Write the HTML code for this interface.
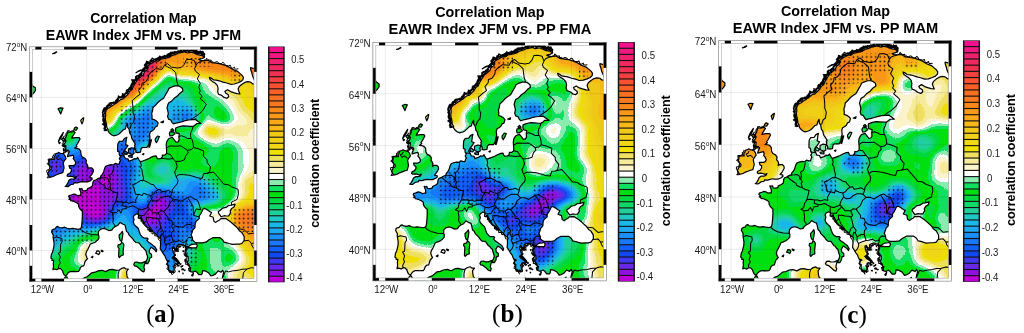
<!DOCTYPE html>
<html><head><meta charset="utf-8"><title>Correlation Maps</title><style>
    html,body{margin:0;padding:0;background:#fff;}
    svg{display:block}
    .t1{font-family:"Liberation Sans",Arial,sans-serif;font-weight:bold;font-size:14px;fill:#000}
    .t2{font-size:14.25px}
    .ax{font-family:"Liberation Sans",Arial,sans-serif;font-size:9.6px;fill:#1a1a1a}
    .deg{font-size:6.5px}
    .cb{font-family:"Liberation Sans",Arial,sans-serif;font-size:9.4px;fill:#1a1a1a}
    .cbl{font-family:"Liberation Sans",Arial,sans-serif;font-weight:bold;font-size:12.35px;fill:#000}
    .pl{font-family:"Liberation Serif","Times New Roman",serif;font-size:24.5px;fill:#000}
    </style></head>
<body><svg width="1024" height="333" viewBox="0 0 1024 333">
<defs><clipPath id="mapclip"><rect x="29.6" y="47" width="227" height="234.4"/></clipPath><clipPath id="landclip"><path d="M66.6,275.1 L65.6,275.9 L64.1,274.7 L63.0,272.5 L62.6,270.9 L60.7,268.7 L58.8,268.6 L56.9,269.8 L54.3,269.0 L52.9,269.6 L53.5,266.4 L53.3,263.3 L53.7,260.4 L52.0,260.4 L52.0,258.8 L50.9,258.3 L51.2,256.2 L51.4,254.5 L52.6,252.1 L53.2,249.5 L53.9,246.7 L54.1,243.2 L53.5,239.7 L53.1,237.1 L53.3,235.2 L52.6,233.9 L51.6,232.0 L52.0,230.1 L53.1,229.4 L55.0,228.9 L56.5,226.9 L57.7,226.4 L59.2,227.5 L62.2,227.9 L64.7,227.2 L67.1,228.3 L69.8,228.8 L72.4,228.4 L74.3,228.7 L75.8,228.8 L78.1,229.3 L80.0,228.9 L81.1,228.0 L81.7,225.0 L82.1,220.8 L82.4,215.4 L82.3,212.9 L82.4,211.3 L80.0,209.0 L78.7,206.8 L78.5,204.2 L76.6,202.7 L73.9,201.4 L70.9,200.7 L70.2,199.8 L68.9,199.2 L70.5,198.8 L69.4,197.5 L68.7,196.9 L69.0,195.6 L71.3,195.0 L73.6,194.0 L75.5,194.4 L77.3,195.6 L79.2,195.3 L80.9,195.3 L80.7,191.8 L79.8,189.9 L79.4,188.5 L80.7,188.9 L82.0,188.6 L82.6,190.5 L84.9,190.8 L87.2,190.2 L87.6,188.6 L90.6,187.2 L92.5,185.7 L92.9,182.2 L93.8,180.6 L95.7,180.0 L98.5,178.3 L100.4,177.8 L100.8,175.9 L102.3,174.3 L103.6,172.0 L104.4,169.2 L104.8,167.9 L105.7,166.3 L108.0,165.3 L111.0,164.7 L113.3,165.0 L115.2,163.4 L117.4,164.1 L119.1,164.1 L119.7,161.9 L120.5,160.5 L119.3,158.6 L120.5,156.7 L119.3,154.8 L119.1,151.9 L117.6,151.3 L117.6,147.8 L117.8,144.0 L119.3,141.4 L122.7,141.1 L124.4,138.5 L126.9,137.3 L126.3,139.2 L126.0,142.4 L125.6,144.6 L128.0,145.5 L126.7,147.5 L125.4,149.4 L124.1,150.7 L123.5,151.9 L122.7,153.8 L123.9,155.4 L124.6,157.0 L125.4,158.6 L128.0,158.9 L128.8,161.2 L130.7,160.5 L132.6,159.9 L134.1,158.6 L136.4,158.9 L137.7,157.4 L138.6,159.3 L139.8,161.2 L141.3,161.5 L144.7,160.2 L148.1,158.9 L150.7,157.4 L154.1,156.1 L156.2,155.9 L157.0,158.0 L157.9,158.9 L160.6,158.6 L162.3,157.0 L162.3,155.1 L164.7,155.1 L166.6,153.5 L166.6,150.0 L166.4,147.8 L166.2,145.2 L166.6,142.0 L167.9,139.8 L168.9,138.5 L172.3,137.3 L174.2,139.8 L176.1,142.2 L178.0,141.8 L179.1,140.1 L178.9,136.6 L179.3,133.7 L176.1,132.8 L175.5,130.6 L175.7,128.0 L178.3,127.0 L180.4,126.4 L183.3,125.8 L187.0,126.1 L190.8,126.4 L193.1,126.4 L195.4,124.8 L196.9,123.5 L201.0,123.5 L198.8,121.9 L195.4,119.4 L192.0,119.7 L188.6,120.0 L185.2,120.7 L181.4,121.8 L178.3,122.6 L175.7,123.2 L173.4,123.9 L171.9,122.3 L170.8,120.0 L168.5,119.1 L167.6,116.5 L168.3,113.3 L167.6,110.1 L167.0,107.9 L167.8,105.0 L168.5,103.1 L171.5,101.2 L174.2,98.3 L177.6,95.8 L179.9,93.2 L182.9,91.0 L182.5,88.4 L179.9,86.5 L178.2,85.9 L174.9,85.9 L171.2,87.2 L168.9,88.4 L167.8,91.0 L166.6,92.9 L165.5,94.8 L163.6,98.3 L160.6,100.3 L157.9,102.5 L156.0,104.7 L153.0,107.6 L152.6,110.8 L151.7,113.3 L152.1,116.5 L151.9,118.8 L154.5,119.7 L156.8,121.3 L158.1,122.9 L157.2,126.1 L155.3,127.0 L154.1,129.3 L152.2,130.9 L150.4,131.8 L149.6,134.4 L150.0,138.2 L149.2,140.8 L148.8,144.3 L146.9,147.5 L144.7,147.5 L142.4,147.5 L141.1,148.7 L140.5,152.2 L137.5,152.6 L135.6,152.2 L136.0,151.0 L135.6,149.4 L134.5,147.8 L135.0,146.8 L134.5,145.2 L135.4,144.3 L133.7,141.4 L132.2,139.2 L131.6,137.6 L131.1,135.0 L129.7,133.1 L129.2,129.9 L128.8,128.6 L127.7,127.4 L127.5,123.5 L126.1,126.1 L125.4,129.0 L123.5,129.6 L121.6,131.5 L119.3,133.7 L117.1,135.0 L113.7,135.8 L111.8,135.0 L109.5,133.1 L108.0,130.9 L108.0,129.3 L106.8,127.4 L106.5,124.8 L106.1,122.3 L105.5,120.3 L105.3,117.8 L105.7,115.2 L105.5,112.7 L106.1,110.5 L107.2,108.9 L109.9,107.3 L112.5,105.4 L114.8,104.1 L116.1,103.1 L118.6,101.2 L120.5,99.6 L123.5,98.7 L125.4,96.7 L128.0,94.2 L129.5,91.6 L132.2,89.1 L133.3,86.5 L134.8,84.0 L136.4,81.4 L137.9,78.9 L140.5,77.0 L141.3,76.3 L143.5,74.4 L144.3,71.9 L146.9,69.9 L148.1,68.0 L147.3,66.1 L150.0,64.2 L153.0,62.3 L156.0,60.7 L158.3,61.0 L160.9,59.1 L164.0,58.5 L167.0,57.8 L170.0,56.9 L172.3,55.3 L176.1,54.3 L178.7,53.0 L182.1,52.4 L184.4,51.8 L187.8,53.0 L191.2,52.1 L193.9,53.0 L197.6,54.6 L201.4,55.3 L204.5,56.9 L202.2,58.5 L198.8,59.4 L200.7,60.4 L204.1,60.7 L207.9,60.1 L211.6,62.6 L216.2,63.2 L220.3,63.9 L224.9,65.2 L229.0,67.1 L232.4,69.3 L235.9,70.6 L237.4,71.2 L239.6,73.1 L241.9,75.1 L243.4,77.3 L243.0,79.5 L241.1,81.4 L238.1,82.7 L234.3,84.0 L230.6,84.3 L226.8,83.0 L223.0,82.1 L219.2,80.8 L216.2,80.2 L213.5,79.8 L211.3,78.2 L209.4,77.3 L210.1,79.5 L212.4,81.4 L214.7,82.7 L217.3,85.3 L218.1,88.4 L217.7,91.6 L218.4,94.2 L221.1,95.1 L224.1,97.4 L226.8,98.3 L228.7,96.7 L228.3,94.8 L225.6,92.9 L224.9,91.3 L227.5,89.7 L230.6,91.6 L233.6,92.6 L237.0,93.6 L240.0,93.9 L238.9,91.6 L238.1,89.1 L239.3,86.5 L241.9,84.3 L244.9,82.4 L247.6,81.7 L250.6,82.1 L252.9,84.0 L254.4,84.0 L255.1,81.4 L253.6,78.2 L252.5,75.7 L251.7,72.5 L250.6,69.3 L250.6,67.7 L253.3,68.4 L259.3,69.0 L259.3,288.8 L222.6,288.8 L222.6,282.4 L222.1,279.1 L222.6,276.7 L223.7,272.2 L222.6,270.3 L221.1,272.2 L218.1,270.9 L215.4,274.1 L212.8,275.4 L210.9,276.0 L208.6,272.8 L205.2,270.9 L202.6,270.6 L202.2,273.5 L201.4,274.7 L198.8,274.7 L196.9,272.2 L195.0,270.9 L192.7,272.2 L190.5,271.6 L190.1,269.6 L190.8,267.7 L189.7,267.1 L188.9,264.5 L186.7,262.0 L188.2,260.7 L188.2,258.8 L188.2,256.9 L186.7,255.0 L185.5,253.7 L185.9,251.1 L186.7,249.5 L185.9,250.2 L187.0,247.6 L188.2,246.7 L185.9,246.4 L185.2,245.7 L183.3,245.1 L181.4,244.4 L179.1,244.8 L176.8,246.0 L176.8,248.6 L178.7,249.2 L176.5,249.5 L177.2,250.8 L175.1,250.8 L174.9,248.9 L173.4,246.7 L172.3,247.6 L172.7,250.5 L173.6,253.1 L174.8,255.0 L173.4,256.6 L172.1,257.5 L173.8,259.4 L176.1,261.0 L177.8,262.3 L177.8,265.2 L175.9,263.6 L174.4,264.2 L174.6,265.8 L173.2,266.1 L174.2,268.7 L173.6,273.1 L172.1,270.9 L171.5,273.1 L170.4,270.6 L168.9,270.9 L168.5,267.7 L168.7,265.5 L166.8,264.2 L167.8,262.0 L169.3,261.0 L166.6,260.1 L165.5,257.5 L165.1,256.2 L163.2,253.7 L162.5,252.4 L160.2,248.6 L160.4,246.7 L160.6,244.1 L160.4,242.2 L160.9,239.0 L159.1,237.7 L156.8,235.2 L155.3,233.6 L152.6,231.4 L149.2,228.2 L146.9,226.9 L144.7,224.3 L143.2,221.2 L141.7,218.6 L141.3,216.7 L139.8,218.6 L138.2,218.0 L138.6,214.8 L136.7,213.8 L134.1,215.4 L133.3,217.3 L134.1,219.2 L133.3,221.8 L134.1,224.3 L136.0,226.3 L138.2,228.2 L139.4,232.0 L140.5,234.9 L142.4,237.1 L144.1,238.1 L147.3,238.1 L148.1,239.0 L146.9,240.3 L148.5,242.2 L150.7,243.5 L153.0,245.4 L154.9,246.7 L156.8,249.9 L156.2,251.8 L154.9,249.9 L153.0,248.6 L151.1,247.3 L149.2,250.5 L149.6,253.1 L151.5,254.3 L151.7,257.2 L149.6,258.2 L149.4,260.7 L147.7,263.6 L146.0,263.6 L146.0,261.7 L146.9,259.8 L147.7,257.2 L146.6,253.7 L145.8,250.5 L144.3,249.2 L143.2,247.6 L141.7,246.7 L140.9,245.4 L139.0,242.8 L136.0,242.5 L134.1,240.9 L133.0,239.0 L131.1,237.1 L129.2,235.2 L128.0,232.6 L126.5,231.4 L125.8,228.2 L125.0,225.0 L123.1,224.3 L120.1,222.4 L117.8,225.3 L115.2,226.6 L113.3,227.9 L111.8,230.1 L109.1,230.7 L106.8,229.4 L105.0,228.8 L103.1,228.5 L100.4,229.4 L98.5,231.4 L98.3,234.6 L98.9,235.8 L98.9,238.4 L97.4,240.3 L95.1,242.2 L92.5,243.2 L90.2,244.1 L89.4,246.0 L87.9,249.2 L86.4,251.8 L85.7,254.3 L86.8,257.5 L87.6,258.5 L85.3,261.0 L84.5,263.3 L83.8,265.8 L81.9,266.1 L80.4,267.7 L79.4,270.3 L78.5,271.4 L75.8,271.6 L73.6,271.4 L70.2,271.6 L67.9,273.1Z M62.2,288.8 L63.0,282.4 L64.1,279.2 L64.9,277.3 L66.8,276.7 L68.6,280.5 L71.7,281.1 L75.5,280.8 L78.5,281.8 L81.1,280.5 L84.5,277.6 L87.2,276.7 L91.7,272.8 L95.1,272.2 L98.1,270.9 L101.9,270.3 L105.7,271.6 L109.5,269.6 L112.5,269.3 L116.3,270.3 L119.3,270.0 L121.6,268.4 L124.3,267.7 L125.8,269.0 L128.4,269.0 L126.5,271.6 L126.9,275.4 L127.3,277.3 L128.4,278.6 L128.8,281.1 L128.0,283.0 L127.7,288.8Z M65.2,186.4 L67.9,186.7 L70.9,184.5 L73.6,184.1 L74.3,182.6 L77.3,182.9 L79.6,182.2 L81.9,181.6 L83.8,181.9 L87.6,181.9 L90.6,180.6 L92.1,179.4 L92.1,178.1 L89.4,177.4 L90.2,176.5 L91.7,174.6 L93.4,171.4 L93.2,169.5 L91.7,167.9 L88.7,167.9 L87.6,168.8 L87.9,166.3 L87.2,164.4 L86.0,163.1 L86.4,160.5 L84.9,158.3 L82.3,157.0 L81.1,154.8 L80.7,151.0 L79.2,149.1 L77.0,148.4 L74.7,148.1 L77.0,146.5 L76.2,145.5 L77.7,143.3 L78.9,141.1 L80.0,138.9 L79.2,137.6 L75.5,137.6 L71.7,138.2 L72.4,136.6 L75.1,132.5 L73.9,131.5 L70.2,132.2 L67.9,131.8 L66.8,134.4 L66.4,136.3 L64.9,138.5 L66.0,140.8 L64.9,143.3 L63.3,144.0 L66.0,145.9 L65.6,149.1 L65.0,152.6 L66.2,150.0 L68.3,150.3 L69.4,151.6 L67.9,154.8 L67.5,156.7 L70.2,155.8 L73.2,155.1 L73.9,157.4 L73.2,158.6 L74.7,160.5 L75.8,162.8 L75.1,164.7 L73.2,165.6 L70.9,165.6 L69.0,165.6 L69.8,168.2 L71.3,168.8 L71.3,171.1 L69.8,173.3 L67.5,174.3 L67.1,175.9 L68.3,176.5 L70.5,176.2 L72.4,176.5 L74.7,177.4 L76.6,176.5 L75.5,178.4 L73.6,179.0 L70.9,179.0 L69.0,180.3 L67.9,182.9 L66.4,185.4Z M62.8,172.7 L60.3,173.3 L58.0,174.3 L55.4,175.2 L53.1,176.5 L49.7,177.4 L48.2,174.9 L47.8,173.3 L49.3,170.1 L50.9,169.5 L51.2,167.6 L49.3,165.6 L48.6,163.7 L49.3,161.2 L49.0,159.6 L52.0,159.3 L54.3,159.3 L53.9,157.0 L55.0,155.8 L55.4,153.8 L57.7,153.2 L58.8,152.4 L60.7,153.5 L63.3,153.5 L65.2,156.1 L66.0,158.6 L64.1,161.2 L63.2,163.1 L63.7,165.6 L64.1,167.9 L63.3,170.8Z M26.3,97.4 L30.1,96.1 L31.9,94.8 L33.8,92.9 L35.5,90.4 L35.4,87.8 L32.7,85.9 L31.6,83.7 L30.1,82.1 L26.3,81.4Z M52.6,53.7 L54.3,53.0 L56.5,51.8 L56.7,52.1 L54.6,53.4Z M58.0,108.9 L60.3,107.9 L63.0,108.2 L61.8,110.8 L60.7,114.0 L59.2,110.8Z M81.9,123.9 L83.0,121.6 L83.8,117.8 L82.6,118.4 L80.7,120.3 L81.5,122.9Z M73.9,129.9 L76.2,130.2 L77.7,128.0 L75.8,127.0 L74.3,128.3Z M58.4,141.4 L59.6,138.2 L60.7,136.3 L63.3,132.5 L62.2,135.7 L59.9,139.5Z M61.5,139.2 L63.3,137.6 L65.2,140.4 L63.3,141.1Z M95.7,253.4 L97.0,250.8 L98.9,251.1 L99.9,252.4 L98.9,254.6 L97.2,253.7Z M101.2,250.2 L103.1,251.1 L102.7,251.8 L101.4,251.1Z M91.3,257.2 L92.9,256.2 L92.5,257.8Z M122.4,231.4 L122.9,233.9 L122.4,237.7 L121.6,241.6 L120.1,240.3 L119.3,237.7 L119.1,235.2 L120.8,233.3Z M122.7,242.8 L123.9,244.8 L123.5,247.9 L123.1,251.1 L123.3,255.0 L121.2,255.6 L119.3,257.5 L118.6,256.2 L118.8,252.4 L119.0,248.6 L117.8,246.7 L118.2,244.8 L120.5,244.4 L121.6,242.5Z M133.7,264.5 L134.8,262.3 L137.1,262.0 L139.0,262.9 L142.0,262.9 L145.6,261.3 L144.3,265.2 L143.9,267.7 L144.7,269.6 L143.9,271.9 L141.7,270.9 L139.8,269.0 L136.7,266.4 L134.5,265.8Z M175.7,280.5 L177.6,278.9 L179.5,279.8 L183.3,280.2 L186.3,280.8 L185.9,282.4 L183.3,282.7 L180.6,282.7 L177.6,281.1 L175.7,281.1Z M209.0,282.4 L211.3,281.4 L213.5,280.2 L215.8,279.5 L217.7,277.9 L215.4,282.4 L213.9,282.7 L211.6,285.0 L209.4,284.0Z M191.6,275.4 L193.5,273.1 L192.7,276.0Z M173.8,257.2 L174.9,258.8 L177.6,261.0 L179.7,263.3 L178.3,261.0 L176.1,258.5 L174.2,256.9Z M184.6,255.0 L186.3,254.3 L187.4,256.6 L185.5,256.2Z M184.8,259.8 L185.7,259.4 L185.2,262.0Z M187.4,264.5 L188.9,264.9 L188.2,265.5Z M155.3,138.9 L157.5,136.0 L159.4,136.6 L157.9,140.1 L156.4,142.7 L155.3,140.8Z M148.8,147.1 L149.6,147.1 L151.5,139.8 L150.4,140.1Z M169.3,133.7 L170.0,131.8 L173.8,131.8 L174.9,133.7 L172.3,135.7 L170.0,136.0Z M170.8,129.9 L172.3,128.6 L173.8,130.2 L171.5,131.2Z M128.4,152.2 L129.2,153.5 L132.2,154.8 L134.1,153.5 L133.7,151.0 L134.5,148.4 L131.4,147.8 L128.4,149.1Z M123.7,151.6 L125.4,151.0 L127.7,152.9 L126.9,154.5 L124.6,154.2Z M128.4,155.8 L132.2,155.1 L132.2,157.4 L129.2,157.0Z M142.4,154.2 L143.9,153.5 L143.5,154.8Z M136.0,72.8 L139.8,70.3 L145.4,69.0 L146.6,67.4 L142.0,69.9 L138.2,71.5Z M160.9,122.3 L163.6,121.0 L163.2,122.6Z M182.7,268.7 L183.5,269.0 L183.3,270.0 L182.7,269.6Z M181.8,269.0 L182.3,269.0 L182.1,269.8Z M180.8,266.8 L181.2,266.4 L181.2,267.2Z M182.7,273.1 L183.1,273.1 L183.0,273.8Z M178.7,265.5 L179.1,265.2 L179.0,265.9Z M188.6,268.4 L189.1,268.7 L188.8,269.3Z M188.9,270.6 L190.3,270.3 L189.7,271.2Z M178.7,271.2 L179.5,271.0 L179.3,271.9Z M184.4,270.0 L185.2,270.2 L184.8,270.6Z M182.1,265.8 L182.9,265.5 L182.5,266.4Z M179.9,263.6 L181.0,263.9 L180.4,264.5Z M185.2,260.7 L185.5,261.0 L185.3,261.7Z M182.9,251.1 L183.6,250.8 L183.3,251.8Z M179.9,246.0 L180.4,246.4 L180.1,247.0Z M148.8,229.4 L150.7,229.8 L149.6,230.4Z M149.2,230.7 L151.9,231.0 L150.4,231.7Z M142.8,221.2 L144.3,223.1 L143.5,223.7Z M141.3,218.6 L142.0,219.9 L141.1,221.2Z M62.2,145.2 L64.1,144.6 L64.9,146.2 L63.0,146.5Z M63.3,149.1 L64.1,148.7 L63.7,151.0Z M60.3,142.7 L58.8,142.0 L59.2,143.6Z"/></clipPath><filter id="cm" x="-5%" y="-5%" width="110%" height="110%" color-interpolation-filters="sRGB"><feGaussianBlur stdDeviation="3.60"/><feComponentTransfer><feFuncR type="discrete" tableValues="0.753 0.565 0.408 0.251 0.063 0.063 0.094 0.094 0.125 0.094 0.125 0.125 0.063 0 0 0.063 0.549 1 0.984 0.961 0.941 0.941 0.941 0.941 0.941 0.973 0.973 0.973 0.973 0.973 0.973 0.973 0.973 0.941 0.941 0.941 0.941 0.941 0.941"/><feFuncG type="discrete" tableValues="0 0.063 0.157 0.22 0.282 0.376 0.471 0.565 0.659 0.722 0.784 0.816 0.847 0.847 0.878 0.878 0.925 1 0.953 0.922 0.878 0.878 0.847 0.816 0.784 0.722 0.659 0.596 0.533 0.471 0.439 0.376 0.314 0.251 0.188 0.157 0.125 0.094 0.063"/><feFuncB type="discrete" tableValues="0.847 0.878 0.91 0.941 0.941 0.973 0.973 0.973 0.941 0.91 0.769 0.596 0.408 0.251 0.063 0.376 0.69 1 0.8 0.604 0.376 0 0.094 0.094 0.094 0.094 0.094 0.094 0.094 0.125 0.125 0.157 0.188 0.251 0.314 0.376 0.439 0.502 0.549"/><feFuncA type="linear" slope="0" intercept="1"/></feComponentTransfer><feGaussianBlur stdDeviation="0.45"/></filter><pattern id="dotpat" patternUnits="userSpaceOnUse" x="80.422" y="190.435" width="4.355" height="4.33"><circle cx="2.1775" cy="2.165" r="0.78" fill="#000"/></pattern></defs>
<g transform="matrix(1.0 0 0 1.0 0.000 0.000)">
<text transform="translate(143.4,23.4) scale(1,1.04)" text-anchor="middle" class="t1">Correlation Map</text>
<text transform="translate(143.4,40.2) scale(1,1.06)" text-anchor="middle" class="t1 t2">EAWR Index JFM vs. PP JFM</text>
<g clip-path="url(#mapclip)">
<g clip-path="url(#landclip)">
<g filter="url(#cm)"><path fill="#000000" d="M88 206h5v5h-5zM88 211h10v5h-10zM148 211h5v5h-5z"/><path fill="#010101" d="M88 191h5v5h-5zM78 201h5v5h-5zM88 201h5v5h-5zM158 201h5v5h-5zM83 206h5v5h-5zM93 216h5v5h-5z"/><path fill="#020202" d="M103 176h5v5h-5zM83 191h5v5h-5zM93 191h5v5h-5zM78 196h5v5h-5zM88 196h5v5h-5zM83 201h5v5h-5zM153 206h5v5h-5zM143 211h5v5h-5zM148 216h5v5h-5z"/><path fill="#030303" d="M88 186h5v5h-5zM78 191h5v5h-5zM73 196h5v5h-5zM83 196h5v5h-5zM93 196h5v5h-5zM73 201h5v5h-5zM93 201h5v5h-5zM98 211h5v5h-5zM153 211h5v5h-5z"/><path fill="#040404" d="M108 176h5v5h-5zM103 181h5v5h-5zM83 186h5v5h-5zM93 186h5v5h-5zM153 201h5v5h-5zM93 206h5v5h-5zM148 206h5v5h-5zM143 216h5v5h-5z"/><path fill="#050505" d="M158 196h5v5h-5zM98 206h5v5h-5zM98 216h5v5h-5z"/><path fill="#060606" d="M103 171h5v5h-5zM108 181h5v5h-5zM73 191h5v5h-5zM98 191h5v5h-5zM78 206h5v5h-5zM158 206h5v5h-5zM83 211h5v5h-5z"/><path fill="#070707" d="M108 171h5v5h-5zM98 176h5v5h-5zM98 181h5v5h-5zM98 186h5v5h-5zM98 196h5v5h-5zM68 201h5v5h-5zM98 201h5v5h-5zM163 201h5v5h-5zM88 216h5v5h-5zM153 216h5v5h-5z"/><path fill="#080808" d="M78 171h10v5h-10zM83 181h15v5h-15zM78 186h5v5h-5zM103 206h5v5h-5z"/><path fill="#090909" d="M113 176h5v5h-5zM103 186h5v5h-5zM68 196h5v5h-5zM103 201h5v5h-5zM103 211h5v5h-5z"/><path fill="#0a0a0a" d="M53 161h5v5h-5zM78 166h10v5h-10zM98 171h5v5h-5zM83 176h10v5h-10zM103 191h5v5h-5zM103 196h5v5h-5zM153 196h5v5h-5zM68 206h5v5h-5zM158 211h5v5h-5z"/><path fill="#0b0b0b" d="M53 166h5v5h-5zM93 176h5v5h-5zM113 181h5v5h-5zM68 191h5v5h-5zM108 196h5v5h-5zM163 196h5v5h-5zM73 206h5v5h-5z"/><path fill="#0c0c0c" d="M103 166h10v5h-10zM88 171h5v5h-5zM108 186h5v5h-5zM108 191h5v5h-5zM148 221h5v5h-5z"/><path fill="#0d0d0d" d="M103 151h5v5h-5zM113 171h5v5h-5zM78 176h5v5h-5zM73 186h5v5h-5zM113 196h5v5h-5zM63 206h5v5h-5zM158 216h5v5h-5zM153 221h5v5h-5z"/><path fill="#0e0e0e" d="M78 181h5v5h-5zM118 191h5v5h-5zM108 201h5v5h-5zM163 206h5v5h-5zM103 216h5v5h-5z"/><path fill="#0f0f0f" d="M88 166h5v5h-5zM98 166h5v5h-5zM93 171h5v5h-5zM113 191h5v5h-5zM53 196h5v5h-5zM63 201h5v5h-5zM143 221h5v5h-5z"/><path fill="#101010" d="M83 161h5v5h-5zM73 171h5v5h-5zM113 186h5v5h-5zM143 206h5v5h-5zM138 211h5v5h-5z"/><path fill="#111111" d="M73 166h5v5h-5zM113 166h5v5h-5zM58 196h10v5h-10zM78 211h5v5h-5zM83 216h5v5h-5zM138 216h5v5h-5zM158 221h5v5h-5z"/><path fill="#121212" d="M53 156h5v5h-5zM88 161h5v5h-5zM108 161h5v5h-5zM93 166h5v5h-5zM118 186h5v5h-5zM118 196h5v5h-5zM168 201h5v5h-5z"/><path fill="#131313" d="M108 156h5v5h-5zM118 176h5v5h-5zM118 181h5v5h-5zM68 186h5v5h-5zM63 191h5v5h-5zM163 211h5v5h-5zM153 226h5v5h-5z"/><path fill="#141414" d="M78 161h5v5h-5zM93 161h10v5h-10zM113 161h5v5h-5zM153 191h5v5h-5zM53 201h10v5h-10z"/><path fill="#151515" d="M98 151h5v5h-5zM108 151h5v5h-5zM98 156h10v5h-10zM58 161h5v5h-5zM48 166h5v5h-5zM53 171h5v5h-5zM73 181h5v5h-5zM123 191h5v5h-5zM158 191h5v5h-5z"/><path fill="#161616" d="M48 161h5v5h-5zM103 161h5v5h-5zM118 171h5v5h-5zM108 206h5v5h-5zM63 211h5v5h-5zM163 216h5v5h-5zM148 226h5v5h-5zM158 226h5v5h-5z"/><path fill="#171717" d="M58 166h5v5h-5zM73 176h5v5h-5zM123 186h5v5h-5zM168 196h5v5h-5zM113 201h5v5h-5zM148 201h5v5h-5zM168 206h5v5h-5zM88 221h5v5h-5z"/><path fill="#181818" d="M58 156h5v5h-5zM118 166h5v5h-5zM138 206h5v5h-5zM68 211h5v5h-5zM93 221h5v5h-5z"/><path fill="#191919" d="M113 156h5v5h-5zM73 211h5v5h-5zM163 221h5v5h-5z"/><path fill="#1a1a1a" d="M88 156h10v5h-10zM63 186h5v5h-5zM123 196h5v5h-5zM173 201h5v5h-5zM188 221h10v5h-10z"/><path fill="#1b1b1b" d="M83 156h5v5h-5zM118 161h5v5h-5zM58 171h5v5h-5zM123 181h5v5h-5zM58 191h5v5h-5zM58 206h5v5h-5zM178 206h5v5h-5zM108 211h5v5h-5zM188 216h5v5h-5z"/><path fill="#1c1c1c" d="M48 171h5v5h-5zM163 191h5v5h-5zM173 206h5v5h-5zM168 211h5v5h-5zM183 211h5v5h-5zM98 221h5v5h-5zM138 221h5v5h-5zM153 231h10v5h-10z"/><path fill="#1d1d1d" d="M48 156h5v5h-5zM68 166h5v5h-5zM68 171h5v5h-5zM68 181h5v5h-5zM118 201h5v5h-5zM183 206h5v5h-5zM163 226h5v5h-5zM158 236h10v5h-10zM163 241h5v5h-5z"/><path fill="#1e1e1e" d="M118 156h5v5h-5zM73 161h5v5h-5zM123 166h5v5h-5zM123 171h5v5h-5zM123 176h5v5h-5zM53 191h5v5h-5zM178 201h5v5h-5zM178 211h5v5h-5zM78 216h5v5h-5zM108 216h5v5h-5zM168 216h5v5h-5zM83 221h5v5h-5zM143 226h5v5h-5zM163 231h5v5h-5zM158 241h5v5h-5z"/><path fill="#1f1f1f" d="M68 176h5v5h-5zM168 221h5v5h-5zM168 236h5v5h-5zM158 246h5v5h-5z"/><path fill="#202020" d="M103 146h5v5h-5zM78 156h5v5h-5zM128 166h5v5h-5zM173 211h5v5h-5zM168 226h5v5h-5zM188 226h5v5h-5zM168 231h5v5h-5zM168 241h5v5h-5zM163 246h5v5h-5z"/><path fill="#212121" d="M53 176h5v5h-5zM48 196h5v5h-5zM183 201h5v5h-5zM133 216h5v5h-5zM183 216h5v5h-5z"/><path fill="#222222" d="M108 146h5v5h-5zM68 161h5v5h-5zM123 161h5v5h-5zM18 186h30v5h-30zM58 186h5v5h-5zM128 196h5v5h-5zM173 196h5v5h-5zM133 211h5v5h-5zM193 226h5v5h-5zM148 231h5v5h-5zM153 236h5v5h-5z"/><path fill="#232323" d="M183 116h5v5h-5zM123 146h5v5h-5zM53 151h10v5h-10zM123 151h5v5h-5zM63 161h5v5h-5zM28 166h5v5h-5zM28 171h5v5h-5zM128 171h5v5h-5zM48 176h5v5h-5zM58 176h5v5h-5zM18 181h30v5h-30zM63 181h5v5h-5zM123 201h5v5h-5zM58 211h5v5h-5zM173 231h5v5h-5zM173 236h5v5h-5zM153 241h5v5h-5zM153 246h5v5h-5z"/><path fill="#242424" d="M118 151h5v5h-5zM128 161h5v5h-5zM18 166h10v5h-10zM33 166h5v5h-5zM43 166h5v5h-5zM63 166h5v5h-5zM18 171h10v5h-10zM33 171h5v5h-5zM18 176h30v5h-30zM193 196h5v5h-5zM173 216h5v5h-5zM103 221h5v5h-5zM173 226h5v5h-5z"/><path fill="#252525" d="M53 141h5v5h-5zM123 141h5v5h-5zM128 146h5v5h-5zM83 151h5v5h-5zM93 151h5v5h-5zM113 151h5v5h-5zM63 156h5v5h-5zM123 156h5v5h-5zM43 171h5v5h-5zM63 176h5v5h-5zM178 196h5v5h-5zM188 196h5v5h-5zM128 201h5v5h-5zM133 206h5v5h-5zM173 221h5v5h-5zM168 246h5v5h-5z"/><path fill="#262626" d="M128 141h5v5h-5zM88 151h5v5h-5zM128 151h5v5h-5zM28 161h5v5h-5zM38 171h5v5h-5zM63 171h5v5h-5zM48 181h5v5h-5zM48 186h5v5h-5zM48 191h5v5h-5zM128 191h5v5h-5zM193 191h5v5h-5zM183 196h5v5h-5zM178 216h5v5h-5zM183 221h5v5h-5zM173 241h5v5h-5z"/><path fill="#272727" d="M73 156h5v5h-5zM128 156h5v5h-5zM18 161h10v5h-10zM33 161h5v5h-5zM43 161h5v5h-5zM38 166h5v5h-5zM58 181h5v5h-5zM53 186h5v5h-5zM18 191h20v5h-20zM198 191h5v5h-5zM148 196h5v5h-5zM198 196h5v5h-5zM48 201h5v5h-5zM133 201h5v5h-5zM53 206h5v5h-5zM63 216h5v5h-5zM163 251h5v5h-5z"/><path fill="#282828" d="M183 111h5v5h-5zM188 116h5v5h-5zM48 141h5v5h-5zM93 141h5v5h-5zM78 151h5v5h-5zM53 181h5v5h-5zM38 191h10v5h-10zM148 191h5v5h-5zM168 191h5v5h-5zM113 206h5v5h-5zM68 216h10v5h-10zM78 221h5v5h-5zM188 231h5v5h-5zM178 236h5v5h-5z"/><path fill="#292929" d="M128 116h5v5h-5zM178 116h5v5h-5zM138 121h5v5h-5zM143 131h5v5h-5zM138 136h5v5h-5zM118 141h5v5h-5zM118 146h5v5h-5zM48 151h5v5h-5zM63 151h5v5h-5zM68 156h5v5h-5zM133 166h5v5h-5zM128 176h5v5h-5zM128 181h5v5h-5zM188 211h5v5h-5zM53 221h5v5h-5zM178 221h5v5h-5zM53 226h5v5h-5zM178 231h5v5h-5zM163 256h5v5h-5zM163 261h5v5h-5z"/><path fill="#2a2a2a" d="M133 116h15v5h-15zM143 121h5v5h-5zM143 126h5v5h-5zM133 136h5v5h-5zM193 181h5v5h-5zM128 186h5v5h-5zM193 186h5v5h-5zM203 196h5v5h-5zM58 216h5v5h-5zM193 216h5v5h-5zM58 221h5v5h-5zM58 226h5v5h-5zM178 226h10v5h-10z"/><path fill="#2b2b2b" d="M143 111h5v5h-5zM133 121h5v5h-5zM138 126h5v5h-5zM138 131h5v5h-5zM48 136h5v5h-5zM143 136h5v5h-5zM88 141h5v5h-5zM133 141h5v5h-5zM53 146h5v5h-5zM38 161h5v5h-5zM198 186h5v5h-5zM133 221h5v5h-5zM183 231h5v5h-5z"/><path fill="#2c2c2c" d="M148 116h5v5h-5zM128 136h5v5h-5zM88 146h10v5h-10zM73 151h5v5h-5zM28 156h5v5h-5zM133 171h5v5h-5zM203 191h5v5h-5zM128 206h5v5h-5zM53 216h5v5h-5zM48 226h5v5h-5zM53 231h5v5h-5zM143 231h5v5h-5zM178 241h5v5h-5zM168 251h5v5h-5zM168 256h5v5h-5zM168 261h5v5h-5zM163 266h5v5h-5z"/><path fill="#2d2d2d" d="M148 111h5v5h-5zM173 116h5v5h-5zM28 121h5v5h-5zM128 121h5v5h-5zM148 121h5v5h-5zM48 146h5v5h-5zM83 146h5v5h-5zM98 146h5v5h-5zM68 151h5v5h-5zM18 156h10v5h-10zM33 156h5v5h-5zM188 191h5v5h-5zM138 201h5v5h-5zM118 206h5v5h-5zM113 211h5v5h-5zM113 216h5v5h-5zM48 221h5v5h-5zM138 226h5v5h-5zM183 236h5v5h-5z"/><path fill="#2e2e2e" d="M148 126h5v5h-5zM113 146h5v5h-5zM43 156h5v5h-5zM133 161h5v5h-5zM158 186h5v5h-5zM133 196h5v5h-5zM123 206h5v5h-5zM53 211h5v5h-5zM128 216h5v5h-5zM63 221h5v5h-5zM83 226h5v5h-5zM173 246h5v5h-5zM168 266h5v5h-5z"/><path fill="#2f2f2f" d="M188 111h5v5h-5zM148 131h5v5h-5zM53 136h5v5h-5zM123 136h5v5h-5zM133 146h5v5h-5zM188 181h5v5h-5zM198 181h5v5h-5zM153 186h5v5h-5zM18 196h20v5h-20zM188 201h5v5h-5zM128 211h5v5h-5zM63 226h5v5h-5zM48 231h5v5h-5zM58 231h5v5h-5zM148 236h5v5h-5z"/><path fill="#303030" d="M178 111h5v5h-5zM33 121h5v5h-5zM123 121h5v5h-5zM133 126h5v5h-5zM38 131h10v5h-10zM133 131h5v5h-5zM43 196h5v5h-5zM208 196h5v5h-5zM48 206h5v5h-5zM48 216h5v5h-5zM73 221h5v5h-5zM23 226h15v5h-15zM158 266h5v5h-5z"/><path fill="#313131" d="M153 116h5v5h-5zM168 116h5v5h-5zM23 121h5v5h-5zM113 141h5v5h-5zM78 146h5v5h-5zM38 156h5v5h-5zM133 156h5v5h-5zM188 186h5v5h-5zM28 206h10v5h-10zM18 211h30v5h-30zM18 216h20v5h-20zM18 221h30v5h-30zM68 221h5v5h-5zM18 226h5v5h-5zM38 226h10v5h-10zM78 226h5v5h-5zM158 251h5v5h-5z"/><path fill="#323232" d="M153 121h5v5h-5zM83 141h5v5h-5zM133 151h5v5h-5zM173 191h5v5h-5zM38 196h5v5h-5zM18 201h5v5h-5zM28 201h5v5h-5zM143 201h5v5h-5zM18 206h10v5h-10zM38 206h10v5h-10zM48 211h5v5h-5zM38 216h10v5h-10zM108 221h5v5h-5zM18 231h20v5h-20zM43 231h5v5h-5zM153 266h5v5h-5z"/><path fill="#333333" d="M158 116h5v5h-5zM18 121h5v5h-5zM38 126h5v5h-5zM118 136h5v5h-5zM203 186h5v5h-5zM178 191h5v5h-5zM208 191h5v5h-5zM23 201h5v5h-5zM33 201h5v5h-5zM68 226h5v5h-5zM38 231h5v5h-5zM193 231h5v5h-5zM173 266h5v5h-5z"/><path fill="#343434" d="M143 106h10v5h-10zM138 111h5v5h-5zM153 111h5v5h-5zM28 126h5v5h-5zM138 141h5v5h-5zM28 151h5v5h-5zM173 181h5v5h-5zM183 191h5v5h-5zM43 201h5v5h-5zM73 226h5v5h-5zM48 236h10v5h-10zM148 241h5v5h-5zM178 246h5v5h-5z"/><path fill="#353535" d="M183 106h5v5h-5zM158 111h15v5h-15zM163 116h5v5h-5zM18 126h10v5h-10zM33 126h5v5h-5zM153 126h5v5h-5zM43 136h5v5h-5zM148 136h5v5h-5zM58 146h5v5h-5zM73 146h5v5h-5zM18 151h10v5h-10zM33 151h5v5h-5zM178 181h10v5h-10zM163 186h5v5h-5zM38 201h5v5h-5zM88 226h5v5h-5zM63 231h5v5h-5zM28 236h5v5h-5zM183 241h5v5h-5zM173 251h5v5h-5z"/><path fill="#363636" d="M128 131h5v5h-5zM38 136h5v5h-5zM88 136h5v5h-5zM43 151h5v5h-5zM133 176h5v5h-5zM193 176h5v5h-5zM118 211h10v5h-10zM128 221h5v5h-5zM18 236h10v5h-10zM33 236h15v5h-15zM173 261h5v5h-5zM153 271h5v5h-5z"/><path fill="#373737" d="M123 116h5v5h-5zM183 121h5v5h-5zM128 126h5v5h-5zM33 136h5v5h-5zM213 196h5v5h-5zM188 206h5v5h-5zM118 216h10v5h-10zM148 246h5v5h-5zM158 271h5v5h-5z"/><path fill="#383838" d="M173 111h5v5h-5zM193 116h5v5h-5zM158 121h5v5h-5zM33 131h5v5h-5zM18 136h15v5h-15zM18 141h15v5h-15zM28 146h5v5h-5zM38 151h5v5h-5zM188 176h5v5h-5zM193 201h5v5h-5zM138 231h5v5h-5zM173 256h5v5h-5z"/><path fill="#393939" d="M163 106h5v5h-5zM133 111h5v5h-5zM28 116h5v5h-5zM18 131h10v5h-10zM83 136h5v5h-5zM33 141h5v5h-5zM18 146h10v5h-10zM33 146h5v5h-5zM63 146h10v5h-10zM148 186h5v5h-5zM183 186h5v5h-5zM58 236h5v5h-5zM188 236h5v5h-5zM48 241h5v5h-5z"/><path fill="#3a3a3a" d="M153 106h10v5h-10zM178 106h5v5h-5zM28 131h5v5h-5zM153 131h5v5h-5zM43 141h5v5h-5zM78 141h5v5h-5zM43 146h5v5h-5zM173 186h10v5h-10zM123 221h5v5h-5zM68 231h5v5h-5zM18 241h20v5h-20zM43 241h5v5h-5zM153 251h5v5h-5z"/><path fill="#3b3b3b" d="M173 121h10v5h-10zM113 136h5v5h-5zM178 176h5v5h-5zM133 181h5v5h-5zM133 191h5v5h-5zM123 226h5v5h-5zM133 226h5v5h-5zM143 236h5v5h-5zM38 241h5v5h-5zM53 241h5v5h-5zM178 251h5v5h-5zM163 271h5v5h-5z"/><path fill="#3c3c3c" d="M33 116h5v5h-5zM188 121h5v5h-5zM43 126h5v5h-5zM48 131h5v5h-5zM123 131h5v5h-5zM38 141h5v5h-5zM143 141h5v5h-5zM38 146h5v5h-5zM173 176h5v5h-5zM183 176h5v5h-5zM203 181h5v5h-5zM168 186h5v5h-5zM128 226h5v5h-5zM183 246h5v5h-5z"/><path fill="#3d3d3d" d="M163 101h5v5h-5zM173 101h5v5h-5zM163 121h5v5h-5zM123 126h5v5h-5zM108 141h5v5h-5zM158 166h10v5h-10zM208 186h5v5h-5zM213 191h5v5h-5zM138 196h5v5h-5zM198 201h5v5h-5zM113 221h5v5h-5z"/><path fill="#3e3e3e" d="M163 96h5v5h-5zM158 101h5v5h-5zM188 106h5v5h-5zM23 116h5v5h-5zM158 126h5v5h-5zM203 201h5v5h-5zM73 231h5v5h-5zM128 231h5v5h-5zM178 256h5v5h-5zM178 266h5v5h-5z"/><path fill="#3f3f3f" d="M148 101h5v5h-5zM168 101h5v5h-5zM178 101h5v5h-5zM198 176h5v5h-5zM138 191h10v5h-10zM48 246h5v5h-5zM168 271h5v5h-5z"/><path fill="#404040" d="M163 91h5v5h-5zM168 96h10v5h-10zM153 101h5v5h-5zM183 101h5v5h-5zM168 106h5v5h-5zM128 111h5v5h-5zM38 121h5v5h-5zM168 121h5v5h-5zM153 136h5v5h-5zM93 226h10v5h-10zM78 231h5v5h-5zM63 236h5v5h-5zM138 236h5v5h-5zM53 246h5v5h-5zM183 251h5v5h-5zM178 261h5v5h-5z"/><path fill="#414141" d="M158 96h5v5h-5zM173 106h5v5h-5zM18 116h5v5h-5zM118 131h5v5h-5zM163 171h5v5h-5zM133 186h5v5h-5zM143 186h5v5h-5zM198 221h5v5h-5zM123 231h5v5h-5zM18 246h30v5h-30zM158 256h5v5h-5zM158 261h5v5h-5zM173 271h10v5h-10z"/><path fill="#424242" d="M178 96h5v5h-5zM193 111h5v5h-5zM78 136h5v5h-5zM58 141h5v5h-5zM118 221h5v5h-5zM103 226h5v5h-5zM133 231h5v5h-5z"/><path fill="#434343" d="M138 106h5v5h-5zM73 141h5v5h-5zM153 166h5v5h-5zM158 171h5v5h-5zM138 181h5v5h-5zM133 236h5v5h-5zM143 241h5v5h-5zM183 256h5v5h-5z"/><path fill="#444444" d="M158 91h5v5h-5zM138 146h5v5h-5zM198 226h5v5h-5zM128 236h5v5h-5zM58 241h5v5h-5z"/><path fill="#454545" d="M143 101h5v5h-5zM158 131h5v5h-5zM58 136h5v5h-5zM138 161h5v5h-5zM138 166h5v5h-5zM168 181h5v5h-5zM208 201h5v5h-5zM68 236h5v5h-5z"/><path fill="#464646" d="M163 86h5v5h-5zM118 121h5v5h-5zM138 176h5v5h-5zM138 186h5v5h-5zM143 196h5v5h-5zM218 196h5v5h-5zM83 231h5v5h-5zM188 241h5v5h-5z"/><path fill="#474747" d="M153 96h5v5h-5zM183 96h5v5h-5zM118 126h5v5h-5zM93 136h5v5h-5zM148 141h5v5h-5zM138 156h5v5h-5zM138 171h5v5h-5zM143 181h5v5h-5zM138 241h5v5h-5zM183 261h5v5h-5zM148 266h5v5h-5z"/><path fill="#484848" d="M168 91h5v5h-5zM193 121h5v5h-5zM163 126h5v5h-5zM113 131h5v5h-5zM133 241h5v5h-5zM143 246h5v5h-5zM188 246h5v5h-5z"/><path fill="#494949" d="M188 101h5v5h-5zM98 141h5v5h-5zM163 161h5v5h-5zM208 181h5v5h-5zM213 186h5v5h-5zM123 236h5v5h-5zM128 241h5v5h-5zM123 246h5v5h-5zM48 251h5v5h-5zM188 251h5v5h-5z"/><path fill="#4a4a4a" d="M138 151h5v5h-5zM168 176h5v5h-5zM203 176h5v5h-5zM218 191h5v5h-5zM53 251h5v5h-5zM183 276h5v5h-5zM183 281h5v5h-5zM183 286h5v5h-5z"/><path fill="#4b4b4b" d="M148 96h5v5h-5zM153 141h5v5h-5zM168 166h5v5h-5zM153 171h5v5h-5zM213 201h5v5h-5zM198 231h5v5h-5zM123 241h5v5h-5zM18 251h20v5h-20zM43 251h5v5h-5zM183 266h5v5h-5zM183 271h5v5h-5z"/><path fill="#4c4c4c" d="M168 86h5v5h-5zM178 91h5v5h-5zM83 131h5v5h-5zM108 131h5v5h-5zM158 136h5v5h-5zM193 211h5v5h-5zM73 236h5v5h-5zM63 241h5v5h-5zM58 246h5v5h-5zM128 246h5v5h-5zM38 251h5v5h-5zM148 251h5v5h-5z"/><path fill="#4d4d4d" d="M173 91h5v5h-5zM88 231h5v5h-5zM193 236h5v5h-5zM123 251h5v5h-5zM188 256h5v5h-5zM178 276h5v5h-5z"/><path fill="#4e4e4e" d="M168 81h5v5h-5zM183 91h5v5h-5zM78 131h5v5h-5zM158 161h5v5h-5zM168 171h5v5h-5zM193 171h5v5h-5zM148 181h5v5h-5zM163 181h5v5h-5zM138 246h5v5h-5z"/><path fill="#4f4f4f" d="M153 91h5v5h-5zM158 181h5v5h-5z"/><path fill="#505050" d="M158 86h5v5h-5zM188 96h5v5h-5zM193 106h5v5h-5zM38 116h5v5h-5zM163 131h5v5h-5zM73 136h5v5h-5zM68 141h5v5h-5zM188 171h5v5h-5zM143 176h5v5h-5zM153 181h5v5h-5zM108 226h5v5h-5zM118 226h5v5h-5zM133 246h5v5h-5z"/><path fill="#515151" d="M163 81h5v5h-5zM173 171h5v5h-5zM68 241h5v5h-5zM128 251h5v5h-5z"/><path fill="#525252" d="M198 116h5v5h-5zM48 126h5v5h-5zM168 126h5v5h-5zM103 141h5v5h-5zM168 161h5v5h-5zM198 171h5v5h-5zM198 216h5v5h-5zM118 246h5v5h-5zM143 251h5v5h-5zM193 251h5v5h-5zM148 271h5v5h-5zM178 286h5v5h-5z"/><path fill="#535353" d="M183 86h5v5h-5zM108 136h5v5h-5zM158 141h5v5h-5zM163 176h5v5h-5zM218 186h5v5h-5zM193 206h5v5h-5zM118 231h5v5h-5zM193 246h5v5h-5zM138 261h5v5h-5zM153 261h5v5h-5zM188 261h5v5h-5zM188 276h5v5h-5zM188 286h5v5h-5z"/><path fill="#545454" d="M168 76h5v5h-5zM173 86h10v5h-10zM73 111h5v5h-5zM118 116h5v5h-5zM178 171h5v5h-5zM213 181h5v5h-5zM223 196h5v5h-5zM118 236h5v5h-5zM118 241h5v5h-5zM48 256h5v5h-5zM148 261h5v5h-5zM178 281h5v5h-5zM188 281h5v5h-5z"/><path fill="#555555" d="M188 91h5v5h-5zM143 146h5v5h-5zM153 146h5v5h-5zM183 171h5v5h-5zM208 176h5v5h-5zM223 191h5v5h-5zM58 251h5v5h-5zM118 251h5v5h-5zM138 251h5v5h-5zM18 256h5v5h-5zM53 256h5v5h-5zM133 261h5v5h-5z"/><path fill="#565656" d="M28 61h5v5h-5zM193 101h5v5h-5zM133 106h5v5h-5zM53 131h5v5h-5zM63 141h5v5h-5zM163 156h5v5h-5zM218 201h5v5h-5zM193 241h5v5h-5zM63 246h5v5h-5zM133 251h5v5h-5zM23 256h15v5h-15zM43 256h5v5h-5zM133 266h10v5h-10zM108 271h5v5h-5zM188 271h5v5h-5z"/><path fill="#575757" d="M173 81h5v5h-5zM188 86h5v5h-5zM123 111h5v5h-5zM163 136h5v5h-5zM153 161h5v5h-5zM148 166h5v5h-5zM103 231h5v5h-5zM68 246h5v5h-5zM38 256h5v5h-5zM138 256h5v5h-5zM193 256h5v5h-5zM188 266h5v5h-5zM28 276h5v5h-5zM28 286h5v5h-5z"/><path fill="#585858" d="M143 96h5v5h-5zM28 111h5v5h-5zM68 111h5v5h-5zM113 126h5v5h-5zM168 156h5v5h-5zM158 176h5v5h-5zM78 236h5v5h-5zM73 241h5v5h-5zM133 256h5v5h-5zM38 266h5v5h-5zM18 271h20v5h-20zM18 276h10v5h-10zM33 276h5v5h-5zM153 276h15v5h-15zM23 281h15v5h-15zM218 281h5v5h-5zM23 286h5v5h-5zM33 286h5v5h-5z"/><path fill="#595959" d="M183 81h5v5h-5zM148 91h5v5h-5zM58 101h5v5h-5zM68 116h5v5h-5zM223 116h5v5h-5zM173 126h5v5h-5zM148 146h5v5h-5zM158 146h5v5h-5zM143 161h5v5h-5zM143 171h5v5h-5zM203 171h5v5h-5zM148 176h5v5h-5zM93 231h10v5h-10zM123 256h10v5h-10zM143 256h5v5h-5zM153 256h5v5h-5zM198 256h5v5h-5zM143 261h5v5h-5zM18 266h20v5h-20zM43 266h5v5h-5zM108 266h5v5h-5zM38 271h10v5h-10zM108 276h5v5h-5zM18 281h5v5h-5zM18 286h5v5h-5zM218 286h5v5h-5z"/><path fill="#5a5a5a" d="M33 61h5v5h-5zM38 71h5v5h-5zM38 76h5v5h-5zM178 81h5v5h-5zM193 96h5v5h-5zM23 111h5v5h-5zM33 111h5v5h-5zM198 111h5v5h-5zM218 116h5v5h-5zM58 131h5v5h-5zM168 131h5v5h-5zM148 171h5v5h-5zM218 181h5v5h-5zM223 186h5v5h-5zM113 226h5v5h-5zM218 231h5v5h-5zM198 236h5v5h-5zM198 251h5v5h-5zM18 261h5v5h-5zM28 261h15v5h-15zM93 271h5v5h-5zM148 276h5v5h-5zM168 276h10v5h-10z"/><path fill="#5b5b5b" d="M138 101h5v5h-5zM18 111h5v5h-5zM38 111h5v5h-5zM218 111h5v5h-5zM43 121h5v5h-5zM78 126h5v5h-5zM73 131h5v5h-5zM193 141h5v5h-5zM143 156h5v5h-5zM143 166h5v5h-5zM213 176h5v5h-5zM213 231h5v5h-5zM58 256h5v5h-5zM118 256h5v5h-5zM228 256h5v5h-5zM23 261h5v5h-5zM43 261h10v5h-10zM193 261h5v5h-5zM83 271h10v5h-10zM38 276h5v5h-5zM218 276h5v5h-5zM223 281h5v5h-5zM148 286h5v5h-5z"/><path fill="#5c5c5c" d="M23 61h5v5h-5zM188 81h5v5h-5zM73 116h5v5h-5zM73 121h5v5h-5zM178 126h5v5h-5zM168 136h5v5h-5zM163 141h5v5h-5zM183 141h10v5h-10zM158 156h5v5h-5zM153 176h5v5h-5zM228 191h5v5h-5zM213 236h5v5h-5zM73 246h5v5h-5zM53 261h5v5h-5zM113 261h5v5h-5zM198 261h5v5h-5zM48 266h5v5h-5zM113 266h5v5h-5zM73 271h10v5h-10zM88 276h5v5h-5zM143 276h5v5h-5zM38 281h5v5h-5zM38 286h5v5h-5zM108 286h5v5h-5zM223 286h5v5h-5z"/><path fill="#5d5d5d" d="M38 66h5v5h-5zM43 71h5v5h-5zM53 91h5v5h-5zM213 111h5v5h-5zM48 121h5v5h-5zM198 146h5v5h-5zM223 151h5v5h-5zM173 166h5v5h-5zM193 166h5v5h-5zM63 251h5v5h-5zM223 256h5v5h-5zM48 271h5v5h-5zM68 271h5v5h-5zM98 271h10v5h-10zM93 276h5v5h-5zM113 276h5v5h-5zM113 281h5v5h-5zM148 281h5v5h-5zM213 281h5v5h-5zM113 286h5v5h-5zM143 286h5v5h-5z"/><path fill="#5e5e5e" d="M163 76h5v5h-5zM193 86h5v5h-5zM193 91h5v5h-5zM63 101h5v5h-5zM183 126h5v5h-5zM168 141h15v5h-15zM198 141h5v5h-5zM183 146h15v5h-15zM203 146h5v5h-5zM168 151h5v5h-5zM183 156h15v5h-15zM223 156h5v5h-5zM208 171h15v5h-15zM218 176h5v5h-5zM223 181h5v5h-5zM228 186h5v5h-5zM108 231h5v5h-5zM113 241h5v5h-5zM113 246h5v5h-5zM58 261h5v5h-5zM128 261h5v5h-5zM203 261h5v5h-5zM143 266h5v5h-5zM203 266h5v5h-5zM113 271h5v5h-5zM138 271h5v5h-5zM43 276h5v5h-5zM68 276h20v5h-20zM88 281h5v5h-5zM108 281h5v5h-5zM143 281h5v5h-5zM203 281h5v5h-5zM88 286h5v5h-5zM213 286h5v5h-5z"/><path fill="#5f5f5f" d="M153 86h5v5h-5zM48 91h5v5h-5zM203 96h5v5h-5zM213 106h5v5h-5zM223 111h5v5h-5zM213 116h5v5h-5zM73 126h5v5h-5zM188 126h5v5h-5zM163 146h5v5h-5zM173 146h10v5h-10zM223 146h5v5h-5zM143 151h5v5h-5zM153 151h15v5h-15zM173 151h5v5h-5zM183 151h15v5h-15zM228 151h5v5h-5zM173 161h5v5h-5zM223 161h5v5h-5zM198 166h5v5h-5zM218 166h10v5h-10zM223 171h5v5h-5zM228 181h5v5h-5zM228 196h5v5h-5zM218 226h5v5h-5zM218 236h5v5h-5zM198 246h5v5h-5zM68 251h5v5h-5zM63 256h5v5h-5zM113 256h5v5h-5zM203 256h5v5h-5zM63 261h5v5h-5zM53 266h20v5h-20zM193 266h10v5h-10zM53 271h5v5h-5zM63 271h5v5h-5zM193 271h5v5h-5zM203 271h5v5h-5zM53 276h15v5h-15zM193 276h5v5h-5zM203 276h5v5h-5zM53 281h25v5h-25zM208 281h5v5h-5zM43 286h5v5h-5zM53 286h35v5h-35zM93 286h5v5h-5zM203 286h10v5h-10z"/><path fill="#606060" d="M18 61h5v5h-5zM198 96h5v5h-5zM218 106h5v5h-5zM68 121h5v5h-5zM168 146h5v5h-5zM228 146h5v5h-5zM198 151h10v5h-10zM173 156h5v5h-5zM228 156h5v5h-5zM193 161h5v5h-5zM213 166h5v5h-5zM223 176h10v5h-10zM223 201h5v5h-5zM198 206h5v5h-5zM113 251h5v5h-5zM228 251h5v5h-5zM148 256h5v5h-5zM58 271h5v5h-5zM143 271h5v5h-5zM198 271h5v5h-5zM48 276h5v5h-5zM213 276h5v5h-5zM43 281h10v5h-10zM78 281h10v5h-10zM93 281h5v5h-5zM193 281h5v5h-5zM48 286h5v5h-5zM193 286h5v5h-5z"/><path fill="#616161" d="M28 66h5v5h-5zM43 76h5v5h-5zM38 81h5v5h-5zM193 81h5v5h-5zM198 101h5v5h-5zM58 106h5v5h-5zM68 136h5v5h-5zM173 136h5v5h-5zM178 151h5v5h-5zM218 151h5v5h-5zM178 156h5v5h-5zM218 156h5v5h-5zM148 161h5v5h-5zM188 161h5v5h-5zM218 161h5v5h-5zM228 161h5v5h-5zM188 166h5v5h-5zM228 166h5v5h-5zM228 171h5v5h-5zM213 226h5v5h-5zM113 236h5v5h-5zM223 261h10v5h-10zM73 266h5v5h-5zM198 276h5v5h-5zM208 276h5v5h-5zM223 276h5v5h-5zM198 281h5v5h-5zM153 286h15v5h-15zM173 286h5v5h-5zM198 286h5v5h-5z"/><path fill="#626262" d="M18 66h10v5h-10zM33 66h5v5h-5zM203 101h5v5h-5zM213 101h5v5h-5zM68 131h5v5h-5zM183 136h15v5h-15zM198 156h5v5h-5zM183 161h5v5h-5zM208 166h5v5h-5zM93 236h5v5h-5zM208 236h5v5h-5zM198 241h5v5h-5zM213 241h5v5h-5zM223 251h5v5h-5zM233 256h5v5h-5zM68 261h5v5h-5zM118 261h5v5h-5zM103 266h5v5h-5zM98 276h5v5h-5z"/><path fill="#636363" d="M208 96h5v5h-5zM198 106h5v5h-5zM198 121h5v5h-5zM108 126h5v5h-5zM178 136h5v5h-5zM203 141h5v5h-5zM208 146h5v5h-5zM218 146h5v5h-5zM153 156h5v5h-5zM198 161h5v5h-5zM203 166h5v5h-5zM88 236h5v5h-5zM98 236h15v5h-15zM218 241h5v5h-5zM73 251h5v5h-5zM203 251h5v5h-5zM83 266h5v5h-5zM93 266h5v5h-5z"/><path fill="#646464" d="M18 81h5v5h-5zM158 81h5v5h-5zM18 91h20v5h-20zM43 91h5v5h-5zM18 96h20v5h-20zM48 96h5v5h-5zM53 101h5v5h-5zM208 101h5v5h-5zM53 106h5v5h-5zM63 111h5v5h-5zM63 116h5v5h-5zM228 116h5v5h-5zM88 131h5v5h-5zM223 141h5v5h-5zM208 151h5v5h-5zM233 151h5v5h-5zM178 161h5v5h-5zM213 161h5v5h-5zM178 166h5v5h-5zM233 171h5v5h-5zM233 176h5v5h-5zM233 191h5v5h-5zM203 206h5v5h-5zM208 231h5v5h-5zM83 236h5v5h-5zM68 256h5v5h-5zM108 261h5v5h-5zM78 266h5v5h-5zM88 266h5v5h-5zM98 266h5v5h-5zM103 276h5v5h-5zM168 286h5v5h-5z"/><path fill="#656565" d="M33 76h5v5h-5zM173 76h5v5h-5zM23 81h5v5h-5zM43 81h5v5h-5zM18 86h5v5h-5zM38 86h5v5h-5zM38 91h5v5h-5zM198 91h5v5h-5zM38 96h10v5h-10zM53 96h5v5h-5zM48 101h5v5h-5zM63 106h5v5h-5zM128 106h5v5h-5zM68 126h5v5h-5zM63 131h5v5h-5zM103 131h5v5h-5zM148 151h5v5h-5zM213 151h5v5h-5zM203 156h5v5h-5zM233 156h5v5h-5zM233 161h5v5h-5zM183 166h5v5h-5zM233 166h5v5h-5zM233 181h5v5h-5zM233 186h5v5h-5zM203 236h5v5h-5zM233 251h5v5h-5zM208 271h5v5h-5zM153 281h10v5h-10zM173 281h5v5h-5zM98 286h5v5h-5z"/><path fill="#666666" d="M18 76h10v5h-10zM33 81h5v5h-5zM198 81h5v5h-5zM23 86h15v5h-15zM43 86h5v5h-5zM198 86h5v5h-5zM43 101h5v5h-5zM218 101h5v5h-5zM43 106h5v5h-5zM68 106h5v5h-5zM58 111h5v5h-5zM53 116h5v5h-5zM193 126h5v5h-5zM173 131h5v5h-5zM63 136h5v5h-5zM228 141h5v5h-5zM213 146h5v5h-5zM233 146h5v5h-5zM148 156h5v5h-5zM213 156h5v5h-5zM203 161h10v5h-10zM203 231h5v5h-5zM108 241h5v5h-5zM98 281h5v5h-5zM163 281h5v5h-5zM103 286h5v5h-5z"/><path fill="#676767" d="M33 71h5v5h-5zM28 81h5v5h-5zM38 106h5v5h-5zM48 106h5v5h-5zM73 106h5v5h-5zM43 111h5v5h-5zM53 111h5v5h-5zM63 121h5v5h-5zM208 156h5v5h-5zM208 206h5v5h-5zM203 226h5v5h-5zM113 231h5v5h-5zM203 246h5v5h-5zM223 246h5v5h-5zM208 266h5v5h-5zM218 271h5v5h-5zM103 281h5v5h-5zM168 281h5v5h-5z"/><path fill="#686868" d="M18 71h10v5h-10zM28 76h5v5h-5zM203 81h5v5h-5zM48 86h5v5h-5zM213 96h5v5h-5zM38 101h5v5h-5zM223 106h5v5h-5zM208 111h5v5h-5zM58 116h5v5h-5zM53 121h10v5h-10zM223 121h5v5h-5zM63 126h5v5h-5zM223 231h5v5h-5zM203 241h10v5h-10zM218 246h5v5h-5zM228 246h5v5h-5z"/><path fill="#696969" d="M28 56h5v5h-5zM28 71h5v5h-5zM203 91h5v5h-5zM18 101h20v5h-20zM208 106h5v5h-5zM203 116h10v5h-10zM83 126h5v5h-5zM98 136h5v5h-5zM198 136h5v5h-5zM203 221h5v5h-5zM218 221h5v5h-5zM98 241h5v5h-5zM213 271h5v5h-5z"/><path fill="#6a6a6a" d="M18 106h5v5h-5zM113 121h5v5h-5zM103 126h5v5h-5zM238 166h5v5h-5zM198 211h5v5h-5zM103 241h5v5h-5zM108 246h5v5h-5zM208 251h5v5h-5zM218 251h5v5h-5zM73 261h5v5h-5zM208 261h5v5h-5zM218 261h5v5h-5zM223 266h5v5h-5z"/><path fill="#6b6b6b" d="M43 66h5v5h-5zM58 96h5v5h-5zM28 106h10v5h-10zM48 111h5v5h-5zM228 111h5v5h-5zM43 116h5v5h-5zM178 131h5v5h-5zM208 141h5v5h-5zM238 151h5v5h-5zM233 196h5v5h-5zM213 206h5v5h-5zM223 236h5v5h-5zM78 241h5v5h-5zM93 241h5v5h-5zM223 241h5v5h-5zM208 246h10v5h-10zM208 256h5v5h-5zM218 256h5v5h-5zM233 261h5v5h-5zM218 266h5v5h-5zM223 271h5v5h-5z"/><path fill="#6c6c6c" d="M203 86h5v5h-5zM63 96h5v5h-5zM23 106h5v5h-5zM203 111h5v5h-5zM58 126h5v5h-5zM183 131h10v5h-10zM218 141h5v5h-5zM233 141h5v5h-5zM238 156h5v5h-5zM238 161h5v5h-5zM238 171h5v5h-5zM218 206h5v5h-5zM213 221h5v5h-5zM208 226h5v5h-5zM223 226h5v5h-5zM73 256h5v5h-5zM123 261h5v5h-5zM133 271h5v5h-5z"/><path fill="#6d6d6d" d="M33 56h5v5h-5zM53 86h5v5h-5zM203 106h5v5h-5zM48 116h5v5h-5zM218 121h5v5h-5zM53 126h5v5h-5zM238 146h5v5h-5zM228 201h5v5h-5z"/><path fill="#6e6e6e" d="M23 56h5v5h-5zM208 91h5v5h-5zM218 96h5v5h-5zM223 101h5v5h-5zM193 131h5v5h-5z"/><path fill="#6f6f6f" d="M38 61h5v5h-5zM178 76h10v5h-10zM228 121h5v5h-5zM98 246h5v5h-5zM233 246h5v5h-5zM108 251h5v5h-5zM213 251h5v5h-5zM108 256h5v5h-5zM213 266h5v5h-5z"/><path fill="#707070" d="M168 71h5v5h-5zM118 111h5v5h-5zM78 121h5v5h-5zM103 136h5v5h-5zM213 141h5v5h-5zM93 246h5v5h-5zM103 246h5v5h-5zM238 256h5v5h-5z"/><path fill="#717171" d="M188 76h5v5h-5zM148 86h5v5h-5zM143 91h5v5h-5zM228 106h5v5h-5zM233 116h5v5h-5zM223 136h5v5h-5zM243 166h5v5h-5zM228 266h5v5h-5zM228 281h5v5h-5z"/><path fill="#727272" d="M18 56h5v5h-5zM228 136h5v5h-5zM238 141h5v5h-5zM243 151h5v5h-5zM243 161h5v5h-5zM223 206h5v5h-5zM218 216h5v5h-5zM128 266h5v5h-5zM138 276h5v5h-5z"/><path fill="#737373" d="M208 86h5v5h-5zM133 101h5v5h-5zM213 121h5v5h-5zM203 136h5v5h-5zM243 146h5v5h-5zM243 156h5v5h-5zM203 216h5v5h-5zM223 221h5v5h-5zM228 241h5v5h-5zM213 256h5v5h-5zM78 261h5v5h-5zM93 261h5v5h-5zM103 261h5v5h-5z"/><path fill="#747474" d="M208 81h5v5h-5zM213 91h5v5h-5zM238 176h5v5h-5zM208 221h5v5h-5zM78 246h5v5h-5zM98 261h5v5h-5zM213 261h5v5h-5zM228 286h5v5h-5z"/><path fill="#757575" d="M138 96h5v5h-5zM228 101h5v5h-5zM88 241h5v5h-5zM238 251h5v5h-5zM243 281h5v5h-5z"/><path fill="#767676" d="M193 76h5v5h-5zM223 96h5v5h-5zM233 111h5v5h-5zM238 116h5v5h-5zM248 151h5v5h-5zM238 191h5v5h-5zM93 251h10v5h-10zM238 261h5v5h-5z"/><path fill="#777777" d="M153 81h5v5h-5zM233 136h5v5h-5zM243 141h5v5h-5zM263 151h5v5h-5zM248 156h5v5h-5zM243 171h5v5h-5zM238 186h5v5h-5zM218 211h5v5h-5zM213 216h5v5h-5zM78 251h5v5h-5zM88 261h5v5h-5zM243 286h5v5h-5z"/><path fill="#787878" d="M163 71h5v5h-5zM203 121h5v5h-5zM233 121h5v5h-5zM248 146h5v5h-5zM253 151h10v5h-10zM253 156h15v5h-15zM248 161h5v5h-5zM238 181h5v5h-5zM203 211h5v5h-5zM103 251h5v5h-5zM83 261h5v5h-5zM118 266h5v5h-5zM228 276h5v5h-5z"/><path fill="#797979" d="M158 76h5v5h-5zM198 76h5v5h-5zM243 116h5v5h-5zM238 121h10v5h-10zM198 126h5v5h-5zM258 126h10v5h-10zM198 131h5v5h-5zM253 131h15v5h-15zM248 166h5v5h-5zM228 236h5v5h-5zM83 241h5v5h-5zM228 271h5v5h-5z"/><path fill="#7a7a7a" d="M218 91h5v5h-5zM253 126h5v5h-5zM248 131h5v5h-5zM238 136h5v5h-5zM263 146h5v5h-5zM78 256h5v5h-5zM118 286h5v5h-5z"/><path fill="#7b7b7b" d="M213 86h5v5h-5zM233 106h5v5h-5zM113 116h5v5h-5zM218 136h5v5h-5zM243 136h5v5h-5zM253 146h10v5h-10zM253 161h15v5h-15zM238 196h5v5h-5zM208 211h10v5h-10zM223 216h5v5h-5zM93 256h5v5h-5zM243 276h5v5h-5zM138 286h5v5h-5z"/><path fill="#7c7c7c" d="M203 76h5v5h-5zM228 96h5v5h-5zM123 106h5v5h-5zM248 136h5v5h-5zM248 141h5v5h-5zM208 216h5v5h-5zM233 266h5v5h-5zM118 276h5v5h-5zM118 281h5v5h-5z"/><path fill="#7d7d7d" d="M233 101h5v5h-5zM238 111h5v5h-5zM208 121h5v5h-5zM223 126h5v5h-5zM248 126h5v5h-5zM248 171h5v5h-5zM98 256h10v5h-10zM138 281h5v5h-5z"/><path fill="#7e7e7e" d="M213 81h5v5h-5zM208 136h5v5h-5zM253 166h5v5h-5zM263 166h5v5h-5zM223 211h5v5h-5zM233 241h5v5h-5zM248 281h5v5h-5z"/><path fill="#7f7f7f" d="M78 111h5v5h-5zM228 126h5v5h-5zM243 126h5v5h-5zM223 131h5v5h-5zM243 131h5v5h-5zM253 136h15v5h-15zM253 141h5v5h-5zM263 141h5v5h-5zM258 166h5v5h-5zM233 201h5v5h-5zM88 246h5v5h-5zM243 256h5v5h-5zM248 286h5v5h-5z"/><path fill="#808080" d="M248 121h5v5h-5zM228 131h5v5h-5zM258 141h5v5h-5zM238 246h5v5h-5zM238 281h5v5h-5z"/><path fill="#818181" d="M223 91h5v5h-5zM233 96h5v5h-5zM263 121h5v5h-5zM263 171h5v5h-5zM228 231h5v5h-5zM118 271h5v5h-5zM248 276h5v5h-5z"/><path fill="#828282" d="M218 86h5v5h-5zM58 91h5v5h-5zM243 111h5v5h-5zM78 116h5v5h-5zM248 116h5v5h-5zM253 121h10v5h-10zM238 131h5v5h-5zM213 136h5v5h-5zM253 171h10v5h-10zM88 251h5v5h-5zM88 256h5v5h-5zM238 276h5v5h-5zM238 286h5v5h-5z"/><path fill="#838383" d="M48 81h5v5h-5zM68 101h5v5h-5zM238 106h5v5h-5zM238 126h5v5h-5zM243 261h5v5h-5z"/><path fill="#848484" d="M128 101h5v5h-5zM243 176h5v5h-5zM253 176h15v5h-15zM238 266h5v5h-5zM233 271h5v5h-5z"/><path fill="#858585" d="M48 71h5v5h-5zM208 76h5v5h-5zM218 81h5v5h-5zM228 91h5v5h-5zM238 101h5v5h-5zM233 131h5v5h-5zM243 191h5v5h-5zM83 246h5v5h-5zM128 271h5v5h-5zM238 271h5v5h-5z"/><path fill="#868686" d="M113 111h5v5h-5zM233 126h5v5h-5zM248 176h5v5h-5zM228 206h5v5h-5zM243 251h5v5h-5zM83 256h5v5h-5z"/><path fill="#878787" d="M68 96h5v5h-5zM218 126h5v5h-5zM243 196h5v5h-5zM233 281h5v5h-5zM233 286h5v5h-5z"/><path fill="#888888" d="M223 86h5v5h-5zM233 91h5v5h-5zM238 96h5v5h-5zM243 106h5v5h-5zM248 111h5v5h-5zM108 121h5v5h-5zM243 186h5v5h-5zM233 276h5v5h-5z"/><path fill="#898989" d="M38 56h5v5h-5zM48 76h5v5h-5zM253 116h5v5h-5zM263 116h5v5h-5zM253 181h15v5h-15zM248 256h5v5h-5z"/><path fill="#8a8a8a" d="M258 116h5v5h-5zM218 131h5v5h-5zM243 181h5v5h-5zM248 261h5v5h-5zM243 271h5v5h-5z"/><path fill="#8b8b8b" d="M173 71h5v5h-5zM223 81h5v5h-5zM243 101h5v5h-5zM253 111h5v5h-5zM263 111h5v5h-5zM88 126h5v5h-5zM93 131h5v5h-5zM203 131h5v5h-5zM258 191h10v5h-10zM83 251h5v5h-5zM263 281h5v5h-5z"/><path fill="#8c8c8c" d="M228 86h5v5h-5zM248 106h5v5h-5zM258 111h5v5h-5zM98 126h5v5h-5zM248 181h5v5h-5zM258 186h5v5h-5zM248 191h10v5h-10zM263 196h5v5h-5zM233 236h5v5h-5zM263 261h5v5h-5zM243 266h5v5h-5zM248 271h5v5h-5zM253 281h5v5h-5zM263 286h5v5h-5z"/><path fill="#8d8d8d" d="M238 91h5v5h-5zM263 106h5v5h-5zM203 126h5v5h-5zM98 131h5v5h-5zM248 186h10v5h-10zM263 186h5v5h-5zM248 196h5v5h-5zM258 196h5v5h-5zM228 226h5v5h-5zM253 261h10v5h-10zM253 286h5v5h-5z"/><path fill="#8e8e8e" d="M213 76h5v5h-5zM243 96h5v5h-5zM78 106h5v5h-5zM253 106h10v5h-10zM253 196h5v5h-5zM238 201h5v5h-5zM238 241h5v5h-5zM253 256h15v5h-15zM123 266h5v5h-5zM253 276h5v5h-5zM263 276h5v5h-5z"/><path fill="#8f8f8f" d="M258 281h5v5h-5z"/><path fill="#909090" d="M48 66h5v5h-5zM233 86h10v5h-10zM248 101h5v5h-5zM258 276h5v5h-5zM258 286h5v5h-5z"/><path fill="#919191" d="M183 71h5v5h-5zM253 101h15v5h-15zM213 126h5v5h-5zM243 246h5v5h-5zM248 266h5v5h-5z"/><path fill="#929292" d="M243 91h5v5h-5zM83 121h5v5h-5zM248 251h5v5h-5zM263 266h5v5h-5zM253 271h5v5h-5z"/><path fill="#939393" d="M243 81h5v5h-5zM243 86h5v5h-5zM248 96h5v5h-5zM103 121h5v5h-5zM258 266h5v5h-5zM263 271h5v5h-5zM133 276h5v5h-5z"/><path fill="#949494" d="M218 76h5v5h-5zM228 81h5v5h-5zM208 131h5v5h-5zM228 221h5v5h-5zM253 266h5v5h-5zM258 271h5v5h-5z"/><path fill="#959595" d="M28 51h5v5h-5zM168 66h5v5h-5zM188 71h5v5h-5zM58 86h5v5h-5zM133 96h5v5h-5zM253 96h15v5h-15zM208 126h5v5h-5zM213 131h5v5h-5z"/><path fill="#969696" d="M33 51h10v5h-10zM178 71h5v5h-5zM248 86h5v5h-5zM248 91h5v5h-5zM98 121h5v5h-5z"/><path fill="#979797" d="M18 51h10v5h-10zM238 81h5v5h-5zM248 81h5v5h-5zM63 91h5v5h-5zM138 91h5v5h-5z"/><path fill="#989898" d="M43 61h5v5h-5zM263 91h5v5h-5zM88 121h5v5h-5zM228 211h5v5h-5z"/><path fill="#999999" d="M163 66h5v5h-5zM53 81h5v5h-5zM148 81h5v5h-5zM143 86h5v5h-5zM253 91h10v5h-10zM73 101h5v5h-5zM123 101h5v5h-5zM243 201h5v5h-5zM228 216h5v5h-5zM238 236h5v5h-5zM263 251h5v5h-5z"/><path fill="#9a9a9a" d="M158 71h5v5h-5zM253 86h5v5h-5zM263 86h5v5h-5zM68 91h5v5h-5zM253 251h5v5h-5z"/><path fill="#9b9b9b" d="M223 76h5v5h-5zM258 86h5v5h-5zM243 241h5v5h-5zM258 251h5v5h-5z"/><path fill="#9c9c9c" d="M153 76h5v5h-5zM118 106h5v5h-5zM123 276h5v5h-5z"/><path fill="#9d9d9d" d="M193 71h5v5h-5zM243 76h5v5h-5zM263 81h5v5h-5zM248 201h5v5h-5zM123 286h5v5h-5zM133 286h5v5h-5z"/><path fill="#9e9e9e" d="M233 81h5v5h-5zM253 81h5v5h-5zM253 201h5v5h-5zM248 246h5v5h-5zM123 271h5v5h-5zM128 276h5v5h-5zM123 281h5v5h-5z"/><path fill="#9f9f9f" d="M198 71h5v5h-5zM258 201h10v5h-10zM233 206h5v5h-5zM233 231h5v5h-5z"/><path fill="#a0a0a0" d="M258 81h5v5h-5z"/><path fill="#a1a1a1" d="M108 116h5v5h-5z"/><path fill="#a2a2a2" d="M68 76h5v5h-5zM93 116h5v5h-5zM93 121h5v5h-5z"/><path fill="#a3a3a3" d="M203 71h5v5h-5zM133 281h5v5h-5z"/><path fill="#a4a4a4" d="M38 36h5v5h-5zM63 71h5v5h-5zM238 76h5v5h-5zM88 96h5v5h-5zM243 236h5v5h-5zM253 246h5v5h-5zM263 246h5v5h-5z"/><path fill="#a5a5a5" d="M18 36h20v5h-20zM63 76h5v5h-5zM88 101h10v5h-10zM108 111h5v5h-5zM248 241h5v5h-5zM258 246h5v5h-5z"/><path fill="#a6a6a6" d="M43 36h5v5h-5zM53 61h5v5h-5zM248 76h5v5h-5zM83 91h5v5h-5zM83 96h5v5h-5zM93 106h5v5h-5zM93 111h5v5h-5z"/><path fill="#a7a7a7" d="M43 41h5v5h-5zM38 46h10v5h-10zM68 71h5v5h-5zM73 76h5v5h-5zM73 81h5v5h-5zM113 106h5v5h-5z"/><path fill="#a8a8a8" d="M48 61h5v5h-5zM183 66h5v5h-5zM228 76h5v5h-5zM73 86h15v5h-15zM88 91h5v5h-5zM93 96h5v5h-5zM83 111h5v5h-5z"/><path fill="#a9a9a9" d="M38 41h5v5h-5zM43 51h5v5h-5zM53 56h5v5h-5zM53 66h5v5h-5zM63 66h5v5h-5zM208 71h5v5h-5zM73 91h5v5h-5zM83 101h5v5h-5zM83 116h5v5h-5zM238 231h5v5h-5zM263 241h5v5h-5zM128 286h5v5h-5z"/><path fill="#aaaaaa" d="M168 61h5v5h-5zM88 106h5v5h-5zM88 116h5v5h-5zM253 241h10v5h-10z"/><path fill="#ababab" d="M188 66h5v5h-5zM53 71h5v5h-5zM68 81h5v5h-5zM78 101h5v5h-5zM83 106h5v5h-5zM98 116h5v5h-5zM128 281h5v5h-5z"/><path fill="#acacac" d="M23 41h5v5h-5zM33 41h5v5h-5zM173 66h5v5h-5zM58 71h5v5h-5zM63 81h5v5h-5zM78 81h5v5h-5zM78 91h5v5h-5zM98 96h5v5h-5zM98 101h5v5h-5zM88 111h5v5h-5zM238 206h5v5h-5z"/><path fill="#adadad" d="M48 36h5v5h-5zM18 41h5v5h-5zM28 41h5v5h-5zM183 56h5v5h-5zM243 71h5v5h-5zM98 106h5v5h-5zM93 126h5v5h-5zM248 236h5v5h-5z"/><path fill="#aeaeae" d="M48 41h5v5h-5zM33 46h5v5h-5zM238 51h5v5h-5zM188 56h5v5h-5zM238 56h5v5h-5zM58 61h5v5h-5zM183 61h5v5h-5zM58 66h5v5h-5zM233 76h5v5h-5zM73 96h5v5h-5zM128 96h5v5h-5zM98 111h5v5h-5zM233 226h5v5h-5zM243 231h5v5h-5z"/><path fill="#afafaf" d="M18 46h10v5h-10zM43 56h5v5h-5zM58 56h5v5h-5zM188 61h5v5h-5zM213 71h5v5h-5zM238 71h5v5h-5zM53 76h5v5h-5zM253 76h5v5h-5zM263 76h5v5h-5zM58 81h5v5h-5zM88 86h5v5h-5z"/><path fill="#b0b0b0" d="M238 36h5v5h-5zM238 41h5v5h-5zM28 46h5v5h-5zM48 46h5v5h-5zM238 46h5v5h-5zM68 66h5v5h-5zM73 71h5v5h-5zM58 76h5v5h-5zM78 76h5v5h-5zM63 86h5v5h-5zM98 91h5v5h-5z"/><path fill="#b1b1b1" d="M188 51h5v5h-5zM218 56h5v5h-5zM243 56h5v5h-5zM178 66h5v5h-5zM218 71h5v5h-5zM83 81h5v5h-5zM68 86h5v5h-5zM93 91h5v5h-5zM78 96h5v5h-5zM253 236h5v5h-5zM263 236h5v5h-5z"/><path fill="#b2b2b2" d="M243 41h5v5h-5zM183 51h5v5h-5zM213 51h15v5h-15zM243 51h5v5h-5zM48 56h5v5h-5zM213 56h5v5h-5zM223 56h5v5h-5zM233 56h5v5h-5zM63 61h5v5h-5zM163 61h5v5h-5zM238 61h5v5h-5zM258 76h5v5h-5zM103 91h5v5h-5zM258 236h5v5h-5z"/><path fill="#b3b3b3" d="M183 36h10v5h-10zM218 36h5v5h-5zM243 36h5v5h-5zM58 41h10v5h-10zM188 41h5v5h-5zM58 46h10v5h-10zM188 46h5v5h-5zM243 46h5v5h-5zM53 51h5v5h-5zM193 51h5v5h-5zM208 51h5v5h-5zM233 51h5v5h-5zM178 56h5v5h-5zM193 56h5v5h-5zM228 56h5v5h-5zM73 61h5v5h-5zM173 61h5v5h-5zM78 66h5v5h-5zM83 71h5v5h-5zM223 71h5v5h-5zM93 81h5v5h-5zM103 96h5v5h-5zM108 106h5v5h-5zM233 211h5v5h-5z"/><path fill="#b4b4b4" d="M53 36h15v5h-15zM193 36h25v5h-25zM223 36h5v5h-5zM233 36h5v5h-5zM183 41h5v5h-5zM193 41h35v5h-35zM233 41h5v5h-5zM183 46h5v5h-5zM193 46h35v5h-35zM233 46h5v5h-5zM58 51h10v5h-10zM198 51h10v5h-10zM228 51h5v5h-5zM68 61h5v5h-5zM238 66h5v5h-5zM88 81h5v5h-5zM98 86h5v5h-5zM103 116h5v5h-5zM243 206h5v5h-5zM233 221h5v5h-5z"/><path fill="#b5b5b5" d="M228 36h5v5h-5zM53 41h5v5h-5zM228 41h5v5h-5zM53 46h5v5h-5zM228 46h5v5h-5zM48 51h5v5h-5zM63 56h5v5h-5zM73 56h5v5h-5zM208 56h5v5h-5zM178 61h5v5h-5zM243 61h5v5h-5zM73 66h5v5h-5zM83 66h5v5h-5zM78 71h5v5h-5zM83 76h5v5h-5zM93 76h5v5h-5zM93 86h5v5h-5zM103 86h5v5h-5zM103 101h5v5h-5zM103 106h5v5h-5z"/><path fill="#b6b6b6" d="M178 51h5v5h-5zM68 56h5v5h-5zM173 56h5v5h-5zM78 61h5v5h-5zM243 66h5v5h-5zM98 81h5v5h-5zM248 231h5v5h-5z"/><path fill="#b7b7b7" d="M198 56h5v5h-5zM193 61h5v5h-5zM233 61h5v5h-5zM158 66h5v5h-5zM193 66h5v5h-5zM88 76h5v5h-5zM108 91h5v5h-5zM108 96h5v5h-5zM123 96h5v5h-5zM103 111h5v5h-5zM248 206h5v5h-5zM233 216h5v5h-5zM238 226h5v5h-5z"/><path fill="#b8b8b8" d="M178 36h5v5h-5zM178 41h5v5h-5zM163 46h5v5h-5zM178 46h5v5h-5zM223 61h5v5h-5zM233 71h5v5h-5zM118 101h5v5h-5zM243 226h5v5h-5z"/><path fill="#b9b9b9" d="M163 41h10v5h-10zM168 46h5v5h-5zM168 56h5v5h-5zM203 56h5v5h-5zM213 61h5v5h-5zM228 61h5v5h-5zM228 71h5v5h-5zM108 86h5v5h-5z"/><path fill="#bababa" d="M68 36h5v5h-5zM163 36h10v5h-10zM173 51h5v5h-5zM218 61h5v5h-5zM198 66h5v5h-5zM113 96h5v5h-5zM253 206h10v5h-10z"/><path fill="#bbbbbb" d="M173 36h5v5h-5zM68 41h5v5h-5zM173 41h5v5h-5zM68 46h5v5h-5zM173 46h5v5h-5zM168 51h5v5h-5zM78 56h5v5h-5zM88 71h5v5h-5zM133 91h5v5h-5zM263 206h5v5h-5z"/><path fill="#bcbcbc" d="M68 51h5v5h-5zM198 61h5v5h-5zM233 66h5v5h-5zM248 71h5v5h-5zM108 81h5v5h-5zM118 96h5v5h-5zM253 231h5v5h-5zM263 231h5v5h-5z"/><path fill="#bdbdbd" d="M78 51h5v5h-5zM88 66h5v5h-5zM203 66h5v5h-5zM98 76h5v5h-5zM103 81h5v5h-5zM138 86h5v5h-5zM258 231h5v5h-5z"/><path fill="#bebebe" d="M73 51h5v5h-5zM163 51h5v5h-5zM83 61h5v5h-5zM208 61h5v5h-5zM223 66h10v5h-10zM93 71h5v5h-5zM113 81h5v5h-5zM108 101h5v5h-5zM248 226h5v5h-5z"/><path fill="#bfbfbf" d="M158 46h5v5h-5zM93 61h5v5h-5zM203 61h5v5h-5zM103 71h5v5h-5zM113 91h5v5h-5zM238 221h10v5h-10z"/><path fill="#c0c0c0" d="M78 36h10v5h-10zM83 41h5v5h-5zM158 41h5v5h-5zM88 56h5v5h-5zM88 61h5v5h-5zM208 66h5v5h-5zM218 66h5v5h-5zM98 71h5v5h-5zM143 81h5v5h-5zM238 211h5v5h-5z"/><path fill="#c1c1c1" d="M73 36h5v5h-5zM158 36h5v5h-5zM78 41h5v5h-5zM78 46h10v5h-10zM83 51h5v5h-5zM163 56h5v5h-5zM213 66h5v5h-5zM113 86h5v5h-5z"/><path fill="#c2c2c2" d="M73 41h5v5h-5zM83 56h5v5h-5zM93 66h5v5h-5zM103 76h5v5h-5zM118 86h5v5h-5zM113 101h5v5h-5z"/><path fill="#c3c3c3" d="M248 36h5v5h-5zM73 46h5v5h-5zM248 51h5v5h-5zM93 56h5v5h-5zM248 56h5v5h-5zM103 66h5v5h-5zM153 71h5v5h-5zM113 76h5v5h-5zM148 76h5v5h-5zM238 216h5v5h-5zM248 221h5v5h-5z"/><path fill="#c4c4c4" d="M248 41h5v5h-5zM98 66h5v5h-5zM108 76h5v5h-5zM118 81h5v5h-5zM243 211h5v5h-5zM243 216h5v5h-5zM253 226h5v5h-5zM263 226h5v5h-5z"/><path fill="#c5c5c5" d="M248 46h5v5h-5zM88 51h5v5h-5zM258 226h5v5h-5z"/><path fill="#c6c6c6" d="M158 51h5v5h-5zM118 91h5v5h-5z"/><path fill="#c7c7c7" d="M248 211h5v5h-5zM248 216h5v5h-5zM253 221h15v5h-15z"/><path fill="#c8c8c8" d="M158 61h5v5h-5zM248 61h5v5h-5zM123 86h5v5h-5zM263 211h5v5h-5z"/><path fill="#c9c9c9" d="M248 66h5v5h-5zM258 211h5v5h-5zM253 216h5v5h-5zM263 216h5v5h-5z"/><path fill="#cacaca" d="M88 36h5v5h-5zM98 61h5v5h-5zM108 71h5v5h-5zM263 71h5v5h-5zM253 211h5v5h-5zM258 216h5v5h-5z"/><path fill="#cbcbcb" d="M98 56h5v5h-5zM108 66h5v5h-5z"/><path fill="#cccccc" d="M88 41h5v5h-5zM88 46h5v5h-5zM153 46h5v5h-5zM253 71h5v5h-5zM123 91h5v5h-5z"/><path fill="#cdcdcd" d="M153 41h5v5h-5zM118 76h5v5h-5z"/><path fill="#cecece" d="M153 36h5v5h-5zM158 56h5v5h-5z"/><path fill="#cfcfcf" d="M108 61h5v5h-5zM258 71h5v5h-5z"/><path fill="#d0d0d0" d="M93 51h5v5h-5zM103 61h5v5h-5z"/><path fill="#d1d1d1" d="M98 51h5v5h-5zM113 71h5v5h-5zM123 81h5v5h-5zM128 91h5v5h-5z"/><path fill="#d3d3d3" d="M153 51h5v5h-5zM263 56h5v5h-5zM113 61h5v5h-5z"/><path fill="#d4d4d4" d="M103 36h5v5h-5zM263 36h5v5h-5zM103 41h5v5h-5zM103 51h5v5h-5zM263 51h5v5h-5zM253 56h5v5h-5zM123 71h5v5h-5zM138 81h5v5h-5z"/><path fill="#d5d5d5" d="M93 36h10v5h-10zM253 36h5v5h-5zM98 41h5v5h-5zM263 41h5v5h-5zM103 46h5v5h-5zM263 46h5v5h-5zM253 51h5v5h-5zM123 66h5v5h-5zM118 71h5v5h-5zM133 86h5v5h-5z"/><path fill="#d6d6d6" d="M93 41h5v5h-5zM253 41h5v5h-5zM98 46h5v5h-5zM253 46h5v5h-5zM108 56h10v5h-10zM113 66h10v5h-10zM123 76h5v5h-5zM128 86h5v5h-5z"/><path fill="#d7d7d7" d="M93 46h5v5h-5zM258 51h5v5h-5zM103 56h5v5h-5zM118 61h5v5h-5zM128 66h5v5h-5z"/><path fill="#d8d8d8" d="M258 36h5v5h-5zM258 46h5v5h-5zM108 51h5v5h-5zM258 56h5v5h-5zM263 61h5v5h-5z"/><path fill="#d9d9d9" d="M258 41h5v5h-5zM253 61h5v5h-5z"/><path fill="#dadada" d="M108 36h5v5h-5zM153 66h5v5h-5zM263 66h5v5h-5zM128 71h5v5h-5z"/><path fill="#dbdbdb" d="M108 41h5v5h-5zM253 66h5v5h-5zM128 81h5v5h-5z"/><path fill="#dcdcdc" d="M108 46h5v5h-5zM118 56h5v5h-5zM133 81h5v5h-5z"/><path fill="#dddddd" d="M148 36h5v5h-5zM148 41h5v5h-5zM148 46h5v5h-5zM148 51h5v5h-5zM258 61h5v5h-5zM128 76h5v5h-5z"/><path fill="#dedede" d="M113 51h5v5h-5zM153 56h5v5h-5zM123 61h10v5h-10z"/><path fill="#dfdfdf" d="M118 51h5v5h-5zM133 61h5v5h-5zM133 66h5v5h-5zM258 66h5v5h-5z"/><path fill="#e1e1e1" d="M123 36h5v5h-5zM123 41h5v5h-5zM148 71h5v5h-5z"/><path fill="#e2e2e2" d="M113 36h5v5h-5zM123 46h5v5h-5zM123 51h5v5h-5zM133 76h5v5h-5z"/><path fill="#e3e3e3" d="M118 36h5v5h-5zM113 41h10v5h-10zM113 46h10v5h-10zM128 51h5v5h-5zM123 56h15v5h-15z"/><path fill="#e4e4e4" d="M128 36h5v5h-5zM128 41h5v5h-5zM128 46h5v5h-5zM138 56h5v5h-5z"/><path fill="#e5e5e5" d="M138 61h5v5h-5zM133 71h5v5h-5zM143 76h5v5h-5z"/><path fill="#e6e6e6" d="M143 56h10v5h-10zM153 61h5v5h-5z"/><path fill="#e7e7e7" d="M133 51h5v5h-5zM143 51h5v5h-5z"/><path fill="#e8e8e8" d="M133 36h5v5h-5z"/><path fill="#e9e9e9" d="M143 36h5v5h-5zM133 41h5v5h-5zM133 46h5v5h-5z"/><path fill="#eaeaea" d="M143 41h5v5h-5zM143 46h5v5h-5zM138 51h5v5h-5z"/><path fill="#ebebeb" d="M138 36h5v5h-5z"/><path fill="#ececec" d="M138 41h5v5h-5zM138 46h5v5h-5zM138 66h5v5h-5z"/><path fill="#eeeeee" d="M143 61h5v5h-5z"/><path fill="#efefef" d="M138 76h5v5h-5z"/><path fill="#f2f2f2" d="M143 66h5v5h-5z"/><path fill="#f3f3f3" d="M148 66h5v5h-5zM143 71h5v5h-5z"/><path fill="#f6f6f6" d="M148 61h5v5h-5z"/><path fill="#f8f8f8" d="M138 71h5v5h-5z"/></g>
</g>
<g clip-path="url(#landclip)"><path d="M72.0,160.0 L86.0,157.0 L93.0,168.0 L95.0,180.0 L86.0,184.0 L74.0,183.0 L70.0,172.0Z M49.0,163.0 L58.0,159.0 L62.0,168.0 L56.0,173.0 L49.0,171.0Z M119.0,140.0 L134.0,140.0 L137.0,156.0 L121.0,158.0Z M130.0,125.0 L153.0,125.0 L153.0,139.0 L137.0,145.0 L130.0,140.0Z M64.0,197.0 L72.0,188.0 L85.0,184.0 L95.0,178.0 L108.0,170.0 L118.0,163.0 L141.0,163.0 L141.0,176.0 L136.0,182.0 L134.0,192.0 L130.0,202.0 L124.0,208.0 L118.0,213.0 L108.0,228.0 L95.0,232.0 L84.0,229.0 L72.0,222.0 L64.0,210.0Z M52.0,229.0 L93.0,229.0 L93.0,244.0 L52.0,244.0Z M150.0,191.0 L170.0,189.0 L184.0,193.0 L192.0,205.0 L197.0,224.0 L197.0,245.0 L191.0,262.0 L178.0,263.0 L170.0,251.0 L160.0,236.0 L150.0,221.0 L143.0,212.0 L146.0,200.0Z M197.0,179.0 L218.0,179.0 L218.0,198.0 L197.0,198.0Z M231.0,209.0 L257.0,209.0 L257.0,232.0 L231.0,232.0Z M139.0,68.0 L150.0,61.0 L165.0,55.0 L169.0,61.0 L159.0,72.0 L151.0,82.0 L143.0,93.0 L135.0,90.0Z M183.0,58.0 L213.0,58.0 L213.0,67.0 L183.0,67.0Z M231.0,70.0 L242.0,70.0 L242.0,82.0 L231.0,82.0Z M120.0,106.0 L156.0,106.0 L156.0,126.0 L120.0,126.0Z M171.0,106.0 L199.0,106.0 L199.0,123.0 L171.0,123.0Z M173.0,245.0 L197.0,245.0 L197.0,266.0 L173.0,266.0Z" fill="url(#dotpat)"/></g>
<path d="M196.9,242.8 L195.0,242.2 L192.7,240.3 L192.3,237.7 L191.2,234.6 L192.3,232.0 L192.7,230.1 L195.0,227.5 L195.2,223.7 L196.1,221.2 L199.2,218.6 L199.2,216.0 L201.0,213.5 L203.1,209.0 L204.8,208.4 L207.1,209.7 L209.7,211.6 L211.6,212.5 L209.7,216.0 L213.2,217.3 L213.9,221.2 L215.8,222.4 L217.3,221.2 L219.6,219.9 L220.7,218.6 L224.5,218.3 L226.0,218.6 L227.9,219.9 L229.8,221.2 L232.8,223.7 L237.0,227.5 L239.3,230.7 L241.9,232.6 L244.2,236.5 L244.2,240.3 L241.9,243.5 L239.3,244.1 L237.0,244.1 L232.1,244.4 L229.0,243.5 L226.8,242.8 L224.1,242.2 L222.6,239.7 L220.0,237.7 L215.4,237.7 L212.8,237.7 L209.0,239.7 L206.0,242.2 L202.2,242.8 L197.6,242.8Z M218.4,211.6 L220.3,210.3 L222.6,208.1 L226.0,207.4 L228.7,205.5 L231.3,205.2 L235.1,204.2 L234.0,207.1 L231.7,208.4 L230.2,210.9 L230.6,212.9 L229.8,214.1 L228.7,216.0 L226.0,216.0 L224.1,215.7 L221.1,216.7 L220.0,215.1 L218.4,212.9Z M187.8,247.9 L190.1,247.6 L192.3,247.9 L195.0,247.9 L196.5,247.6 L197.3,245.4 L196.1,243.8 L194.6,244.1 L192.0,244.4 L190.1,245.1 L188.6,246.7Z" fill="#fff"/>
<g stroke="#000" stroke-opacity="0.1" stroke-width="0.8"><line x1="41.40" y1="46.6" x2="41.40" y2="282" /><line x1="86.80" y1="46.6" x2="86.80" y2="282" /><line x1="132.20" y1="46.6" x2="132.20" y2="282" /><line x1="177.59" y1="46.6" x2="177.59" y2="282" /><line x1="222.99" y1="46.6" x2="222.99" y2="282" /><line x1="30" y1="97.38" x2="257" y2="97.38" /><line x1="30" y1="148.42" x2="257" y2="148.42" /><line x1="30" y1="199.46" x2="257" y2="199.46" /><line x1="30" y1="250.50" x2="257" y2="250.50" /></g>
<path d="M129.9,128.6 L131.4,124.2 L133.7,122.3 L134.5,116.5 L133.0,112.7 L133.0,108.2 L132.6,103.8 L132.2,100.6 L136.7,96.7 L140.1,94.2 L138.6,90.4 L141.7,86.5 L142.0,83.3 L145.4,82.1 L148.1,78.2 L148.8,74.4 L152.2,71.2 L155.7,68.7 L162.1,69.3 L164.5,65.1 M164.5,65.1 L167.4,66.8 L171.5,68.7 L175.7,72.5 L176.1,76.3 L176.8,81.4 L178.2,85.9 M164.5,65.1 L167.4,63.6 L171.5,67.1 L177.6,68.0 L181.4,67.4 L184.4,64.2 L186.3,59.7 L190.1,59.4 L194.2,60.4 L196.1,65.2 M196.1,65.2 L197.6,62.9 L200.3,61.7 L203.7,60.7 M196.1,65.2 L194.6,68.7 L195.4,71.2 L199.5,74.4 L197.3,78.9 L200.3,83.3 L198.8,87.2 L200.3,91.0 L199.2,92.9 L202.2,96.1 L200.3,98.7 L204.8,102.5 L206.3,104.4 L202.6,110.8 L198.4,114.6 L193.5,117.8 L191.6,119.7 M193.1,126.4 L192.3,129.3 L190.8,132.5 L190.5,135.7 L191.2,138.5 M178.7,136.6 L181.4,135.7 L184.8,136.9 L187.4,138.5 L191.2,138.5 L192.3,140.1 L193.1,143.3 L193.5,147.5 M166.4,148.0 L170.0,145.9 L175.7,146.2 L181.0,145.9 L183.6,147.5 L187.4,150.3 L191.2,149.7 L193.5,147.5 M187.4,150.3 L188.2,152.9 L185.9,155.4 L184.4,159.9 L180.6,161.2 L175.7,161.5 M167.0,153.5 L170.4,154.5 L173.1,158.6 L175.7,161.5 M160.9,158.3 L164.4,158.6 L168.1,159.1 L173.1,158.6 M175.7,161.5 L177.2,166.3 L175.7,170.1 L174.6,172.0 L176.1,176.5 M176.1,176.5 L178.0,180.3 L177.2,184.1 L175.7,185.4 L172.3,189.9 L172.1,192.6 M172.1,192.6 L168.5,190.5 L165.9,191.2 L161.7,191.8 L160.2,189.3 L158.1,189.9 M158.1,189.9 L154.9,186.7 L153.8,184.8 L150.7,184.1 L148.5,182.6 L143.5,180.3 L142.8,181.0 M142.8,181.0 L143.5,177.8 L142.4,173.3 L142.0,170.1 L140.5,167.6 L141.3,165.6 L140.5,161.8 M193.5,147.5 L198.0,148.7 L203.7,151.0 L203.3,156.1 L207.1,159.9 L207.1,162.5 L210.5,166.9 L209.4,172.0 L207.1,173.3 M176.1,176.5 L179.1,174.6 L183.3,174.6 L188.9,175.2 L193.9,176.5 L197.6,177.8 L202.2,178.4 L203.7,173.6 L207.1,173.3 M207.1,173.3 L213.5,172.0 L216.9,175.9 L220.7,180.3 L223.7,184.1 L228.7,184.8 L231.3,186.7 L238.1,189.3 L238.5,193.7 L237.0,199.5 L231.7,202.0 L231.3,205.2 M187.4,197.5 L190.8,196.6 L193.9,198.8 L197.3,200.1 L198.8,203.3 L199.9,207.1 L200.7,209.7 L196.1,209.0 L193.5,215.4 M187.4,197.5 L189.7,200.7 L193.1,206.5 L193.5,215.4 L199.2,217.0 M173.4,199.8 L177.6,199.8 L181.0,201.4 L187.4,197.5 M172.1,192.6 L170.4,196.9 L173.4,199.8 M173.4,199.8 L170.0,202.7 L167.8,207.8 L163.6,211.3 M163.6,211.3 L165.5,214.1 L167.8,217.3 L168.1,219.9 L171.5,220.5 L172.7,223.7 M172.7,223.7 L175.7,226.3 L179.5,226.9 L182.9,227.2 L185.9,225.0 L188.9,224.3 L192.3,225.3 L194.9,226.6 M172.7,223.7 L171.5,226.3 L173.8,230.1 L171.9,232.0 L171.5,235.8 M171.5,235.8 L173.4,241.9 M173.4,241.9 L176.1,241.6 L179.5,240.6 L182.5,242.5 L185.5,241.9 L186.5,239.7 M186.5,239.7 L188.9,237.4 L192.7,237.9 M185.2,245.7 L186.3,242.5 L186.5,239.7 M165.9,244.8 L169.6,243.2 L173.4,241.9 M162.5,252.7 L165.1,249.9 L166.2,246.7 L165.9,244.8 M165.9,244.8 L164.4,242.2 L164.7,238.4 L168.5,236.1 L171.5,235.8 M164.7,238.4 L162.8,234.6 L161.3,233.9 L160.2,238.4 M156.8,234.6 L158.7,230.1 L160.9,228.2 L159.8,223.1 L158.7,219.2 M160.9,228.2 L163.6,232.0 L162.8,234.6 M144.3,223.1 L146.6,220.5 L146.2,217.3 L149.2,217.3 L153.0,218.0 L156.8,218.3 L158.7,219.2 M153.0,231.4 L148.5,225.0 L146.6,220.5 M158.7,219.2 L160.2,217.3 L158.3,212.9 M158.3,212.9 L153.0,212.9 L149.6,209.0 M138.2,215.4 L141.7,215.4 L144.3,215.4 L146.2,212.2 L149.6,209.0 M138.6,209.0 L141.7,209.7 L147.3,207.8 L147.7,206.8 L149.6,209.0 M138.6,214.8 L138.2,212.2 L138.6,209.0 M158.3,212.9 L160.9,210.9 L163.6,211.3 M147.7,206.8 L149.2,202.7 L151.5,199.5 M151.5,199.5 L154.1,201.1 L157.9,200.7 L160.6,198.2 L164.4,196.3 L168.5,196.3 L170.4,196.9 M135.6,194.4 L139.0,194.4 L142.4,195.6 L143.5,193.1 L147.3,194.7 L150.7,195.6 L151.5,199.5 M150.7,195.6 L153.4,194.0 L155.7,191.2 L158.1,189.9 M123.1,202.3 L126.5,202.3 L128.4,203.3 L133.0,202.0 L136.0,202.7 L135.6,199.8 L137.9,195.6 L139.0,194.4 M126.3,206.8 L128.4,207.1 L133.0,205.8 L138.6,209.0 M123.1,202.3 L122.7,205.5 L126.3,206.8 M135.6,194.4 L134.1,188.6 L132.6,184.8 L136.0,183.5 L140.9,180.3 L142.8,181.0 M115.6,202.0 L119.3,201.7 L123.1,202.3 M111.0,190.2 L113.3,191.8 L117.8,193.1 L115.6,202.0 M109.9,185.7 L111.0,190.2 M109.5,181.9 L111.0,184.8 L109.9,185.7 M114.0,165.6 L113.3,170.1 L112.1,173.3 L109.5,175.2 L110.3,179.0 L109.5,181.9 M119.3,155.4 L124.3,156.1 M96.4,179.7 L98.5,181.6 L102.7,184.8 L105.0,186.1 L105.3,188.0 L108.7,189.6 L111.0,190.2 M109.5,211.6 L112.5,209.7 L113.3,205.8 L115.6,202.0 M115.2,226.3 L112.9,222.4 L113.3,218.6 L112.5,213.5 L113.3,212.9 M80.0,228.9 L83.0,231.4 L86.8,233.3 L92.5,234.6 L98.5,234.9 M99.7,178.0 L103.4,177.8 L105.7,177.4 L108.7,179.4 L108.4,181.9 L109.5,181.9 M113.3,212.9 L116.7,212.5 L119.0,209.7 L120.8,213.2 L122.4,209.0 L126.3,208.7 L126.3,206.8 M109.5,211.6 L113.3,212.9 M53.1,238.4 L56.2,237.1 L61.8,238.4 L62.2,241.6 L60.7,244.1 L60.3,252.4 L58.4,253.1 L60.3,256.9 L59.2,260.7 L60.3,262.6 L58.4,266.4 L58.8,268.6 M244.0,240.9 L248.7,240.3 L251.4,243.5 L252.1,246.0 L255.5,250.5 L256.3,252.4 L254.4,260.7 L256.3,268.4 M223.0,277.0 L225.6,270.9 L228.7,271.9 L232.4,270.9 L238.1,270.3 L241.9,269.3 L247.0,269.0 L251.4,267.7 L256.3,268.4 M247.0,269.0 L243.4,272.8 L242.7,279.2 L241.9,286.2 M238.1,228.8 L243.8,229.4 L248.7,233.9 L252.5,233.3 L255.5,233.3 L259.3,235.2 M251.4,243.5 L255.1,242.8 L259.3,242.2 M59.2,154.5 L58.0,156.7 L56.2,157.4 L57.7,159.9 L60.3,158.6 L63.0,160.9 M80.2,281.8 L80.7,288.8 M119.3,270.0 L118.2,274.1 L118.2,281.1 L116.3,288.8" fill="none" stroke="#000" stroke-width="1.0" stroke-linejoin="round"/>
<path d="M66.6,275.1 L65.6,275.9 L64.1,274.7 L63.0,272.5 L62.6,270.9 L60.7,268.7 L58.8,268.6 L56.9,269.8 L54.3,269.0 L52.9,269.6 L53.5,266.4 L53.3,263.3 L53.7,260.4 L52.0,260.4 L52.0,258.8 L50.9,258.3 L51.2,256.2 L51.4,254.5 L52.6,252.1 L53.2,249.5 L53.9,246.7 L54.1,243.2 L53.5,239.7 L53.1,237.1 L53.3,235.2 L52.6,233.9 L51.6,232.0 L52.0,230.1 L53.1,229.4 L55.0,228.9 L56.5,226.9 L57.7,226.4 L59.2,227.5 L62.2,227.9 L64.7,227.2 L67.1,228.3 L69.8,228.8 L72.4,228.4 L74.3,228.7 L75.8,228.8 L78.1,229.3 L80.0,228.9 L81.1,228.0 L81.7,225.0 L82.1,220.8 L82.4,215.4 L82.3,212.9 L82.4,211.3 L80.0,209.0 L78.7,206.8 L78.5,204.2 L76.6,202.7 L73.9,201.4 L70.9,200.7 L70.2,199.8 L68.9,199.2 L70.5,198.8 L69.4,197.5 L68.7,196.9 L69.0,195.6 L71.3,195.0 L73.6,194.0 L75.5,194.4 L77.3,195.6 L79.2,195.3 L80.9,195.3 L80.7,191.8 L79.8,189.9 L79.4,188.5 L80.7,188.9 L82.0,188.6 L82.6,190.5 L84.9,190.8 L87.2,190.2 L87.6,188.6 L90.6,187.2 L92.5,185.7 L92.9,182.2 L93.8,180.6 L95.7,180.0 L98.5,178.3 L100.4,177.8 L100.8,175.9 L102.3,174.3 L103.6,172.0 L104.4,169.2 L104.8,167.9 L105.7,166.3 L108.0,165.3 L111.0,164.7 L113.3,165.0 L115.2,163.4 L117.4,164.1 L119.1,164.1 L119.7,161.9 L120.5,160.5 L119.3,158.6 L120.5,156.7 L119.3,154.8 L119.1,151.9 L117.6,151.3 L117.6,147.8 L117.8,144.0 L119.3,141.4 L122.7,141.1 L124.4,138.5 L126.9,137.3 L126.3,139.2 L126.0,142.4 L125.6,144.6 L128.0,145.5 L126.7,147.5 L125.4,149.4 L124.1,150.7 L123.5,151.9 L122.7,153.8 L123.9,155.4 L124.6,157.0 L125.4,158.6 L128.0,158.9 L128.8,161.2 L130.7,160.5 L132.6,159.9 L134.1,158.6 L136.4,158.9 L137.7,157.4 L138.6,159.3 L139.8,161.2 L141.3,161.5 L144.7,160.2 L148.1,158.9 L150.7,157.4 L154.1,156.1 L156.2,155.9 L157.0,158.0 L157.9,158.9 L160.6,158.6 L162.3,157.0 L162.3,155.1 L164.7,155.1 L166.6,153.5 L166.6,150.0 L166.4,147.8 L166.2,145.2 L166.6,142.0 L167.9,139.8 L168.9,138.5 L172.3,137.3 L174.2,139.8 L176.1,142.2 L178.0,141.8 L179.1,140.1 L178.9,136.6 L179.3,133.7 L176.1,132.8 L175.5,130.6 L175.7,128.0 L178.3,127.0 L180.4,126.4 L183.3,125.8 L187.0,126.1 L190.8,126.4 L193.1,126.4 L195.4,124.8 L196.9,123.5 L201.0,123.5 L198.8,121.9 L195.4,119.4 L192.0,119.7 L188.6,120.0 L185.2,120.7 L181.4,121.8 L178.3,122.6 L175.7,123.2 L173.4,123.9 L171.9,122.3 L170.8,120.0 L168.5,119.1 L167.6,116.5 L168.3,113.3 L167.6,110.1 L167.0,107.9 L167.8,105.0 L168.5,103.1 L171.5,101.2 L174.2,98.3 L177.6,95.8 L179.9,93.2 L182.9,91.0 L182.5,88.4 L179.9,86.5 L178.2,85.9 L174.9,85.9 L171.2,87.2 L168.9,88.4 L167.8,91.0 L166.6,92.9 L165.5,94.8 L163.6,98.3 L160.6,100.3 L157.9,102.5 L156.0,104.7 L153.0,107.6 L152.6,110.8 L151.7,113.3 L152.1,116.5 L151.9,118.8 L154.5,119.7 L156.8,121.3 L158.1,122.9 L157.2,126.1 L155.3,127.0 L154.1,129.3 L152.2,130.9 L150.4,131.8 L149.6,134.4 L150.0,138.2 L149.2,140.8 L148.8,144.3 L146.9,147.5 L144.7,147.5 L142.4,147.5 L141.1,148.7 L140.5,152.2 L137.5,152.6 L135.6,152.2 L136.0,151.0 L135.6,149.4 L134.5,147.8 L135.0,146.8 L134.5,145.2 L135.4,144.3 L133.7,141.4 L132.2,139.2 L131.6,137.6 L131.1,135.0 L129.7,133.1 L129.2,129.9 L128.8,128.6 L127.7,127.4 L127.5,123.5 L126.1,126.1 L125.4,129.0 L123.5,129.6 L121.6,131.5 L119.3,133.7 L117.1,135.0 L113.7,135.8 L111.8,135.0 L109.5,133.1 L108.0,130.9 L108.0,129.3 L106.8,127.4 L106.5,124.8 L106.1,122.3 L105.5,120.3 L105.3,117.8 L105.7,115.2 L105.5,112.7 L106.1,110.5 L107.2,108.9 L109.9,107.3 L112.5,105.4 L114.8,104.1 L116.1,103.1 L118.6,101.2 L120.5,99.6 L123.5,98.7 L125.4,96.7 L128.0,94.2 L129.5,91.6 L132.2,89.1 L133.3,86.5 L134.8,84.0 L136.4,81.4 L137.9,78.9 L140.5,77.0 L141.3,76.3 L143.5,74.4 L144.3,71.9 L146.9,69.9 L148.1,68.0 L147.3,66.1 L150.0,64.2 L153.0,62.3 L156.0,60.7 L158.3,61.0 L160.9,59.1 L164.0,58.5 L167.0,57.8 L170.0,56.9 L172.3,55.3 L176.1,54.3 L178.7,53.0 L182.1,52.4 L184.4,51.8 L187.8,53.0 L191.2,52.1 L193.9,53.0 L197.6,54.6 L201.4,55.3 L204.5,56.9 L202.2,58.5 L198.8,59.4 L200.7,60.4 L204.1,60.7 L207.9,60.1 L211.6,62.6 L216.2,63.2 L220.3,63.9 L224.9,65.2 L229.0,67.1 L232.4,69.3 L235.9,70.6 L237.4,71.2 L239.6,73.1 L241.9,75.1 L243.4,77.3 L243.0,79.5 L241.1,81.4 L238.1,82.7 L234.3,84.0 L230.6,84.3 L226.8,83.0 L223.0,82.1 L219.2,80.8 L216.2,80.2 L213.5,79.8 L211.3,78.2 L209.4,77.3 L210.1,79.5 L212.4,81.4 L214.7,82.7 L217.3,85.3 L218.1,88.4 L217.7,91.6 L218.4,94.2 L221.1,95.1 L224.1,97.4 L226.8,98.3 L228.7,96.7 L228.3,94.8 L225.6,92.9 L224.9,91.3 L227.5,89.7 L230.6,91.6 L233.6,92.6 L237.0,93.6 L240.0,93.9 L238.9,91.6 L238.1,89.1 L239.3,86.5 L241.9,84.3 L244.9,82.4 L247.6,81.7 L250.6,82.1 L252.9,84.0 L254.4,84.0 L255.1,81.4 L253.6,78.2 L252.5,75.7 L251.7,72.5 L250.6,69.3 L250.6,67.7 L253.3,68.4 L259.3,69.0 L259.3,288.8 L222.6,288.8 L222.6,282.4 L222.1,279.1 L222.6,276.7 L223.7,272.2 L222.6,270.3 L221.1,272.2 L218.1,270.9 L215.4,274.1 L212.8,275.4 L210.9,276.0 L208.6,272.8 L205.2,270.9 L202.6,270.6 L202.2,273.5 L201.4,274.7 L198.8,274.7 L196.9,272.2 L195.0,270.9 L192.7,272.2 L190.5,271.6 L190.1,269.6 L190.8,267.7 L189.7,267.1 L188.9,264.5 L186.7,262.0 L188.2,260.7 L188.2,258.8 L188.2,256.9 L186.7,255.0 L185.5,253.7 L185.9,251.1 L186.7,249.5 L185.9,250.2 L187.0,247.6 L188.2,246.7 L185.9,246.4 L185.2,245.7 L183.3,245.1 L181.4,244.4 L179.1,244.8 L176.8,246.0 L176.8,248.6 L178.7,249.2 L176.5,249.5 L177.2,250.8 L175.1,250.8 L174.9,248.9 L173.4,246.7 L172.3,247.6 L172.7,250.5 L173.6,253.1 L174.8,255.0 L173.4,256.6 L172.1,257.5 L173.8,259.4 L176.1,261.0 L177.8,262.3 L177.8,265.2 L175.9,263.6 L174.4,264.2 L174.6,265.8 L173.2,266.1 L174.2,268.7 L173.6,273.1 L172.1,270.9 L171.5,273.1 L170.4,270.6 L168.9,270.9 L168.5,267.7 L168.7,265.5 L166.8,264.2 L167.8,262.0 L169.3,261.0 L166.6,260.1 L165.5,257.5 L165.1,256.2 L163.2,253.7 L162.5,252.4 L160.2,248.6 L160.4,246.7 L160.6,244.1 L160.4,242.2 L160.9,239.0 L159.1,237.7 L156.8,235.2 L155.3,233.6 L152.6,231.4 L149.2,228.2 L146.9,226.9 L144.7,224.3 L143.2,221.2 L141.7,218.6 L141.3,216.7 L139.8,218.6 L138.2,218.0 L138.6,214.8 L136.7,213.8 L134.1,215.4 L133.3,217.3 L134.1,219.2 L133.3,221.8 L134.1,224.3 L136.0,226.3 L138.2,228.2 L139.4,232.0 L140.5,234.9 L142.4,237.1 L144.1,238.1 L147.3,238.1 L148.1,239.0 L146.9,240.3 L148.5,242.2 L150.7,243.5 L153.0,245.4 L154.9,246.7 L156.8,249.9 L156.2,251.8 L154.9,249.9 L153.0,248.6 L151.1,247.3 L149.2,250.5 L149.6,253.1 L151.5,254.3 L151.7,257.2 L149.6,258.2 L149.4,260.7 L147.7,263.6 L146.0,263.6 L146.0,261.7 L146.9,259.8 L147.7,257.2 L146.6,253.7 L145.8,250.5 L144.3,249.2 L143.2,247.6 L141.7,246.7 L140.9,245.4 L139.0,242.8 L136.0,242.5 L134.1,240.9 L133.0,239.0 L131.1,237.1 L129.2,235.2 L128.0,232.6 L126.5,231.4 L125.8,228.2 L125.0,225.0 L123.1,224.3 L120.1,222.4 L117.8,225.3 L115.2,226.6 L113.3,227.9 L111.8,230.1 L109.1,230.7 L106.8,229.4 L105.0,228.8 L103.1,228.5 L100.4,229.4 L98.5,231.4 L98.3,234.6 L98.9,235.8 L98.9,238.4 L97.4,240.3 L95.1,242.2 L92.5,243.2 L90.2,244.1 L89.4,246.0 L87.9,249.2 L86.4,251.8 L85.7,254.3 L86.8,257.5 L87.6,258.5 L85.3,261.0 L84.5,263.3 L83.8,265.8 L81.9,266.1 L80.4,267.7 L79.4,270.3 L78.5,271.4 L75.8,271.6 L73.6,271.4 L70.2,271.6 L67.9,273.1Z M62.2,288.8 L63.0,282.4 L64.1,279.2 L64.9,277.3 L66.8,276.7 L68.6,280.5 L71.7,281.1 L75.5,280.8 L78.5,281.8 L81.1,280.5 L84.5,277.6 L87.2,276.7 L91.7,272.8 L95.1,272.2 L98.1,270.9 L101.9,270.3 L105.7,271.6 L109.5,269.6 L112.5,269.3 L116.3,270.3 L119.3,270.0 L121.6,268.4 L124.3,267.7 L125.8,269.0 L128.4,269.0 L126.5,271.6 L126.9,275.4 L127.3,277.3 L128.4,278.6 L128.8,281.1 L128.0,283.0 L127.7,288.8Z M65.2,186.4 L67.9,186.7 L70.9,184.5 L73.6,184.1 L74.3,182.6 L77.3,182.9 L79.6,182.2 L81.9,181.6 L83.8,181.9 L87.6,181.9 L90.6,180.6 L92.1,179.4 L92.1,178.1 L89.4,177.4 L90.2,176.5 L91.7,174.6 L93.4,171.4 L93.2,169.5 L91.7,167.9 L88.7,167.9 L87.6,168.8 L87.9,166.3 L87.2,164.4 L86.0,163.1 L86.4,160.5 L84.9,158.3 L82.3,157.0 L81.1,154.8 L80.7,151.0 L79.2,149.1 L77.0,148.4 L74.7,148.1 L77.0,146.5 L76.2,145.5 L77.7,143.3 L78.9,141.1 L80.0,138.9 L79.2,137.6 L75.5,137.6 L71.7,138.2 L72.4,136.6 L75.1,132.5 L73.9,131.5 L70.2,132.2 L67.9,131.8 L66.8,134.4 L66.4,136.3 L64.9,138.5 L66.0,140.8 L64.9,143.3 L63.3,144.0 L66.0,145.9 L65.6,149.1 L65.0,152.6 L66.2,150.0 L68.3,150.3 L69.4,151.6 L67.9,154.8 L67.5,156.7 L70.2,155.8 L73.2,155.1 L73.9,157.4 L73.2,158.6 L74.7,160.5 L75.8,162.8 L75.1,164.7 L73.2,165.6 L70.9,165.6 L69.0,165.6 L69.8,168.2 L71.3,168.8 L71.3,171.1 L69.8,173.3 L67.5,174.3 L67.1,175.9 L68.3,176.5 L70.5,176.2 L72.4,176.5 L74.7,177.4 L76.6,176.5 L75.5,178.4 L73.6,179.0 L70.9,179.0 L69.0,180.3 L67.9,182.9 L66.4,185.4Z M62.8,172.7 L60.3,173.3 L58.0,174.3 L55.4,175.2 L53.1,176.5 L49.7,177.4 L48.2,174.9 L47.8,173.3 L49.3,170.1 L50.9,169.5 L51.2,167.6 L49.3,165.6 L48.6,163.7 L49.3,161.2 L49.0,159.6 L52.0,159.3 L54.3,159.3 L53.9,157.0 L55.0,155.8 L55.4,153.8 L57.7,153.2 L58.8,152.4 L60.7,153.5 L63.3,153.5 L65.2,156.1 L66.0,158.6 L64.1,161.2 L63.2,163.1 L63.7,165.6 L64.1,167.9 L63.3,170.8Z M26.3,97.4 L30.1,96.1 L31.9,94.8 L33.8,92.9 L35.5,90.4 L35.4,87.8 L32.7,85.9 L31.6,83.7 L30.1,82.1 L26.3,81.4Z M52.6,53.7 L54.3,53.0 L56.5,51.8 L56.7,52.1 L54.6,53.4Z M58.0,108.9 L60.3,107.9 L63.0,108.2 L61.8,110.8 L60.7,114.0 L59.2,110.8Z M81.9,123.9 L83.0,121.6 L83.8,117.8 L82.6,118.4 L80.7,120.3 L81.5,122.9Z M73.9,129.9 L76.2,130.2 L77.7,128.0 L75.8,127.0 L74.3,128.3Z M58.4,141.4 L59.6,138.2 L60.7,136.3 L63.3,132.5 L62.2,135.7 L59.9,139.5Z M61.5,139.2 L63.3,137.6 L65.2,140.4 L63.3,141.1Z M95.7,253.4 L97.0,250.8 L98.9,251.1 L99.9,252.4 L98.9,254.6 L97.2,253.7Z M101.2,250.2 L103.1,251.1 L102.7,251.8 L101.4,251.1Z M91.3,257.2 L92.9,256.2 L92.5,257.8Z M122.4,231.4 L122.9,233.9 L122.4,237.7 L121.6,241.6 L120.1,240.3 L119.3,237.7 L119.1,235.2 L120.8,233.3Z M122.7,242.8 L123.9,244.8 L123.5,247.9 L123.1,251.1 L123.3,255.0 L121.2,255.6 L119.3,257.5 L118.6,256.2 L118.8,252.4 L119.0,248.6 L117.8,246.7 L118.2,244.8 L120.5,244.4 L121.6,242.5Z M133.7,264.5 L134.8,262.3 L137.1,262.0 L139.0,262.9 L142.0,262.9 L145.6,261.3 L144.3,265.2 L143.9,267.7 L144.7,269.6 L143.9,271.9 L141.7,270.9 L139.8,269.0 L136.7,266.4 L134.5,265.8Z M175.7,280.5 L177.6,278.9 L179.5,279.8 L183.3,280.2 L186.3,280.8 L185.9,282.4 L183.3,282.7 L180.6,282.7 L177.6,281.1 L175.7,281.1Z M209.0,282.4 L211.3,281.4 L213.5,280.2 L215.8,279.5 L217.7,277.9 L215.4,282.4 L213.9,282.7 L211.6,285.0 L209.4,284.0Z M191.6,275.4 L193.5,273.1 L192.7,276.0Z M173.8,257.2 L174.9,258.8 L177.6,261.0 L179.7,263.3 L178.3,261.0 L176.1,258.5 L174.2,256.9Z M184.6,255.0 L186.3,254.3 L187.4,256.6 L185.5,256.2Z M184.8,259.8 L185.7,259.4 L185.2,262.0Z M187.4,264.5 L188.9,264.9 L188.2,265.5Z M155.3,138.9 L157.5,136.0 L159.4,136.6 L157.9,140.1 L156.4,142.7 L155.3,140.8Z M148.8,147.1 L149.6,147.1 L151.5,139.8 L150.4,140.1Z M169.3,133.7 L170.0,131.8 L173.8,131.8 L174.9,133.7 L172.3,135.7 L170.0,136.0Z M170.8,129.9 L172.3,128.6 L173.8,130.2 L171.5,131.2Z M128.4,152.2 L129.2,153.5 L132.2,154.8 L134.1,153.5 L133.7,151.0 L134.5,148.4 L131.4,147.8 L128.4,149.1Z M123.7,151.6 L125.4,151.0 L127.7,152.9 L126.9,154.5 L124.6,154.2Z M128.4,155.8 L132.2,155.1 L132.2,157.4 L129.2,157.0Z M142.4,154.2 L143.9,153.5 L143.5,154.8Z M136.0,72.8 L139.8,70.3 L145.4,69.0 L146.6,67.4 L142.0,69.9 L138.2,71.5Z M160.9,122.3 L163.6,121.0 L163.2,122.6Z M182.7,268.7 L183.5,269.0 L183.3,270.0 L182.7,269.6Z M181.8,269.0 L182.3,269.0 L182.1,269.8Z M180.8,266.8 L181.2,266.4 L181.2,267.2Z M182.7,273.1 L183.1,273.1 L183.0,273.8Z M178.7,265.5 L179.1,265.2 L179.0,265.9Z M188.6,268.4 L189.1,268.7 L188.8,269.3Z M188.9,270.6 L190.3,270.3 L189.7,271.2Z M178.7,271.2 L179.5,271.0 L179.3,271.9Z M184.4,270.0 L185.2,270.2 L184.8,270.6Z M182.1,265.8 L182.9,265.5 L182.5,266.4Z M179.9,263.6 L181.0,263.9 L180.4,264.5Z M185.2,260.7 L185.5,261.0 L185.3,261.7Z M182.9,251.1 L183.6,250.8 L183.3,251.8Z M179.9,246.0 L180.4,246.4 L180.1,247.0Z M148.8,229.4 L150.7,229.8 L149.6,230.4Z M149.2,230.7 L151.9,231.0 L150.4,231.7Z M142.8,221.2 L144.3,223.1 L143.5,223.7Z M141.3,218.6 L142.0,219.9 L141.1,221.2Z M62.2,145.2 L64.1,144.6 L64.9,146.2 L63.0,146.5Z M63.3,149.1 L64.1,148.7 L63.7,151.0Z M60.3,142.7 L58.8,142.0 L59.2,143.6Z M196.9,242.8 L195.0,242.2 L192.7,240.3 L192.3,237.7 L191.2,234.6 L192.3,232.0 L192.7,230.1 L195.0,227.5 L195.2,223.7 L196.1,221.2 L199.2,218.6 L199.2,216.0 L201.0,213.5 L203.1,209.0 L204.8,208.4 L207.1,209.7 L209.7,211.6 L211.6,212.5 L209.7,216.0 L213.2,217.3 L213.9,221.2 L215.8,222.4 L217.3,221.2 L219.6,219.9 L220.7,218.6 L224.5,218.3 L226.0,218.6 L227.9,219.9 L229.8,221.2 L232.8,223.7 L237.0,227.5 L239.3,230.7 L241.9,232.6 L244.2,236.5 L244.2,240.3 L241.9,243.5 L239.3,244.1 L237.0,244.1 L232.1,244.4 L229.0,243.5 L226.8,242.8 L224.1,242.2 L222.6,239.7 L220.0,237.7 L215.4,237.7 L212.8,237.7 L209.0,239.7 L206.0,242.2 L202.2,242.8 L197.6,242.8Z M218.4,211.6 L220.3,210.3 L222.6,208.1 L226.0,207.4 L228.7,205.5 L231.3,205.2 L235.1,204.2 L234.0,207.1 L231.7,208.4 L230.2,210.9 L230.6,212.9 L229.8,214.1 L228.7,216.0 L226.0,216.0 L224.1,215.7 L221.1,216.7 L220.0,215.1 L218.4,212.9Z M187.8,247.9 L190.1,247.6 L192.3,247.9 L195.0,247.9 L196.5,247.6 L197.3,245.4 L196.1,243.8 L194.6,244.1 L192.0,244.4 L190.1,245.1 L188.6,246.7Z" fill="none" stroke="#000" stroke-width="1.2" stroke-linejoin="round"/>
<path d="M106.2,130.9 105.8,129.8 105.8,129.3 103.9,128.4 105.1,126.3 104.3,125.1 102.4,124.1 104.3,122.6 104.8,121.6 104.7,120.5 103.7,119.2 103.5,117.7 102.7,116.1 103.9,115.2 104.2,114.1 104.7,112.6 105.3,111.4 105.0,110.0 106.3,109.4 106.1,107.7 107.3,106.9 107.7,105.7 108.8,105.7 108.8,104.0 109.6,103.1 111.1,103.0 112.8,103.2 114.4,103.5 115.5,102.3 115.5,100.6 116.7,100.5 117.7,100.1 118.4,99.1 119.2,97.4 120.7,96.7 121.8,96.9 122.9,97.8 123.7,96.9 124.7,96.0 124.7,94.7 125.4,94.1 125.5,92.9 126.5,93.0 127.2,92.6 127.2,91.4 126.9,89.6 128.9,89.6 129.2,88.7 130.5,88.7 130.4,87.8 130.0,87.1 131.0,86.5 131.9,85.8 132.5,84.9 133.7,84.5 134.3,83.6 133.3,81.9 131.6,79.8 133.9,79.9 135.4,79.7 137.0,79.5 136.5,77.6 136.8,75.6 138.1,75.4 139.0,75.1 140.5,75.5 141.5,75.1 141.5,73.6 140.9,72.9 141.4,72.4 143.2,71.1 144.2,69.9 144.6,68.6 144.5,67.7 146.5,68.4 147.3,68.0 145.9,67.8 144.3,65.2 146.2,62.8 146.5,61.2 148.4,61.8 150.2,62.3 151.1,61.6 151.9,60.4 153.3,60.4 154.1,59.5 155.8,59.3 157.6,58.1 158.1,60.4 158.5,59.4 158.4,57.5 159.9,56.7 161.7,57.6 162.7,57.2 163.9,58.1 164.8,57.6 165.8,57.3 166.7,56.6 167.5,55.8 168.4,55.1 169.1,54.9 169.6,54.6 169.7,53.2 170.9,52.1 172.7,52.8 173.6,52.4 174.9,53.4 175.6,52.9 176.0,52.0 177.3,52.3 178.3,51.7 179.9,52.8 180.8,51.8 181.6,50.3 182.4,49.0 184.4,51.0 185.5,51.4 187.0,50.0 187.6,51.0 187.8,50.2 188.0,49.4 188.8,48.0 191.2,49.7 192.6,51.0 193.4,51.6 194.1,52.3 195.3,52.3 195.8,53.7 197.5,52.3 198.0,53.4 198.8,53.8 199.9,52.9 201.0,52.0 202.8,51.3 203.8,53.2 204.7,54.0 203.6,58.4 M106.6,130.9 106.8,129.5 106.0,129.2 104.3,128.2 104.5,126.4 104.6,125.1 105.7,123.6 105.0,122.5 105.1,121.5 103.8,120.6 103.9,119.2 103.7,117.7 104.3,116.3 103.9,115.2 102.8,114.2 103.1,112.5 102.8,110.8 103.8,109.5 105.1,108.5 106.9,108.5 107.7,107.6 108.0,106.2 108.3,104.9 109.3,104.6 109.5,103.0 110.8,102.6 112.5,102.7 113.9,102.8 115.9,102.8 117.0,102.6 117.2,101.2 117.1,99.4 117.6,98.2 119.1,97.2 120.8,97.1 122.0,97.5 122.6,97.3 122.8,96.1 122.4,93.7 124.4,94.4 124.9,93.6 125.5,92.9 126.0,92.6 126.6,92.2 127.4,91.5 127.9,90.3 128.7,89.4 129.8,89.3 131.7,89.9 132.0,88.9 129.9,87.1 130.9,86.5 130.8,85.2 131.5,84.3 132.4,83.7 132.5,82.6 132.2,81.3 132.9,80.6 135.2,80.8 136.0,80.1 137.3,79.7 137.5,78.5 138.2,77.4 139.5,77.4 139.7,75.9 140.4,75.3 141.4,74.9 141.2,73.2 142.1,73.6 141.5,72.4 142.4,70.6 143.5,68.8 144.4,68.3 145.3,68.5 145.8,68.0 145.8,67.8 145.5,68.0 145.7,65.6 146.5,63.1 148.3,63.7 149.8,63.9 150.0,62.0 150.2,60.0 151.9,60.4 153.8,61.3 155.0,61.3 155.9,60.1 157.3,59.5 158.0,59.9 158.8,59.9 158.8,58.0 159.6,56.0 161.6,57.0 162.7,57.5 163.8,57.8 164.5,56.1 165.5,55.7 166.7,56.6 168.1,57.7 168.9,56.8 168.9,54.6 170.1,55.4 170.7,54.7 171.6,53.7 172.5,52.2 173.5,52.2 174.9,53.8 175.3,52.3 176.2,52.3 177.1,51.8 178.2,51.5 179.8,52.6 180.5,50.0 181.3,48.9 182.4,49.0 184.4,48.4 186.0,50.0 186.6,51.0 187.8,50.5 187.8,51.1 188.8,52.3 189.7,50.9 191.2,50.6 192.6,51.1 193.9,50.1 194.8,50.6 196.5,49.5 196.7,51.6 198.0,51.0 198.3,52.4 199.0,52.1 200.0,52.0 201.1,51.5 202.3,52.8 203.4,54.0 204.6,54.2 203.6,58.4 M106.8,130.9 106.0,129.7 105.6,129.4 105.3,127.9 106.0,126.2 105.6,124.9 104.5,123.8 105.1,122.5 103.5,122.0 103.0,120.8 104.5,119.1 103.9,117.7 102.3,116.0 103.7,115.2 102.8,114.2 102.3,112.4 104.1,111.1 104.3,109.7 105.0,108.5 106.7,108.3 107.0,106.5 108.0,106.2 109.1,106.1 109.4,104.8 110.2,104.0 111.0,102.9 112.7,103.0 113.9,102.7 115.5,102.3 115.7,100.9 116.2,99.8 118.2,100.7 118.2,98.9 118.4,95.9 121.0,97.8 122.1,97.7 122.6,97.3 122.9,96.1 123.9,95.3 124.9,95.0 125.2,93.9 125.6,93.0 126.0,92.6 126.4,92.1 126.2,90.8 127.5,90.0 128.6,89.3 129.8,89.3 130.3,88.4 130.0,87.5 131.7,87.8 132.1,87.0 132.1,85.9 132.3,84.8 132.6,83.8 133.5,83.2 134.2,82.4 134.5,81.5 135.2,80.7 136.3,80.3 136.7,79.3 136.3,77.4 137.2,76.1 138.1,75.5 139.1,75.1 139.4,74.0 140.9,74.4 141.6,73.7 141.4,73.2 141.4,72.4 142.2,70.4 143.3,68.6 144.2,68.0 144.2,67.5 146.9,68.6 147.8,68.0 147.6,67.1 145.9,65.7 147.3,64.2 148.1,63.5 149.5,63.5 150.6,63.0 151.1,61.4 151.5,59.7 152.1,58.1 153.9,59.2 155.8,59.5 157.4,59.3 157.6,57.9 158.6,59.6 159.3,58.7 160.3,57.6 161.6,57.1 162.5,56.4 163.5,56.3 164.3,55.3 165.7,56.7 166.4,55.6 167.8,56.8 168.8,56.5 169.5,55.8 168.8,53.5 170.3,54.0 171.8,54.3 172.8,53.4 174.0,54.1 174.8,53.4 175.5,52.7 176.3,52.6 177.1,52.0 178.0,50.8 179.6,51.2 180.8,51.7 181.9,51.4 183.0,51.2 184.4,51.1 185.9,50.5 187.1,49.8 187.8,50.3 187.8,48.8 187.7,48.3 189.0,48.5 191.2,49.1 193.1,49.6 194.1,49.7 194.4,51.8 195.9,50.8 196.1,53.0 197.1,53.4 198.0,53.4 198.9,52.9 199.8,53.2 200.7,53.7 201.7,54.6 202.8,55.0 204.1,55.0 203.7,58.3 M105.7,130.9 104.1,130.1 105.5,129.5 104.1,128.3 105.5,126.3 103.8,125.2 104.5,123.8 104.5,122.6 103.7,121.9 102.9,120.8 102.8,119.3 103.4,117.7 103.8,116.3 102.9,115.1 102.7,114.2 103.1,112.5 102.8,110.8 103.5,109.3 104.3,107.9 106.1,107.6 106.7,106.0 107.4,105.1 108.7,105.5 110.2,105.9 111.0,105.1 111.7,104.0 112.6,102.8 113.4,102.0 115.2,102.0 116.5,101.9 116.8,100.7 117.0,99.3 117.6,98.2 119.5,97.8 121.0,97.7 121.8,96.7 122.2,96.7 122.0,95.3 124.4,95.7 124.4,94.4 125.3,94.0 125.9,93.3 127.1,93.5 127.7,92.8 127.0,91.3 129.3,91.4 128.5,89.2 128.9,88.3 129.5,87.6 130.5,87.9 130.5,87.3 131.3,86.6 131.5,85.6 131.6,84.4 131.7,83.3 133.7,83.3 134.6,82.7 134.4,81.4 133.6,79.8 135.1,79.6 135.6,78.7 135.5,76.7 137.0,75.8 138.7,76.3 139.7,75.9 140.2,75.1 140.4,73.7 141.9,74.0 141.1,72.9 141.3,72.4 143.5,71.3 144.8,70.7 144.9,69.0 144.6,67.9 146.6,68.4 147.3,68.0 146.9,67.4 144.4,65.2 147.0,63.7 147.1,62.1 149.4,63.3 150.3,62.5 151.2,61.7 152.4,61.2 153.4,60.6 154.2,59.6 155.7,58.7 157.4,59.4 158.2,60.7 159.2,60.5 160.0,59.7 160.6,58.4 161.8,58.0 162.8,57.8 163.7,57.0 164.6,56.5 165.6,56.4 166.4,55.5 167.1,54.8 168.0,54.0 169.9,56.6 170.5,55.9 170.7,54.6 170.9,52.2 172.7,53.1 173.7,53.1 174.4,51.8 175.0,51.4 176.6,53.1 176.9,51.5 178.5,52.3 179.6,51.2 180.5,49.8 181.4,49.3 182.5,49.3 184.4,50.1 185.4,51.8 186.7,50.9 187.6,51.0 187.8,50.6 188.5,51.0 189.5,50.5 191.2,48.4 193.3,48.9 194.0,50.0 194.6,51.0 195.6,51.7 196.5,52.1 197.2,53.1 198.0,53.6 199.0,52.2 200.2,50.8 200.9,52.4 202.0,53.6 203.4,54.0 204.3,54.7 204.2,57.3" fill="none" stroke="#000" stroke-width="1.2" stroke-linejoin="round"/><path d="M73.7,129.9 72.9,131.1 71.8,130.6 71.1,131.9 70.2,131.2 69.2,130.7 67.4,130.8 67.2,132.6 66.2,133.1 65.8,134.1 65.9,135.2 65.7,136.0 63.8,136.2 63.4,138.4 65.1,139.8 65.1,140.9 64.7,141.2 62.9,141.4 63.7,141.9 62.3,143.4 63.6,145.5 64.7,145.8 65.5,146.1 64.3,146.7 64.3,147.8 63.3,148.7 64.8,150.1 64.2,151.2 62.6,154.0 65.9,151.9 67.0,151.4 66.7,151.2 67.2,150.5 67.8,151.1 68.2,152.7 M49.3,177.7 47.1,177.8 48.4,176.0 48.1,174.9 47.6,173.3 46.6,171.4 46.8,170.2 49.0,169.7 49.7,168.2 50.0,168.3 49.3,168.3 50.1,166.8 49.2,165.7 48.8,164.8 47.0,163.7 48.4,162.3 48.5,161.2 48.0,159.2 49.9,159.0 51.0,159.1 51.9,158.3 53.1,157.7 53.0,158.2 53.0,158.3 52.3,156.4 54.1,155.2 53.9,154.5 54.4,153.6 M159.7,240.8 158.9,240.0 158.3,238.6 158.0,237.1 157.3,236.3 156.0,235.9 154.7,235.7 155.0,233.9 153.7,233.7 152.0,233.9 152.0,232.0 151.5,231.2 151.0,230.4 150.2,229.9 149.2,229.5 147.8,230.2 147.9,227.9 146.7,227.3 145.6,226.6 144.9,225.7 144.2,224.7 143.2,223.8 142.4,222.8 142.2,221.7 141.6,220.9 141.2,220.0 141.2,218.8 140.1,217.9 140.2,216.9 M186.1,248.9 185.5,250.9 185.3,248.9 185.5,248.0 185.1,246.0 187.2,246.7 186.9,247.6 185.5,247.3 184.8,246.4 183.4,247.9 183.0,245.8 182.2,245.2 181.3,246.0 180.4,246.1 179.8,246.7 178.6,246.5 177.3,246.3 179.4,247.3 177.9,248.0 178.0,248.2 176.6,248.4 177.4,248.3 175.6,249.3 179.0,251.2 176.2,251.4 175.1,250.9 176.8,249.7 174.3,249.2 174.0,247.9 173.3,248.6 173.2,248.1 173.9,248.4 175.5,249.2 174.1,250.1 174.1,250.9 174.1,251.9 175.0,252.4 174.7,253.7 175.8,255.0 174.8,256.4 173.6,256.8 173.2,257.8 173.7,257.8 174.5,258.7 175.9,258.1 176.2,259.2 177.0,259.8 177.6,260.8 178.9,261.7 179.3,263.3 176.5,264.2 178.0,266.5 176.8,264.4 175.9,263.5 174.6,264.3 176.2,266.8 175.2,267.8 174.8,266.5 174.8,267.5 174.9,268.6 174.7,269.7 175.0,270.6 175.3,271.6 174.9,272.4 173.8,272.4 173.5,271.6 172.1,272.4 170.9,271.8 172.2,274.7 171.0,272.4 169.1,272.2 170.2,271.2 168.8,271.1 168.5,269.9 166.9,269.0 167.3,267.7 167.8,266.5 168.1,265.8 167.3,265.5 166.4,264.3 167.2,263.1 167.7,261.9 167.4,260.1 168.2,261.2 167.3,261.0 166.4,260.7 M189.2,269.3 189.5,268.3 190.4,267.9 189.6,267.2 189.0,265.9 188.5,264.8 187.7,264.1 185.7,264.4 185.8,262.0 186.6,260.3 186.9,260.1 186.3,259.8 185.7,258.8 187.2,257.8 186.7,257.5 186.8,256.4 185.8,255.7 183.8,254.3 184.9,252.3 184.9,250.8 186.1,249.3 M204.0,60.1 204.9,60.1 205.9,60.2 206.6,58.2 208.0,59.6 208.9,60.2 210.0,60.2 211.2,60.1 211.2,61.6 211.9,62.0 212.7,61.5 213.5,62.3 214.4,62.5 215.4,62.2 216.4,61.7 217.5,61.8 218.4,62.6 219.4,63.4 220.4,63.6 221.4,63.5 222.7,62.3 223.6,62.7 224.3,63.7 225.0,64.8 225.8,65.4 226.8,65.5 227.7,65.5 228.6,65.9 230.2,65.1 230.7,66.3 231.0,67.9 232.0,68.1 233.0,68.3 234.3,67.1 234.7,68.4 235.4,69.1 236.4,69.1 238.4,68.8" fill="none" stroke="#000" stroke-width="1.0" stroke-linejoin="round"/>
</g>
<rect x="29.4" y="46.8" width="227.49999999999997" height="2.9" fill="#fff"/>
<rect x="29.4" y="278.70000000000005" width="227.49999999999997" height="2.9" fill="#fff"/>
<rect x="29.4" y="46.8" width="2.9" height="234.8" fill="#fff"/>
<rect x="253.99999999999997" y="46.8" width="2.9" height="234.8" fill="#fff"/>
<rect x="35.35" y="46.8" width="6.05" height="2.9" fill="#000"/>
<rect x="64.10" y="46.8" width="22.70" height="2.9" fill="#000"/>
<rect x="109.50" y="46.8" width="22.70" height="2.9" fill="#000"/>
<rect x="154.89" y="46.8" width="22.70" height="2.9" fill="#000"/>
<rect x="200.29" y="46.8" width="22.70" height="2.9" fill="#000"/>
<rect x="240.01" y="46.8" width="16.89" height="2.9" fill="#000"/>
<rect x="29.40" y="278.70000000000005" width="5.95" height="2.9" fill="#000"/>
<rect x="41.40" y="278.70000000000005" width="22.70" height="2.9" fill="#000"/>
<rect x="86.80" y="278.70000000000005" width="22.70" height="2.9" fill="#000"/>
<rect x="132.20" y="278.70000000000005" width="22.70" height="2.9" fill="#000"/>
<rect x="177.59" y="278.70000000000005" width="22.70" height="2.9" fill="#000"/>
<rect x="222.99" y="278.70000000000005" width="17.02" height="2.9" fill="#000"/>
<rect x="29.4" y="71.86" width="2.9" height="25.52" fill="#000"/>
<rect x="29.4" y="122.90" width="2.9" height="25.52" fill="#000"/>
<rect x="29.4" y="173.94" width="2.9" height="25.52" fill="#000"/>
<rect x="29.4" y="224.98" width="2.9" height="25.52" fill="#000"/>
<rect x="29.4" y="265.81" width="2.9" height="15.79" fill="#000"/>
<rect x="253.99999999999997" y="46.80" width="2.9" height="25.06" fill="#000"/>
<rect x="253.99999999999997" y="97.38" width="2.9" height="25.52" fill="#000"/>
<rect x="253.99999999999997" y="148.42" width="2.9" height="25.52" fill="#000"/>
<rect x="253.99999999999997" y="199.46" width="2.9" height="25.52" fill="#000"/>
<rect x="253.99999999999997" y="250.50" width="2.9" height="15.31" fill="#000"/>
<rect x="29.4" y="46.8" width="227.49999999999997" height="234.8" fill="none" stroke="#777" stroke-width="0.6"/>
<rect x="32.3" y="49.699999999999996" width="221.69999999999996" height="229.0" fill="none" stroke="#999" stroke-width="0.5"/>
<rect x="268.0" y="46.5" width="16.69999999999999" height="235.8" fill="#111"/>
<rect x="269.40" y="47.05" width="13.90" height="4.95" fill="#F0108C"/>
<rect x="269.40" y="53.10" width="13.90" height="4.95" fill="#F01880"/>
<rect x="269.40" y="59.14" width="13.90" height="4.95" fill="#F02070"/>
<rect x="269.40" y="65.19" width="13.90" height="4.95" fill="#F02860"/>
<rect x="269.40" y="71.23" width="13.90" height="4.95" fill="#F03050"/>
<rect x="269.40" y="77.28" width="13.90" height="4.95" fill="#F04040"/>
<rect x="269.40" y="83.33" width="13.90" height="4.95" fill="#F85030"/>
<rect x="269.40" y="89.37" width="13.90" height="4.95" fill="#F86028"/>
<rect x="269.40" y="95.42" width="13.90" height="4.95" fill="#F87020"/>
<rect x="269.40" y="101.47" width="13.90" height="4.95" fill="#F87820"/>
<rect x="269.40" y="107.51" width="13.90" height="4.95" fill="#F88818"/>
<rect x="269.40" y="113.56" width="13.90" height="4.95" fill="#F89818"/>
<rect x="269.40" y="119.60" width="13.90" height="4.95" fill="#F8A818"/>
<rect x="269.40" y="125.65" width="13.90" height="4.95" fill="#F8B818"/>
<rect x="269.40" y="131.70" width="13.90" height="4.95" fill="#F0C818"/>
<rect x="269.40" y="137.74" width="13.90" height="4.95" fill="#F0D018"/>
<rect x="269.40" y="143.79" width="13.90" height="4.95" fill="#F0D818"/>
<rect x="269.40" y="149.83" width="13.90" height="4.95" fill="#F0E000"/>
<rect x="269.40" y="155.88" width="13.90" height="4.95" fill="#F0E060"/>
<rect x="269.40" y="161.93" width="13.90" height="4.95" fill="#F5EB9A"/>
<rect x="269.40" y="167.97" width="13.90" height="4.95" fill="#FBF3CC"/>
<rect x="269.40" y="174.02" width="13.90" height="4.95" fill="#FFFFFF"/>
<rect x="269.40" y="180.07" width="13.90" height="4.95" fill="#8CECB0"/>
<rect x="269.40" y="186.11" width="13.90" height="4.95" fill="#10E060"/>
<rect x="269.40" y="192.16" width="13.90" height="4.95" fill="#00E010"/>
<rect x="269.40" y="198.20" width="13.90" height="4.95" fill="#00D840"/>
<rect x="269.40" y="204.25" width="13.90" height="4.95" fill="#10D868"/>
<rect x="269.40" y="210.30" width="13.90" height="4.95" fill="#20D098"/>
<rect x="269.40" y="216.34" width="13.90" height="4.95" fill="#20C8C4"/>
<rect x="269.40" y="222.39" width="13.90" height="4.95" fill="#18B8E8"/>
<rect x="269.40" y="228.43" width="13.90" height="4.95" fill="#20A8F0"/>
<rect x="269.40" y="234.48" width="13.90" height="4.95" fill="#1890F8"/>
<rect x="269.40" y="240.53" width="13.90" height="4.95" fill="#1878F8"/>
<rect x="269.40" y="246.57" width="13.90" height="4.95" fill="#1060F8"/>
<rect x="269.40" y="252.62" width="13.90" height="4.95" fill="#1048F0"/>
<rect x="269.40" y="258.67" width="13.90" height="4.95" fill="#4038F0"/>
<rect x="269.40" y="264.71" width="13.90" height="4.95" fill="#6828E8"/>
<rect x="269.40" y="270.76" width="13.90" height="4.95" fill="#9010E0"/>
<rect x="269.40" y="276.80" width="13.90" height="4.95" fill="#C000D8"/>
<text transform="translate(291.2,63.3) scale(1,1.2)" class="cb">0.5</text>
<text transform="translate(291.2,87.5) scale(1,1.2)" class="cb">0.4</text>
<text transform="translate(291.2,111.7) scale(1,1.2)" class="cb">0.3</text>
<text transform="translate(291.2,135.9) scale(1,1.2)" class="cb">0.2</text>
<text transform="translate(291.2,160.1) scale(1,1.2)" class="cb">0.1</text>
<text transform="translate(291.4,184.3) scale(1,1.2)" class="cb">0</text>
<text transform="translate(286.3,208.5) scale(1,1.2)" class="cb">-0.1</text>
<text transform="translate(286.3,232.7) scale(1,1.2)" class="cb">-0.2</text>
<text transform="translate(286.3,256.9) scale(1,1.2)" class="cb">-0.3</text>
<text transform="translate(286.3,281.1) scale(1,1.2)" class="cb">-0.4</text>
<text transform="translate(319.2,163.3) rotate(-90)" text-anchor="middle" class="cbl">correlation coefficient</text>
<text transform="translate(27.2,51.2) scale(1,1.17)" text-anchor="end" class="ax">72<tspan class="deg" dy="-3.5">o</tspan><tspan dy="3.5">N</tspan></text>
<text transform="translate(27.2,102.3) scale(1,1.17)" text-anchor="end" class="ax">64<tspan class="deg" dy="-3.5">o</tspan><tspan dy="3.5">N</tspan></text>
<text transform="translate(27.2,153.3) scale(1,1.17)" text-anchor="end" class="ax">56<tspan class="deg" dy="-3.5">o</tspan><tspan dy="3.5">N</tspan></text>
<text transform="translate(27.2,204.4) scale(1,1.17)" text-anchor="end" class="ax">48<tspan class="deg" dy="-3.5">o</tspan><tspan dy="3.5">N</tspan></text>
<text transform="translate(27.2,255.4) scale(1,1.17)" text-anchor="end" class="ax">40<tspan class="deg" dy="-3.5">o</tspan><tspan dy="3.5">N</tspan></text>
<text transform="translate(42.4,293.2) scale(1,1.17)" text-anchor="middle" class="ax">12<tspan class="deg" dy="-3.5">o</tspan><tspan dy="3.5">W</tspan></text>
<text transform="translate(87.8,293.2) scale(1,1.17)" text-anchor="middle" class="ax">0<tspan class="deg" dy="-3.5">o</tspan><tspan dy="3.5"></tspan></text>
<text transform="translate(133.2,293.2) scale(1,1.17)" text-anchor="middle" class="ax">12<tspan class="deg" dy="-3.5">o</tspan><tspan dy="3.5">E</tspan></text>
<text transform="translate(178.6,293.2) scale(1,1.17)" text-anchor="middle" class="ax">24<tspan class="deg" dy="-3.5">o</tspan><tspan dy="3.5">E</tspan></text>
<text transform="translate(224.0,293.2) scale(1,1.17)" text-anchor="middle" class="ax">36<tspan class="deg" dy="-3.5">o</tspan><tspan dy="3.5">E</tspan></text>
<text text-anchor="middle" class="pl" transform="translate(160.5,322.3) scale(1,1.03)" x="0" y="0">(<tspan font-weight="bold">a</tspan>)</text>
</g>
<g transform="matrix(1.0264 0 0 1.0157 342.705 -5.132)">
<text transform="translate(143.4,22.2) scale(1,1.04)" text-anchor="middle" class="t1">Correlation Map</text>
<text transform="translate(143.4,39.0) scale(1,1.06)" text-anchor="middle" class="t1 t2">EAWR Index JFM vs. PP FMA</text>
<g clip-path="url(#mapclip)">
<g clip-path="url(#landclip)">
<g filter="url(#cm)"><path fill="#040404" d="M198 196h10v5h-10z"/><path fill="#070707" d="M193 201h5v5h-5zM188 206h10v5h-10zM183 211h5v5h-5z"/><path fill="#080808" d="M203 191h5v5h-5zM208 196h5v5h-5z"/><path fill="#090909" d="M193 196h5v5h-5z"/><path fill="#0a0a0a" d="M183 216h5v5h-5z"/><path fill="#0b0b0b" d="M198 201h5v5h-5zM183 206h5v5h-5zM178 211h5v5h-5zM188 211h5v5h-5z"/><path fill="#0c0c0c" d="M198 191h5v5h-5zM208 191h5v5h-5zM193 241h5v5h-5z"/><path fill="#0d0d0d" d="M143 196h5v5h-5zM213 196h5v5h-5zM193 246h5v5h-5z"/><path fill="#0e0e0e" d="M133 186h5v5h-5zM188 201h5v5h-5zM193 211h5v5h-5z"/><path fill="#0f0f0f" d="M133 181h5v5h-5zM178 216h5v5h-5z"/><path fill="#101010" d="M138 196h5v5h-5zM193 251h5v5h-5z"/><path fill="#111111" d="M153 191h5v5h-5zM203 201h5v5h-5zM178 206h5v5h-5zM188 241h5v5h-5z"/><path fill="#121212" d="M138 186h5v5h-5zM153 186h5v5h-5zM133 191h10v5h-10zM198 241h5v5h-5zM188 246h5v5h-5z"/><path fill="#131313" d="M143 191h5v5h-5zM173 211h5v5h-5zM193 236h5v5h-5zM198 246h5v5h-5zM188 251h5v5h-5z"/><path fill="#141414" d="M128 186h5v5h-5zM213 191h5v5h-5zM143 201h5v5h-5zM198 206h5v5h-5z"/><path fill="#151515" d="M148 191h5v5h-5zM163 221h5v5h-5zM193 256h5v5h-5z"/><path fill="#161616" d="M128 181h5v5h-5zM193 191h5v5h-5zM198 211h5v5h-5zM188 216h5v5h-5z"/><path fill="#171717" d="M148 186h5v5h-5zM188 256h5v5h-5z"/><path fill="#181818" d="M138 181h5v5h-5zM128 191h5v5h-5zM138 201h5v5h-5zM163 216h10v5h-10zM183 221h5v5h-5z"/><path fill="#191919" d="M143 186h5v5h-5zM133 196h5v5h-5zM188 196h5v5h-5zM183 201h5v5h-5zM208 201h5v5h-5zM158 221h5v5h-5zM163 226h5v5h-5z"/><path fill="#1a1a1a" d="M173 206h5v5h-5zM168 211h5v5h-5zM158 216h5v5h-5zM173 216h5v5h-5zM188 236h5v5h-5zM198 236h5v5h-5zM183 241h5v5h-5z"/><path fill="#1b1b1b" d="M133 176h5v5h-5zM123 191h5v5h-5zM123 196h5v5h-5zM198 251h5v5h-5z"/><path fill="#1c1c1c" d="M128 176h5v5h-5zM168 221h5v5h-5zM183 246h5v5h-5z"/><path fill="#1d1d1d" d="M103 196h5v5h-5zM128 196h5v5h-5zM153 216h5v5h-5zM198 216h5v5h-5z"/><path fill="#1e1e1e" d="M218 196h5v5h-5zM183 251h5v5h-5z"/><path fill="#1f1f1f" d="M123 186h5v5h-5zM148 196h5v5h-5zM138 206h5v5h-5zM148 216h5v5h-5zM193 216h5v5h-5zM153 221h5v5h-5zM188 221h5v5h-5z"/><path fill="#202020" d="M103 191h10v5h-10zM118 191h5v5h-5zM108 196h5v5h-5zM143 206h5v5h-5zM178 221h5v5h-5zM168 226h5v5h-5zM178 241h5v5h-5zM183 256h5v5h-5z"/><path fill="#212121" d="M203 186h5v5h-5zM98 196h5v5h-5zM118 196h5v5h-5zM158 226h5v5h-5zM183 236h5v5h-5zM203 241h5v5h-5zM203 246h5v5h-5z"/><path fill="#222222" d="M123 181h5v5h-5zM113 191h5v5h-5zM133 201h5v5h-5zM203 221h5v5h-5zM163 231h10v5h-10z"/><path fill="#232323" d="M113 181h5v5h-5zM158 186h5v5h-5zM113 196h5v5h-5zM178 201h5v5h-5zM203 226h5v5h-5zM198 231h10v5h-10zM178 236h5v5h-5z"/><path fill="#242424" d="M183 111h5v5h-5zM108 186h5v5h-5zM118 186h5v5h-5zM198 186h5v5h-5zM208 186h5v5h-5zM98 191h5v5h-5zM218 191h5v5h-5zM163 211h5v5h-5zM203 216h5v5h-5zM173 221h5v5h-5zM198 221h5v5h-5zM173 236h5v5h-5zM203 236h5v5h-5z"/><path fill="#252525" d="M128 171h5v5h-5zM113 176h5v5h-5zM123 176h5v5h-5zM108 181h5v5h-5zM118 181h5v5h-5zM103 186h5v5h-5zM113 186h5v5h-5zM168 206h5v5h-5zM143 211h5v5h-5zM148 221h5v5h-5zM198 226h5v5h-5zM188 261h5v5h-5z"/><path fill="#262626" d="M213 201h5v5h-5zM203 206h5v5h-5zM148 211h5v5h-5zM143 216h5v5h-5zM193 231h5v5h-5zM173 241h5v5h-5zM198 256h5v5h-5z"/><path fill="#272727" d="M123 171h5v5h-5zM118 176h5v5h-5zM138 176h5v5h-5zM143 181h5v5h-5zM158 191h5v5h-5zM93 196h5v5h-5zM148 201h5v5h-5zM168 236h5v5h-5zM178 246h5v5h-5z"/><path fill="#282828" d="M108 176h5v5h-5zM103 181h5v5h-5zM98 186h5v5h-5zM93 191h5v5h-5z"/><path fill="#292929" d="M188 111h5v5h-5zM183 116h5v5h-5zM173 201h5v5h-5zM133 206h5v5h-5zM153 211h10v5h-10zM183 226h5v5h-5zM188 231h5v5h-5zM178 251h5v5h-5zM203 251h5v5h-5zM178 256h5v5h-5z"/><path fill="#2a2a2a" d="M98 181h5v5h-5zM158 231h5v5h-5zM173 231h5v5h-5zM183 261h5v5h-5zM193 261h5v5h-5z"/><path fill="#2b2b2b" d="M118 171h5v5h-5zM93 186h5v5h-5zM88 191h5v5h-5zM88 196h5v5h-5zM193 221h5v5h-5zM173 226h5v5h-5zM188 226h5v5h-5zM178 231h10v5h-10zM168 241h5v5h-5z"/><path fill="#2c2c2c" d="M178 111h5v5h-5zM123 166h5v5h-5zM113 171h5v5h-5zM103 176h5v5h-5zM188 191h5v5h-5zM83 196h5v5h-5zM153 196h5v5h-5zM183 196h5v5h-5zM98 201h5v5h-5zM148 206h5v5h-5zM153 226h5v5h-5zM178 226h5v5h-5z"/><path fill="#2d2d2d" d="M183 106h5v5h-5zM193 186h5v5h-5zM83 191h5v5h-5zM73 196h10v5h-10zM203 211h5v5h-5zM193 226h5v5h-5z"/><path fill="#2e2e2e" d="M188 116h5v5h-5zM93 181h5v5h-5zM213 186h5v5h-5zM168 201h5v5h-5zM163 206h5v5h-5zM163 236h5v5h-5z"/><path fill="#2f2f2f" d="M178 116h5v5h-5zM118 166h5v5h-5zM108 171h5v5h-5zM133 171h5v5h-5zM98 176h5v5h-5zM78 191h5v5h-5zM138 211h5v5h-5zM173 246h5v5h-5z"/><path fill="#303030" d="M128 166h5v5h-5zM88 186h5v5h-5zM68 196h5v5h-5zM223 196h5v5h-5zM93 201h5v5h-5zM103 201h5v5h-5zM143 221h5v5h-5zM173 256h5v5h-5zM178 261h5v5h-5z"/><path fill="#313131" d="M103 171h5v5h-5zM68 201h5v5h-5zM163 201h5v5h-5zM63 206h5v5h-5zM168 246h5v5h-5z"/><path fill="#323232" d="M188 106h5v5h-5zM148 181h5v5h-5zM73 191h5v5h-5zM163 196h5v5h-5zM128 201h5v5h-5zM173 261h5v5h-5z"/><path fill="#333333" d="M123 161h5v5h-5zM93 176h5v5h-5zM83 186h5v5h-5zM68 191h5v5h-5zM158 196h5v5h-5zM158 236h5v5h-5zM208 246h5v5h-5zM173 251h5v5h-5z"/><path fill="#343434" d="M178 106h5v5h-5zM128 161h5v5h-5zM113 166h5v5h-5zM88 181h5v5h-5zM168 196h5v5h-5zM63 201h5v5h-5zM148 226h5v5h-5zM208 226h5v5h-5zM208 231h5v5h-5zM163 241h5v5h-5zM208 241h5v5h-5zM168 256h5v5h-5z"/><path fill="#353535" d="M153 181h5v5h-5zM163 191h5v5h-5zM178 196h5v5h-5zM108 201h5v5h-5zM208 236h5v5h-5zM168 251h5v5h-5z"/><path fill="#363636" d="M118 161h5v5h-5zM108 166h5v5h-5zM98 171h5v5h-5zM53 196h5v5h-5zM123 201h5v5h-5zM158 206h5v5h-5zM163 246h5v5h-5zM198 261h5v5h-5z"/><path fill="#373737" d="M78 186h5v5h-5zM173 196h5v5h-5zM88 201h5v5h-5zM218 201h5v5h-5zM153 206h5v5h-5zM153 231h5v5h-5zM168 261h5v5h-5z"/><path fill="#383838" d="M223 191h5v5h-5zM58 196h10v5h-10zM158 241h5v5h-5zM203 256h5v5h-5z"/><path fill="#393939" d="M173 111h5v5h-5zM193 111h5v5h-5zM173 116h5v5h-5zM143 176h5v5h-5zM83 181h5v5h-5zM158 181h5v5h-5zM113 201h5v5h-5zM153 201h10v5h-10zM208 206h5v5h-5zM208 221h5v5h-5zM173 266h10v5h-10z"/><path fill="#3a3a3a" d="M123 156h10v5h-10zM113 161h5v5h-5zM88 176h5v5h-5zM73 186h5v5h-5zM163 186h5v5h-5zM73 201h5v5h-5zM158 246h5v5h-5zM163 251h5v5h-5zM208 251h5v5h-5zM183 266h5v5h-5z"/><path fill="#3b3b3b" d="M133 166h5v5h-5zM68 186h5v5h-5zM218 186h5v5h-5zM63 191h5v5h-5zM83 201h5v5h-5zM118 201h5v5h-5z"/><path fill="#3c3c3c" d="M183 121h5v5h-5zM103 166h5v5h-5zM183 281h5v5h-5zM183 286h5v5h-5z"/><path fill="#3d3d3d" d="M118 156h5v5h-5zM133 161h5v5h-5zM93 171h5v5h-5zM78 181h5v5h-5zM58 201h5v5h-5zM78 201h5v5h-5zM68 206h5v5h-5zM153 236h5v5h-5zM163 256h5v5h-5zM168 266h5v5h-5zM188 266h5v5h-5zM183 276h5v5h-5z"/><path fill="#3e3e3e" d="M193 116h5v5h-5zM138 171h5v5h-5zM53 201h5v5h-5zM93 206h5v5h-5zM133 211h5v5h-5z"/><path fill="#3f3f3f" d="M183 101h5v5h-5zM133 156h5v5h-5zM108 161h5v5h-5zM73 181h5v5h-5zM188 186h5v5h-5zM168 191h5v5h-5zM138 216h5v5h-5zM143 226h5v5h-5zM153 241h5v5h-5zM163 261h5v5h-5zM188 281h5v5h-5zM188 286h5v5h-5z"/><path fill="#404040" d="M178 121h5v5h-5zM128 151h5v5h-5zM63 186h5v5h-5zM208 216h5v5h-5zM153 246h5v5h-5zM178 271h5v5h-5z"/><path fill="#414141" d="M173 106h5v5h-5zM193 106h5v5h-5zM188 121h5v5h-5zM123 151h5v5h-5zM113 156h5v5h-5zM68 181h5v5h-5zM63 211h5v5h-5zM163 266h5v5h-5zM183 271h5v5h-5zM188 276h5v5h-5z"/><path fill="#424242" d="M83 176h5v5h-5zM183 191h5v5h-5z"/><path fill="#434343" d="M108 156h5v5h-5zM148 231h5v5h-5zM213 231h5v5h-5z"/><path fill="#444444" d="M178 101h5v5h-5zM188 101h5v5h-5zM118 151h5v5h-5zM98 166h5v5h-5zM88 171h5v5h-5zM98 206h5v5h-5zM213 246h5v5h-5z"/><path fill="#454545" d="M123 146h5v5h-5zM108 151h5v5h-5zM133 151h5v5h-5zM63 181h5v5h-5zM163 181h5v5h-5zM173 191h5v5h-5zM213 236h5v5h-5zM213 241h5v5h-5zM158 251h5v5h-5z"/><path fill="#464646" d="M168 116h5v5h-5zM123 141h5v5h-5zM58 191h5v5h-5zM223 201h5v5h-5zM58 206h5v5h-5zM208 256h5v5h-5zM153 266h10v5h-10zM193 266h5v5h-5zM188 271h5v5h-5z"/><path fill="#474747" d="M173 121h5v5h-5zM78 176h5v5h-5zM148 176h5v5h-5zM203 181h5v5h-5zM178 191h5v5h-5zM228 196h5v5h-5zM88 206h5v5h-5zM213 226h5v5h-5zM203 261h5v5h-5zM153 271h5v5h-5zM173 271h5v5h-5z"/><path fill="#484848" d="M168 111h5v5h-5zM103 151h5v5h-5zM113 151h5v5h-5zM103 161h5v5h-5zM168 186h5v5h-5zM213 251h5v5h-5z"/><path fill="#494949" d="M118 141h5v5h-5zM118 146h5v5h-5zM128 146h5v5h-5zM138 161h5v5h-5zM73 176h5v5h-5zM198 181h5v5h-5zM218 231h5v5h-5zM158 271h5v5h-5zM178 276h5v5h-5z"/><path fill="#4a4a4a" d="M108 146h5v5h-5zM138 156h5v5h-5zM138 166h5v5h-5zM208 181h5v5h-5zM93 211h5v5h-5zM208 211h5v5h-5zM168 271h5v5h-5zM193 281h5v5h-5z"/><path fill="#4b4b4b" d="M103 156h5v5h-5zM93 166h5v5h-5zM83 171h5v5h-5zM58 186h5v5h-5zM53 191h5v5h-5zM138 221h5v5h-5zM148 236h5v5h-5zM163 271h5v5h-5zM193 286h5v5h-5z"/><path fill="#4c4c4c" d="M173 101h5v5h-5zM153 166h5v5h-5zM153 171h10v5h-10zM68 176h5v5h-5zM153 176h10v5h-10zM223 186h5v5h-5zM143 231h5v5h-5zM218 236h5v5h-5zM148 241h5v5h-5zM218 246h5v5h-5z"/><path fill="#4d4d4d" d="M113 146h5v5h-5zM143 171h5v5h-5zM58 181h5v5h-5zM48 196h5v5h-5zM128 206h5v5h-5zM218 241h5v5h-5zM148 246h5v5h-5zM198 266h5v5h-5zM193 276h5v5h-5zM178 281h5v5h-5zM178 286h5v5h-5z"/><path fill="#4e4e4e" d="M28 61h5v5h-5zM158 166h5v5h-5zM193 181h5v5h-5zM218 226h5v5h-5zM223 231h5v5h-5zM153 251h5v5h-5z"/><path fill="#4f4f4f" d="M168 106h5v5h-5zM168 121h5v5h-5zM193 121h5v5h-5zM123 136h5v5h-5zM103 146h5v5h-5zM133 146h5v5h-5zM163 161h5v5h-5zM163 176h5v5h-5zM168 181h5v5h-5zM228 191h5v5h-5zM213 206h5v5h-5zM93 216h5v5h-5zM218 251h5v5h-5zM213 256h5v5h-5z"/><path fill="#505050" d="M113 141h5v5h-5zM128 141h5v5h-5zM63 176h5v5h-5zM173 186h5v5h-5zM103 206h5v5h-5zM223 246h5v5h-5zM158 256h5v5h-5zM158 261h5v5h-5zM193 271h5v5h-5z"/><path fill="#515151" d="M58 101h5v5h-5zM193 101h5v5h-5zM163 116h5v5h-5zM138 151h5v5h-5zM88 166h5v5h-5zM163 166h5v5h-5zM58 176h5v5h-5zM188 181h5v5h-5zM213 181h5v5h-5zM223 236h5v5h-5zM223 241h5v5h-5zM208 261h5v5h-5zM148 266h5v5h-5z"/><path fill="#525252" d="M33 61h5v5h-5zM38 71h5v5h-5zM38 76h5v5h-5zM183 96h5v5h-5zM98 161h5v5h-5zM158 161h5v5h-5zM148 171h5v5h-5zM163 171h5v5h-5zM53 176h5v5h-5zM53 181h5v5h-5zM43 186h5v5h-5zM183 186h5v5h-5zM88 211h5v5h-5zM213 221h5v5h-5zM228 241h5v5h-5z"/><path fill="#535353" d="M178 96h5v5h-5zM143 156h5v5h-5zM163 156h5v5h-5zM143 161h5v5h-5zM78 171h5v5h-5zM43 191h10v5h-10zM138 226h5v5h-5zM228 236h5v5h-5zM198 281h5v5h-5zM198 286h5v5h-5z"/><path fill="#545454" d="M23 61h5v5h-5zM148 96h5v5h-5zM143 101h5v5h-5zM78 131h5v5h-5zM168 161h5v5h-5zM178 186h5v5h-5zM83 206h5v5h-5zM108 206h5v5h-5zM58 211h5v5h-5zM98 211h5v5h-5zM88 216h5v5h-5zM93 221h5v5h-5zM223 226h5v5h-5z"/><path fill="#555555" d="M38 66h5v5h-5zM43 71h5v5h-5zM53 91h5v5h-5zM153 91h5v5h-5zM173 96h5v5h-5zM188 96h5v5h-5zM148 101h5v5h-5zM68 111h10v5h-10zM163 111h5v5h-5zM163 121h5v5h-5zM83 131h5v5h-5zM118 136h5v5h-5zM128 136h5v5h-5zM98 151h5v5h-5zM153 161h5v5h-5zM148 166h5v5h-5zM168 176h5v5h-5zM53 186h5v5h-5zM228 201h5v5h-5zM228 246h5v5h-5zM223 251h5v5h-5zM198 276h5v5h-5z"/><path fill="#565656" d="M153 96h5v5h-5zM168 101h5v5h-5zM143 106h5v5h-5zM133 116h10v5h-10zM198 116h5v5h-5zM143 126h5v5h-5zM168 156h5v5h-5zM83 166h5v5h-5zM143 166h5v5h-5zM168 166h5v5h-5zM173 181h5v5h-5zM48 186h5v5h-5zM48 201h5v5h-5zM68 211h5v5h-5zM88 221h5v5h-5zM138 231h5v5h-5zM203 266h5v5h-5zM198 271h5v5h-5z"/><path fill="#575757" d="M48 91h5v5h-5zM63 101h5v5h-5zM128 111h5v5h-5zM68 116h5v5h-5zM143 121h5v5h-5zM93 141h5v5h-5zM98 156h5v5h-5zM158 156h5v5h-5zM168 171h5v5h-5zM98 216h5v5h-5zM143 236h5v5h-5zM218 256h5v5h-5zM213 261h5v5h-5zM148 271h5v5h-5z"/><path fill="#585858" d="M133 111h10v5h-10zM143 116h5v5h-5zM138 121h5v5h-5zM78 126h5v5h-5zM178 126h10v5h-10zM73 171h5v5h-5zM218 181h5v5h-5zM38 186h5v5h-5zM38 191h5v5h-5zM143 246h5v5h-5zM148 251h5v5h-5zM203 281h5v5h-5zM203 286h5v5h-5z"/><path fill="#595959" d="M18 61h5v5h-5zM143 96h5v5h-5zM148 106h5v5h-5zM143 111h5v5h-5zM128 116h5v5h-5zM88 136h5v5h-5zM108 141h5v5h-5zM148 161h5v5h-5zM48 176h5v5h-5zM178 181h10v5h-10zM73 206h5v5h-5zM113 206h5v5h-5zM83 216h5v5h-5zM83 221h5v5h-5zM138 261h5v5h-5zM133 266h10v5h-10zM88 271h5v5h-5z"/><path fill="#5a5a5a" d="M28 66h5v5h-5zM43 76h5v5h-5zM38 81h5v5h-5zM158 86h5v5h-5zM153 101h5v5h-5zM58 106h5v5h-5zM138 106h5v5h-5zM198 111h5v5h-5zM123 116h5v5h-5zM133 121h5v5h-5zM138 126h5v5h-5zM88 141h5v5h-5zM218 146h5v5h-5zM58 151h5v5h-5zM148 156h5v5h-5zM53 171h5v5h-5zM133 216h5v5h-5zM98 221h5v5h-5zM143 241h5v5h-5zM228 251h5v5h-5zM108 266h5v5h-5zM83 271h5v5h-5zM93 271h5v5h-5zM203 276h5v5h-5z"/><path fill="#5b5b5b" d="M23 66h5v5h-5zM33 66h5v5h-5zM148 91h5v5h-5zM158 91h5v5h-5zM173 91h5v5h-5zM168 96h5v5h-5zM163 106h5v5h-5zM158 116h5v5h-5zM73 121h5v5h-5zM158 121h5v5h-5zM148 126h5v5h-5zM173 126h5v5h-5zM143 131h5v5h-5zM83 136h5v5h-5zM133 141h5v5h-5zM138 146h5v5h-5zM143 151h5v5h-5zM218 151h5v5h-5zM153 156h5v5h-5zM93 161h5v5h-5zM48 171h5v5h-5zM173 176h5v5h-5zM38 181h5v5h-5zM48 181h5v5h-5zM228 186h5v5h-5zM53 206h5v5h-5zM78 206h5v5h-5zM38 211h5v5h-5zM18 216h30v5h-30zM63 216h5v5h-5zM68 226h5v5h-5zM68 231h5v5h-5zM143 251h5v5h-5zM108 256h5v5h-5zM133 261h5v5h-5zM148 261h10v5h-10zM108 271h5v5h-5zM148 276h10v5h-10zM163 276h5v5h-5zM73 281h10v5h-10zM78 286h5v5h-5zM148 286h5v5h-5z"/><path fill="#5c5c5c" d="M18 66h5v5h-5zM193 96h5v5h-5zM138 101h5v5h-5zM123 111h5v5h-5zM148 111h5v5h-5zM68 121h5v5h-5zM148 121h5v5h-5zM168 126h5v5h-5zM218 141h5v5h-5zM58 146h5v5h-5zM98 146h5v5h-5zM163 151h5v5h-5zM58 156h5v5h-5zM83 161h5v5h-5zM223 161h5v5h-5zM223 166h5v5h-5zM43 181h5v5h-5zM18 211h5v5h-5zM33 211h5v5h-5zM128 211h5v5h-5zM93 226h5v5h-5zM118 231h10v5h-10zM73 236h10v5h-10zM138 236h5v5h-5zM233 241h5v5h-5zM108 251h5v5h-5zM123 256h5v5h-5zM108 261h5v5h-5zM113 266h5v5h-5zM208 266h5v5h-5zM203 271h5v5h-5zM158 276h5v5h-5zM173 276h5v5h-5zM208 281h5v5h-5zM208 286h5v5h-5z"/><path fill="#5d5d5d" d="M163 86h5v5h-5zM208 86h5v5h-5zM43 91h5v5h-5zM168 91h5v5h-5zM208 91h5v5h-5zM158 96h5v5h-5zM53 101h5v5h-5zM73 116h5v5h-5zM118 116h5v5h-5zM148 116h5v5h-5zM73 126h5v5h-5zM163 126h5v5h-5zM188 126h5v5h-5zM128 131h5v5h-5zM78 136h5v5h-5zM58 141h5v5h-5zM223 141h5v5h-5zM88 146h10v5h-10zM223 146h5v5h-5zM158 151h5v5h-5zM63 156h5v5h-5zM218 156h5v5h-5zM88 161h5v5h-5zM78 166h5v5h-5zM228 166h5v5h-5zM58 171h5v5h-5zM68 171h5v5h-5zM43 196h5v5h-5zM233 206h5v5h-5zM23 211h10v5h-10zM43 211h5v5h-5zM233 211h5v5h-5zM68 221h15v5h-15zM113 221h5v5h-5zM63 226h5v5h-5zM88 226h5v5h-5zM73 231h5v5h-5zM83 236h5v5h-5zM118 236h5v5h-5zM138 246h5v5h-5zM123 251h10v5h-10zM128 256h5v5h-5zM223 256h5v5h-5zM113 261h5v5h-5zM88 276h10v5h-10zM108 276h5v5h-5zM143 276h5v5h-5zM208 276h5v5h-5zM148 281h5v5h-5zM73 286h5v5h-5zM108 286h5v5h-5zM143 286h5v5h-5z"/><path fill="#5e5e5e" d="M18 81h10v5h-10zM18 86h5v5h-5zM153 86h5v5h-5zM168 86h5v5h-5zM203 86h5v5h-5zM213 86h5v5h-5zM38 91h5v5h-5zM213 91h5v5h-5zM43 96h15v5h-15zM158 101h10v5h-10zM53 106h5v5h-5zM63 106h5v5h-5zM153 106h5v5h-5zM63 111h5v5h-5zM158 111h5v5h-5zM63 116h5v5h-5zM48 121h5v5h-5zM58 126h5v5h-5zM133 126h5v5h-5zM158 126h5v5h-5zM58 131h5v5h-5zM148 131h5v5h-5zM58 136h10v5h-10zM168 136h5v5h-5zM223 136h5v5h-5zM63 141h5v5h-5zM158 141h5v5h-5zM168 141h5v5h-5zM63 146h5v5h-5zM83 146h5v5h-5zM213 146h5v5h-5zM53 151h5v5h-5zM63 151h5v5h-5zM88 151h5v5h-5zM153 151h5v5h-5zM168 151h5v5h-5zM223 151h5v5h-5zM53 156h5v5h-5zM223 156h5v5h-5zM173 161h5v5h-5zM218 161h5v5h-5zM173 171h5v5h-5zM33 181h5v5h-5zM18 191h5v5h-5zM28 196h10v5h-10zM233 196h5v5h-5zM83 211h5v5h-5zM108 221h5v5h-5zM83 226h5v5h-5zM98 226h15v5h-15zM78 231h5v5h-5zM113 231h5v5h-5zM128 231h10v5h-10zM228 231h5v5h-5zM68 236h5v5h-5zM113 236h5v5h-5zM123 236h5v5h-5zM138 241h5v5h-5zM108 246h5v5h-5zM103 251h5v5h-5zM113 251h10v5h-10zM138 251h5v5h-5zM103 256h5v5h-5zM118 256h5v5h-5zM228 256h5v5h-5zM103 261h5v5h-5zM128 261h5v5h-5zM143 261h5v5h-5zM218 261h5v5h-5zM213 266h5v5h-5zM98 271h10v5h-10zM138 271h10v5h-10zM223 271h5v5h-5zM83 276h5v5h-5zM103 276h5v5h-5zM168 276h5v5h-5zM108 281h5v5h-5zM223 281h5v5h-5z"/><path fill="#5f5f5f" d="M33 76h5v5h-5zM43 81h5v5h-5zM23 86h20v5h-20zM18 91h20v5h-20zM18 96h25v5h-25zM18 101h35v5h-35zM18 106h35v5h-35zM158 106h5v5h-5zM18 111h30v5h-30zM58 111h5v5h-5zM18 116h40v5h-40zM18 121h30v5h-30zM53 121h10v5h-10zM153 121h5v5h-5zM18 126h40v5h-40zM63 126h5v5h-5zM153 126h5v5h-5zM18 131h40v5h-40zM63 131h5v5h-5zM73 131h5v5h-5zM138 131h5v5h-5zM153 131h5v5h-5zM18 136h40v5h-40zM113 136h5v5h-5zM153 136h15v5h-15zM173 136h5v5h-5zM218 136h5v5h-5zM18 141h40v5h-40zM153 141h5v5h-5zM163 141h5v5h-5zM18 146h30v5h-30zM53 146h5v5h-5zM153 146h10v5h-10zM18 151h35v5h-35zM83 151h5v5h-5zM148 151h5v5h-5zM18 156h35v5h-35zM173 156h5v5h-5zM18 161h35v5h-35zM18 166h35v5h-35zM173 166h5v5h-5zM18 171h20v5h-20zM43 171h5v5h-5zM228 171h5v5h-5zM18 176h20v5h-20zM18 181h15v5h-15zM18 186h10v5h-10zM33 186h5v5h-5zM23 191h15v5h-15zM18 196h10v5h-10zM38 196h5v5h-5zM18 201h15v5h-15zM233 201h5v5h-5zM18 206h5v5h-5zM38 206h5v5h-5zM218 206h5v5h-5zM48 216h15v5h-15zM78 216h5v5h-5zM213 216h5v5h-5zM103 221h5v5h-5zM228 221h5v5h-5zM73 226h10v5h-10zM113 226h5v5h-5zM83 231h5v5h-5zM108 231h5v5h-5zM128 236h10v5h-10zM113 241h10v5h-10zM103 246h5v5h-5zM113 246h5v5h-5zM128 246h10v5h-10zM133 251h5v5h-5zM113 256h5v5h-5zM138 256h5v5h-5zM103 266h5v5h-5zM143 266h5v5h-5zM218 266h10v5h-10zM208 271h5v5h-5zM218 271h5v5h-5zM78 276h5v5h-5zM98 276h5v5h-5zM213 276h15v5h-15zM83 281h5v5h-5zM103 281h5v5h-5zM143 281h5v5h-5zM213 281h10v5h-10zM83 286h5v5h-5zM93 286h15v5h-15zM213 286h15v5h-15z"/><path fill="#606060" d="M33 71h5v5h-5zM18 76h10v5h-10zM28 81h10v5h-10zM163 81h10v5h-10zM43 86h5v5h-5zM173 86h5v5h-5zM163 91h5v5h-5zM178 91h5v5h-5zM198 91h10v5h-10zM163 96h5v5h-5zM128 106h5v5h-5zM48 111h10v5h-10zM153 111h5v5h-5zM58 116h5v5h-5zM153 116h5v5h-5zM63 121h5v5h-5zM118 121h15v5h-15zM68 126h5v5h-5zM68 131h5v5h-5zM123 131h5v5h-5zM133 131h5v5h-5zM158 131h15v5h-15zM223 131h5v5h-5zM83 141h5v5h-5zM173 141h5v5h-5zM48 146h5v5h-5zM163 146h5v5h-5zM213 151h5v5h-5zM83 156h10v5h-10zM53 161h5v5h-5zM38 171h5v5h-5zM43 176h5v5h-5zM223 181h5v5h-5zM28 186h5v5h-5zM33 201h5v5h-5zM23 206h15v5h-15zM68 216h5v5h-5zM103 216h15v5h-15zM58 221h5v5h-5zM218 221h5v5h-5zM63 231h5v5h-5zM123 241h15v5h-15zM118 246h10v5h-10zM133 256h5v5h-5zM143 256h5v5h-5zM153 256h5v5h-5zM228 261h5v5h-5zM113 271h5v5h-5zM213 271h5v5h-5zM228 276h5v5h-5zM88 281h15v5h-15zM228 281h5v5h-5zM88 286h5v5h-5zM153 286h15v5h-15zM228 286h5v5h-5z"/><path fill="#616161" d="M198 106h5v5h-5zM198 121h5v5h-5zM133 136h5v5h-5zM193 141h5v5h-5zM168 146h5v5h-5zM93 151h5v5h-5zM58 161h5v5h-5zM53 166h5v5h-5zM218 166h5v5h-5zM63 171h5v5h-5zM38 176h5v5h-5zM233 191h5v5h-5zM43 206h5v5h-5zM228 206h5v5h-5zM233 216h5v5h-5zM63 221h5v5h-5zM88 231h5v5h-5zM103 231h5v5h-5zM108 236h5v5h-5zM233 236h5v5h-5zM78 241h5v5h-5zM118 261h5v5h-5zM223 261h5v5h-5zM73 276h5v5h-5zM173 286h5v5h-5z"/><path fill="#626262" d="M28 56h5v5h-5zM18 71h10v5h-10zM28 76h5v5h-5zM48 86h5v5h-5zM198 86h5v5h-5zM193 91h5v5h-5zM213 96h5v5h-5zM128 126h5v5h-5zM173 131h5v5h-5zM218 131h5v5h-5zM68 136h10v5h-10zM148 136h5v5h-5zM188 141h5v5h-5zM213 141h5v5h-5zM148 146h5v5h-5zM193 146h5v5h-5zM93 156h5v5h-5zM63 161h5v5h-5zM223 171h5v5h-5zM178 176h5v5h-5zM203 176h10v5h-10zM38 201h5v5h-5zM103 211h10v5h-10zM73 216h5v5h-5zM53 221h5v5h-5zM118 226h10v5h-10zM133 226h5v5h-5zM93 231h5v5h-5zM88 236h5v5h-5zM83 241h5v5h-5zM108 241h5v5h-5zM88 266h5v5h-5zM228 271h5v5h-5zM153 281h10v5h-10z"/><path fill="#636363" d="M28 71h5v5h-5zM68 106h5v5h-5zM178 131h5v5h-5zM178 136h5v5h-5zM148 141h5v5h-5zM178 141h5v5h-5zM143 146h5v5h-5zM73 166h5v5h-5zM233 171h5v5h-5zM43 201h5v5h-5zM118 206h10v5h-10zM98 231h5v5h-5zM73 241h5v5h-5zM233 246h5v5h-5zM83 266h5v5h-5zM228 266h5v5h-5zM163 281h5v5h-5z"/><path fill="#646464" d="M183 91h10v5h-10zM218 91h5v5h-5zM198 96h5v5h-5zM133 106h5v5h-5zM213 111h5v5h-5zM213 116h5v5h-5zM143 136h5v5h-5zM138 141h5v5h-5zM198 146h5v5h-5zM208 146h5v5h-5zM173 151h5v5h-5zM213 156h5v5h-5zM78 161h5v5h-5zM58 166h5v5h-5zM48 206h5v5h-5zM48 211h10v5h-10zM228 211h5v5h-5zM223 221h5v5h-5zM228 226h5v5h-5zM93 236h5v5h-5zM103 241h5v5h-5zM148 256h5v5h-5zM233 256h5v5h-5zM93 266h5v5h-5zM113 276h5v5h-5zM173 281h5v5h-5zM233 281h5v5h-5z"/><path fill="#656565" d="M43 66h5v5h-5zM173 81h5v5h-5zM218 86h5v5h-5zM58 96h5v5h-5zM218 96h5v5h-5zM213 106h5v5h-5zM83 126h5v5h-5zM188 136h5v5h-5zM78 141h5v5h-5zM173 146h5v5h-5zM203 146h5v5h-5zM208 151h5v5h-5zM68 161h5v5h-5zM213 166h5v5h-5zM218 171h5v5h-5zM183 176h5v5h-5zM198 176h5v5h-5zM113 211h5v5h-5zM213 211h5v5h-5zM228 216h5v5h-5zM38 221h15v5h-15zM128 226h5v5h-5zM103 236h5v5h-5zM98 241h5v5h-5zM98 266h5v5h-5zM113 281h5v5h-5zM113 286h5v5h-5zM168 286h5v5h-5zM233 286h5v5h-5z"/><path fill="#666666" d="M63 96h5v5h-5zM208 96h5v5h-5zM203 116h10v5h-10zM213 121h5v5h-5zM123 126h5v5h-5zM183 131h5v5h-5zM138 136h5v5h-5zM183 136h5v5h-5zM68 141h5v5h-5zM183 141h5v5h-5zM188 146h5v5h-5zM213 161h5v5h-5zM228 161h5v5h-5zM68 166h5v5h-5zM213 176h5v5h-5zM228 176h5v5h-5zM228 181h5v5h-5zM18 221h20v5h-20zM133 221h5v5h-5zM58 226h5v5h-5zM98 236h5v5h-5zM88 241h5v5h-5zM233 251h5v5h-5zM123 261h5v5h-5zM233 261h5v5h-5zM233 276h5v5h-5zM168 281h5v5h-5z"/><path fill="#676767" d="M33 56h5v5h-5zM203 81h15v5h-15zM53 86h5v5h-5zM138 96h5v5h-5zM198 101h5v5h-5zM213 101h5v5h-5zM73 106h5v5h-5zM93 136h5v5h-5zM108 136h5v5h-5zM213 136h5v5h-5zM98 141h5v5h-5zM143 141h5v5h-5zM68 156h5v5h-5zM233 166h5v5h-5zM213 171h5v5h-5zM218 176h5v5h-5zM223 206h5v5h-5zM73 211h10v5h-10zM63 236h5v5h-5zM68 241h5v5h-5zM98 246h5v5h-5zM78 271h5v5h-5z"/><path fill="#686868" d="M158 81h5v5h-5zM198 81h5v5h-5zM193 86h5v5h-5zM193 126h5v5h-5zM218 126h10v5h-10zM193 136h5v5h-5zM103 141h5v5h-5zM203 151h5v5h-5zM63 166h5v5h-5zM208 171h5v5h-5zM223 176h5v5h-5zM233 186h5v5h-5zM93 241h5v5h-5zM133 271h5v5h-5z"/><path fill="#696969" d="M23 56h5v5h-5zM38 61h5v5h-5zM203 96h5v5h-5zM208 121h5v5h-5zM188 131h5v5h-5zM198 141h5v5h-5zM178 146h5v5h-5zM198 151h5v5h-5zM73 161h5v5h-5zM188 176h10v5h-10zM118 221h5v5h-5z"/><path fill="#6a6a6a" d="M218 81h5v5h-5zM143 91h5v5h-5zM203 121h5v5h-5zM183 146h5v5h-5zM178 151h5v5h-5zM78 156h5v5h-5zM208 166h5v5h-5zM203 171h5v5h-5zM233 176h5v5h-5z"/><path fill="#6b6b6b" d="M178 86h5v5h-5zM218 101h5v5h-5zM213 126h5v5h-5zM108 131h5v5h-5zM213 131h5v5h-5zM228 136h5v5h-5zM208 141h5v5h-5zM208 156h5v5h-5zM178 171h5v5h-5zM233 221h5v5h-5zM233 266h5v5h-5zM233 271h5v5h-5z"/><path fill="#6c6c6c" d="M123 106h5v5h-5zM118 131h5v5h-5zM73 141h5v5h-5zM228 141h5v5h-5zM78 146h5v5h-5zM228 146h5v5h-5zM193 151h5v5h-5zM178 156h5v5h-5zM233 181h5v5h-5z"/><path fill="#6d6d6d" d="M18 56h5v5h-5zM193 81h5v5h-5zM228 131h5v5h-5zM68 151h5v5h-5zM208 161h5v5h-5zM128 216h5v5h-5zM83 246h5v5h-5zM128 266h5v5h-5zM238 281h5v5h-5zM238 286h5v5h-5z"/><path fill="#6e6e6e" d="M168 76h5v5h-5zM218 106h5v5h-5zM208 111h5v5h-5zM78 121h5v5h-5zM88 131h5v5h-5zM203 141h5v5h-5zM68 146h5v5h-5zM188 151h5v5h-5zM228 151h5v5h-5zM178 166h5v5h-5zM203 166h5v5h-5zM118 216h5v5h-5zM78 246h5v5h-5zM98 251h5v5h-5zM98 261h5v5h-5zM138 276h5v5h-5zM68 281h5v5h-5zM68 286h5v5h-5z"/><path fill="#6f6f6f" d="M188 86h5v5h-5zM138 91h5v5h-5zM208 101h5v5h-5zM218 111h5v5h-5zM218 121h5v5h-5zM183 151h5v5h-5zM228 156h5v5h-5zM178 161h5v5h-5zM123 221h5v5h-5zM88 246h10v5h-10zM238 276h5v5h-5z"/><path fill="#707070" d="M223 96h5v5h-5zM203 111h5v5h-5zM218 116h5v5h-5zM103 131h5v5h-5zM193 131h5v5h-5zM78 151h5v5h-5zM73 156h5v5h-5zM198 171h5v5h-5zM218 216h5v5h-5zM128 221h5v5h-5zM98 256h5v5h-5zM118 266h5v5h-5z"/><path fill="#717171" d="M173 76h5v5h-5zM148 86h5v5h-5zM223 86h5v5h-5zM223 91h5v5h-5zM208 106h5v5h-5zM118 111h5v5h-5zM118 126h5v5h-5zM208 136h5v5h-5zM203 156h5v5h-5zM238 196h5v5h-5zM63 241h5v5h-5zM238 241h5v5h-5zM73 271h5v5h-5zM68 276h5v5h-5z"/><path fill="#727272" d="M183 86h5v5h-5zM123 101h5v5h-5zM198 126h5v5h-5zM198 136h5v5h-5zM223 216h5v5h-5zM58 231h5v5h-5zM238 256h5v5h-5zM238 261h5v5h-5zM78 266h5v5h-5z"/><path fill="#737373" d="M163 76h5v5h-5zM178 81h5v5h-5zM203 101h5v5h-5zM208 126h5v5h-5zM203 161h5v5h-5zM238 201h5v5h-5zM118 211h5v5h-5zM218 211h5v5h-5zM53 226h5v5h-5zM73 246h5v5h-5z"/><path fill="#747474" d="M228 126h5v5h-5zM238 191h5v5h-5zM238 206h5v5h-5zM223 211h5v5h-5zM238 236h5v5h-5zM238 271h5v5h-5z"/><path fill="#757575" d="M193 76h5v5h-5zM223 81h5v5h-5zM223 101h5v5h-5zM103 126h5v5h-5zM198 166h5v5h-5zM183 171h5v5h-5zM68 246h5v5h-5zM238 246h5v5h-5zM238 266h5v5h-5zM138 286h5v5h-5z"/><path fill="#767676" d="M128 101h5v5h-5zM208 131h5v5h-5zM193 171h5v5h-5zM238 211h5v5h-5zM238 251h5v5h-5z"/><path fill="#777777" d="M198 76h5v5h-5zM188 81h5v5h-5zM203 106h5v5h-5zM203 126h5v5h-5zM203 136h5v5h-5zM183 156h5v5h-5zM198 156h5v5h-5zM138 281h5v5h-5z"/><path fill="#787878" d="M153 81h5v5h-5zM198 131h5v5h-5zM103 136h5v5h-5zM123 216h5v5h-5zM18 226h5v5h-5zM48 226h5v5h-5zM243 281h5v5h-5z"/><path fill="#797979" d="M223 121h5v5h-5zM113 131h5v5h-5zM98 136h5v5h-5zM73 151h5v5h-5zM233 161h5v5h-5zM238 166h5v5h-5zM238 171h5v5h-5zM238 176h5v5h-5zM238 186h5v5h-5zM238 216h5v5h-5zM23 226h5v5h-5zM38 226h10v5h-10zM83 261h5v5h-5zM118 271h5v5h-5zM118 276h5v5h-5zM118 286h5v5h-5zM243 286h5v5h-5z"/><path fill="#7a7a7a" d="M193 71h5v5h-5zM133 101h5v5h-5zM73 146h5v5h-5zM188 171h5v5h-5zM238 181h5v5h-5zM28 226h10v5h-10zM233 231h5v5h-5zM83 251h5v5h-5zM93 251h5v5h-5zM88 261h10v5h-10zM68 271h5v5h-5zM243 276h5v5h-5z"/><path fill="#7b7b7b" d="M203 76h5v5h-5zM213 76h5v5h-5zM188 156h5v5h-5zM198 161h5v5h-5zM123 211h5v5h-5zM238 221h5v5h-5zM58 236h5v5h-5zM63 246h5v5h-5zM118 281h5v5h-5z"/><path fill="#7c7c7c" d="M208 76h5v5h-5zM218 76h5v5h-5zM88 251h5v5h-5zM128 271h5v5h-5z"/><path fill="#7d7d7d" d="M178 76h5v5h-5zM188 76h5v5h-5zM183 81h5v5h-5zM203 131h5v5h-5zM233 131h5v5h-5zM193 156h5v5h-5zM183 166h5v5h-5zM193 166h5v5h-5z"/><path fill="#7e7e7e" d="M58 91h5v5h-5zM223 106h5v5h-5zM113 116h5v5h-5zM113 121h5v5h-5zM183 161h5v5h-5zM78 251h5v5h-5zM63 271h5v5h-5z"/><path fill="#7f7f7f" d="M188 71h5v5h-5zM68 101h5v5h-5zM233 136h5v5h-5zM243 261h5v5h-5zM73 266h5v5h-5zM243 271h5v5h-5z"/><path fill="#808080" d="M48 81h5v5h-5zM78 111h5v5h-5zM108 126h5v5h-5zM233 141h5v5h-5zM233 146h5v5h-5zM243 196h5v5h-5zM233 226h5v5h-5zM243 266h5v5h-5zM63 276h5v5h-5zM63 281h5v5h-5z"/><path fill="#818181" d="M158 76h5v5h-5zM233 151h5v5h-5zM238 231h5v5h-5zM243 256h5v5h-5zM63 286h5v5h-5z"/><path fill="#828282" d="M188 66h10v5h-10zM48 71h5v5h-5zM168 71h5v5h-5zM223 111h5v5h-5zM113 126h5v5h-5zM233 126h5v5h-5zM188 166h5v5h-5zM58 241h5v5h-5zM73 251h5v5h-5zM83 256h5v5h-5zM63 266h10v5h-10zM123 266h5v5h-5z"/><path fill="#838383" d="M183 76h5v5h-5zM228 96h5v5h-5zM78 116h5v5h-5zM223 116h5v5h-5zM228 121h5v5h-5zM233 156h5v5h-5zM193 161h5v5h-5zM243 201h5v5h-5zM53 231h5v5h-5zM93 256h5v5h-5zM78 261h5v5h-5zM58 271h5v5h-5z"/><path fill="#848484" d="M173 71h5v5h-5zM198 71h5v5h-5zM68 96h5v5h-5zM188 161h5v5h-5zM238 161h5v5h-5zM243 191h5v5h-5zM68 251h5v5h-5zM88 256h5v5h-5zM58 266h5v5h-5zM248 281h5v5h-5z"/><path fill="#858585" d="M183 71h5v5h-5zM143 86h5v5h-5zM228 91h5v5h-5zM53 271h5v5h-5zM48 276h5v5h-5zM248 276h5v5h-5zM43 281h10v5h-10zM48 286h5v5h-5zM248 286h5v5h-5z"/><path fill="#868686" d="M38 56h5v5h-5zM48 76h5v5h-5zM113 111h5v5h-5zM238 226h5v5h-5zM18 231h5v5h-5zM243 241h5v5h-5zM58 246h5v5h-5zM63 251h5v5h-5zM243 251h5v5h-5zM53 276h10v5h-10zM43 286h5v5h-5zM53 286h5v5h-5z"/><path fill="#878787" d="M183 66h5v5h-5zM223 76h5v5h-5zM138 86h5v5h-5zM228 86h5v5h-5zM133 91h5v5h-5zM228 101h5v5h-5zM88 126h5v5h-5zM243 176h5v5h-5zM243 181h5v5h-5zM23 231h5v5h-5zM33 231h10v5h-10zM243 236h5v5h-5zM243 246h5v5h-5zM78 256h5v5h-5zM53 266h5v5h-5zM48 271h5v5h-5zM248 271h5v5h-5zM43 276h5v5h-5zM133 276h5v5h-5zM53 281h10v5h-10zM58 286h5v5h-5z"/><path fill="#888888" d="M163 71h5v5h-5zM178 71h5v5h-5zM243 186h5v5h-5zM28 231h5v5h-5zM43 231h10v5h-10z"/><path fill="#898989" d="M133 86h5v5h-5zM248 196h5v5h-5zM58 251h5v5h-5zM248 261h5v5h-5zM248 266h5v5h-5zM38 281h5v5h-5zM38 286h5v5h-5z"/><path fill="#8a8a8a" d="M248 256h5v5h-5zM48 266h5v5h-5zM38 276h5v5h-5z"/><path fill="#8b8b8b" d="M228 106h5v5h-5zM243 171h5v5h-5zM243 231h5v5h-5zM53 261h15v5h-15zM43 271h5v5h-5z"/><path fill="#8c8c8c" d="M188 61h5v5h-5zM133 96h5v5h-5zM248 201h5v5h-5zM243 206h5v5h-5zM18 236h10v5h-10zM38 236h10v5h-10zM53 236h5v5h-5zM38 241h5v5h-5zM38 246h5v5h-5zM18 251h30v5h-30zM258 251h10v5h-10zM18 256h5v5h-5zM28 256h10v5h-10zM263 256h5v5h-5zM48 261h5v5h-5zM68 261h10v5h-10zM33 271h10v5h-10zM263 271h5v5h-5zM18 276h5v5h-5zM263 276h5v5h-5zM18 281h5v5h-5zM18 286h5v5h-5zM263 286h5v5h-5z"/><path fill="#8d8d8d" d="M183 61h5v5h-5zM178 66h5v5h-5zM98 126h5v5h-5zM238 146h5v5h-5zM253 196h15v5h-15zM258 201h10v5h-10zM28 236h10v5h-10zM18 241h20v5h-20zM43 241h5v5h-5zM18 246h20v5h-20zM43 246h5v5h-5zM248 246h20v5h-20zM53 251h5v5h-5zM248 251h10v5h-10zM23 256h5v5h-5zM38 256h30v5h-30zM73 256h5v5h-5zM253 256h10v5h-10zM18 261h30v5h-30zM253 261h15v5h-15zM18 266h20v5h-20zM43 266h5v5h-5zM253 266h5v5h-5zM263 266h5v5h-5zM18 271h15v5h-15zM253 271h5v5h-5zM23 276h15v5h-15zM253 276h5v5h-5zM23 281h15v5h-15zM253 281h5v5h-5zM263 281h5v5h-5zM23 286h15v5h-15zM253 286h5v5h-5z"/><path fill="#8e8e8e" d="M48 66h5v5h-5zM228 81h5v5h-5zM78 106h5v5h-5zM228 111h5v5h-5zM228 116h5v5h-5zM233 121h5v5h-5zM238 131h5v5h-5zM238 151h5v5h-5zM238 156h5v5h-5zM248 191h5v5h-5zM253 201h5v5h-5zM243 226h5v5h-5zM53 246h5v5h-5zM48 251h5v5h-5zM68 256h5v5h-5zM38 266h5v5h-5zM258 266h5v5h-5zM258 271h5v5h-5zM123 276h5v5h-5zM258 276h5v5h-5z"/><path fill="#8f8f8f" d="M198 66h5v5h-5zM238 141h5v5h-5zM243 166h5v5h-5zM248 241h5v5h-5zM48 246h5v5h-5zM123 271h5v5h-5zM128 276h5v5h-5zM258 281h5v5h-5zM123 286h5v5h-5zM133 286h5v5h-5zM258 286h5v5h-5z"/><path fill="#909090" d="M83 121h5v5h-5zM98 131h5v5h-5zM238 136h5v5h-5zM248 176h5v5h-5zM48 236h5v5h-5zM53 241h5v5h-5zM123 281h5v5h-5z"/><path fill="#919191" d="M178 61h5v5h-5zM173 66h5v5h-5zM203 71h5v5h-5zM238 126h5v5h-5zM248 181h5v5h-5zM248 186h5v5h-5zM253 191h15v5h-15zM258 206h10v5h-10zM243 211h5v5h-5zM253 241h15v5h-15z"/><path fill="#929292" d="M193 61h5v5h-5zM103 121h5v5h-5zM243 161h5v5h-5zM253 171h15v5h-15zM253 206h5v5h-5zM248 236h5v5h-5zM48 241h5v5h-5z"/><path fill="#939393" d="M28 51h5v5h-5zM148 81h5v5h-5zM58 86h5v5h-5zM233 101h5v5h-5zM233 106h5v5h-5zM98 121h5v5h-5zM108 121h5v5h-5zM93 131h5v5h-5zM248 171h5v5h-5zM253 176h15v5h-15zM243 221h5v5h-5z"/><path fill="#949494" d="M168 66h5v5h-5zM233 96h5v5h-5zM118 106h5v5h-5zM243 146h5v5h-5zM243 151h5v5h-5zM253 166h15v5h-15zM253 181h5v5h-5zM263 181h5v5h-5zM263 186h5v5h-5zM248 206h5v5h-5zM248 231h5v5h-5zM133 281h5v5h-5z"/><path fill="#959595" d="M18 51h10v5h-10zM33 51h10v5h-10zM233 111h5v5h-5zM243 156h5v5h-5zM248 166h5v5h-5zM258 181h5v5h-5zM253 186h10v5h-10zM258 211h5v5h-5zM243 216h5v5h-5zM253 236h15v5h-15z"/><path fill="#969696" d="M43 61h5v5h-5zM173 61h5v5h-5zM63 91h5v5h-5zM233 116h5v5h-5zM253 211h5v5h-5zM263 211h5v5h-5z"/><path fill="#979797" d="M183 56h5v5h-5zM153 76h5v5h-5zM88 121h5v5h-5zM248 151h5v5h-5zM248 161h5v5h-5zM248 226h5v5h-5z"/><path fill="#989898" d="M188 56h5v5h-5zM53 81h5v5h-5zM233 91h5v5h-5zM238 121h5v5h-5zM248 146h5v5h-5zM258 161h10v5h-10zM258 216h5v5h-5zM263 231h5v5h-5zM128 286h5v5h-5z"/><path fill="#999999" d="M178 56h5v5h-5zM163 66h5v5h-5zM208 71h5v5h-5zM68 91h5v5h-5zM123 96h5v5h-5zM73 101h5v5h-5zM243 141h5v5h-5zM253 151h5v5h-5zM263 151h5v5h-5zM248 156h5v5h-5zM253 161h5v5h-5zM248 211h5v5h-5zM253 216h5v5h-5zM263 216h5v5h-5zM253 231h10v5h-10zM128 281h5v5h-5z"/><path fill="#9a9a9a" d="M158 71h5v5h-5zM213 71h5v5h-5zM128 86h5v5h-5zM238 106h5v5h-5zM243 131h5v5h-5zM263 146h5v5h-5zM258 151h5v5h-5zM253 156h15v5h-15zM258 221h5v5h-5zM263 226h5v5h-5z"/><path fill="#9b9b9b" d="M218 71h5v5h-5zM118 101h5v5h-5zM238 101h5v5h-5zM243 126h5v5h-5zM243 136h5v5h-5zM253 146h10v5h-10zM248 216h5v5h-5zM253 221h5v5h-5zM263 221h5v5h-5zM253 226h10v5h-10z"/><path fill="#9c9c9c" d="M238 111h5v5h-5zM248 221h5v5h-5z"/><path fill="#9d9d9d" d="M173 56h5v5h-5zM168 61h5v5h-5zM198 61h5v5h-5zM233 86h5v5h-5zM238 96h5v5h-5zM238 116h5v5h-5zM248 141h5v5h-5z"/><path fill="#9e9e9e" d="M193 56h5v5h-5z"/><path fill="#9f9f9f" d="M243 121h5v5h-5zM248 131h5v5h-5zM248 136h5v5h-5zM253 141h15v5h-15z"/><path fill="#a0a0a0" d="M203 66h5v5h-5zM243 86h5v5h-5zM238 91h10v5h-10zM243 101h5v5h-5zM243 106h5v5h-5zM108 116h5v5h-5zM93 121h5v5h-5zM248 126h5v5h-5zM253 131h15v5h-15z"/><path fill="#a1a1a1" d="M228 76h5v5h-5zM118 96h5v5h-5zM128 96h5v5h-5zM243 96h5v5h-5zM243 111h5v5h-5zM243 116h5v5h-5zM253 126h15v5h-15zM253 136h15v5h-15z"/><path fill="#a2a2a2" d="M188 51h5v5h-5zM198 56h5v5h-5zM238 86h5v5h-5z"/><path fill="#a3a3a3" d="M183 51h5v5h-5zM168 56h5v5h-5zM223 71h5v5h-5zM68 76h5v5h-5zM243 81h5v5h-5zM248 86h5v5h-5zM248 91h5v5h-5zM113 96h5v5h-5zM93 116h5v5h-5zM248 121h5v5h-5z"/><path fill="#a4a4a4" d="M33 36h5v5h-5zM193 51h5v5h-5zM163 61h5v5h-5zM248 96h5v5h-5zM248 101h5v5h-5zM248 106h5v5h-5zM98 116h5v5h-5z"/><path fill="#a5a5a5" d="M18 36h15v5h-15zM38 36h5v5h-5zM198 51h5v5h-5zM63 71h10v5h-10zM63 76h5v5h-5zM248 81h5v5h-5zM88 96h5v5h-5zM98 106h5v5h-5zM98 111h5v5h-5zM108 111h5v5h-5zM248 111h5v5h-5zM248 116h5v5h-5zM253 121h15v5h-15z"/><path fill="#a6a6a6" d="M43 36h5v5h-5zM163 36h5v5h-5zM183 36h20v5h-20zM163 41h5v5h-5zM203 41h5v5h-5zM163 46h5v5h-5zM73 76h5v5h-5zM253 91h5v5h-5zM263 91h5v5h-5zM83 96h5v5h-5zM263 96h5v5h-5zM88 101h10v5h-10zM93 111h5v5h-5z"/><path fill="#a7a7a7" d="M203 36h5v5h-5zM43 41h5v5h-5zM188 41h5v5h-5zM198 41h5v5h-5zM43 46h5v5h-5zM188 46h5v5h-5zM198 46h10v5h-10zM163 51h5v5h-5zM178 51h5v5h-5zM203 51h5v5h-5zM203 56h5v5h-5zM53 61h5v5h-5zM203 61h5v5h-5zM158 66h5v5h-5zM83 86h5v5h-5zM253 86h5v5h-5zM263 86h5v5h-5zM83 91h10v5h-10zM258 91h5v5h-5zM93 96h5v5h-5zM253 96h10v5h-10zM253 101h15v5h-15zM93 106h5v5h-5zM103 106h5v5h-5zM113 106h5v5h-5zM253 106h15v5h-15zM253 111h5v5h-5zM263 111h5v5h-5z"/><path fill="#a8a8a8" d="M183 41h5v5h-5zM193 41h5v5h-5zM193 46h5v5h-5zM53 56h5v5h-5zM163 56h5v5h-5zM63 66h5v5h-5zM243 76h5v5h-5zM73 81h5v5h-5zM233 81h10v5h-10zM73 86h10v5h-10zM123 86h5v5h-5zM258 86h5v5h-5zM108 91h5v5h-5zM98 101h5v5h-5zM83 111h5v5h-5zM258 111h5v5h-5zM253 116h15v5h-15z"/><path fill="#a9a9a9" d="M168 36h5v5h-5zM208 36h5v5h-5zM208 41h5v5h-5zM38 46h5v5h-5zM183 46h5v5h-5zM208 46h5v5h-5zM168 51h10v5h-10zM208 51h5v5h-5zM48 61h5v5h-5zM53 66h5v5h-5zM73 91h5v5h-5zM113 91h5v5h-5zM83 101h5v5h-5zM93 126h5v5h-5z"/><path fill="#aaaaaa" d="M48 36h5v5h-5zM38 41h5v5h-5zM48 41h5v5h-5zM168 41h5v5h-5zM168 46h5v5h-5zM43 51h5v5h-5zM58 56h5v5h-5zM208 56h5v5h-5zM208 66h5v5h-5zM248 76h5v5h-5zM78 81h5v5h-5zM88 86h5v5h-5zM98 96h5v5h-5zM83 116h5v5h-5z"/><path fill="#ababab" d="M178 36h5v5h-5zM158 61h5v5h-5zM68 66h5v5h-5zM53 71h5v5h-5zM73 71h5v5h-5zM78 76h5v5h-5zM118 81h5v5h-5zM128 81h5v5h-5zM143 81h5v5h-5zM253 81h5v5h-5zM263 81h5v5h-5zM108 96h5v5h-5zM78 101h5v5h-5zM83 106h5v5h-5zM103 116h5v5h-5z"/><path fill="#acacac" d="M78 36h5v5h-5zM23 41h5v5h-5zM33 41h5v5h-5zM78 41h5v5h-5zM158 41h5v5h-5zM48 46h5v5h-5zM158 46h5v5h-5zM78 51h5v5h-5zM243 56h5v5h-5zM58 61h5v5h-5zM93 61h5v5h-5zM103 71h5v5h-5zM243 71h5v5h-5zM68 81h5v5h-5zM83 81h5v5h-5zM108 81h5v5h-5zM258 81h5v5h-5zM108 86h5v5h-5zM93 91h5v5h-5zM103 101h5v5h-5zM88 106h5v5h-5zM103 111h5v5h-5zM88 116h5v5h-5z"/><path fill="#adadad" d="M53 36h5v5h-5zM63 36h15v5h-15zM83 36h5v5h-5zM158 36h5v5h-5zM173 36h5v5h-5zM213 36h5v5h-5zM243 36h5v5h-5zM18 41h5v5h-5zM28 41h5v5h-5zM53 41h5v5h-5zM63 41h15v5h-15zM83 41h5v5h-5zM178 41h5v5h-5zM213 41h5v5h-5zM243 41h5v5h-5zM53 46h35v5h-35zM178 46h5v5h-5zM213 46h5v5h-5zM243 46h5v5h-5zM53 51h15v5h-15zM73 51h5v5h-5zM83 51h5v5h-5zM213 51h5v5h-5zM243 51h5v5h-5zM73 56h20v5h-20zM158 56h5v5h-5zM213 56h5v5h-5zM63 61h5v5h-5zM78 61h15v5h-15zM208 61h5v5h-5zM243 61h5v5h-5zM83 66h15v5h-15zM243 66h5v5h-5zM58 71h5v5h-5zM93 71h10v5h-10zM93 76h15v5h-15zM63 81h5v5h-5zM103 81h5v5h-5zM113 81h5v5h-5zM123 81h5v5h-5zM98 91h10v5h-10z"/><path fill="#aeaeae" d="M58 36h5v5h-5zM58 41h5v5h-5zM68 51h5v5h-5zM158 51h5v5h-5zM63 56h10v5h-10zM93 56h5v5h-5zM68 61h10v5h-10zM58 66h5v5h-5zM78 66h5v5h-5zM98 66h10v5h-10zM213 66h5v5h-5zM78 71h15v5h-15zM248 71h5v5h-5zM83 76h10v5h-10zM108 76h10v5h-10zM88 81h15v5h-15zM133 81h5v5h-5zM93 86h5v5h-5zM103 86h5v5h-5zM113 86h10v5h-10zM78 91h5v5h-5zM103 96h5v5h-5zM108 106h5v5h-5zM88 111h5v5h-5z"/><path fill="#afafaf" d="M238 36h5v5h-5zM173 41h5v5h-5zM33 46h5v5h-5zM238 46h5v5h-5zM88 51h5v5h-5zM238 51h5v5h-5zM238 56h5v5h-5zM73 66h5v5h-5zM218 66h5v5h-5zM253 76h5v5h-5zM263 76h5v5h-5zM98 86h5v5h-5zM73 96h5v5h-5z"/><path fill="#b0b0b0" d="M248 36h5v5h-5zM238 41h5v5h-5zM248 41h5v5h-5zM18 46h15v5h-15zM173 46h5v5h-5zM248 46h5v5h-5zM248 51h5v5h-5zM43 56h5v5h-5zM218 56h5v5h-5zM248 56h5v5h-5zM98 61h5v5h-5zM213 61h5v5h-5zM248 61h5v5h-5zM248 66h5v5h-5zM108 71h5v5h-5zM153 71h5v5h-5zM53 76h5v5h-5zM238 76h5v5h-5zM258 76h5v5h-5zM58 81h5v5h-5z"/><path fill="#b1b1b1" d="M88 36h5v5h-5zM218 36h5v5h-5zM88 41h5v5h-5zM218 41h5v5h-5zM88 46h5v5h-5zM218 46h5v5h-5zM218 51h5v5h-5zM98 56h5v5h-5zM238 61h5v5h-5zM58 76h5v5h-5zM148 76h5v5h-5zM63 86h5v5h-5z"/><path fill="#b2b2b2" d="M138 46h5v5h-5zM93 51h10v5h-10zM143 56h5v5h-5zM103 61h5v5h-5zM108 66h5v5h-5zM223 66h5v5h-5zM228 71h5v5h-5zM138 81h5v5h-5zM68 86h5v5h-5zM128 91h5v5h-5zM78 96h5v5h-5z"/><path fill="#b3b3b3" d="M138 36h5v5h-5zM133 41h10v5h-10zM133 46h5v5h-5zM48 51h5v5h-5zM143 51h5v5h-5zM153 51h5v5h-5zM233 51h5v5h-5zM48 56h5v5h-5zM153 56h5v5h-5zM233 56h5v5h-5zM113 61h5v5h-5zM218 61h5v5h-5zM238 66h5v5h-5zM113 71h5v5h-5zM253 71h5v5h-5zM263 71h5v5h-5zM118 76h5v5h-5zM233 76h5v5h-5z"/><path fill="#b4b4b4" d="M93 36h15v5h-15zM133 36h5v5h-5zM143 36h5v5h-5zM153 36h5v5h-5zM223 36h5v5h-5zM233 36h5v5h-5zM253 36h5v5h-5zM263 36h5v5h-5zM93 41h15v5h-15zM143 41h5v5h-5zM153 41h5v5h-5zM223 41h5v5h-5zM233 41h5v5h-5zM253 41h5v5h-5zM263 41h5v5h-5zM98 46h10v5h-10zM143 46h5v5h-5zM223 46h5v5h-5zM233 46h5v5h-5zM253 46h5v5h-5zM263 46h5v5h-5zM103 51h5v5h-5zM138 51h5v5h-5zM223 51h5v5h-5zM253 51h5v5h-5zM263 51h5v5h-5zM103 56h15v5h-15zM223 56h5v5h-5zM253 56h5v5h-5zM263 56h5v5h-5zM108 61h5v5h-5zM263 61h5v5h-5zM113 66h5v5h-5zM123 66h5v5h-5zM263 66h5v5h-5zM238 71h5v5h-5zM258 71h5v5h-5z"/><path fill="#b5b5b5" d="M228 36h5v5h-5zM258 36h5v5h-5zM258 41h5v5h-5zM93 46h5v5h-5zM153 46h5v5h-5zM258 46h5v5h-5zM108 51h5v5h-5zM148 51h5v5h-5zM228 51h5v5h-5zM258 51h5v5h-5zM138 56h5v5h-5zM148 56h5v5h-5zM228 56h5v5h-5zM258 56h5v5h-5zM223 61h5v5h-5zM253 61h10v5h-10zM118 66h5v5h-5zM253 66h5v5h-5zM118 71h10v5h-10z"/><path fill="#b6b6b6" d="M148 36h5v5h-5zM148 41h5v5h-5zM228 41h5v5h-5zM148 46h5v5h-5zM228 46h5v5h-5zM133 51h5v5h-5zM233 61h5v5h-5zM258 66h5v5h-5z"/><path fill="#b7b7b7" d="M108 36h5v5h-5zM128 36h5v5h-5zM108 41h5v5h-5zM128 41h5v5h-5zM108 46h5v5h-5zM128 46h5v5h-5zM118 56h5v5h-5zM118 61h5v5h-5zM138 61h10v5h-10zM153 61h5v5h-5zM228 61h5v5h-5zM128 66h5v5h-5zM123 76h5v5h-5zM118 91h5v5h-5zM113 101h5v5h-5z"/><path fill="#b8b8b8" d="M128 51h5v5h-5zM108 101h5v5h-5z"/><path fill="#b9b9b9" d="M113 51h5v5h-5zM123 61h5v5h-5zM133 66h10v5h-10zM153 66h5v5h-5zM228 66h5v5h-5zM128 71h5v5h-5z"/><path fill="#bababa" d="M113 36h5v5h-5zM123 36h5v5h-5zM118 51h5v5h-5zM133 56h5v5h-5zM128 61h10v5h-10zM143 66h5v5h-5zM233 71h5v5h-5z"/><path fill="#bbbbbb" d="M113 41h5v5h-5zM123 41h5v5h-5zM113 46h5v5h-5zM123 46h5v5h-5zM123 51h5v5h-5zM123 56h10v5h-10zM148 71h5v5h-5zM128 76h5v5h-5z"/><path fill="#bcbcbc" d="M118 36h5v5h-5zM118 41h5v5h-5zM118 46h5v5h-5zM233 66h5v5h-5z"/><path fill="#bdbdbd" d="M143 71h5v5h-5zM143 76h5v5h-5z"/><path fill="#bebebe" d="M133 71h5v5h-5z"/><path fill="#bfbfbf" d="M148 61h5v5h-5z"/><path fill="#c0c0c0" d="M138 71h5v5h-5zM123 91h5v5h-5z"/><path fill="#c2c2c2" d="M148 66h5v5h-5zM133 76h5v5h-5z"/><path fill="#c4c4c4" d="M138 76h5v5h-5z"/></g>
</g>
<g clip-path="url(#landclip)"><path d="M137.7,62.2 L165.9,60.2 L165.9,75.0 L137.7,75.0Z M230.2,72.0 L239.0,72.0 L239.0,81.8 L230.2,81.8Z M172.7,106.5 L196.1,106.5 L196.1,118.3 L172.7,118.3Z M92.8,178.3 L109.4,170.5 L155.2,170.5 L157.1,205.9 L92.8,205.9Z M184.4,185.2 L207.8,185.2 L207.8,223.6 L184.4,223.6Z M143.5,204.9 L198.1,204.9 L198.1,253.2 L170.8,253.2 L161.0,239.4 L153.2,226.6 L145.5,215.7Z M186.4,242.3 L205.9,242.3 L205.9,266.0 L186.4,266.0Z" fill="url(#dotpat)"/></g>
<path d="M196.9,242.8 L195.0,242.2 L192.7,240.3 L192.3,237.7 L191.2,234.6 L192.3,232.0 L192.7,230.1 L195.0,227.5 L195.2,223.7 L196.1,221.2 L199.2,218.6 L199.2,216.0 L201.0,213.5 L203.1,209.0 L204.8,208.4 L207.1,209.7 L209.7,211.6 L211.6,212.5 L209.7,216.0 L213.2,217.3 L213.9,221.2 L215.8,222.4 L217.3,221.2 L219.6,219.9 L220.7,218.6 L224.5,218.3 L226.0,218.6 L227.9,219.9 L229.8,221.2 L232.8,223.7 L237.0,227.5 L239.3,230.7 L241.9,232.6 L244.2,236.5 L244.2,240.3 L241.9,243.5 L239.3,244.1 L237.0,244.1 L232.1,244.4 L229.0,243.5 L226.8,242.8 L224.1,242.2 L222.6,239.7 L220.0,237.7 L215.4,237.7 L212.8,237.7 L209.0,239.7 L206.0,242.2 L202.2,242.8 L197.6,242.8Z M218.4,211.6 L220.3,210.3 L222.6,208.1 L226.0,207.4 L228.7,205.5 L231.3,205.2 L235.1,204.2 L234.0,207.1 L231.7,208.4 L230.2,210.9 L230.6,212.9 L229.8,214.1 L228.7,216.0 L226.0,216.0 L224.1,215.7 L221.1,216.7 L220.0,215.1 L218.4,212.9Z M187.8,247.9 L190.1,247.6 L192.3,247.9 L195.0,247.9 L196.5,247.6 L197.3,245.4 L196.1,243.8 L194.6,244.1 L192.0,244.4 L190.1,245.1 L188.6,246.7Z" fill="#fff"/>
<g stroke="#000" stroke-opacity="0.1" stroke-width="0.8"><line x1="41.40" y1="46.6" x2="41.40" y2="282" /><line x1="86.80" y1="46.6" x2="86.80" y2="282" /><line x1="132.20" y1="46.6" x2="132.20" y2="282" /><line x1="177.59" y1="46.6" x2="177.59" y2="282" /><line x1="222.99" y1="46.6" x2="222.99" y2="282" /><line x1="30" y1="97.38" x2="257" y2="97.38" /><line x1="30" y1="148.42" x2="257" y2="148.42" /><line x1="30" y1="199.46" x2="257" y2="199.46" /><line x1="30" y1="250.50" x2="257" y2="250.50" /></g>
<path d="M129.9,128.6 L131.4,124.2 L133.7,122.3 L134.5,116.5 L133.0,112.7 L133.0,108.2 L132.6,103.8 L132.2,100.6 L136.7,96.7 L140.1,94.2 L138.6,90.4 L141.7,86.5 L142.0,83.3 L145.4,82.1 L148.1,78.2 L148.8,74.4 L152.2,71.2 L155.7,68.7 L162.1,69.3 L164.5,65.1 M164.5,65.1 L167.4,66.8 L171.5,68.7 L175.7,72.5 L176.1,76.3 L176.8,81.4 L178.2,85.9 M164.5,65.1 L167.4,63.6 L171.5,67.1 L177.6,68.0 L181.4,67.4 L184.4,64.2 L186.3,59.7 L190.1,59.4 L194.2,60.4 L196.1,65.2 M196.1,65.2 L197.6,62.9 L200.3,61.7 L203.7,60.7 M196.1,65.2 L194.6,68.7 L195.4,71.2 L199.5,74.4 L197.3,78.9 L200.3,83.3 L198.8,87.2 L200.3,91.0 L199.2,92.9 L202.2,96.1 L200.3,98.7 L204.8,102.5 L206.3,104.4 L202.6,110.8 L198.4,114.6 L193.5,117.8 L191.6,119.7 M193.1,126.4 L192.3,129.3 L190.8,132.5 L190.5,135.7 L191.2,138.5 M178.7,136.6 L181.4,135.7 L184.8,136.9 L187.4,138.5 L191.2,138.5 L192.3,140.1 L193.1,143.3 L193.5,147.5 M166.4,148.0 L170.0,145.9 L175.7,146.2 L181.0,145.9 L183.6,147.5 L187.4,150.3 L191.2,149.7 L193.5,147.5 M187.4,150.3 L188.2,152.9 L185.9,155.4 L184.4,159.9 L180.6,161.2 L175.7,161.5 M167.0,153.5 L170.4,154.5 L173.1,158.6 L175.7,161.5 M160.9,158.3 L164.4,158.6 L168.1,159.1 L173.1,158.6 M175.7,161.5 L177.2,166.3 L175.7,170.1 L174.6,172.0 L176.1,176.5 M176.1,176.5 L178.0,180.3 L177.2,184.1 L175.7,185.4 L172.3,189.9 L172.1,192.6 M172.1,192.6 L168.5,190.5 L165.9,191.2 L161.7,191.8 L160.2,189.3 L158.1,189.9 M158.1,189.9 L154.9,186.7 L153.8,184.8 L150.7,184.1 L148.5,182.6 L143.5,180.3 L142.8,181.0 M142.8,181.0 L143.5,177.8 L142.4,173.3 L142.0,170.1 L140.5,167.6 L141.3,165.6 L140.5,161.8 M193.5,147.5 L198.0,148.7 L203.7,151.0 L203.3,156.1 L207.1,159.9 L207.1,162.5 L210.5,166.9 L209.4,172.0 L207.1,173.3 M176.1,176.5 L179.1,174.6 L183.3,174.6 L188.9,175.2 L193.9,176.5 L197.6,177.8 L202.2,178.4 L203.7,173.6 L207.1,173.3 M207.1,173.3 L213.5,172.0 L216.9,175.9 L220.7,180.3 L223.7,184.1 L228.7,184.8 L231.3,186.7 L238.1,189.3 L238.5,193.7 L237.0,199.5 L231.7,202.0 L231.3,205.2 M187.4,197.5 L190.8,196.6 L193.9,198.8 L197.3,200.1 L198.8,203.3 L199.9,207.1 L200.7,209.7 L196.1,209.0 L193.5,215.4 M187.4,197.5 L189.7,200.7 L193.1,206.5 L193.5,215.4 L199.2,217.0 M173.4,199.8 L177.6,199.8 L181.0,201.4 L187.4,197.5 M172.1,192.6 L170.4,196.9 L173.4,199.8 M173.4,199.8 L170.0,202.7 L167.8,207.8 L163.6,211.3 M163.6,211.3 L165.5,214.1 L167.8,217.3 L168.1,219.9 L171.5,220.5 L172.7,223.7 M172.7,223.7 L175.7,226.3 L179.5,226.9 L182.9,227.2 L185.9,225.0 L188.9,224.3 L192.3,225.3 L194.9,226.6 M172.7,223.7 L171.5,226.3 L173.8,230.1 L171.9,232.0 L171.5,235.8 M171.5,235.8 L173.4,241.9 M173.4,241.9 L176.1,241.6 L179.5,240.6 L182.5,242.5 L185.5,241.9 L186.5,239.7 M186.5,239.7 L188.9,237.4 L192.7,237.9 M185.2,245.7 L186.3,242.5 L186.5,239.7 M165.9,244.8 L169.6,243.2 L173.4,241.9 M162.5,252.7 L165.1,249.9 L166.2,246.7 L165.9,244.8 M165.9,244.8 L164.4,242.2 L164.7,238.4 L168.5,236.1 L171.5,235.8 M164.7,238.4 L162.8,234.6 L161.3,233.9 L160.2,238.4 M156.8,234.6 L158.7,230.1 L160.9,228.2 L159.8,223.1 L158.7,219.2 M160.9,228.2 L163.6,232.0 L162.8,234.6 M144.3,223.1 L146.6,220.5 L146.2,217.3 L149.2,217.3 L153.0,218.0 L156.8,218.3 L158.7,219.2 M153.0,231.4 L148.5,225.0 L146.6,220.5 M158.7,219.2 L160.2,217.3 L158.3,212.9 M158.3,212.9 L153.0,212.9 L149.6,209.0 M138.2,215.4 L141.7,215.4 L144.3,215.4 L146.2,212.2 L149.6,209.0 M138.6,209.0 L141.7,209.7 L147.3,207.8 L147.7,206.8 L149.6,209.0 M138.6,214.8 L138.2,212.2 L138.6,209.0 M158.3,212.9 L160.9,210.9 L163.6,211.3 M147.7,206.8 L149.2,202.7 L151.5,199.5 M151.5,199.5 L154.1,201.1 L157.9,200.7 L160.6,198.2 L164.4,196.3 L168.5,196.3 L170.4,196.9 M135.6,194.4 L139.0,194.4 L142.4,195.6 L143.5,193.1 L147.3,194.7 L150.7,195.6 L151.5,199.5 M150.7,195.6 L153.4,194.0 L155.7,191.2 L158.1,189.9 M123.1,202.3 L126.5,202.3 L128.4,203.3 L133.0,202.0 L136.0,202.7 L135.6,199.8 L137.9,195.6 L139.0,194.4 M126.3,206.8 L128.4,207.1 L133.0,205.8 L138.6,209.0 M123.1,202.3 L122.7,205.5 L126.3,206.8 M135.6,194.4 L134.1,188.6 L132.6,184.8 L136.0,183.5 L140.9,180.3 L142.8,181.0 M115.6,202.0 L119.3,201.7 L123.1,202.3 M111.0,190.2 L113.3,191.8 L117.8,193.1 L115.6,202.0 M109.9,185.7 L111.0,190.2 M109.5,181.9 L111.0,184.8 L109.9,185.7 M114.0,165.6 L113.3,170.1 L112.1,173.3 L109.5,175.2 L110.3,179.0 L109.5,181.9 M119.3,155.4 L124.3,156.1 M96.4,179.7 L98.5,181.6 L102.7,184.8 L105.0,186.1 L105.3,188.0 L108.7,189.6 L111.0,190.2 M109.5,211.6 L112.5,209.7 L113.3,205.8 L115.6,202.0 M115.2,226.3 L112.9,222.4 L113.3,218.6 L112.5,213.5 L113.3,212.9 M80.0,228.9 L83.0,231.4 L86.8,233.3 L92.5,234.6 L98.5,234.9 M99.7,178.0 L103.4,177.8 L105.7,177.4 L108.7,179.4 L108.4,181.9 L109.5,181.9 M113.3,212.9 L116.7,212.5 L119.0,209.7 L120.8,213.2 L122.4,209.0 L126.3,208.7 L126.3,206.8 M109.5,211.6 L113.3,212.9 M53.1,238.4 L56.2,237.1 L61.8,238.4 L62.2,241.6 L60.7,244.1 L60.3,252.4 L58.4,253.1 L60.3,256.9 L59.2,260.7 L60.3,262.6 L58.4,266.4 L58.8,268.6 M244.0,240.9 L248.7,240.3 L251.4,243.5 L252.1,246.0 L255.5,250.5 L256.3,252.4 L254.4,260.7 L256.3,268.4 M223.0,277.0 L225.6,270.9 L228.7,271.9 L232.4,270.9 L238.1,270.3 L241.9,269.3 L247.0,269.0 L251.4,267.7 L256.3,268.4 M247.0,269.0 L243.4,272.8 L242.7,279.2 L241.9,286.2 M238.1,228.8 L243.8,229.4 L248.7,233.9 L252.5,233.3 L255.5,233.3 L259.3,235.2 M251.4,243.5 L255.1,242.8 L259.3,242.2 M59.2,154.5 L58.0,156.7 L56.2,157.4 L57.7,159.9 L60.3,158.6 L63.0,160.9 M80.2,281.8 L80.7,288.8 M119.3,270.0 L118.2,274.1 L118.2,281.1 L116.3,288.8" fill="none" stroke="#000" stroke-width="1.0" stroke-linejoin="round"/>
<path d="M66.6,275.1 L65.6,275.9 L64.1,274.7 L63.0,272.5 L62.6,270.9 L60.7,268.7 L58.8,268.6 L56.9,269.8 L54.3,269.0 L52.9,269.6 L53.5,266.4 L53.3,263.3 L53.7,260.4 L52.0,260.4 L52.0,258.8 L50.9,258.3 L51.2,256.2 L51.4,254.5 L52.6,252.1 L53.2,249.5 L53.9,246.7 L54.1,243.2 L53.5,239.7 L53.1,237.1 L53.3,235.2 L52.6,233.9 L51.6,232.0 L52.0,230.1 L53.1,229.4 L55.0,228.9 L56.5,226.9 L57.7,226.4 L59.2,227.5 L62.2,227.9 L64.7,227.2 L67.1,228.3 L69.8,228.8 L72.4,228.4 L74.3,228.7 L75.8,228.8 L78.1,229.3 L80.0,228.9 L81.1,228.0 L81.7,225.0 L82.1,220.8 L82.4,215.4 L82.3,212.9 L82.4,211.3 L80.0,209.0 L78.7,206.8 L78.5,204.2 L76.6,202.7 L73.9,201.4 L70.9,200.7 L70.2,199.8 L68.9,199.2 L70.5,198.8 L69.4,197.5 L68.7,196.9 L69.0,195.6 L71.3,195.0 L73.6,194.0 L75.5,194.4 L77.3,195.6 L79.2,195.3 L80.9,195.3 L80.7,191.8 L79.8,189.9 L79.4,188.5 L80.7,188.9 L82.0,188.6 L82.6,190.5 L84.9,190.8 L87.2,190.2 L87.6,188.6 L90.6,187.2 L92.5,185.7 L92.9,182.2 L93.8,180.6 L95.7,180.0 L98.5,178.3 L100.4,177.8 L100.8,175.9 L102.3,174.3 L103.6,172.0 L104.4,169.2 L104.8,167.9 L105.7,166.3 L108.0,165.3 L111.0,164.7 L113.3,165.0 L115.2,163.4 L117.4,164.1 L119.1,164.1 L119.7,161.9 L120.5,160.5 L119.3,158.6 L120.5,156.7 L119.3,154.8 L119.1,151.9 L117.6,151.3 L117.6,147.8 L117.8,144.0 L119.3,141.4 L122.7,141.1 L124.4,138.5 L126.9,137.3 L126.3,139.2 L126.0,142.4 L125.6,144.6 L128.0,145.5 L126.7,147.5 L125.4,149.4 L124.1,150.7 L123.5,151.9 L122.7,153.8 L123.9,155.4 L124.6,157.0 L125.4,158.6 L128.0,158.9 L128.8,161.2 L130.7,160.5 L132.6,159.9 L134.1,158.6 L136.4,158.9 L137.7,157.4 L138.6,159.3 L139.8,161.2 L141.3,161.5 L144.7,160.2 L148.1,158.9 L150.7,157.4 L154.1,156.1 L156.2,155.9 L157.0,158.0 L157.9,158.9 L160.6,158.6 L162.3,157.0 L162.3,155.1 L164.7,155.1 L166.6,153.5 L166.6,150.0 L166.4,147.8 L166.2,145.2 L166.6,142.0 L167.9,139.8 L168.9,138.5 L172.3,137.3 L174.2,139.8 L176.1,142.2 L178.0,141.8 L179.1,140.1 L178.9,136.6 L179.3,133.7 L176.1,132.8 L175.5,130.6 L175.7,128.0 L178.3,127.0 L180.4,126.4 L183.3,125.8 L187.0,126.1 L190.8,126.4 L193.1,126.4 L195.4,124.8 L196.9,123.5 L201.0,123.5 L198.8,121.9 L195.4,119.4 L192.0,119.7 L188.6,120.0 L185.2,120.7 L181.4,121.8 L178.3,122.6 L175.7,123.2 L173.4,123.9 L171.9,122.3 L170.8,120.0 L168.5,119.1 L167.6,116.5 L168.3,113.3 L167.6,110.1 L167.0,107.9 L167.8,105.0 L168.5,103.1 L171.5,101.2 L174.2,98.3 L177.6,95.8 L179.9,93.2 L182.9,91.0 L182.5,88.4 L179.9,86.5 L178.2,85.9 L174.9,85.9 L171.2,87.2 L168.9,88.4 L167.8,91.0 L166.6,92.9 L165.5,94.8 L163.6,98.3 L160.6,100.3 L157.9,102.5 L156.0,104.7 L153.0,107.6 L152.6,110.8 L151.7,113.3 L152.1,116.5 L151.9,118.8 L154.5,119.7 L156.8,121.3 L158.1,122.9 L157.2,126.1 L155.3,127.0 L154.1,129.3 L152.2,130.9 L150.4,131.8 L149.6,134.4 L150.0,138.2 L149.2,140.8 L148.8,144.3 L146.9,147.5 L144.7,147.5 L142.4,147.5 L141.1,148.7 L140.5,152.2 L137.5,152.6 L135.6,152.2 L136.0,151.0 L135.6,149.4 L134.5,147.8 L135.0,146.8 L134.5,145.2 L135.4,144.3 L133.7,141.4 L132.2,139.2 L131.6,137.6 L131.1,135.0 L129.7,133.1 L129.2,129.9 L128.8,128.6 L127.7,127.4 L127.5,123.5 L126.1,126.1 L125.4,129.0 L123.5,129.6 L121.6,131.5 L119.3,133.7 L117.1,135.0 L113.7,135.8 L111.8,135.0 L109.5,133.1 L108.0,130.9 L108.0,129.3 L106.8,127.4 L106.5,124.8 L106.1,122.3 L105.5,120.3 L105.3,117.8 L105.7,115.2 L105.5,112.7 L106.1,110.5 L107.2,108.9 L109.9,107.3 L112.5,105.4 L114.8,104.1 L116.1,103.1 L118.6,101.2 L120.5,99.6 L123.5,98.7 L125.4,96.7 L128.0,94.2 L129.5,91.6 L132.2,89.1 L133.3,86.5 L134.8,84.0 L136.4,81.4 L137.9,78.9 L140.5,77.0 L141.3,76.3 L143.5,74.4 L144.3,71.9 L146.9,69.9 L148.1,68.0 L147.3,66.1 L150.0,64.2 L153.0,62.3 L156.0,60.7 L158.3,61.0 L160.9,59.1 L164.0,58.5 L167.0,57.8 L170.0,56.9 L172.3,55.3 L176.1,54.3 L178.7,53.0 L182.1,52.4 L184.4,51.8 L187.8,53.0 L191.2,52.1 L193.9,53.0 L197.6,54.6 L201.4,55.3 L204.5,56.9 L202.2,58.5 L198.8,59.4 L200.7,60.4 L204.1,60.7 L207.9,60.1 L211.6,62.6 L216.2,63.2 L220.3,63.9 L224.9,65.2 L229.0,67.1 L232.4,69.3 L235.9,70.6 L237.4,71.2 L239.6,73.1 L241.9,75.1 L243.4,77.3 L243.0,79.5 L241.1,81.4 L238.1,82.7 L234.3,84.0 L230.6,84.3 L226.8,83.0 L223.0,82.1 L219.2,80.8 L216.2,80.2 L213.5,79.8 L211.3,78.2 L209.4,77.3 L210.1,79.5 L212.4,81.4 L214.7,82.7 L217.3,85.3 L218.1,88.4 L217.7,91.6 L218.4,94.2 L221.1,95.1 L224.1,97.4 L226.8,98.3 L228.7,96.7 L228.3,94.8 L225.6,92.9 L224.9,91.3 L227.5,89.7 L230.6,91.6 L233.6,92.6 L237.0,93.6 L240.0,93.9 L238.9,91.6 L238.1,89.1 L239.3,86.5 L241.9,84.3 L244.9,82.4 L247.6,81.7 L250.6,82.1 L252.9,84.0 L254.4,84.0 L255.1,81.4 L253.6,78.2 L252.5,75.7 L251.7,72.5 L250.6,69.3 L250.6,67.7 L253.3,68.4 L259.3,69.0 L259.3,288.8 L222.6,288.8 L222.6,282.4 L222.1,279.1 L222.6,276.7 L223.7,272.2 L222.6,270.3 L221.1,272.2 L218.1,270.9 L215.4,274.1 L212.8,275.4 L210.9,276.0 L208.6,272.8 L205.2,270.9 L202.6,270.6 L202.2,273.5 L201.4,274.7 L198.8,274.7 L196.9,272.2 L195.0,270.9 L192.7,272.2 L190.5,271.6 L190.1,269.6 L190.8,267.7 L189.7,267.1 L188.9,264.5 L186.7,262.0 L188.2,260.7 L188.2,258.8 L188.2,256.9 L186.7,255.0 L185.5,253.7 L185.9,251.1 L186.7,249.5 L185.9,250.2 L187.0,247.6 L188.2,246.7 L185.9,246.4 L185.2,245.7 L183.3,245.1 L181.4,244.4 L179.1,244.8 L176.8,246.0 L176.8,248.6 L178.7,249.2 L176.5,249.5 L177.2,250.8 L175.1,250.8 L174.9,248.9 L173.4,246.7 L172.3,247.6 L172.7,250.5 L173.6,253.1 L174.8,255.0 L173.4,256.6 L172.1,257.5 L173.8,259.4 L176.1,261.0 L177.8,262.3 L177.8,265.2 L175.9,263.6 L174.4,264.2 L174.6,265.8 L173.2,266.1 L174.2,268.7 L173.6,273.1 L172.1,270.9 L171.5,273.1 L170.4,270.6 L168.9,270.9 L168.5,267.7 L168.7,265.5 L166.8,264.2 L167.8,262.0 L169.3,261.0 L166.6,260.1 L165.5,257.5 L165.1,256.2 L163.2,253.7 L162.5,252.4 L160.2,248.6 L160.4,246.7 L160.6,244.1 L160.4,242.2 L160.9,239.0 L159.1,237.7 L156.8,235.2 L155.3,233.6 L152.6,231.4 L149.2,228.2 L146.9,226.9 L144.7,224.3 L143.2,221.2 L141.7,218.6 L141.3,216.7 L139.8,218.6 L138.2,218.0 L138.6,214.8 L136.7,213.8 L134.1,215.4 L133.3,217.3 L134.1,219.2 L133.3,221.8 L134.1,224.3 L136.0,226.3 L138.2,228.2 L139.4,232.0 L140.5,234.9 L142.4,237.1 L144.1,238.1 L147.3,238.1 L148.1,239.0 L146.9,240.3 L148.5,242.2 L150.7,243.5 L153.0,245.4 L154.9,246.7 L156.8,249.9 L156.2,251.8 L154.9,249.9 L153.0,248.6 L151.1,247.3 L149.2,250.5 L149.6,253.1 L151.5,254.3 L151.7,257.2 L149.6,258.2 L149.4,260.7 L147.7,263.6 L146.0,263.6 L146.0,261.7 L146.9,259.8 L147.7,257.2 L146.6,253.7 L145.8,250.5 L144.3,249.2 L143.2,247.6 L141.7,246.7 L140.9,245.4 L139.0,242.8 L136.0,242.5 L134.1,240.9 L133.0,239.0 L131.1,237.1 L129.2,235.2 L128.0,232.6 L126.5,231.4 L125.8,228.2 L125.0,225.0 L123.1,224.3 L120.1,222.4 L117.8,225.3 L115.2,226.6 L113.3,227.9 L111.8,230.1 L109.1,230.7 L106.8,229.4 L105.0,228.8 L103.1,228.5 L100.4,229.4 L98.5,231.4 L98.3,234.6 L98.9,235.8 L98.9,238.4 L97.4,240.3 L95.1,242.2 L92.5,243.2 L90.2,244.1 L89.4,246.0 L87.9,249.2 L86.4,251.8 L85.7,254.3 L86.8,257.5 L87.6,258.5 L85.3,261.0 L84.5,263.3 L83.8,265.8 L81.9,266.1 L80.4,267.7 L79.4,270.3 L78.5,271.4 L75.8,271.6 L73.6,271.4 L70.2,271.6 L67.9,273.1Z M62.2,288.8 L63.0,282.4 L64.1,279.2 L64.9,277.3 L66.8,276.7 L68.6,280.5 L71.7,281.1 L75.5,280.8 L78.5,281.8 L81.1,280.5 L84.5,277.6 L87.2,276.7 L91.7,272.8 L95.1,272.2 L98.1,270.9 L101.9,270.3 L105.7,271.6 L109.5,269.6 L112.5,269.3 L116.3,270.3 L119.3,270.0 L121.6,268.4 L124.3,267.7 L125.8,269.0 L128.4,269.0 L126.5,271.6 L126.9,275.4 L127.3,277.3 L128.4,278.6 L128.8,281.1 L128.0,283.0 L127.7,288.8Z M65.2,186.4 L67.9,186.7 L70.9,184.5 L73.6,184.1 L74.3,182.6 L77.3,182.9 L79.6,182.2 L81.9,181.6 L83.8,181.9 L87.6,181.9 L90.6,180.6 L92.1,179.4 L92.1,178.1 L89.4,177.4 L90.2,176.5 L91.7,174.6 L93.4,171.4 L93.2,169.5 L91.7,167.9 L88.7,167.9 L87.6,168.8 L87.9,166.3 L87.2,164.4 L86.0,163.1 L86.4,160.5 L84.9,158.3 L82.3,157.0 L81.1,154.8 L80.7,151.0 L79.2,149.1 L77.0,148.4 L74.7,148.1 L77.0,146.5 L76.2,145.5 L77.7,143.3 L78.9,141.1 L80.0,138.9 L79.2,137.6 L75.5,137.6 L71.7,138.2 L72.4,136.6 L75.1,132.5 L73.9,131.5 L70.2,132.2 L67.9,131.8 L66.8,134.4 L66.4,136.3 L64.9,138.5 L66.0,140.8 L64.9,143.3 L63.3,144.0 L66.0,145.9 L65.6,149.1 L65.0,152.6 L66.2,150.0 L68.3,150.3 L69.4,151.6 L67.9,154.8 L67.5,156.7 L70.2,155.8 L73.2,155.1 L73.9,157.4 L73.2,158.6 L74.7,160.5 L75.8,162.8 L75.1,164.7 L73.2,165.6 L70.9,165.6 L69.0,165.6 L69.8,168.2 L71.3,168.8 L71.3,171.1 L69.8,173.3 L67.5,174.3 L67.1,175.9 L68.3,176.5 L70.5,176.2 L72.4,176.5 L74.7,177.4 L76.6,176.5 L75.5,178.4 L73.6,179.0 L70.9,179.0 L69.0,180.3 L67.9,182.9 L66.4,185.4Z M62.8,172.7 L60.3,173.3 L58.0,174.3 L55.4,175.2 L53.1,176.5 L49.7,177.4 L48.2,174.9 L47.8,173.3 L49.3,170.1 L50.9,169.5 L51.2,167.6 L49.3,165.6 L48.6,163.7 L49.3,161.2 L49.0,159.6 L52.0,159.3 L54.3,159.3 L53.9,157.0 L55.0,155.8 L55.4,153.8 L57.7,153.2 L58.8,152.4 L60.7,153.5 L63.3,153.5 L65.2,156.1 L66.0,158.6 L64.1,161.2 L63.2,163.1 L63.7,165.6 L64.1,167.9 L63.3,170.8Z M26.3,97.4 L30.1,96.1 L31.9,94.8 L33.8,92.9 L35.5,90.4 L35.4,87.8 L32.7,85.9 L31.6,83.7 L30.1,82.1 L26.3,81.4Z M52.6,53.7 L54.3,53.0 L56.5,51.8 L56.7,52.1 L54.6,53.4Z M58.0,108.9 L60.3,107.9 L63.0,108.2 L61.8,110.8 L60.7,114.0 L59.2,110.8Z M81.9,123.9 L83.0,121.6 L83.8,117.8 L82.6,118.4 L80.7,120.3 L81.5,122.9Z M73.9,129.9 L76.2,130.2 L77.7,128.0 L75.8,127.0 L74.3,128.3Z M58.4,141.4 L59.6,138.2 L60.7,136.3 L63.3,132.5 L62.2,135.7 L59.9,139.5Z M61.5,139.2 L63.3,137.6 L65.2,140.4 L63.3,141.1Z M95.7,253.4 L97.0,250.8 L98.9,251.1 L99.9,252.4 L98.9,254.6 L97.2,253.7Z M101.2,250.2 L103.1,251.1 L102.7,251.8 L101.4,251.1Z M91.3,257.2 L92.9,256.2 L92.5,257.8Z M122.4,231.4 L122.9,233.9 L122.4,237.7 L121.6,241.6 L120.1,240.3 L119.3,237.7 L119.1,235.2 L120.8,233.3Z M122.7,242.8 L123.9,244.8 L123.5,247.9 L123.1,251.1 L123.3,255.0 L121.2,255.6 L119.3,257.5 L118.6,256.2 L118.8,252.4 L119.0,248.6 L117.8,246.7 L118.2,244.8 L120.5,244.4 L121.6,242.5Z M133.7,264.5 L134.8,262.3 L137.1,262.0 L139.0,262.9 L142.0,262.9 L145.6,261.3 L144.3,265.2 L143.9,267.7 L144.7,269.6 L143.9,271.9 L141.7,270.9 L139.8,269.0 L136.7,266.4 L134.5,265.8Z M175.7,280.5 L177.6,278.9 L179.5,279.8 L183.3,280.2 L186.3,280.8 L185.9,282.4 L183.3,282.7 L180.6,282.7 L177.6,281.1 L175.7,281.1Z M209.0,282.4 L211.3,281.4 L213.5,280.2 L215.8,279.5 L217.7,277.9 L215.4,282.4 L213.9,282.7 L211.6,285.0 L209.4,284.0Z M191.6,275.4 L193.5,273.1 L192.7,276.0Z M173.8,257.2 L174.9,258.8 L177.6,261.0 L179.7,263.3 L178.3,261.0 L176.1,258.5 L174.2,256.9Z M184.6,255.0 L186.3,254.3 L187.4,256.6 L185.5,256.2Z M184.8,259.8 L185.7,259.4 L185.2,262.0Z M187.4,264.5 L188.9,264.9 L188.2,265.5Z M155.3,138.9 L157.5,136.0 L159.4,136.6 L157.9,140.1 L156.4,142.7 L155.3,140.8Z M148.8,147.1 L149.6,147.1 L151.5,139.8 L150.4,140.1Z M169.3,133.7 L170.0,131.8 L173.8,131.8 L174.9,133.7 L172.3,135.7 L170.0,136.0Z M170.8,129.9 L172.3,128.6 L173.8,130.2 L171.5,131.2Z M128.4,152.2 L129.2,153.5 L132.2,154.8 L134.1,153.5 L133.7,151.0 L134.5,148.4 L131.4,147.8 L128.4,149.1Z M123.7,151.6 L125.4,151.0 L127.7,152.9 L126.9,154.5 L124.6,154.2Z M128.4,155.8 L132.2,155.1 L132.2,157.4 L129.2,157.0Z M142.4,154.2 L143.9,153.5 L143.5,154.8Z M136.0,72.8 L139.8,70.3 L145.4,69.0 L146.6,67.4 L142.0,69.9 L138.2,71.5Z M160.9,122.3 L163.6,121.0 L163.2,122.6Z M182.7,268.7 L183.5,269.0 L183.3,270.0 L182.7,269.6Z M181.8,269.0 L182.3,269.0 L182.1,269.8Z M180.8,266.8 L181.2,266.4 L181.2,267.2Z M182.7,273.1 L183.1,273.1 L183.0,273.8Z M178.7,265.5 L179.1,265.2 L179.0,265.9Z M188.6,268.4 L189.1,268.7 L188.8,269.3Z M188.9,270.6 L190.3,270.3 L189.7,271.2Z M178.7,271.2 L179.5,271.0 L179.3,271.9Z M184.4,270.0 L185.2,270.2 L184.8,270.6Z M182.1,265.8 L182.9,265.5 L182.5,266.4Z M179.9,263.6 L181.0,263.9 L180.4,264.5Z M185.2,260.7 L185.5,261.0 L185.3,261.7Z M182.9,251.1 L183.6,250.8 L183.3,251.8Z M179.9,246.0 L180.4,246.4 L180.1,247.0Z M148.8,229.4 L150.7,229.8 L149.6,230.4Z M149.2,230.7 L151.9,231.0 L150.4,231.7Z M142.8,221.2 L144.3,223.1 L143.5,223.7Z M141.3,218.6 L142.0,219.9 L141.1,221.2Z M62.2,145.2 L64.1,144.6 L64.9,146.2 L63.0,146.5Z M63.3,149.1 L64.1,148.7 L63.7,151.0Z M60.3,142.7 L58.8,142.0 L59.2,143.6Z M196.9,242.8 L195.0,242.2 L192.7,240.3 L192.3,237.7 L191.2,234.6 L192.3,232.0 L192.7,230.1 L195.0,227.5 L195.2,223.7 L196.1,221.2 L199.2,218.6 L199.2,216.0 L201.0,213.5 L203.1,209.0 L204.8,208.4 L207.1,209.7 L209.7,211.6 L211.6,212.5 L209.7,216.0 L213.2,217.3 L213.9,221.2 L215.8,222.4 L217.3,221.2 L219.6,219.9 L220.7,218.6 L224.5,218.3 L226.0,218.6 L227.9,219.9 L229.8,221.2 L232.8,223.7 L237.0,227.5 L239.3,230.7 L241.9,232.6 L244.2,236.5 L244.2,240.3 L241.9,243.5 L239.3,244.1 L237.0,244.1 L232.1,244.4 L229.0,243.5 L226.8,242.8 L224.1,242.2 L222.6,239.7 L220.0,237.7 L215.4,237.7 L212.8,237.7 L209.0,239.7 L206.0,242.2 L202.2,242.8 L197.6,242.8Z M218.4,211.6 L220.3,210.3 L222.6,208.1 L226.0,207.4 L228.7,205.5 L231.3,205.2 L235.1,204.2 L234.0,207.1 L231.7,208.4 L230.2,210.9 L230.6,212.9 L229.8,214.1 L228.7,216.0 L226.0,216.0 L224.1,215.7 L221.1,216.7 L220.0,215.1 L218.4,212.9Z M187.8,247.9 L190.1,247.6 L192.3,247.9 L195.0,247.9 L196.5,247.6 L197.3,245.4 L196.1,243.8 L194.6,244.1 L192.0,244.4 L190.1,245.1 L188.6,246.7Z" fill="none" stroke="#000" stroke-width="1.2" stroke-linejoin="round"/>
<path d="M106.2,130.9 105.8,129.8 105.8,129.3 103.9,128.4 105.1,126.3 104.3,125.1 102.4,124.1 104.3,122.6 104.8,121.6 104.7,120.5 103.7,119.2 103.5,117.7 102.7,116.1 103.9,115.2 104.2,114.1 104.7,112.6 105.3,111.4 105.0,110.0 106.3,109.4 106.1,107.7 107.3,106.9 107.7,105.7 108.8,105.7 108.8,104.0 109.6,103.1 111.1,103.0 112.8,103.2 114.4,103.5 115.5,102.3 115.5,100.6 116.7,100.5 117.7,100.1 118.4,99.1 119.2,97.4 120.7,96.7 121.8,96.9 122.9,97.8 123.7,96.9 124.7,96.0 124.7,94.7 125.4,94.1 125.5,92.9 126.5,93.0 127.2,92.6 127.2,91.4 126.9,89.6 128.9,89.6 129.2,88.7 130.5,88.7 130.4,87.8 130.0,87.1 131.0,86.5 131.9,85.8 132.5,84.9 133.7,84.5 134.3,83.6 133.3,81.9 131.6,79.8 133.9,79.9 135.4,79.7 137.0,79.5 136.5,77.6 136.8,75.6 138.1,75.4 139.0,75.1 140.5,75.5 141.5,75.1 141.5,73.6 140.9,72.9 141.4,72.4 143.2,71.1 144.2,69.9 144.6,68.6 144.5,67.7 146.5,68.4 147.3,68.0 145.9,67.8 144.3,65.2 146.2,62.8 146.5,61.2 148.4,61.8 150.2,62.3 151.1,61.6 151.9,60.4 153.3,60.4 154.1,59.5 155.8,59.3 157.6,58.1 158.1,60.4 158.5,59.4 158.4,57.5 159.9,56.7 161.7,57.6 162.7,57.2 163.9,58.1 164.8,57.6 165.8,57.3 166.7,56.6 167.5,55.8 168.4,55.1 169.1,54.9 169.6,54.6 169.7,53.2 170.9,52.1 172.7,52.8 173.6,52.4 174.9,53.4 175.6,52.9 176.0,52.0 177.3,52.3 178.3,51.7 179.9,52.8 180.8,51.8 181.6,50.3 182.4,49.0 184.4,51.0 185.5,51.4 187.0,50.0 187.6,51.0 187.8,50.2 188.0,49.4 188.8,48.0 191.2,49.7 192.6,51.0 193.4,51.6 194.1,52.3 195.3,52.3 195.8,53.7 197.5,52.3 198.0,53.4 198.8,53.8 199.9,52.9 201.0,52.0 202.8,51.3 203.8,53.2 204.7,54.0 203.6,58.4 M106.6,130.9 106.8,129.5 106.0,129.2 104.3,128.2 104.5,126.4 104.6,125.1 105.7,123.6 105.0,122.5 105.1,121.5 103.8,120.6 103.9,119.2 103.7,117.7 104.3,116.3 103.9,115.2 102.8,114.2 103.1,112.5 102.8,110.8 103.8,109.5 105.1,108.5 106.9,108.5 107.7,107.6 108.0,106.2 108.3,104.9 109.3,104.6 109.5,103.0 110.8,102.6 112.5,102.7 113.9,102.8 115.9,102.8 117.0,102.6 117.2,101.2 117.1,99.4 117.6,98.2 119.1,97.2 120.8,97.1 122.0,97.5 122.6,97.3 122.8,96.1 122.4,93.7 124.4,94.4 124.9,93.6 125.5,92.9 126.0,92.6 126.6,92.2 127.4,91.5 127.9,90.3 128.7,89.4 129.8,89.3 131.7,89.9 132.0,88.9 129.9,87.1 130.9,86.5 130.8,85.2 131.5,84.3 132.4,83.7 132.5,82.6 132.2,81.3 132.9,80.6 135.2,80.8 136.0,80.1 137.3,79.7 137.5,78.5 138.2,77.4 139.5,77.4 139.7,75.9 140.4,75.3 141.4,74.9 141.2,73.2 142.1,73.6 141.5,72.4 142.4,70.6 143.5,68.8 144.4,68.3 145.3,68.5 145.8,68.0 145.8,67.8 145.5,68.0 145.7,65.6 146.5,63.1 148.3,63.7 149.8,63.9 150.0,62.0 150.2,60.0 151.9,60.4 153.8,61.3 155.0,61.3 155.9,60.1 157.3,59.5 158.0,59.9 158.8,59.9 158.8,58.0 159.6,56.0 161.6,57.0 162.7,57.5 163.8,57.8 164.5,56.1 165.5,55.7 166.7,56.6 168.1,57.7 168.9,56.8 168.9,54.6 170.1,55.4 170.7,54.7 171.6,53.7 172.5,52.2 173.5,52.2 174.9,53.8 175.3,52.3 176.2,52.3 177.1,51.8 178.2,51.5 179.8,52.6 180.5,50.0 181.3,48.9 182.4,49.0 184.4,48.4 186.0,50.0 186.6,51.0 187.8,50.5 187.8,51.1 188.8,52.3 189.7,50.9 191.2,50.6 192.6,51.1 193.9,50.1 194.8,50.6 196.5,49.5 196.7,51.6 198.0,51.0 198.3,52.4 199.0,52.1 200.0,52.0 201.1,51.5 202.3,52.8 203.4,54.0 204.6,54.2 203.6,58.4 M106.8,130.9 106.0,129.7 105.6,129.4 105.3,127.9 106.0,126.2 105.6,124.9 104.5,123.8 105.1,122.5 103.5,122.0 103.0,120.8 104.5,119.1 103.9,117.7 102.3,116.0 103.7,115.2 102.8,114.2 102.3,112.4 104.1,111.1 104.3,109.7 105.0,108.5 106.7,108.3 107.0,106.5 108.0,106.2 109.1,106.1 109.4,104.8 110.2,104.0 111.0,102.9 112.7,103.0 113.9,102.7 115.5,102.3 115.7,100.9 116.2,99.8 118.2,100.7 118.2,98.9 118.4,95.9 121.0,97.8 122.1,97.7 122.6,97.3 122.9,96.1 123.9,95.3 124.9,95.0 125.2,93.9 125.6,93.0 126.0,92.6 126.4,92.1 126.2,90.8 127.5,90.0 128.6,89.3 129.8,89.3 130.3,88.4 130.0,87.5 131.7,87.8 132.1,87.0 132.1,85.9 132.3,84.8 132.6,83.8 133.5,83.2 134.2,82.4 134.5,81.5 135.2,80.7 136.3,80.3 136.7,79.3 136.3,77.4 137.2,76.1 138.1,75.5 139.1,75.1 139.4,74.0 140.9,74.4 141.6,73.7 141.4,73.2 141.4,72.4 142.2,70.4 143.3,68.6 144.2,68.0 144.2,67.5 146.9,68.6 147.8,68.0 147.6,67.1 145.9,65.7 147.3,64.2 148.1,63.5 149.5,63.5 150.6,63.0 151.1,61.4 151.5,59.7 152.1,58.1 153.9,59.2 155.8,59.5 157.4,59.3 157.6,57.9 158.6,59.6 159.3,58.7 160.3,57.6 161.6,57.1 162.5,56.4 163.5,56.3 164.3,55.3 165.7,56.7 166.4,55.6 167.8,56.8 168.8,56.5 169.5,55.8 168.8,53.5 170.3,54.0 171.8,54.3 172.8,53.4 174.0,54.1 174.8,53.4 175.5,52.7 176.3,52.6 177.1,52.0 178.0,50.8 179.6,51.2 180.8,51.7 181.9,51.4 183.0,51.2 184.4,51.1 185.9,50.5 187.1,49.8 187.8,50.3 187.8,48.8 187.7,48.3 189.0,48.5 191.2,49.1 193.1,49.6 194.1,49.7 194.4,51.8 195.9,50.8 196.1,53.0 197.1,53.4 198.0,53.4 198.9,52.9 199.8,53.2 200.7,53.7 201.7,54.6 202.8,55.0 204.1,55.0 203.7,58.3 M105.7,130.9 104.1,130.1 105.5,129.5 104.1,128.3 105.5,126.3 103.8,125.2 104.5,123.8 104.5,122.6 103.7,121.9 102.9,120.8 102.8,119.3 103.4,117.7 103.8,116.3 102.9,115.1 102.7,114.2 103.1,112.5 102.8,110.8 103.5,109.3 104.3,107.9 106.1,107.6 106.7,106.0 107.4,105.1 108.7,105.5 110.2,105.9 111.0,105.1 111.7,104.0 112.6,102.8 113.4,102.0 115.2,102.0 116.5,101.9 116.8,100.7 117.0,99.3 117.6,98.2 119.5,97.8 121.0,97.7 121.8,96.7 122.2,96.7 122.0,95.3 124.4,95.7 124.4,94.4 125.3,94.0 125.9,93.3 127.1,93.5 127.7,92.8 127.0,91.3 129.3,91.4 128.5,89.2 128.9,88.3 129.5,87.6 130.5,87.9 130.5,87.3 131.3,86.6 131.5,85.6 131.6,84.4 131.7,83.3 133.7,83.3 134.6,82.7 134.4,81.4 133.6,79.8 135.1,79.6 135.6,78.7 135.5,76.7 137.0,75.8 138.7,76.3 139.7,75.9 140.2,75.1 140.4,73.7 141.9,74.0 141.1,72.9 141.3,72.4 143.5,71.3 144.8,70.7 144.9,69.0 144.6,67.9 146.6,68.4 147.3,68.0 146.9,67.4 144.4,65.2 147.0,63.7 147.1,62.1 149.4,63.3 150.3,62.5 151.2,61.7 152.4,61.2 153.4,60.6 154.2,59.6 155.7,58.7 157.4,59.4 158.2,60.7 159.2,60.5 160.0,59.7 160.6,58.4 161.8,58.0 162.8,57.8 163.7,57.0 164.6,56.5 165.6,56.4 166.4,55.5 167.1,54.8 168.0,54.0 169.9,56.6 170.5,55.9 170.7,54.6 170.9,52.2 172.7,53.1 173.7,53.1 174.4,51.8 175.0,51.4 176.6,53.1 176.9,51.5 178.5,52.3 179.6,51.2 180.5,49.8 181.4,49.3 182.5,49.3 184.4,50.1 185.4,51.8 186.7,50.9 187.6,51.0 187.8,50.6 188.5,51.0 189.5,50.5 191.2,48.4 193.3,48.9 194.0,50.0 194.6,51.0 195.6,51.7 196.5,52.1 197.2,53.1 198.0,53.6 199.0,52.2 200.2,50.8 200.9,52.4 202.0,53.6 203.4,54.0 204.3,54.7 204.2,57.3" fill="none" stroke="#000" stroke-width="1.2" stroke-linejoin="round"/><path d="M73.7,129.9 72.9,131.1 71.8,130.6 71.1,131.9 70.2,131.2 69.2,130.7 67.4,130.8 67.2,132.6 66.2,133.1 65.8,134.1 65.9,135.2 65.7,136.0 63.8,136.2 63.4,138.4 65.1,139.8 65.1,140.9 64.7,141.2 62.9,141.4 63.7,141.9 62.3,143.4 63.6,145.5 64.7,145.8 65.5,146.1 64.3,146.7 64.3,147.8 63.3,148.7 64.8,150.1 64.2,151.2 62.6,154.0 65.9,151.9 67.0,151.4 66.7,151.2 67.2,150.5 67.8,151.1 68.2,152.7 M49.3,177.7 47.1,177.8 48.4,176.0 48.1,174.9 47.6,173.3 46.6,171.4 46.8,170.2 49.0,169.7 49.7,168.2 50.0,168.3 49.3,168.3 50.1,166.8 49.2,165.7 48.8,164.8 47.0,163.7 48.4,162.3 48.5,161.2 48.0,159.2 49.9,159.0 51.0,159.1 51.9,158.3 53.1,157.7 53.0,158.2 53.0,158.3 52.3,156.4 54.1,155.2 53.9,154.5 54.4,153.6 M159.7,240.8 158.9,240.0 158.3,238.6 158.0,237.1 157.3,236.3 156.0,235.9 154.7,235.7 155.0,233.9 153.7,233.7 152.0,233.9 152.0,232.0 151.5,231.2 151.0,230.4 150.2,229.9 149.2,229.5 147.8,230.2 147.9,227.9 146.7,227.3 145.6,226.6 144.9,225.7 144.2,224.7 143.2,223.8 142.4,222.8 142.2,221.7 141.6,220.9 141.2,220.0 141.2,218.8 140.1,217.9 140.2,216.9 M186.1,248.9 185.5,250.9 185.3,248.9 185.5,248.0 185.1,246.0 187.2,246.7 186.9,247.6 185.5,247.3 184.8,246.4 183.4,247.9 183.0,245.8 182.2,245.2 181.3,246.0 180.4,246.1 179.8,246.7 178.6,246.5 177.3,246.3 179.4,247.3 177.9,248.0 178.0,248.2 176.6,248.4 177.4,248.3 175.6,249.3 179.0,251.2 176.2,251.4 175.1,250.9 176.8,249.7 174.3,249.2 174.0,247.9 173.3,248.6 173.2,248.1 173.9,248.4 175.5,249.2 174.1,250.1 174.1,250.9 174.1,251.9 175.0,252.4 174.7,253.7 175.8,255.0 174.8,256.4 173.6,256.8 173.2,257.8 173.7,257.8 174.5,258.7 175.9,258.1 176.2,259.2 177.0,259.8 177.6,260.8 178.9,261.7 179.3,263.3 176.5,264.2 178.0,266.5 176.8,264.4 175.9,263.5 174.6,264.3 176.2,266.8 175.2,267.8 174.8,266.5 174.8,267.5 174.9,268.6 174.7,269.7 175.0,270.6 175.3,271.6 174.9,272.4 173.8,272.4 173.5,271.6 172.1,272.4 170.9,271.8 172.2,274.7 171.0,272.4 169.1,272.2 170.2,271.2 168.8,271.1 168.5,269.9 166.9,269.0 167.3,267.7 167.8,266.5 168.1,265.8 167.3,265.5 166.4,264.3 167.2,263.1 167.7,261.9 167.4,260.1 168.2,261.2 167.3,261.0 166.4,260.7 M189.2,269.3 189.5,268.3 190.4,267.9 189.6,267.2 189.0,265.9 188.5,264.8 187.7,264.1 185.7,264.4 185.8,262.0 186.6,260.3 186.9,260.1 186.3,259.8 185.7,258.8 187.2,257.8 186.7,257.5 186.8,256.4 185.8,255.7 183.8,254.3 184.9,252.3 184.9,250.8 186.1,249.3 M204.0,60.1 204.9,60.1 205.9,60.2 206.6,58.2 208.0,59.6 208.9,60.2 210.0,60.2 211.2,60.1 211.2,61.6 211.9,62.0 212.7,61.5 213.5,62.3 214.4,62.5 215.4,62.2 216.4,61.7 217.5,61.8 218.4,62.6 219.4,63.4 220.4,63.6 221.4,63.5 222.7,62.3 223.6,62.7 224.3,63.7 225.0,64.8 225.8,65.4 226.8,65.5 227.7,65.5 228.6,65.9 230.2,65.1 230.7,66.3 231.0,67.9 232.0,68.1 233.0,68.3 234.3,67.1 234.7,68.4 235.4,69.1 236.4,69.1 238.4,68.8" fill="none" stroke="#000" stroke-width="1.0" stroke-linejoin="round"/>
</g>
<rect x="29.4" y="46.8" width="227.49999999999997" height="2.9" fill="#fff"/>
<rect x="29.4" y="278.70000000000005" width="227.49999999999997" height="2.9" fill="#fff"/>
<rect x="29.4" y="46.8" width="2.9" height="234.8" fill="#fff"/>
<rect x="253.99999999999997" y="46.8" width="2.9" height="234.8" fill="#fff"/>
<rect x="35.35" y="46.8" width="6.05" height="2.9" fill="#000"/>
<rect x="64.10" y="46.8" width="22.70" height="2.9" fill="#000"/>
<rect x="109.50" y="46.8" width="22.70" height="2.9" fill="#000"/>
<rect x="154.89" y="46.8" width="22.70" height="2.9" fill="#000"/>
<rect x="200.29" y="46.8" width="22.70" height="2.9" fill="#000"/>
<rect x="240.01" y="46.8" width="16.89" height="2.9" fill="#000"/>
<rect x="29.40" y="278.70000000000005" width="5.95" height="2.9" fill="#000"/>
<rect x="41.40" y="278.70000000000005" width="22.70" height="2.9" fill="#000"/>
<rect x="86.80" y="278.70000000000005" width="22.70" height="2.9" fill="#000"/>
<rect x="132.20" y="278.70000000000005" width="22.70" height="2.9" fill="#000"/>
<rect x="177.59" y="278.70000000000005" width="22.70" height="2.9" fill="#000"/>
<rect x="222.99" y="278.70000000000005" width="17.02" height="2.9" fill="#000"/>
<rect x="29.4" y="71.86" width="2.9" height="25.52" fill="#000"/>
<rect x="29.4" y="122.90" width="2.9" height="25.52" fill="#000"/>
<rect x="29.4" y="173.94" width="2.9" height="25.52" fill="#000"/>
<rect x="29.4" y="224.98" width="2.9" height="25.52" fill="#000"/>
<rect x="29.4" y="265.81" width="2.9" height="15.79" fill="#000"/>
<rect x="253.99999999999997" y="46.80" width="2.9" height="25.06" fill="#000"/>
<rect x="253.99999999999997" y="97.38" width="2.9" height="25.52" fill="#000"/>
<rect x="253.99999999999997" y="148.42" width="2.9" height="25.52" fill="#000"/>
<rect x="253.99999999999997" y="199.46" width="2.9" height="25.52" fill="#000"/>
<rect x="253.99999999999997" y="250.50" width="2.9" height="15.31" fill="#000"/>
<rect x="29.4" y="46.8" width="227.49999999999997" height="234.8" fill="none" stroke="#777" stroke-width="0.6"/>
<rect x="32.3" y="49.699999999999996" width="221.69999999999996" height="229.0" fill="none" stroke="#999" stroke-width="0.5"/>
<rect x="268.0" y="46.5" width="16.69999999999999" height="235.8" fill="#111"/>
<rect x="269.40" y="47.05" width="13.90" height="4.95" fill="#F0108C"/>
<rect x="269.40" y="53.10" width="13.90" height="4.95" fill="#F01880"/>
<rect x="269.40" y="59.14" width="13.90" height="4.95" fill="#F02070"/>
<rect x="269.40" y="65.19" width="13.90" height="4.95" fill="#F02860"/>
<rect x="269.40" y="71.23" width="13.90" height="4.95" fill="#F03050"/>
<rect x="269.40" y="77.28" width="13.90" height="4.95" fill="#F04040"/>
<rect x="269.40" y="83.33" width="13.90" height="4.95" fill="#F85030"/>
<rect x="269.40" y="89.37" width="13.90" height="4.95" fill="#F86028"/>
<rect x="269.40" y="95.42" width="13.90" height="4.95" fill="#F87020"/>
<rect x="269.40" y="101.47" width="13.90" height="4.95" fill="#F87820"/>
<rect x="269.40" y="107.51" width="13.90" height="4.95" fill="#F88818"/>
<rect x="269.40" y="113.56" width="13.90" height="4.95" fill="#F89818"/>
<rect x="269.40" y="119.60" width="13.90" height="4.95" fill="#F8A818"/>
<rect x="269.40" y="125.65" width="13.90" height="4.95" fill="#F8B818"/>
<rect x="269.40" y="131.70" width="13.90" height="4.95" fill="#F0C818"/>
<rect x="269.40" y="137.74" width="13.90" height="4.95" fill="#F0D018"/>
<rect x="269.40" y="143.79" width="13.90" height="4.95" fill="#F0D818"/>
<rect x="269.40" y="149.83" width="13.90" height="4.95" fill="#F0E000"/>
<rect x="269.40" y="155.88" width="13.90" height="4.95" fill="#F0E060"/>
<rect x="269.40" y="161.93" width="13.90" height="4.95" fill="#F5EB9A"/>
<rect x="269.40" y="167.97" width="13.90" height="4.95" fill="#FBF3CC"/>
<rect x="269.40" y="174.02" width="13.90" height="4.95" fill="#FFFFFF"/>
<rect x="269.40" y="180.07" width="13.90" height="4.95" fill="#8CECB0"/>
<rect x="269.40" y="186.11" width="13.90" height="4.95" fill="#10E060"/>
<rect x="269.40" y="192.16" width="13.90" height="4.95" fill="#00E010"/>
<rect x="269.40" y="198.20" width="13.90" height="4.95" fill="#00D840"/>
<rect x="269.40" y="204.25" width="13.90" height="4.95" fill="#10D868"/>
<rect x="269.40" y="210.30" width="13.90" height="4.95" fill="#20D098"/>
<rect x="269.40" y="216.34" width="13.90" height="4.95" fill="#20C8C4"/>
<rect x="269.40" y="222.39" width="13.90" height="4.95" fill="#18B8E8"/>
<rect x="269.40" y="228.43" width="13.90" height="4.95" fill="#20A8F0"/>
<rect x="269.40" y="234.48" width="13.90" height="4.95" fill="#1890F8"/>
<rect x="269.40" y="240.53" width="13.90" height="4.95" fill="#1878F8"/>
<rect x="269.40" y="246.57" width="13.90" height="4.95" fill="#1060F8"/>
<rect x="269.40" y="252.62" width="13.90" height="4.95" fill="#1048F0"/>
<rect x="269.40" y="258.67" width="13.90" height="4.95" fill="#4038F0"/>
<rect x="269.40" y="264.71" width="13.90" height="4.95" fill="#6828E8"/>
<rect x="269.40" y="270.76" width="13.90" height="4.95" fill="#9010E0"/>
<rect x="269.40" y="276.80" width="13.90" height="4.95" fill="#C000D8"/>
<text transform="translate(291.2,63.3) scale(1,1.2)" class="cb">0.5</text>
<text transform="translate(291.2,87.5) scale(1,1.2)" class="cb">0.4</text>
<text transform="translate(291.2,111.7) scale(1,1.2)" class="cb">0.3</text>
<text transform="translate(291.2,135.9) scale(1,1.2)" class="cb">0.2</text>
<text transform="translate(291.2,160.1) scale(1,1.2)" class="cb">0.1</text>
<text transform="translate(291.4,184.3) scale(1,1.2)" class="cb">0</text>
<text transform="translate(286.3,208.5) scale(1,1.2)" class="cb">-0.1</text>
<text transform="translate(286.3,232.7) scale(1,1.2)" class="cb">-0.2</text>
<text transform="translate(286.3,256.9) scale(1,1.2)" class="cb">-0.3</text>
<text transform="translate(286.3,281.1) scale(1,1.2)" class="cb">-0.4</text>
<text transform="translate(319.2,163.3) rotate(-90)" text-anchor="middle" class="cbl">correlation coefficient</text>
<text transform="translate(27.2,51.2) scale(1,1.17)" text-anchor="end" class="ax">72<tspan class="deg" dy="-3.5">o</tspan><tspan dy="3.5">N</tspan></text>
<text transform="translate(27.2,102.3) scale(1,1.17)" text-anchor="end" class="ax">64<tspan class="deg" dy="-3.5">o</tspan><tspan dy="3.5">N</tspan></text>
<text transform="translate(27.2,153.3) scale(1,1.17)" text-anchor="end" class="ax">56<tspan class="deg" dy="-3.5">o</tspan><tspan dy="3.5">N</tspan></text>
<text transform="translate(27.2,204.4) scale(1,1.17)" text-anchor="end" class="ax">48<tspan class="deg" dy="-3.5">o</tspan><tspan dy="3.5">N</tspan></text>
<text transform="translate(27.2,255.4) scale(1,1.17)" text-anchor="end" class="ax">40<tspan class="deg" dy="-3.5">o</tspan><tspan dy="3.5">N</tspan></text>
<text transform="translate(42.4,293.2) scale(1,1.17)" text-anchor="middle" class="ax">12<tspan class="deg" dy="-3.5">o</tspan><tspan dy="3.5">W</tspan></text>
<text transform="translate(87.8,293.2) scale(1,1.17)" text-anchor="middle" class="ax">0<tspan class="deg" dy="-3.5">o</tspan><tspan dy="3.5"></tspan></text>
<text transform="translate(133.2,293.2) scale(1,1.17)" text-anchor="middle" class="ax">12<tspan class="deg" dy="-3.5">o</tspan><tspan dy="3.5">E</tspan></text>
<text transform="translate(178.6,293.2) scale(1,1.17)" text-anchor="middle" class="ax">24<tspan class="deg" dy="-3.5">o</tspan><tspan dy="3.5">E</tspan></text>
<text transform="translate(224.0,293.2) scale(1,1.17)" text-anchor="middle" class="ax">36<tspan class="deg" dy="-3.5">o</tspan><tspan dy="3.5">E</tspan></text>
<text text-anchor="middle" class="pl" transform="translate(160.5,322.3) scale(1,1.03)" x="0" y="0">(<tspan font-weight="bold">b</tspan>)</text>
</g>
<g transform="matrix(1.0238 0 0 1.024 688.584 -7.218)">
<text transform="translate(143.4,22.2) scale(1,1.04)" text-anchor="middle" class="t1">Correlation Map</text>
<text transform="translate(143.4,39.0) scale(1,1.06)" text-anchor="middle" class="t1 t2">EAWR Index JFM vs. PP MAM</text>
<g clip-path="url(#mapclip)">
<g clip-path="url(#landclip)">
<g filter="url(#cm)"><path fill="#090909" d="M193 206h5v5h-5z"/><path fill="#0a0a0a" d="M193 211h5v5h-5z"/><path fill="#0b0b0b" d="M188 206h5v5h-5z"/><path fill="#0f0f0f" d="M188 211h5v5h-5z"/><path fill="#111111" d="M198 211h5v5h-5z"/><path fill="#141414" d="M203 196h5v5h-5z"/><path fill="#161616" d="M183 206h5v5h-5zM183 211h5v5h-5z"/><path fill="#171717" d="M198 216h5v5h-5z"/><path fill="#191919" d="M193 201h5v5h-5z"/><path fill="#1a1a1a" d="M198 201h5v5h-5zM183 216h5v5h-5z"/><path fill="#1b1b1b" d="M198 196h5v5h-5zM203 201h5v5h-5zM198 206h5v5h-5z"/><path fill="#1c1c1c" d="M188 201h5v5h-5zM188 216h5v5h-5z"/><path fill="#1d1d1d" d="M193 216h5v5h-5z"/><path fill="#1e1e1e" d="M203 216h5v5h-5z"/><path fill="#212121" d="M158 161h5v5h-5zM203 191h5v5h-5zM208 196h5v5h-5zM183 221h10v5h-10z"/><path fill="#232323" d="M158 166h5v5h-5z"/><path fill="#242424" d="M183 201h5v5h-5zM178 216h5v5h-5zM198 221h5v5h-5z"/><path fill="#252525" d="M178 211h5v5h-5z"/><path fill="#272727" d="M153 161h5v5h-5zM163 161h5v5h-5z"/><path fill="#282828" d="M153 166h5v5h-5zM178 206h5v5h-5z"/><path fill="#292929" d="M178 221h5v5h-5zM193 221h5v5h-5z"/><path fill="#2a2a2a" d="M163 166h5v5h-5zM193 196h5v5h-5z"/><path fill="#2b2b2b" d="M188 226h5v5h-5z"/><path fill="#2c2c2c" d="M208 201h5v5h-5z"/><path fill="#2d2d2d" d="M208 191h5v5h-5zM203 211h5v5h-5z"/><path fill="#2e2e2e" d="M198 191h5v5h-5z"/><path fill="#2f2f2f" d="M133 186h5v5h-5zM203 206h5v5h-5zM173 221h5v5h-5zM203 221h5v5h-5zM183 226h5v5h-5z"/><path fill="#303030" d="M178 201h5v5h-5zM173 226h5v5h-5zM193 226h5v5h-5z"/><path fill="#313131" d="M178 226h5v5h-5z"/><path fill="#323232" d="M158 156h5v5h-5zM133 191h5v5h-5zM173 216h5v5h-5z"/><path fill="#333333" d="M188 196h5v5h-5z"/><path fill="#343434" d="M213 196h5v5h-5zM168 226h5v5h-5z"/><path fill="#353535" d="M153 196h5v5h-5zM98 226h5v5h-5z"/><path fill="#363636" d="M173 211h5v5h-5zM168 221h5v5h-5z"/><path fill="#373737" d="M153 156h5v5h-5zM163 156h5v5h-5zM158 171h5v5h-5zM123 221h5v5h-5z"/><path fill="#383838" d="M138 186h5v5h-5zM93 226h5v5h-5z"/><path fill="#393939" d="M203 186h5v5h-5zM173 206h5v5h-5zM163 226h5v5h-5z"/><path fill="#3a3a3a" d="M163 171h5v5h-5zM133 181h5v5h-5zM138 191h5v5h-5zM158 196h5v5h-5zM183 196h5v5h-5z"/><path fill="#3b3b3b" d="M168 161h5v5h-5zM148 166h5v5h-5zM128 186h5v5h-5zM173 201h5v5h-5zM93 221h5v5h-5zM128 221h5v5h-5zM88 226h5v5h-5z"/><path fill="#3c3c3c" d="M153 201h5v5h-5zM168 216h5v5h-5z"/><path fill="#3d3d3d" d="M148 161h5v5h-5zM168 166h5v5h-5zM153 171h5v5h-5zM148 196h5v5h-5zM158 201h5v5h-5zM103 226h5v5h-5zM198 226h5v5h-5z"/><path fill="#3e3e3e" d="M178 196h5v5h-5zM88 221h5v5h-5zM123 226h5v5h-5z"/><path fill="#3f3f3f" d="M173 116h5v5h-5zM128 191h5v5h-5zM208 216h5v5h-5zM163 221h5v5h-5z"/><path fill="#404040" d="M138 181h5v5h-5zM193 191h5v5h-5zM213 201h5v5h-5zM98 221h5v5h-5zM188 231h5v5h-5z"/><path fill="#414141" d="M173 111h5v5h-5zM213 191h5v5h-5zM173 196h5v5h-5zM83 226h5v5h-5z"/><path fill="#424242" d="M198 186h5v5h-5zM123 216h5v5h-5zM128 226h5v5h-5zM103 231h5v5h-5z"/><path fill="#434343" d="M223 141h5v5h-5zM128 181h5v5h-5zM208 186h5v5h-5zM168 201h5v5h-5zM168 211h5v5h-5zM128 216h5v5h-5zM193 231h5v5h-5z"/><path fill="#444444" d="M143 191h5v5h-5zM133 196h5v5h-5zM148 201h5v5h-5zM168 206h5v5h-5zM208 206h5v5h-5zM83 221h5v5h-5zM98 231h5v5h-5zM183 231h5v5h-5z"/><path fill="#454545" d="M228 146h5v5h-5zM148 191h5v5h-5zM158 191h5v5h-5zM163 196h5v5h-5zM163 201h5v5h-5zM163 231h5v5h-5zM63 236h5v5h-5zM63 241h5v5h-5z"/><path fill="#464646" d="M178 111h5v5h-5zM228 141h5v5h-5zM148 156h5v5h-5zM143 186h5v5h-5zM168 196h5v5h-5zM173 231h5v5h-5z"/><path fill="#474747" d="M223 146h5v5h-5zM153 191h5v5h-5zM138 196h5v5h-5zM93 231h5v5h-5zM168 231h5v5h-5z"/><path fill="#484848" d="M178 116h5v5h-5zM233 146h5v5h-5zM168 156h5v5h-5zM143 181h5v5h-5zM143 196h5v5h-5zM218 196h5v5h-5zM163 216h5v5h-5zM88 231h5v5h-5zM178 231h5v5h-5z"/><path fill="#494949" d="M148 171h5v5h-5zM128 196h5v5h-5zM133 221h5v5h-5z"/><path fill="#4a4a4a" d="M178 106h5v5h-5zM173 121h5v5h-5zM133 176h5v5h-5zM103 196h5v5h-5zM163 206h5v5h-5zM88 216h10v5h-10zM83 231h5v5h-5zM128 231h5v5h-5z"/><path fill="#4b4b4b" d="M233 141h5v5h-5zM168 171h5v5h-5zM123 191h5v5h-5zM163 191h5v5h-5zM208 211h5v5h-5zM118 221h5v5h-5zM123 231h5v5h-5z"/><path fill="#4c4c4c" d="M138 176h5v5h-5zM123 186h5v5h-5zM188 191h5v5h-5zM158 206h5v5h-5zM208 221h5v5h-5zM78 226h5v5h-5z"/><path fill="#4d4d4d" d="M168 116h5v5h-5zM178 121h5v5h-5zM228 151h5v5h-5zM108 196h5v5h-5zM163 211h5v5h-5zM133 216h5v5h-5zM78 221h5v5h-5z"/><path fill="#4e4e4e" d="M173 161h5v5h-5zM143 176h5v5h-5zM168 191h5v5h-5zM103 201h5v5h-5zM118 216h5v5h-5zM158 226h5v5h-5z"/><path fill="#4f4f4f" d="M173 106h5v5h-5zM218 141h5v5h-5zM98 196h5v5h-5zM123 196h5v5h-5zM83 216h5v5h-5zM103 221h5v5h-5zM133 226h5v5h-5zM158 231h5v5h-5zM198 231h5v5h-5zM58 236h5v5h-5zM68 236h5v5h-5zM58 241h5v5h-5z"/><path fill="#505050" d="M183 106h5v5h-5zM218 146h5v5h-5zM223 151h5v5h-5zM233 151h5v5h-5zM173 166h5v5h-5zM173 191h5v5h-5zM233 211h5v5h-5zM158 221h5v5h-5zM78 231h5v5h-5zM68 241h5v5h-5z"/><path fill="#515151" d="M158 151h5v5h-5zM218 191h5v5h-5zM113 196h10v5h-10zM98 216h5v5h-5zM118 226h5v5h-5z"/><path fill="#525252" d="M168 111h5v5h-5zM183 111h5v5h-5zM223 136h5v5h-5zM238 146h5v5h-5zM143 166h5v5h-5zM143 171h5v5h-5zM148 176h5v5h-5zM123 181h5v5h-5zM148 186h5v5h-5zM193 186h5v5h-5zM213 186h5v5h-5zM98 191h5v5h-5zM118 191h5v5h-5zM108 201h5v5h-5zM143 201h5v5h-5zM233 206h5v5h-5zM158 216h5v5h-5z"/><path fill="#535353" d="M128 176h5v5h-5zM158 176h10v5h-10zM148 181h5v5h-5zM103 191h5v5h-5zM98 201h5v5h-5zM153 206h5v5h-5zM118 256h5v5h-5zM148 256h5v5h-5z"/><path fill="#545454" d="M228 136h5v5h-5zM238 141h5v5h-5zM148 151h10v5h-10zM163 151h5v5h-5zM218 151h5v5h-5zM178 191h5v5h-5zM138 201h5v5h-5zM108 226h5v5h-5zM133 231h5v5h-5zM63 246h5v5h-5z"/><path fill="#555555" d="M183 101h5v5h-5zM188 106h5v5h-5zM233 136h5v5h-5zM173 156h5v5h-5zM153 176h5v5h-5zM198 181h5v5h-5zM118 186h5v5h-5zM113 191h5v5h-5zM23 201h10v5h-10zM113 201h5v5h-5zM133 201h5v5h-5zM218 201h5v5h-5zM158 211h5v5h-5zM78 216h5v5h-5zM233 216h5v5h-5zM118 231h5v5h-5z"/><path fill="#565656" d="M188 101h5v5h-5zM183 116h5v5h-5zM143 161h5v5h-5zM173 171h5v5h-5zM203 181h5v5h-5zM108 191h5v5h-5zM183 191h5v5h-5zM223 196h5v5h-5zM33 201h10v5h-10zM128 201h5v5h-5zM138 221h5v5h-5zM233 221h5v5h-5zM203 226h5v5h-5zM108 231h5v5h-5zM188 236h5v5h-5z"/><path fill="#575757" d="M168 121h5v5h-5zM218 136h5v5h-5zM158 186h10v5h-10zM93 191h5v5h-5zM93 196h5v5h-5zM43 201h5v5h-5zM148 206h5v5h-5zM128 211h5v5h-5zM73 221h5v5h-5zM128 236h10v5h-10zM148 251h5v5h-5zM113 256h5v5h-5z"/><path fill="#585858" d="M178 126h5v5h-5zM213 146h5v5h-5zM228 156h5v5h-5zM98 176h10v5h-10zM98 181h10v5h-10zM98 186h5v5h-5zM153 186h5v5h-5zM18 201h5v5h-5zM118 201h10v5h-10zM73 226h5v5h-5zM138 226h5v5h-5zM233 226h5v5h-5zM63 231h5v5h-5zM73 231h5v5h-5zM73 236h5v5h-5zM138 236h5v5h-5zM123 256h5v5h-5zM153 281h5v5h-5z"/><path fill="#595959" d="M188 111h5v5h-5zM238 136h5v5h-5zM213 151h5v5h-5zM178 166h5v5h-5zM168 176h5v5h-5zM93 186h5v5h-5zM118 211h10v5h-10zM138 216h5v5h-5zM153 216h5v5h-5zM53 236h5v5h-5zM143 236h5v5h-5zM183 236h5v5h-5zM198 236h5v5h-5zM53 241h5v5h-5zM143 241h5v5h-5zM58 246h5v5h-5zM68 246h5v5h-5zM118 251h5v5h-5zM153 256h5v5h-5zM158 281h5v5h-5z"/><path fill="#5a5a5a" d="M238 151h5v5h-5zM143 156h5v5h-5zM138 171h5v5h-5zM103 186h5v5h-5zM168 186h5v5h-5zM78 191h5v5h-5zM88 191h5v5h-5zM213 206h5v5h-5zM238 206h5v5h-5zM83 211h10v5h-10zM133 211h5v5h-5zM238 211h5v5h-5zM73 216h5v5h-5zM153 221h5v5h-5zM238 226h5v5h-5zM138 231h5v5h-5zM78 236h5v5h-5zM98 236h10v5h-10zM158 236h5v5h-5zM193 236h5v5h-5zM133 241h10v5h-10zM153 251h5v5h-5zM143 256h5v5h-5zM223 271h5v5h-5zM88 276h5v5h-5zM88 281h5v5h-5zM88 286h5v5h-5z"/><path fill="#5b5b5b" d="M213 86h5v5h-5zM193 101h5v5h-5zM183 121h5v5h-5zM173 126h5v5h-5zM213 141h5v5h-5zM103 151h5v5h-5zM233 156h5v5h-5zM178 161h5v5h-5zM178 171h5v5h-5zM118 181h5v5h-5zM208 181h5v5h-5zM108 186h10v5h-10zM218 186h5v5h-5zM83 191h5v5h-5zM48 201h5v5h-5zM93 201h5v5h-5zM28 206h5v5h-5zM93 211h5v5h-5zM68 231h5v5h-5zM83 236h15v5h-15zM118 236h5v5h-5zM163 236h5v5h-5zM73 241h5v5h-5zM113 251h5v5h-5zM123 251h5v5h-5zM88 256h5v5h-5zM88 261h5v5h-5zM88 266h5v5h-5zM88 271h5v5h-5zM173 271h5v5h-5zM158 286h5v5h-5z"/><path fill="#5c5c5c" d="M178 101h5v5h-5zM193 106h5v5h-5zM208 146h5v5h-5zM143 151h5v5h-5zM208 151h5v5h-5zM223 156h5v5h-5zM98 171h10v5h-10zM108 176h5v5h-5zM93 181h5v5h-5zM108 181h5v5h-5zM193 181h5v5h-5zM223 191h5v5h-5zM78 196h5v5h-5zM88 196h5v5h-5zM53 201h5v5h-5zM233 201h5v5h-5zM18 206h10v5h-10zM33 206h20v5h-20zM98 206h10v5h-10zM78 211h5v5h-5zM98 211h5v5h-5zM58 231h5v5h-5zM123 236h5v5h-5zM148 236h5v5h-5zM133 246h5v5h-5zM148 246h5v5h-5zM63 251h5v5h-5zM143 251h5v5h-5zM168 271h5v5h-5zM178 271h5v5h-5zM218 271h5v5h-5zM228 276h5v5h-5zM153 286h5v5h-5z"/><path fill="#5d5d5d" d="M253 136h15v5h-15zM243 146h5v5h-5zM168 151h5v5h-5zM178 156h5v5h-5zM213 156h10v5h-10zM183 171h10v5h-10zM228 171h5v5h-5zM153 181h5v5h-5zM163 181h5v5h-5zM213 181h5v5h-5zM88 186h5v5h-5zM173 186h5v5h-5zM188 186h5v5h-5zM73 191h5v5h-5zM73 196h5v5h-5zM83 196h5v5h-5zM228 196h5v5h-5zM53 206h5v5h-5zM143 206h5v5h-5zM258 206h5v5h-5zM73 211h5v5h-5zM153 211h5v5h-5zM103 216h5v5h-5zM53 231h5v5h-5zM48 236h5v5h-5zM153 236h5v5h-5zM48 241h5v5h-5zM148 241h5v5h-5zM103 246h5v5h-5zM58 251h5v5h-5zM68 251h5v5h-5zM88 251h10v5h-10zM93 256h5v5h-5zM213 261h5v5h-5zM93 271h5v5h-5zM183 271h5v5h-5zM203 271h5v5h-5zM228 271h5v5h-5zM93 276h5v5h-5zM178 276h5v5h-5zM223 276h5v5h-5z"/><path fill="#5e5e5e" d="M188 116h5v5h-5zM183 126h5v5h-5zM253 131h15v5h-15zM183 136h5v5h-5zM183 141h10v5h-10zM243 141h5v5h-5zM183 146h5v5h-5zM108 161h5v5h-5zM228 161h5v5h-5zM208 166h5v5h-5zM233 166h5v5h-5zM193 171h5v5h-5zM208 171h5v5h-5zM123 176h5v5h-5zM173 176h15v5h-15zM228 176h5v5h-5zM113 181h5v5h-5zM158 181h5v5h-5zM233 191h5v5h-5zM108 206h10v5h-10zM258 211h5v5h-5zM68 216h5v5h-5zM18 221h30v5h-30zM68 221h5v5h-5zM238 221h5v5h-5zM48 231h5v5h-5zM143 231h5v5h-5zM128 241h5v5h-5zM53 246h5v5h-5zM128 246h5v5h-5zM188 246h5v5h-5zM83 251h5v5h-5zM128 251h5v5h-5zM188 251h10v5h-10zM68 256h5v5h-5zM193 256h5v5h-5zM193 261h5v5h-5zM93 266h5v5h-5zM188 266h5v5h-5zM188 271h5v5h-5zM198 271h5v5h-5zM208 271h10v5h-10zM168 276h10v5h-10zM183 276h5v5h-5zM198 276h10v5h-10zM233 276h5v5h-5zM93 281h5v5h-5zM163 281h5v5h-5zM228 281h10v5h-10zM68 286h5v5h-5zM93 286h5v5h-5zM228 286h10v5h-10z"/><path fill="#5f5f5f" d="M178 131h10v5h-10zM238 131h5v5h-5zM248 131h5v5h-5zM163 136h5v5h-5zM243 136h10v5h-10zM248 141h5v5h-5zM148 146h5v5h-5zM203 146h5v5h-5zM178 151h5v5h-5zM203 151h5v5h-5zM208 156h5v5h-5zM103 166h5v5h-5zM213 166h5v5h-5zM228 166h5v5h-5zM108 171h5v5h-5zM133 171h5v5h-5zM213 171h5v5h-5zM233 171h5v5h-5zM93 176h5v5h-5zM188 176h5v5h-5zM218 176h10v5h-10zM188 181h5v5h-5zM218 181h15v5h-15zM228 186h10v5h-10zM233 196h5v5h-5zM73 201h5v5h-5zM73 206h5v5h-5zM118 206h5v5h-5zM253 206h5v5h-5zM263 206h5v5h-5zM53 211h5v5h-5zM138 211h5v5h-5zM253 211h5v5h-5zM263 211h5v5h-5zM43 216h20v5h-20zM148 216h5v5h-5zM48 221h10v5h-10zM108 221h5v5h-5zM143 221h10v5h-10zM18 226h35v5h-35zM68 226h5v5h-5zM143 226h5v5h-5zM153 226h5v5h-5zM18 231h30v5h-30zM153 231h5v5h-5zM18 236h30v5h-30zM108 236h10v5h-10zM203 236h5v5h-5zM18 241h30v5h-30zM18 246h35v5h-35zM73 246h5v5h-5zM98 246h5v5h-5zM138 246h10v5h-10zM153 246h5v5h-5zM193 246h5v5h-5zM18 251h30v5h-30zM18 256h50v5h-50zM73 256h5v5h-5zM83 256h5v5h-5zM213 256h5v5h-5zM18 261h60v5h-60zM83 261h5v5h-5zM93 261h5v5h-5zM18 266h60v5h-60zM83 266h5v5h-5zM193 266h10v5h-10zM213 266h5v5h-5zM18 271h60v5h-60zM83 271h5v5h-5zM163 271h5v5h-5zM193 271h5v5h-5zM18 276h60v5h-60zM83 276h5v5h-5zM163 276h5v5h-5zM188 276h10v5h-10zM208 276h15v5h-15zM18 281h60v5h-60zM83 281h5v5h-5zM168 281h5v5h-5zM178 281h45v5h-45zM18 286h50v5h-50zM73 286h5v5h-5zM83 286h5v5h-5zM163 286h65v5h-65z"/><path fill="#606060" d="M168 106h5v5h-5zM193 111h5v5h-5zM243 131h5v5h-5zM158 141h10v5h-10zM143 146h5v5h-5zM188 146h5v5h-5zM183 151h5v5h-5zM108 156h5v5h-5zM213 161h5v5h-5zM233 161h5v5h-5zM108 166h5v5h-5zM138 166h5v5h-5zM203 166h5v5h-5zM198 171h10v5h-10zM113 176h5v5h-5zM193 176h5v5h-5zM213 176h5v5h-5zM168 181h5v5h-5zM228 191h5v5h-5zM238 191h5v5h-5zM78 201h5v5h-5zM88 201h5v5h-5zM78 206h5v5h-5zM93 206h5v5h-5zM128 206h5v5h-5zM138 206h5v5h-5zM48 211h5v5h-5zM113 211h5v5h-5zM148 211h5v5h-5zM18 216h25v5h-25zM63 216h5v5h-5zM143 216h5v5h-5zM213 216h5v5h-5zM58 221h10v5h-10zM113 221h5v5h-5zM53 226h5v5h-5zM113 231h5v5h-5zM78 241h5v5h-5zM113 241h5v5h-5zM83 246h15v5h-15zM113 246h10v5h-10zM48 251h10v5h-10zM73 251h10v5h-10zM98 251h5v5h-5zM138 251h5v5h-5zM78 256h5v5h-5zM78 261h5v5h-5zM188 261h5v5h-5zM78 266h5v5h-5zM203 266h5v5h-5zM78 271h5v5h-5zM78 276h5v5h-5zM78 281h5v5h-5zM173 281h5v5h-5zM223 281h5v5h-5zM78 286h5v5h-5z"/><path fill="#616161" d="M188 121h5v5h-5zM188 136h5v5h-5zM253 141h15v5h-15zM198 146h5v5h-5zM138 156h5v5h-5zM208 161h5v5h-5zM183 166h5v5h-5zM193 166h10v5h-10zM218 171h5v5h-5zM198 176h5v5h-5zM208 176h5v5h-5zM173 181h10v5h-10zM178 186h5v5h-5zM223 186h5v5h-5zM68 196h5v5h-5zM238 196h5v5h-5zM58 201h5v5h-5zM68 201h5v5h-5zM83 201h5v5h-5zM223 201h5v5h-5zM238 201h5v5h-5zM123 206h5v5h-5zM133 206h5v5h-5zM18 211h30v5h-30zM113 216h5v5h-5zM258 216h5v5h-5zM58 226h5v5h-5zM113 226h5v5h-5zM98 241h5v5h-5zM118 241h5v5h-5zM153 241h5v5h-5zM188 241h5v5h-5zM78 246h5v5h-5zM108 246h5v5h-5zM123 246h5v5h-5zM183 266h5v5h-5zM208 266h5v5h-5zM218 266h5v5h-5zM238 281h5v5h-5zM238 286h5v5h-5z"/><path fill="#626262" d="M168 126h5v5h-5zM173 131h5v5h-5zM168 136h5v5h-5zM178 136h5v5h-5zM213 136h5v5h-5zM148 141h10v5h-10zM193 141h5v5h-5zM208 141h5v5h-5zM158 146h5v5h-5zM178 146h5v5h-5zM248 146h5v5h-5zM173 151h5v5h-5zM103 161h5v5h-5zM118 176h5v5h-5zM183 181h5v5h-5zM83 186h5v5h-5zM258 201h10v5h-10zM58 206h5v5h-5zM68 206h5v5h-5zM83 206h10v5h-10zM58 211h5v5h-5zM68 211h5v5h-5zM103 211h5v5h-5zM143 211h5v5h-5zM228 211h5v5h-5zM238 216h5v5h-5zM213 221h5v5h-5zM63 226h5v5h-5zM148 231h5v5h-5zM83 241h5v5h-5zM103 241h5v5h-5zM123 241h5v5h-5zM203 241h5v5h-5zM188 256h5v5h-5zM148 261h5v5h-5zM198 261h5v5h-5zM173 266h5v5h-5zM158 276h5v5h-5z"/><path fill="#636363" d="M208 86h5v5h-5zM213 91h5v5h-5zM193 116h5v5h-5zM168 131h5v5h-5zM233 131h5v5h-5zM158 136h5v5h-5zM178 141h5v5h-5zM153 146h5v5h-5zM163 146h5v5h-5zM193 146h5v5h-5zM108 151h5v5h-5zM138 151h5v5h-5zM103 156h5v5h-5zM138 161h5v5h-5zM218 161h10v5h-10zM188 166h5v5h-5zM93 171h5v5h-5zM203 176h5v5h-5zM233 181h5v5h-5zM238 186h5v5h-5zM243 191h5v5h-5zM63 201h5v5h-5zM228 201h5v5h-5zM253 201h5v5h-5zM228 206h5v5h-5zM228 216h5v5h-5zM253 216h5v5h-5zM148 226h5v5h-5zM88 241h10v5h-10zM108 241h5v5h-5zM193 241h5v5h-5zM208 241h5v5h-5zM213 251h5v5h-5zM208 261h5v5h-5zM178 266h5v5h-5zM223 266h5v5h-5zM238 276h5v5h-5z"/><path fill="#646464" d="M163 116h5v5h-5zM143 141h5v5h-5zM108 146h5v5h-5zM263 146h5v5h-5zM113 161h5v5h-5zM98 166h5v5h-5zM218 166h5v5h-5zM113 171h5v5h-5zM223 171h5v5h-5zM63 211h5v5h-5zM108 211h5v5h-5zM108 216h5v5h-5zM263 216h5v5h-5zM243 226h5v5h-5zM178 236h5v5h-5zM208 236h5v5h-5zM133 251h5v5h-5zM233 271h5v5h-5zM153 276h5v5h-5z"/><path fill="#656565" d="M173 136h5v5h-5zM198 141h5v5h-5zM253 146h10v5h-10zM243 151h5v5h-5zM133 156h5v5h-5zM183 156h5v5h-5zM203 156h5v5h-5zM183 161h5v5h-5zM203 161h5v5h-5zM113 166h5v5h-5zM233 176h5v5h-5zM183 186h5v5h-5zM243 196h5v5h-5zM243 206h10v5h-10zM213 211h5v5h-5zM228 221h5v5h-5zM258 221h5v5h-5zM208 226h5v5h-5zM183 241h5v5h-5zM183 246h5v5h-5zM213 246h5v5h-5zM103 251h10v5h-10zM208 256h5v5h-5z"/><path fill="#666666" d="M168 141h5v5h-5zM188 151h5v5h-5zM198 151h5v5h-5zM248 151h20v5h-20zM223 166h5v5h-5zM88 181h5v5h-5zM78 186h5v5h-5zM38 196h10v5h-10zM248 196h5v5h-5zM243 201h10v5h-10zM63 206h5v5h-5zM248 211h5v5h-5zM203 231h5v5h-5zM168 236h5v5h-5zM198 241h5v5h-5zM183 251h5v5h-5zM168 266h5v5h-5z"/><path fill="#676767" d="M188 126h5v5h-5zM188 131h5v5h-5zM203 141h5v5h-5zM138 146h5v5h-5zM113 156h5v5h-5zM258 156h5v5h-5zM133 161h5v5h-5zM243 186h5v5h-5zM248 191h5v5h-5zM33 196h5v5h-5zM253 196h15v5h-15zM263 221h5v5h-5zM143 261h5v5h-5z"/><path fill="#686868" d="M163 121h5v5h-5zM163 131h5v5h-5zM193 136h5v5h-5zM118 141h5v5h-5zM173 141h5v5h-5zM168 146h10v5h-10zM238 156h5v5h-5zM253 156h5v5h-5zM263 156h5v5h-5zM128 171h5v5h-5zM23 196h10v5h-10zM63 196h5v5h-5zM253 221h5v5h-5zM233 231h10v5h-10zM208 246h5v5h-5zM128 256h5v5h-5zM118 261h5v5h-5zM153 261h5v5h-5z"/><path fill="#696969" d="M213 81h5v5h-5zM218 86h5v5h-5zM208 91h5v5h-5zM198 106h5v5h-5zM123 141h5v5h-5zM133 166h5v5h-5zM68 191h5v5h-5zM208 231h5v5h-5zM213 241h5v5h-5zM198 256h5v5h-5zM203 261h5v5h-5zM243 281h5v5h-5z"/><path fill="#6a6a6a" d="M193 121h5v5h-5zM243 126h5v5h-5zM153 136h5v5h-5zM208 136h5v5h-5zM138 141h5v5h-5zM123 146h5v5h-5zM133 151h5v5h-5zM118 171h5v5h-5zM248 186h5v5h-5zM253 191h5v5h-5zM243 211h5v5h-5zM213 226h5v5h-5zM228 226h5v5h-5zM258 226h10v5h-10zM243 231h5v5h-5zM173 236h5v5h-5zM198 251h5v5h-5zM138 256h5v5h-5zM113 261h5v5h-5zM123 261h5v5h-5zM183 261h5v5h-5zM163 266h5v5h-5zM228 266h5v5h-5z"/><path fill="#6b6b6b" d="M218 91h5v5h-5zM198 101h5v5h-5zM163 111h5v5h-5zM198 111h5v5h-5zM248 126h20v5h-20zM213 131h5v5h-5zM128 141h5v5h-5zM128 146h5v5h-5zM128 151h5v5h-5zM193 151h5v5h-5zM73 186h5v5h-5zM258 191h10v5h-10zM18 196h5v5h-5zM58 196h5v5h-5zM248 226h10v5h-10zM208 251h5v5h-5zM218 261h5v5h-5zM243 286h5v5h-5z"/><path fill="#6c6c6c" d="M238 126h5v5h-5zM218 131h5v5h-5zM133 141h5v5h-5zM103 146h5v5h-5zM133 146h5v5h-5zM128 156h5v5h-5zM198 161h5v5h-5zM238 181h5v5h-5zM48 196h5v5h-5zM218 206h5v5h-5zM198 246h5v5h-5zM183 256h5v5h-5z"/><path fill="#6d6d6d" d="M188 96h5v5h-5zM173 101h5v5h-5zM163 126h5v5h-5zM113 141h5v5h-5zM188 161h5v5h-5zM253 186h15v5h-15zM248 216h5v5h-5zM248 231h5v5h-5zM213 236h5v5h-5zM158 241h5v5h-5zM238 271h5v5h-5zM243 276h5v5h-5zM148 281h5v5h-5zM148 286h5v5h-5z"/><path fill="#6e6e6e" d="M193 96h5v5h-5zM228 131h5v5h-5zM198 136h5v5h-5zM118 146h5v5h-5zM123 151h5v5h-5zM118 156h5v5h-5zM188 156h5v5h-5zM198 156h5v5h-5zM238 166h5v5h-5zM123 171h5v5h-5zM253 181h10v5h-10zM53 196h5v5h-5zM213 231h5v5h-5zM253 231h15v5h-15zM98 256h5v5h-5zM98 266h5v5h-5z"/><path fill="#6f6f6f" d="M198 116h5v5h-5zM148 136h5v5h-5zM118 161h5v5h-5zM193 161h5v5h-5zM118 166h5v5h-5zM263 181h5v5h-5zM108 256h5v5h-5zM203 256h5v5h-5zM218 256h5v5h-5zM98 271h5v5h-5z"/><path fill="#707070" d="M218 81h5v5h-5zM203 136h5v5h-5zM113 151h10v5h-10zM128 161h5v5h-5zM238 161h5v5h-5zM243 221h5v5h-5zM158 261h5v5h-5z"/><path fill="#717171" d="M183 96h5v5h-5zM233 126h5v5h-5zM193 131h5v5h-5zM208 131h5v5h-5zM248 156h5v5h-5zM258 161h5v5h-5zM238 171h5v5h-5zM88 176h5v5h-5zM248 181h5v5h-5zM248 221h5v5h-5zM203 246h5v5h-5zM178 261h5v5h-5zM98 276h5v5h-5zM98 286h5v5h-5z"/><path fill="#727272" d="M208 81h5v5h-5zM158 131h5v5h-5zM223 131h5v5h-5zM143 136h5v5h-5zM113 146h5v5h-5zM123 156h5v5h-5zM253 161h5v5h-5zM263 161h5v5h-5zM128 166h5v5h-5zM223 206h5v5h-5zM218 216h5v5h-5zM178 246h5v5h-5zM218 251h5v5h-5zM128 261h5v5h-5zM138 261h5v5h-5zM158 266h5v5h-5zM233 266h5v5h-5zM98 281h5v5h-5z"/><path fill="#737373" d="M203 106h5v5h-5zM193 126h5v5h-5zM93 166h5v5h-5zM238 176h5v5h-5zM218 221h5v5h-5zM178 241h5v5h-5zM218 246h5v5h-5zM178 251h5v5h-5zM98 261h5v5h-5zM158 271h5v5h-5z"/><path fill="#747474" d="M203 111h5v5h-5zM243 181h5v5h-5zM223 216h5v5h-5zM243 216h5v5h-5zM218 236h5v5h-5zM253 236h10v5h-10zM218 241h5v5h-5zM148 276h5v5h-5z"/><path fill="#757575" d="M213 96h5v5h-5zM158 116h5v5h-5zM198 121h5v5h-5zM193 156h5v5h-5zM123 161h5v5h-5zM258 176h5v5h-5zM83 181h5v5h-5zM218 211h5v5h-5zM223 221h5v5h-5zM218 226h5v5h-5zM263 236h5v5h-5zM163 241h5v5h-5zM203 251h5v5h-5z"/><path fill="#767676" d="M203 101h5v5h-5zM208 111h5v5h-5zM213 126h5v5h-5zM198 131h10v5h-10zM138 136h5v5h-5zM243 156h5v5h-5zM98 161h5v5h-5zM123 166h5v5h-5zM88 171h5v5h-5zM253 176h5v5h-5zM263 176h5v5h-5zM223 211h5v5h-5zM228 231h5v5h-5zM158 251h5v5h-5zM133 256h5v5h-5zM158 256h5v5h-5zM108 261h5v5h-5z"/><path fill="#777777" d="M208 96h5v5h-5zM208 106h5v5h-5zM233 106h5v5h-5zM158 121h5v5h-5zM248 236h5v5h-5zM158 246h5v5h-5zM178 256h5v5h-5zM173 261h5v5h-5zM223 261h5v5h-5z"/><path fill="#787878" d="M223 86h5v5h-5zM233 101h5v5h-5zM163 106h5v5h-5zM203 116h5v5h-5zM208 126h5v5h-5zM133 136h5v5h-5zM68 186h5v5h-5zM218 231h5v5h-5zM223 236h5v5h-5z"/><path fill="#797979" d="M223 81h5v5h-5zM203 86h5v5h-5zM243 86h5v5h-5zM203 91h5v5h-5zM243 91h5v5h-5zM198 96h5v5h-5zM218 96h5v5h-5zM233 96h5v5h-5zM168 101h5v5h-5zM208 101h5v5h-5zM213 106h5v5h-5zM223 226h5v5h-5zM243 236h5v5h-5zM243 271h5v5h-5zM248 281h5v5h-5z"/><path fill="#7a7a7a" d="M178 96h5v5h-5zM198 126h5v5h-5zM123 136h5v5h-5zM248 286h5v5h-5z"/><path fill="#7b7b7b" d="M223 91h5v5h-5zM238 91h5v5h-5zM203 96h5v5h-5zM238 96h5v5h-5zM213 101h5v5h-5zM238 101h5v5h-5zM213 111h5v5h-5zM233 111h5v5h-5zM158 126h5v5h-5zM118 136h5v5h-5zM128 136h5v5h-5zM108 141h5v5h-5zM248 176h5v5h-5zM63 191h5v5h-5zM223 231h5v5h-5z"/><path fill="#7c7c7c" d="M238 86h5v5h-5zM238 106h5v5h-5zM208 116h5v5h-5zM203 121h5v5h-5zM203 126h5v5h-5zM228 126h5v5h-5zM103 256h5v5h-5zM238 266h5v5h-5zM248 276h5v5h-5z"/><path fill="#7d7d7d" d="M233 91h5v5h-5zM228 96h5v5h-5zM228 101h5v5h-5zM208 121h5v5h-5zM233 121h10v5h-10zM258 166h5v5h-5zM243 176h5v5h-5zM238 236h5v5h-5zM223 241h5v5h-5z"/><path fill="#7e7e7e" d="M248 91h5v5h-5zM243 96h5v5h-5zM213 121h5v5h-5zM243 121h5v5h-5zM248 161h5v5h-5zM258 171h5v5h-5zM133 261h5v5h-5zM138 266h5v5h-5z"/><path fill="#7f7f7f" d="M228 91h5v5h-5zM223 96h5v5h-5zM218 101h5v5h-5zM228 106h5v5h-5zM158 111h5v5h-5zM213 116h5v5h-5zM218 126h5v5h-5zM243 161h5v5h-5zM253 166h5v5h-5zM263 166h5v5h-5zM253 171h5v5h-5zM263 171h5v5h-5zM78 181h5v5h-5zM173 241h5v5h-5zM228 261h5v5h-5z"/><path fill="#808080" d="M228 86h5v5h-5zM248 86h5v5h-5zM218 106h5v5h-5zM238 111h5v5h-5zM153 116h5v5h-5zM233 116h5v5h-5zM248 121h5v5h-5zM153 131h5v5h-5zM243 171h5v5h-5zM228 236h10v5h-10zM253 241h15v5h-15zM173 246h5v5h-5zM168 261h5v5h-5z"/><path fill="#818181" d="M218 76h5v5h-5zM243 81h5v5h-5zM248 96h5v5h-5zM243 101h5v5h-5zM243 166h5v5h-5zM168 241h5v5h-5zM103 266h5v5h-5zM133 266h5v5h-5zM143 266h5v5h-5z"/><path fill="#828282" d="M213 76h5v5h-5zM233 86h5v5h-5zM153 121h5v5h-5zM228 121h5v5h-5zM113 136h5v5h-5zM248 171h5v5h-5zM103 271h5v5h-5zM153 271h5v5h-5z"/><path fill="#838383" d="M203 81h5v5h-5zM228 81h5v5h-5zM223 101h5v5h-5zM228 111h5v5h-5zM218 121h5v5h-5zM258 121h10v5h-10zM98 151h5v5h-5zM98 156h5v5h-5zM173 251h5v5h-5zM108 266h5v5h-5zM148 266h5v5h-5zM243 266h5v5h-5zM248 271h5v5h-5z"/><path fill="#848484" d="M218 111h5v5h-5zM228 116h5v5h-5zM238 116h5v5h-5zM253 121h5v5h-5zM88 166h5v5h-5zM248 166h5v5h-5zM248 241h5v5h-5zM173 256h5v5h-5zM163 261h5v5h-5z"/><path fill="#858585" d="M223 76h5v5h-5zM238 81h5v5h-5zM253 91h5v5h-5zM263 91h5v5h-5zM253 96h5v5h-5zM263 96h5v5h-5zM243 106h5v5h-5zM218 116h5v5h-5zM223 256h5v5h-5zM103 261h5v5h-5zM233 261h5v5h-5zM148 271h5v5h-5zM263 281h5v5h-5z"/><path fill="#868686" d="M248 81h5v5h-5zM258 91h5v5h-5zM258 96h5v5h-5zM248 101h5v5h-5zM223 106h5v5h-5zM83 176h5v5h-5zM58 191h5v5h-5zM223 246h5v5h-5zM258 256h5v5h-5zM258 261h10v5h-10zM113 266h5v5h-5zM153 266h5v5h-5zM103 276h5v5h-5zM143 281h5v5h-5zM253 281h5v5h-5zM143 286h5v5h-5zM263 286h5v5h-5z"/><path fill="#878787" d="M253 86h5v5h-5zM263 86h5v5h-5zM263 101h5v5h-5zM223 111h5v5h-5zM223 116h5v5h-5zM148 131h5v5h-5zM98 146h5v5h-5zM253 256h5v5h-5zM263 256h5v5h-5zM248 261h10v5h-10zM128 266h5v5h-5zM143 276h5v5h-5zM263 276h5v5h-5zM103 281h5v5h-5zM103 286h5v5h-5zM253 286h5v5h-5z"/><path fill="#888888" d="M243 76h5v5h-5zM258 86h5v5h-5zM253 101h10v5h-10zM223 121h5v5h-5zM223 126h5v5h-5zM68 181h10v5h-10zM243 241h5v5h-5zM223 251h5v5h-5zM248 266h5v5h-5zM253 276h5v5h-5zM258 281h5v5h-5z"/><path fill="#898989" d="M208 76h5v5h-5zM233 81h5v5h-5zM163 101h5v5h-5zM153 126h5v5h-5zM258 286h5v5h-5z"/><path fill="#8a8a8a" d="M238 76h5v5h-5zM253 81h5v5h-5zM263 81h5v5h-5zM248 106h5v5h-5zM243 111h5v5h-5zM148 116h5v5h-5zM83 171h5v5h-5zM228 241h5v5h-5zM258 246h5v5h-5zM248 256h5v5h-5zM238 261h10v5h-10zM143 271h5v5h-5zM258 276h5v5h-5z"/><path fill="#8b8b8b" d="M243 41h5v5h-5zM243 46h5v5h-5zM243 56h5v5h-5zM243 71h5v5h-5zM248 76h5v5h-5zM258 81h5v5h-5zM173 96h5v5h-5zM253 106h15v5h-15zM243 116h5v5h-5zM133 131h15v5h-15zM43 191h5v5h-5zM253 246h5v5h-5zM138 271h5v5h-5z"/><path fill="#8c8c8c" d="M243 36h5v5h-5zM243 51h5v5h-5zM238 71h5v5h-5zM158 106h5v5h-5zM153 111h5v5h-5zM38 191h5v5h-5zM163 246h5v5h-5zM263 246h5v5h-5zM258 251h5v5h-5zM263 266h5v5h-5zM108 271h5v5h-5zM253 271h5v5h-5zM263 271h5v5h-5z"/><path fill="#8d8d8d" d="M248 36h5v5h-5zM248 41h5v5h-5zM248 46h5v5h-5zM248 51h5v5h-5zM248 56h5v5h-5zM243 61h5v5h-5zM243 66h5v5h-5zM228 76h5v5h-5zM148 121h5v5h-5zM63 186h5v5h-5zM238 241h5v5h-5zM253 251h5v5h-5zM263 251h5v5h-5zM118 266h5v5h-5zM253 266h10v5h-10z"/><path fill="#8e8e8e" d="M248 61h5v5h-5zM248 71h5v5h-5zM263 76h5v5h-5zM248 111h5v5h-5zM48 191h5v5h-5zM248 246h5v5h-5zM133 271h5v5h-5zM258 271h5v5h-5zM108 276h5v5h-5z"/><path fill="#8f8f8f" d="M248 66h5v5h-5zM233 76h5v5h-5zM253 76h10v5h-10zM198 91h5v5h-5zM248 116h5v5h-5zM53 191h5v5h-5zM233 241h5v5h-5zM168 246h5v5h-5zM248 251h5v5h-5zM228 256h5v5h-5zM243 256h5v5h-5z"/><path fill="#909090" d="M253 111h15v5h-15zM93 161h5v5h-5zM83 166h5v5h-5zM18 191h5v5h-5zM28 191h10v5h-10zM123 266h5v5h-5zM108 281h5v5h-5zM108 286h5v5h-5z"/><path fill="#919191" d="M238 66h5v5h-5zM233 71h5v5h-5zM148 111h5v5h-5zM253 116h5v5h-5zM63 181h5v5h-5zM23 191h5v5h-5zM228 246h5v5h-5z"/><path fill="#929292" d="M253 71h5v5h-5zM263 71h5v5h-5zM203 76h5v5h-5zM143 116h5v5h-5zM258 116h10v5h-10zM148 126h5v5h-5zM228 251h5v5h-5zM233 256h5v5h-5z"/><path fill="#939393" d="M253 36h5v5h-5zM263 36h5v5h-5zM253 41h5v5h-5zM263 41h5v5h-5zM253 46h5v5h-5zM263 46h5v5h-5zM253 51h5v5h-5zM263 51h5v5h-5zM253 56h5v5h-5zM263 56h5v5h-5zM263 61h5v5h-5zM258 71h5v5h-5zM168 96h5v5h-5zM78 176h5v5h-5zM243 246h5v5h-5zM163 251h10v5h-10zM168 256h5v5h-5zM238 256h5v5h-5zM113 271h5v5h-5zM113 281h5v5h-5zM113 286h5v5h-5z"/><path fill="#949494" d="M258 46h5v5h-5zM258 51h5v5h-5zM258 56h5v5h-5zM253 61h5v5h-5zM253 66h5v5h-5zM263 66h5v5h-5zM128 131h5v5h-5zM233 246h5v5h-5zM243 251h5v5h-5zM163 256h5v5h-5zM113 276h5v5h-5zM138 276h5v5h-5z"/><path fill="#959595" d="M258 36h5v5h-5zM258 41h5v5h-5zM238 46h5v5h-5zM258 61h5v5h-5zM258 66h5v5h-5zM123 111h5v5h-5zM143 111h5v5h-5zM113 116h5v5h-5zM83 161h5v5h-5zM63 176h5v5h-5zM238 246h5v5h-5zM233 251h5v5h-5z"/><path fill="#969696" d="M238 36h5v5h-5zM238 41h5v5h-5zM238 51h5v5h-5zM238 56h5v5h-5zM238 61h5v5h-5zM233 66h5v5h-5zM198 86h5v5h-5zM118 116h10v5h-10zM143 121h5v5h-5zM88 161h5v5h-5zM238 251h5v5h-5z"/><path fill="#979797" d="M228 71h5v5h-5zM193 91h5v5h-5zM158 101h5v5h-5zM133 126h5v5h-5zM78 171h5v5h-5zM58 176h5v5h-5z"/><path fill="#989898" d="M223 71h5v5h-5zM153 106h5v5h-5zM118 111h5v5h-5zM128 116h5v5h-5zM138 116h5v5h-5zM138 126h10v5h-10zM108 136h5v5h-5zM68 176h5v5h-5zM58 181h5v5h-5zM58 186h5v5h-5zM138 281h5v5h-5zM138 286h5v5h-5z"/><path fill="#999999" d="M198 81h5v5h-5zM128 111h5v5h-5zM128 271h5v5h-5z"/><path fill="#9a9a9a" d="M178 91h5v5h-5zM163 96h5v5h-5zM113 111h5v5h-5zM138 111h5v5h-5zM108 116h5v5h-5zM133 116h5v5h-5zM133 121h10v5h-10zM53 176h5v5h-5zM73 176h5v5h-5zM118 281h5v5h-5zM118 286h5v5h-5z"/><path fill="#9b9b9b" d="M188 91h5v5h-5zM148 106h5v5h-5zM128 121h5v5h-5zM123 131h5v5h-5zM103 141h5v5h-5zM53 181h5v5h-5z"/><path fill="#9c9c9c" d="M203 71h5v5h-5zM83 156h5v5h-5zM78 166h5v5h-5zM118 271h5v5h-5zM118 276h5v5h-5z"/><path fill="#9d9d9d" d="M218 71h5v5h-5zM183 91h5v5h-5zM153 101h5v5h-5zM123 106h5v5h-5zM143 106h5v5h-5zM133 111h5v5h-5zM63 171h5v5h-5z"/><path fill="#9e9e9e" d="M228 66h5v5h-5zM18 171h25v5h-25zM58 171h5v5h-5zM18 176h20v5h-20zM133 276h5v5h-5z"/><path fill="#9f9f9f" d="M223 41h5v5h-5zM223 56h5v5h-5zM233 61h5v5h-5zM173 91h5v5h-5zM158 96h5v5h-5zM118 106h5v5h-5zM108 111h5v5h-5zM103 116h5v5h-5zM128 126h5v5h-5zM43 171h5v5h-5zM68 171h10v5h-10zM38 176h5v5h-5zM48 176h5v5h-5zM48 181h5v5h-5zM53 186h5v5h-5z"/><path fill="#a0a0a0" d="M223 36h5v5h-5zM233 41h5v5h-5zM223 46h5v5h-5zM223 51h5v5h-5zM198 76h5v5h-5zM128 106h5v5h-5zM108 121h5v5h-5zM78 161h5v5h-5zM43 176h5v5h-5z"/><path fill="#a1a1a1" d="M228 36h10v5h-10zM228 41h5v5h-5zM228 46h10v5h-10zM203 66h5v5h-5zM208 71h5v5h-5zM168 91h5v5h-5zM138 106h5v5h-5zM123 121h5v5h-5zM118 131h5v5h-5zM88 156h5v5h-5zM38 166h10v5h-10zM48 186h5v5h-5zM128 276h5v5h-5zM123 281h5v5h-5zM123 286h5v5h-5z"/><path fill="#a2a2a2" d="M228 51h10v5h-10zM228 56h10v5h-10zM223 61h5v5h-5zM213 71h5v5h-5zM148 101h5v5h-5zM103 121h5v5h-5zM98 141h5v5h-5zM93 156h5v5h-5zM18 166h20v5h-20zM63 166h5v5h-5zM43 186h5v5h-5zM123 276h5v5h-5zM133 286h5v5h-5z"/><path fill="#a3a3a3" d="M228 61h5v5h-5zM198 71h5v5h-5zM163 91h5v5h-5zM153 96h5v5h-5zM113 106h5v5h-5zM133 106h5v5h-5zM113 121h5v5h-5zM73 166h5v5h-5zM48 171h10v5h-10zM43 181h5v5h-5z"/><path fill="#a4a4a4" d="M203 61h5v5h-5zM223 66h5v5h-5zM103 111h5v5h-5zM28 121h10v5h-10zM118 121h5v5h-5zM38 131h5v5h-5zM83 151h5v5h-5zM58 161h10v5h-10zM58 166h5v5h-5zM68 166h5v5h-5zM38 181h5v5h-5zM38 186h5v5h-5zM128 281h10v5h-10zM128 286h5v5h-5z"/><path fill="#a5a5a5" d="M218 36h5v5h-5zM18 41h5v5h-5zM38 41h5v5h-5zM218 41h5v5h-5zM18 46h20v5h-20zM218 46h5v5h-5zM43 56h10v5h-10zM48 61h5v5h-5zM58 71h5v5h-5zM53 76h10v5h-10zM63 86h10v5h-10zM158 91h5v5h-5zM73 96h10v5h-10zM88 101h5v5h-5zM88 106h5v5h-5zM88 111h5v5h-5zM83 116h10v5h-10zM98 116h5v5h-5zM23 121h5v5h-5zM88 121h5v5h-5zM38 126h5v5h-5zM93 126h5v5h-5zM43 131h5v5h-5zM38 136h5v5h-5zM18 161h10v5h-10zM38 161h15v5h-15zM48 166h5v5h-5zM23 181h5v5h-5zM33 181h5v5h-5zM123 271h5v5h-5z"/><path fill="#a6a6a6" d="M38 36h5v5h-5zM23 41h15v5h-15zM43 41h5v5h-5zM38 46h10v5h-10zM43 51h5v5h-5zM218 51h5v5h-5zM218 56h5v5h-5zM53 61h5v5h-5zM53 66h10v5h-10zM198 66h5v5h-5zM53 71h5v5h-5zM63 71h5v5h-5zM63 76h10v5h-10zM68 81h10v5h-10zM73 91h15v5h-15zM78 101h10v5h-10zM93 101h5v5h-5zM83 106h5v5h-5zM108 106h5v5h-5zM83 111h5v5h-5zM18 121h5v5h-5zM93 121h5v5h-5zM18 126h20v5h-20zM43 136h5v5h-5zM18 141h10v5h-10zM38 141h5v5h-5zM38 146h5v5h-5zM78 156h5v5h-5zM28 161h10v5h-10zM18 181h5v5h-5zM28 181h5v5h-5z"/><path fill="#a7a7a7" d="M18 36h20v5h-20zM43 36h5v5h-5zM53 56h5v5h-5zM73 76h5v5h-5zM63 81h5v5h-5zM73 86h10v5h-10zM83 96h15v5h-15zM93 106h5v5h-5zM93 111h10v5h-10zM28 116h5v5h-5zM93 116h5v5h-5zM98 121h5v5h-5zM18 131h10v5h-10zM33 131h5v5h-5zM18 136h20v5h-20zM28 141h10v5h-10zM43 141h5v5h-5zM18 146h20v5h-20zM43 146h5v5h-5zM83 146h5v5h-5zM18 151h30v5h-30zM93 151h5v5h-5zM18 156h45v5h-45zM53 161h5v5h-5z"/><path fill="#a8a8a8" d="M48 51h5v5h-5zM63 66h5v5h-5zM68 71h5v5h-5zM83 86h5v5h-5zM68 91h5v5h-5zM123 101h5v5h-5zM23 116h5v5h-5zM33 116h5v5h-5zM43 126h5v5h-5zM28 131h5v5h-5zM48 136h5v5h-5zM48 151h5v5h-5zM18 186h5v5h-5z"/><path fill="#a9a9a9" d="M38 51h5v5h-5zM203 56h5v5h-5zM43 61h5v5h-5zM58 61h5v5h-5zM208 66h5v5h-5zM58 81h5v5h-5zM88 91h5v5h-5zM153 91h5v5h-5zM138 101h10v5h-10zM98 106h10v5h-10zM18 116h5v5h-5zM38 121h5v5h-5zM98 126h5v5h-5zM93 131h5v5h-5zM108 131h5v5h-5zM48 141h5v5h-5zM63 156h5v5h-5zM53 166h5v5h-5zM23 186h15v5h-15z"/><path fill="#aaaaaa" d="M48 36h5v5h-5zM48 41h5v5h-5zM48 46h5v5h-5zM18 51h20v5h-20zM198 61h5v5h-5zM208 61h5v5h-5zM218 61h5v5h-5zM78 76h5v5h-5zM53 81h5v5h-5zM78 81h5v5h-5zM163 86h5v5h-5zM63 91h5v5h-5zM148 96h5v5h-5zM73 101h5v5h-5zM98 101h5v5h-5zM118 101h5v5h-5zM128 101h10v5h-10zM83 121h5v5h-5zM88 126h5v5h-5zM113 131h5v5h-5zM48 146h5v5h-5zM93 146h5v5h-5zM88 151h5v5h-5zM68 161h10v5h-10z"/><path fill="#ababab" d="M48 66h5v5h-5zM88 86h5v5h-5zM168 86h10v5h-10zM98 96h5v5h-5zM113 101h5v5h-5zM103 126h5v5h-5zM48 131h5v5h-5zM83 141h15v5h-15z"/><path fill="#acacac" d="M78 36h5v5h-5zM78 41h5v5h-5zM53 51h5v5h-5zM78 51h5v5h-5zM58 56h5v5h-5zM208 56h5v5h-5zM63 61h5v5h-5zM88 61h10v5h-10zM68 66h5v5h-5zM98 66h5v5h-5zM73 71h10v5h-10zM98 71h10v5h-10zM83 81h5v5h-5zM108 81h10v5h-10zM108 86h5v5h-5zM93 91h5v5h-5zM68 96h5v5h-5zM103 101h10v5h-10zM78 106h5v5h-5zM88 131h5v5h-5zM88 136h5v5h-5zM88 146h5v5h-5zM53 151h5v5h-5z"/><path fill="#adadad" d="M53 36h5v5h-5zM63 36h15v5h-15zM83 36h5v5h-5zM213 36h5v5h-5zM63 41h15v5h-15zM83 41h5v5h-5zM63 46h25v5h-25zM73 51h5v5h-5zM83 51h5v5h-5zM213 51h5v5h-5zM38 56h5v5h-5zM73 56h20v5h-20zM213 56h5v5h-5zM78 61h10v5h-10zM83 66h15v5h-15zM218 66h5v5h-5zM48 71h5v5h-5zM93 71h5v5h-5zM193 71h5v5h-5zM48 76h5v5h-5zM93 76h20v5h-20zM98 81h10v5h-10zM173 81h5v5h-5zM58 86h5v5h-5zM103 86h5v5h-5zM113 86h5v5h-5zM158 86h5v5h-5zM108 91h5v5h-5zM78 116h5v5h-5zM78 121h5v5h-5zM123 126h5v5h-5zM53 141h5v5h-5zM58 151h5v5h-5zM78 151h5v5h-5z"/><path fill="#aeaeae" d="M58 36h5v5h-5zM53 41h10v5h-10zM213 41h5v5h-5zM53 46h10v5h-10zM213 46h5v5h-5zM58 51h15v5h-15zM63 56h10v5h-10zM93 56h5v5h-5zM68 61h10v5h-10zM73 66h10v5h-10zM103 66h5v5h-5zM193 66h5v5h-5zM83 71h10v5h-10zM108 71h5v5h-5zM83 76h10v5h-10zM113 76h5v5h-5zM173 76h5v5h-5zM193 76h5v5h-5zM48 81h5v5h-5zM88 81h10v5h-10zM93 86h10v5h-10zM98 91h10v5h-10zM113 91h5v5h-5zM148 91h5v5h-5zM103 96h5v5h-5zM68 101h5v5h-5zM78 111h5v5h-5zM38 116h5v5h-5zM48 126h5v5h-5zM98 131h5v5h-5zM53 136h5v5h-5zM53 146h5v5h-5z"/><path fill="#afafaf" d="M88 51h5v5h-5zM198 56h5v5h-5zM98 61h5v5h-5zM168 81h5v5h-5zM108 96h15v5h-15zM83 136h5v5h-5zM93 136h5v5h-5zM68 156h5v5h-5z"/><path fill="#b0b0b0" d="M88 36h5v5h-5zM178 76h5v5h-5zM118 81h5v5h-5zM178 81h5v5h-5zM118 86h5v5h-5zM153 86h5v5h-5zM178 86h5v5h-5zM123 96h15v5h-15zM143 96h5v5h-5zM18 111h15v5h-15zM108 126h5v5h-5zM63 151h5v5h-5z"/><path fill="#b1b1b1" d="M88 41h5v5h-5zM88 46h5v5h-5zM203 51h10v5h-10zM18 56h5v5h-5zM98 56h5v5h-5zM213 61h5v5h-5zM108 66h5v5h-5zM168 76h5v5h-5zM163 81h5v5h-5zM193 81h5v5h-5zM193 86h5v5h-5zM118 91h5v5h-5zM138 96h5v5h-5zM33 111h10v5h-10zM43 121h5v5h-5zM78 146h5v5h-5zM73 156h5v5h-5z"/><path fill="#b2b2b2" d="M208 36h5v5h-5zM93 51h5v5h-5zM23 56h5v5h-5zM33 56h5v5h-5zM38 61h5v5h-5zM103 61h5v5h-5zM128 61h5v5h-5zM193 61h5v5h-5zM113 71h5v5h-5zM173 71h5v5h-5zM118 76h5v5h-5zM53 86h5v5h-5zM58 91h5v5h-5zM48 121h5v5h-5zM103 131h5v5h-5zM78 141h5v5h-5z"/><path fill="#b3b3b3" d="M118 36h5v5h-5zM168 36h5v5h-5zM118 41h5v5h-5zM168 41h5v5h-5zM208 41h5v5h-5zM118 46h5v5h-5zM168 46h5v5h-5zM208 46h5v5h-5zM98 51h5v5h-5zM118 51h10v5h-10zM163 51h10v5h-10zM28 56h5v5h-5zM128 56h5v5h-5zM163 56h10v5h-10zM108 61h5v5h-5zM133 61h5v5h-5zM168 61h5v5h-5zM43 66h5v5h-5zM128 66h10v5h-10zM163 66h10v5h-10zM188 66h5v5h-5zM18 71h15v5h-15zM128 71h5v5h-5zM168 71h5v5h-5zM178 71h5v5h-5zM188 71h5v5h-5zM28 76h5v5h-5zM48 86h5v5h-5zM18 91h15v5h-15zM133 91h15v5h-15zM18 96h15v5h-15zM63 96h5v5h-5zM48 101h10v5h-10zM53 106h5v5h-5zM68 106h10v5h-10zM63 121h5v5h-5zM73 121h5v5h-5zM63 126h25v5h-25zM118 126h5v5h-5zM53 131h5v5h-5zM78 136h5v5h-5zM58 146h5v5h-5z"/><path fill="#b4b4b4" d="M93 36h25v5h-25zM123 36h5v5h-5zM163 36h5v5h-5zM173 36h35v5h-35zM93 41h5v5h-5zM103 41h15v5h-15zM123 41h5v5h-5zM163 41h5v5h-5zM173 41h25v5h-25zM103 46h15v5h-15zM123 46h5v5h-5zM163 46h5v5h-5zM173 46h25v5h-25zM103 51h5v5h-5zM113 51h5v5h-5zM173 51h20v5h-20zM198 51h5v5h-5zM113 56h15v5h-15zM133 56h5v5h-5zM173 56h15v5h-15zM113 61h15v5h-15zM163 61h5v5h-5zM173 61h20v5h-20zM18 66h10v5h-10zM123 66h5v5h-5zM173 66h15v5h-15zM213 66h5v5h-5zM33 71h5v5h-5zM118 71h10v5h-10zM133 71h5v5h-5zM163 71h5v5h-5zM183 71h5v5h-5zM18 76h10v5h-10zM33 76h5v5h-5zM123 76h15v5h-15zM183 76h5v5h-5zM18 81h20v5h-20zM43 81h5v5h-5zM123 81h15v5h-15zM158 81h5v5h-5zM18 86h30v5h-30zM123 86h5v5h-5zM133 86h5v5h-5zM148 86h5v5h-5zM33 91h15v5h-15zM123 91h10v5h-10zM33 96h20v5h-20zM38 101h10v5h-10zM38 106h15v5h-15zM58 106h10v5h-10zM43 111h5v5h-5zM53 111h15v5h-15zM53 116h15v5h-15zM53 121h10v5h-10zM68 121h5v5h-5zM58 131h5v5h-5zM83 131h5v5h-5zM58 136h5v5h-5z"/><path fill="#b5b5b5" d="M98 41h5v5h-5zM198 41h10v5h-10zM93 46h10v5h-10zM198 46h10v5h-10zM108 51h5v5h-5zM193 51h5v5h-5zM103 56h10v5h-10zM188 56h10v5h-10zM18 61h5v5h-5zM28 66h10v5h-10zM113 66h10v5h-10zM43 76h5v5h-5zM163 76h5v5h-5zM188 76h5v5h-5zM38 81h5v5h-5zM128 86h5v5h-5zM138 86h10v5h-10zM53 96h5v5h-5zM18 101h20v5h-20zM58 101h10v5h-10zM18 106h5v5h-5zM28 106h10v5h-10zM43 116h5v5h-5zM73 116h5v5h-5zM53 126h10v5h-10zM63 131h5v5h-5zM78 131h5v5h-5zM58 141h5v5h-5z"/><path fill="#b6b6b6" d="M128 51h5v5h-5zM158 51h5v5h-5zM23 61h5v5h-5zM33 61h5v5h-5zM138 61h5v5h-5zM38 66h5v5h-5zM138 66h5v5h-5zM38 71h10v5h-10zM38 76h5v5h-5zM138 81h5v5h-5zM183 86h10v5h-10zM48 91h10v5h-10zM58 96h5v5h-5zM23 106h5v5h-5zM48 111h5v5h-5zM68 111h10v5h-10zM48 116h5v5h-5zM68 116h5v5h-5zM73 131h5v5h-5zM98 136h5v5h-5zM63 146h5v5h-5z"/><path fill="#b7b7b7" d="M128 36h5v5h-5zM158 36h5v5h-5zM128 41h5v5h-5zM158 41h5v5h-5zM158 46h5v5h-5zM138 56h5v5h-5zM158 56h5v5h-5zM28 61h5v5h-5zM138 71h5v5h-5zM138 76h5v5h-5zM153 81h5v5h-5zM183 81h5v5h-5zM113 126h5v5h-5zM68 131h5v5h-5zM103 136h5v5h-5zM68 151h5v5h-5z"/><path fill="#b8b8b8" d="M128 46h5v5h-5zM188 81h5v5h-5zM73 151h5v5h-5z"/><path fill="#b9b9b9" d="M133 51h10v5h-10zM158 61h5v5h-5zM143 81h10v5h-10z"/><path fill="#bababa" d="M133 36h5v5h-5zM143 36h5v5h-5zM143 41h5v5h-5zM143 51h5v5h-5zM153 51h5v5h-5zM143 56h5v5h-5zM153 56h5v5h-5zM143 61h5v5h-5zM143 66h5v5h-5zM158 76h5v5h-5zM63 136h5v5h-5zM73 136h5v5h-5z"/><path fill="#bbbbbb" d="M138 36h5v5h-5zM148 36h10v5h-10zM133 41h10v5h-10zM148 41h10v5h-10zM133 46h25v5h-25zM148 51h5v5h-5zM148 56h5v5h-5zM158 66h5v5h-5zM143 71h5v5h-5zM143 76h5v5h-5zM63 141h5v5h-5zM68 146h5v5h-5z"/><path fill="#bcbcbc" d="M148 61h5v5h-5zM158 71h5v5h-5zM68 136h5v5h-5zM73 141h5v5h-5z"/><path fill="#bdbdbd" d="M153 61h5v5h-5zM153 76h5v5h-5zM68 141h5v5h-5zM73 146h5v5h-5z"/><path fill="#bebebe" d="M148 76h5v5h-5z"/><path fill="#bfbfbf" d="M148 66h5v5h-5z"/><path fill="#c1c1c1" d="M153 66h5v5h-5zM148 71h10v5h-10z"/></g>
</g>
<g clip-path="url(#landclip)"><path d="M134.2,68.6 L152.8,63.7 L174.3,58.8 L198.7,58.8 L198.7,76.4 L179.2,77.4 L179.2,87.1 L155.7,89.1 L154.7,100.8 L134.2,100.8Z M211.4,67.6 L223.1,67.6 L223.1,72.5 L211.4,72.5Z M154.7,160.4 L158.6,160.4 L158.6,164.3 L175.2,164.3 L175.2,168.2 L171.3,168.2 L171.3,177.0 L158.6,177.0 L158.6,168.2 L149.8,168.2 L149.8,164.3 L154.7,164.3Z M129.3,181.9 L144.0,181.9 L144.0,195.5 L129.3,195.5Z M194.8,188.7 L211.4,188.7 L211.4,206.3 L194.8,206.3Z M178.2,205.3 L198.7,205.3 L198.7,225.8 L178.2,225.8Z" fill="url(#dotpat)"/></g>
<path d="M196.9,242.8 L195.0,242.2 L192.7,240.3 L192.3,237.7 L191.2,234.6 L192.3,232.0 L192.7,230.1 L195.0,227.5 L195.2,223.7 L196.1,221.2 L199.2,218.6 L199.2,216.0 L201.0,213.5 L203.1,209.0 L204.8,208.4 L207.1,209.7 L209.7,211.6 L211.6,212.5 L209.7,216.0 L213.2,217.3 L213.9,221.2 L215.8,222.4 L217.3,221.2 L219.6,219.9 L220.7,218.6 L224.5,218.3 L226.0,218.6 L227.9,219.9 L229.8,221.2 L232.8,223.7 L237.0,227.5 L239.3,230.7 L241.9,232.6 L244.2,236.5 L244.2,240.3 L241.9,243.5 L239.3,244.1 L237.0,244.1 L232.1,244.4 L229.0,243.5 L226.8,242.8 L224.1,242.2 L222.6,239.7 L220.0,237.7 L215.4,237.7 L212.8,237.7 L209.0,239.7 L206.0,242.2 L202.2,242.8 L197.6,242.8Z M218.4,211.6 L220.3,210.3 L222.6,208.1 L226.0,207.4 L228.7,205.5 L231.3,205.2 L235.1,204.2 L234.0,207.1 L231.7,208.4 L230.2,210.9 L230.6,212.9 L229.8,214.1 L228.7,216.0 L226.0,216.0 L224.1,215.7 L221.1,216.7 L220.0,215.1 L218.4,212.9Z M187.8,247.9 L190.1,247.6 L192.3,247.9 L195.0,247.9 L196.5,247.6 L197.3,245.4 L196.1,243.8 L194.6,244.1 L192.0,244.4 L190.1,245.1 L188.6,246.7Z" fill="#fff"/>
<g stroke="#000" stroke-opacity="0.1" stroke-width="0.8"><line x1="41.40" y1="46.6" x2="41.40" y2="282" /><line x1="86.80" y1="46.6" x2="86.80" y2="282" /><line x1="132.20" y1="46.6" x2="132.20" y2="282" /><line x1="177.59" y1="46.6" x2="177.59" y2="282" /><line x1="222.99" y1="46.6" x2="222.99" y2="282" /><line x1="30" y1="97.38" x2="257" y2="97.38" /><line x1="30" y1="148.42" x2="257" y2="148.42" /><line x1="30" y1="199.46" x2="257" y2="199.46" /><line x1="30" y1="250.50" x2="257" y2="250.50" /></g>
<path d="M129.9,128.6 L131.4,124.2 L133.7,122.3 L134.5,116.5 L133.0,112.7 L133.0,108.2 L132.6,103.8 L132.2,100.6 L136.7,96.7 L140.1,94.2 L138.6,90.4 L141.7,86.5 L142.0,83.3 L145.4,82.1 L148.1,78.2 L148.8,74.4 L152.2,71.2 L155.7,68.7 L162.1,69.3 L164.5,65.1 M164.5,65.1 L167.4,66.8 L171.5,68.7 L175.7,72.5 L176.1,76.3 L176.8,81.4 L178.2,85.9 M164.5,65.1 L167.4,63.6 L171.5,67.1 L177.6,68.0 L181.4,67.4 L184.4,64.2 L186.3,59.7 L190.1,59.4 L194.2,60.4 L196.1,65.2 M196.1,65.2 L197.6,62.9 L200.3,61.7 L203.7,60.7 M196.1,65.2 L194.6,68.7 L195.4,71.2 L199.5,74.4 L197.3,78.9 L200.3,83.3 L198.8,87.2 L200.3,91.0 L199.2,92.9 L202.2,96.1 L200.3,98.7 L204.8,102.5 L206.3,104.4 L202.6,110.8 L198.4,114.6 L193.5,117.8 L191.6,119.7 M193.1,126.4 L192.3,129.3 L190.8,132.5 L190.5,135.7 L191.2,138.5 M178.7,136.6 L181.4,135.7 L184.8,136.9 L187.4,138.5 L191.2,138.5 L192.3,140.1 L193.1,143.3 L193.5,147.5 M166.4,148.0 L170.0,145.9 L175.7,146.2 L181.0,145.9 L183.6,147.5 L187.4,150.3 L191.2,149.7 L193.5,147.5 M187.4,150.3 L188.2,152.9 L185.9,155.4 L184.4,159.9 L180.6,161.2 L175.7,161.5 M167.0,153.5 L170.4,154.5 L173.1,158.6 L175.7,161.5 M160.9,158.3 L164.4,158.6 L168.1,159.1 L173.1,158.6 M175.7,161.5 L177.2,166.3 L175.7,170.1 L174.6,172.0 L176.1,176.5 M176.1,176.5 L178.0,180.3 L177.2,184.1 L175.7,185.4 L172.3,189.9 L172.1,192.6 M172.1,192.6 L168.5,190.5 L165.9,191.2 L161.7,191.8 L160.2,189.3 L158.1,189.9 M158.1,189.9 L154.9,186.7 L153.8,184.8 L150.7,184.1 L148.5,182.6 L143.5,180.3 L142.8,181.0 M142.8,181.0 L143.5,177.8 L142.4,173.3 L142.0,170.1 L140.5,167.6 L141.3,165.6 L140.5,161.8 M193.5,147.5 L198.0,148.7 L203.7,151.0 L203.3,156.1 L207.1,159.9 L207.1,162.5 L210.5,166.9 L209.4,172.0 L207.1,173.3 M176.1,176.5 L179.1,174.6 L183.3,174.6 L188.9,175.2 L193.9,176.5 L197.6,177.8 L202.2,178.4 L203.7,173.6 L207.1,173.3 M207.1,173.3 L213.5,172.0 L216.9,175.9 L220.7,180.3 L223.7,184.1 L228.7,184.8 L231.3,186.7 L238.1,189.3 L238.5,193.7 L237.0,199.5 L231.7,202.0 L231.3,205.2 M187.4,197.5 L190.8,196.6 L193.9,198.8 L197.3,200.1 L198.8,203.3 L199.9,207.1 L200.7,209.7 L196.1,209.0 L193.5,215.4 M187.4,197.5 L189.7,200.7 L193.1,206.5 L193.5,215.4 L199.2,217.0 M173.4,199.8 L177.6,199.8 L181.0,201.4 L187.4,197.5 M172.1,192.6 L170.4,196.9 L173.4,199.8 M173.4,199.8 L170.0,202.7 L167.8,207.8 L163.6,211.3 M163.6,211.3 L165.5,214.1 L167.8,217.3 L168.1,219.9 L171.5,220.5 L172.7,223.7 M172.7,223.7 L175.7,226.3 L179.5,226.9 L182.9,227.2 L185.9,225.0 L188.9,224.3 L192.3,225.3 L194.9,226.6 M172.7,223.7 L171.5,226.3 L173.8,230.1 L171.9,232.0 L171.5,235.8 M171.5,235.8 L173.4,241.9 M173.4,241.9 L176.1,241.6 L179.5,240.6 L182.5,242.5 L185.5,241.9 L186.5,239.7 M186.5,239.7 L188.9,237.4 L192.7,237.9 M185.2,245.7 L186.3,242.5 L186.5,239.7 M165.9,244.8 L169.6,243.2 L173.4,241.9 M162.5,252.7 L165.1,249.9 L166.2,246.7 L165.9,244.8 M165.9,244.8 L164.4,242.2 L164.7,238.4 L168.5,236.1 L171.5,235.8 M164.7,238.4 L162.8,234.6 L161.3,233.9 L160.2,238.4 M156.8,234.6 L158.7,230.1 L160.9,228.2 L159.8,223.1 L158.7,219.2 M160.9,228.2 L163.6,232.0 L162.8,234.6 M144.3,223.1 L146.6,220.5 L146.2,217.3 L149.2,217.3 L153.0,218.0 L156.8,218.3 L158.7,219.2 M153.0,231.4 L148.5,225.0 L146.6,220.5 M158.7,219.2 L160.2,217.3 L158.3,212.9 M158.3,212.9 L153.0,212.9 L149.6,209.0 M138.2,215.4 L141.7,215.4 L144.3,215.4 L146.2,212.2 L149.6,209.0 M138.6,209.0 L141.7,209.7 L147.3,207.8 L147.7,206.8 L149.6,209.0 M138.6,214.8 L138.2,212.2 L138.6,209.0 M158.3,212.9 L160.9,210.9 L163.6,211.3 M147.7,206.8 L149.2,202.7 L151.5,199.5 M151.5,199.5 L154.1,201.1 L157.9,200.7 L160.6,198.2 L164.4,196.3 L168.5,196.3 L170.4,196.9 M135.6,194.4 L139.0,194.4 L142.4,195.6 L143.5,193.1 L147.3,194.7 L150.7,195.6 L151.5,199.5 M150.7,195.6 L153.4,194.0 L155.7,191.2 L158.1,189.9 M123.1,202.3 L126.5,202.3 L128.4,203.3 L133.0,202.0 L136.0,202.7 L135.6,199.8 L137.9,195.6 L139.0,194.4 M126.3,206.8 L128.4,207.1 L133.0,205.8 L138.6,209.0 M123.1,202.3 L122.7,205.5 L126.3,206.8 M135.6,194.4 L134.1,188.6 L132.6,184.8 L136.0,183.5 L140.9,180.3 L142.8,181.0 M115.6,202.0 L119.3,201.7 L123.1,202.3 M111.0,190.2 L113.3,191.8 L117.8,193.1 L115.6,202.0 M109.9,185.7 L111.0,190.2 M109.5,181.9 L111.0,184.8 L109.9,185.7 M114.0,165.6 L113.3,170.1 L112.1,173.3 L109.5,175.2 L110.3,179.0 L109.5,181.9 M119.3,155.4 L124.3,156.1 M96.4,179.7 L98.5,181.6 L102.7,184.8 L105.0,186.1 L105.3,188.0 L108.7,189.6 L111.0,190.2 M109.5,211.6 L112.5,209.7 L113.3,205.8 L115.6,202.0 M115.2,226.3 L112.9,222.4 L113.3,218.6 L112.5,213.5 L113.3,212.9 M80.0,228.9 L83.0,231.4 L86.8,233.3 L92.5,234.6 L98.5,234.9 M99.7,178.0 L103.4,177.8 L105.7,177.4 L108.7,179.4 L108.4,181.9 L109.5,181.9 M113.3,212.9 L116.7,212.5 L119.0,209.7 L120.8,213.2 L122.4,209.0 L126.3,208.7 L126.3,206.8 M109.5,211.6 L113.3,212.9 M53.1,238.4 L56.2,237.1 L61.8,238.4 L62.2,241.6 L60.7,244.1 L60.3,252.4 L58.4,253.1 L60.3,256.9 L59.2,260.7 L60.3,262.6 L58.4,266.4 L58.8,268.6 M244.0,240.9 L248.7,240.3 L251.4,243.5 L252.1,246.0 L255.5,250.5 L256.3,252.4 L254.4,260.7 L256.3,268.4 M223.0,277.0 L225.6,270.9 L228.7,271.9 L232.4,270.9 L238.1,270.3 L241.9,269.3 L247.0,269.0 L251.4,267.7 L256.3,268.4 M247.0,269.0 L243.4,272.8 L242.7,279.2 L241.9,286.2 M238.1,228.8 L243.8,229.4 L248.7,233.9 L252.5,233.3 L255.5,233.3 L259.3,235.2 M251.4,243.5 L255.1,242.8 L259.3,242.2 M59.2,154.5 L58.0,156.7 L56.2,157.4 L57.7,159.9 L60.3,158.6 L63.0,160.9 M80.2,281.8 L80.7,288.8 M119.3,270.0 L118.2,274.1 L118.2,281.1 L116.3,288.8" fill="none" stroke="#000" stroke-width="1.0" stroke-linejoin="round"/>
<path d="M66.6,275.1 L65.6,275.9 L64.1,274.7 L63.0,272.5 L62.6,270.9 L60.7,268.7 L58.8,268.6 L56.9,269.8 L54.3,269.0 L52.9,269.6 L53.5,266.4 L53.3,263.3 L53.7,260.4 L52.0,260.4 L52.0,258.8 L50.9,258.3 L51.2,256.2 L51.4,254.5 L52.6,252.1 L53.2,249.5 L53.9,246.7 L54.1,243.2 L53.5,239.7 L53.1,237.1 L53.3,235.2 L52.6,233.9 L51.6,232.0 L52.0,230.1 L53.1,229.4 L55.0,228.9 L56.5,226.9 L57.7,226.4 L59.2,227.5 L62.2,227.9 L64.7,227.2 L67.1,228.3 L69.8,228.8 L72.4,228.4 L74.3,228.7 L75.8,228.8 L78.1,229.3 L80.0,228.9 L81.1,228.0 L81.7,225.0 L82.1,220.8 L82.4,215.4 L82.3,212.9 L82.4,211.3 L80.0,209.0 L78.7,206.8 L78.5,204.2 L76.6,202.7 L73.9,201.4 L70.9,200.7 L70.2,199.8 L68.9,199.2 L70.5,198.8 L69.4,197.5 L68.7,196.9 L69.0,195.6 L71.3,195.0 L73.6,194.0 L75.5,194.4 L77.3,195.6 L79.2,195.3 L80.9,195.3 L80.7,191.8 L79.8,189.9 L79.4,188.5 L80.7,188.9 L82.0,188.6 L82.6,190.5 L84.9,190.8 L87.2,190.2 L87.6,188.6 L90.6,187.2 L92.5,185.7 L92.9,182.2 L93.8,180.6 L95.7,180.0 L98.5,178.3 L100.4,177.8 L100.8,175.9 L102.3,174.3 L103.6,172.0 L104.4,169.2 L104.8,167.9 L105.7,166.3 L108.0,165.3 L111.0,164.7 L113.3,165.0 L115.2,163.4 L117.4,164.1 L119.1,164.1 L119.7,161.9 L120.5,160.5 L119.3,158.6 L120.5,156.7 L119.3,154.8 L119.1,151.9 L117.6,151.3 L117.6,147.8 L117.8,144.0 L119.3,141.4 L122.7,141.1 L124.4,138.5 L126.9,137.3 L126.3,139.2 L126.0,142.4 L125.6,144.6 L128.0,145.5 L126.7,147.5 L125.4,149.4 L124.1,150.7 L123.5,151.9 L122.7,153.8 L123.9,155.4 L124.6,157.0 L125.4,158.6 L128.0,158.9 L128.8,161.2 L130.7,160.5 L132.6,159.9 L134.1,158.6 L136.4,158.9 L137.7,157.4 L138.6,159.3 L139.8,161.2 L141.3,161.5 L144.7,160.2 L148.1,158.9 L150.7,157.4 L154.1,156.1 L156.2,155.9 L157.0,158.0 L157.9,158.9 L160.6,158.6 L162.3,157.0 L162.3,155.1 L164.7,155.1 L166.6,153.5 L166.6,150.0 L166.4,147.8 L166.2,145.2 L166.6,142.0 L167.9,139.8 L168.9,138.5 L172.3,137.3 L174.2,139.8 L176.1,142.2 L178.0,141.8 L179.1,140.1 L178.9,136.6 L179.3,133.7 L176.1,132.8 L175.5,130.6 L175.7,128.0 L178.3,127.0 L180.4,126.4 L183.3,125.8 L187.0,126.1 L190.8,126.4 L193.1,126.4 L195.4,124.8 L196.9,123.5 L201.0,123.5 L198.8,121.9 L195.4,119.4 L192.0,119.7 L188.6,120.0 L185.2,120.7 L181.4,121.8 L178.3,122.6 L175.7,123.2 L173.4,123.9 L171.9,122.3 L170.8,120.0 L168.5,119.1 L167.6,116.5 L168.3,113.3 L167.6,110.1 L167.0,107.9 L167.8,105.0 L168.5,103.1 L171.5,101.2 L174.2,98.3 L177.6,95.8 L179.9,93.2 L182.9,91.0 L182.5,88.4 L179.9,86.5 L178.2,85.9 L174.9,85.9 L171.2,87.2 L168.9,88.4 L167.8,91.0 L166.6,92.9 L165.5,94.8 L163.6,98.3 L160.6,100.3 L157.9,102.5 L156.0,104.7 L153.0,107.6 L152.6,110.8 L151.7,113.3 L152.1,116.5 L151.9,118.8 L154.5,119.7 L156.8,121.3 L158.1,122.9 L157.2,126.1 L155.3,127.0 L154.1,129.3 L152.2,130.9 L150.4,131.8 L149.6,134.4 L150.0,138.2 L149.2,140.8 L148.8,144.3 L146.9,147.5 L144.7,147.5 L142.4,147.5 L141.1,148.7 L140.5,152.2 L137.5,152.6 L135.6,152.2 L136.0,151.0 L135.6,149.4 L134.5,147.8 L135.0,146.8 L134.5,145.2 L135.4,144.3 L133.7,141.4 L132.2,139.2 L131.6,137.6 L131.1,135.0 L129.7,133.1 L129.2,129.9 L128.8,128.6 L127.7,127.4 L127.5,123.5 L126.1,126.1 L125.4,129.0 L123.5,129.6 L121.6,131.5 L119.3,133.7 L117.1,135.0 L113.7,135.8 L111.8,135.0 L109.5,133.1 L108.0,130.9 L108.0,129.3 L106.8,127.4 L106.5,124.8 L106.1,122.3 L105.5,120.3 L105.3,117.8 L105.7,115.2 L105.5,112.7 L106.1,110.5 L107.2,108.9 L109.9,107.3 L112.5,105.4 L114.8,104.1 L116.1,103.1 L118.6,101.2 L120.5,99.6 L123.5,98.7 L125.4,96.7 L128.0,94.2 L129.5,91.6 L132.2,89.1 L133.3,86.5 L134.8,84.0 L136.4,81.4 L137.9,78.9 L140.5,77.0 L141.3,76.3 L143.5,74.4 L144.3,71.9 L146.9,69.9 L148.1,68.0 L147.3,66.1 L150.0,64.2 L153.0,62.3 L156.0,60.7 L158.3,61.0 L160.9,59.1 L164.0,58.5 L167.0,57.8 L170.0,56.9 L172.3,55.3 L176.1,54.3 L178.7,53.0 L182.1,52.4 L184.4,51.8 L187.8,53.0 L191.2,52.1 L193.9,53.0 L197.6,54.6 L201.4,55.3 L204.5,56.9 L202.2,58.5 L198.8,59.4 L200.7,60.4 L204.1,60.7 L207.9,60.1 L211.6,62.6 L216.2,63.2 L220.3,63.9 L224.9,65.2 L229.0,67.1 L232.4,69.3 L235.9,70.6 L237.4,71.2 L239.6,73.1 L241.9,75.1 L243.4,77.3 L243.0,79.5 L241.1,81.4 L238.1,82.7 L234.3,84.0 L230.6,84.3 L226.8,83.0 L223.0,82.1 L219.2,80.8 L216.2,80.2 L213.5,79.8 L211.3,78.2 L209.4,77.3 L210.1,79.5 L212.4,81.4 L214.7,82.7 L217.3,85.3 L218.1,88.4 L217.7,91.6 L218.4,94.2 L221.1,95.1 L224.1,97.4 L226.8,98.3 L228.7,96.7 L228.3,94.8 L225.6,92.9 L224.9,91.3 L227.5,89.7 L230.6,91.6 L233.6,92.6 L237.0,93.6 L240.0,93.9 L238.9,91.6 L238.1,89.1 L239.3,86.5 L241.9,84.3 L244.9,82.4 L247.6,81.7 L250.6,82.1 L252.9,84.0 L254.4,84.0 L255.1,81.4 L253.6,78.2 L252.5,75.7 L251.7,72.5 L250.6,69.3 L250.6,67.7 L253.3,68.4 L259.3,69.0 L259.3,288.8 L222.6,288.8 L222.6,282.4 L222.1,279.1 L222.6,276.7 L223.7,272.2 L222.6,270.3 L221.1,272.2 L218.1,270.9 L215.4,274.1 L212.8,275.4 L210.9,276.0 L208.6,272.8 L205.2,270.9 L202.6,270.6 L202.2,273.5 L201.4,274.7 L198.8,274.7 L196.9,272.2 L195.0,270.9 L192.7,272.2 L190.5,271.6 L190.1,269.6 L190.8,267.7 L189.7,267.1 L188.9,264.5 L186.7,262.0 L188.2,260.7 L188.2,258.8 L188.2,256.9 L186.7,255.0 L185.5,253.7 L185.9,251.1 L186.7,249.5 L185.9,250.2 L187.0,247.6 L188.2,246.7 L185.9,246.4 L185.2,245.7 L183.3,245.1 L181.4,244.4 L179.1,244.8 L176.8,246.0 L176.8,248.6 L178.7,249.2 L176.5,249.5 L177.2,250.8 L175.1,250.8 L174.9,248.9 L173.4,246.7 L172.3,247.6 L172.7,250.5 L173.6,253.1 L174.8,255.0 L173.4,256.6 L172.1,257.5 L173.8,259.4 L176.1,261.0 L177.8,262.3 L177.8,265.2 L175.9,263.6 L174.4,264.2 L174.6,265.8 L173.2,266.1 L174.2,268.7 L173.6,273.1 L172.1,270.9 L171.5,273.1 L170.4,270.6 L168.9,270.9 L168.5,267.7 L168.7,265.5 L166.8,264.2 L167.8,262.0 L169.3,261.0 L166.6,260.1 L165.5,257.5 L165.1,256.2 L163.2,253.7 L162.5,252.4 L160.2,248.6 L160.4,246.7 L160.6,244.1 L160.4,242.2 L160.9,239.0 L159.1,237.7 L156.8,235.2 L155.3,233.6 L152.6,231.4 L149.2,228.2 L146.9,226.9 L144.7,224.3 L143.2,221.2 L141.7,218.6 L141.3,216.7 L139.8,218.6 L138.2,218.0 L138.6,214.8 L136.7,213.8 L134.1,215.4 L133.3,217.3 L134.1,219.2 L133.3,221.8 L134.1,224.3 L136.0,226.3 L138.2,228.2 L139.4,232.0 L140.5,234.9 L142.4,237.1 L144.1,238.1 L147.3,238.1 L148.1,239.0 L146.9,240.3 L148.5,242.2 L150.7,243.5 L153.0,245.4 L154.9,246.7 L156.8,249.9 L156.2,251.8 L154.9,249.9 L153.0,248.6 L151.1,247.3 L149.2,250.5 L149.6,253.1 L151.5,254.3 L151.7,257.2 L149.6,258.2 L149.4,260.7 L147.7,263.6 L146.0,263.6 L146.0,261.7 L146.9,259.8 L147.7,257.2 L146.6,253.7 L145.8,250.5 L144.3,249.2 L143.2,247.6 L141.7,246.7 L140.9,245.4 L139.0,242.8 L136.0,242.5 L134.1,240.9 L133.0,239.0 L131.1,237.1 L129.2,235.2 L128.0,232.6 L126.5,231.4 L125.8,228.2 L125.0,225.0 L123.1,224.3 L120.1,222.4 L117.8,225.3 L115.2,226.6 L113.3,227.9 L111.8,230.1 L109.1,230.7 L106.8,229.4 L105.0,228.8 L103.1,228.5 L100.4,229.4 L98.5,231.4 L98.3,234.6 L98.9,235.8 L98.9,238.4 L97.4,240.3 L95.1,242.2 L92.5,243.2 L90.2,244.1 L89.4,246.0 L87.9,249.2 L86.4,251.8 L85.7,254.3 L86.8,257.5 L87.6,258.5 L85.3,261.0 L84.5,263.3 L83.8,265.8 L81.9,266.1 L80.4,267.7 L79.4,270.3 L78.5,271.4 L75.8,271.6 L73.6,271.4 L70.2,271.6 L67.9,273.1Z M62.2,288.8 L63.0,282.4 L64.1,279.2 L64.9,277.3 L66.8,276.7 L68.6,280.5 L71.7,281.1 L75.5,280.8 L78.5,281.8 L81.1,280.5 L84.5,277.6 L87.2,276.7 L91.7,272.8 L95.1,272.2 L98.1,270.9 L101.9,270.3 L105.7,271.6 L109.5,269.6 L112.5,269.3 L116.3,270.3 L119.3,270.0 L121.6,268.4 L124.3,267.7 L125.8,269.0 L128.4,269.0 L126.5,271.6 L126.9,275.4 L127.3,277.3 L128.4,278.6 L128.8,281.1 L128.0,283.0 L127.7,288.8Z M65.2,186.4 L67.9,186.7 L70.9,184.5 L73.6,184.1 L74.3,182.6 L77.3,182.9 L79.6,182.2 L81.9,181.6 L83.8,181.9 L87.6,181.9 L90.6,180.6 L92.1,179.4 L92.1,178.1 L89.4,177.4 L90.2,176.5 L91.7,174.6 L93.4,171.4 L93.2,169.5 L91.7,167.9 L88.7,167.9 L87.6,168.8 L87.9,166.3 L87.2,164.4 L86.0,163.1 L86.4,160.5 L84.9,158.3 L82.3,157.0 L81.1,154.8 L80.7,151.0 L79.2,149.1 L77.0,148.4 L74.7,148.1 L77.0,146.5 L76.2,145.5 L77.7,143.3 L78.9,141.1 L80.0,138.9 L79.2,137.6 L75.5,137.6 L71.7,138.2 L72.4,136.6 L75.1,132.5 L73.9,131.5 L70.2,132.2 L67.9,131.8 L66.8,134.4 L66.4,136.3 L64.9,138.5 L66.0,140.8 L64.9,143.3 L63.3,144.0 L66.0,145.9 L65.6,149.1 L65.0,152.6 L66.2,150.0 L68.3,150.3 L69.4,151.6 L67.9,154.8 L67.5,156.7 L70.2,155.8 L73.2,155.1 L73.9,157.4 L73.2,158.6 L74.7,160.5 L75.8,162.8 L75.1,164.7 L73.2,165.6 L70.9,165.6 L69.0,165.6 L69.8,168.2 L71.3,168.8 L71.3,171.1 L69.8,173.3 L67.5,174.3 L67.1,175.9 L68.3,176.5 L70.5,176.2 L72.4,176.5 L74.7,177.4 L76.6,176.5 L75.5,178.4 L73.6,179.0 L70.9,179.0 L69.0,180.3 L67.9,182.9 L66.4,185.4Z M62.8,172.7 L60.3,173.3 L58.0,174.3 L55.4,175.2 L53.1,176.5 L49.7,177.4 L48.2,174.9 L47.8,173.3 L49.3,170.1 L50.9,169.5 L51.2,167.6 L49.3,165.6 L48.6,163.7 L49.3,161.2 L49.0,159.6 L52.0,159.3 L54.3,159.3 L53.9,157.0 L55.0,155.8 L55.4,153.8 L57.7,153.2 L58.8,152.4 L60.7,153.5 L63.3,153.5 L65.2,156.1 L66.0,158.6 L64.1,161.2 L63.2,163.1 L63.7,165.6 L64.1,167.9 L63.3,170.8Z M26.3,97.4 L30.1,96.1 L31.9,94.8 L33.8,92.9 L35.5,90.4 L35.4,87.8 L32.7,85.9 L31.6,83.7 L30.1,82.1 L26.3,81.4Z M52.6,53.7 L54.3,53.0 L56.5,51.8 L56.7,52.1 L54.6,53.4Z M58.0,108.9 L60.3,107.9 L63.0,108.2 L61.8,110.8 L60.7,114.0 L59.2,110.8Z M81.9,123.9 L83.0,121.6 L83.8,117.8 L82.6,118.4 L80.7,120.3 L81.5,122.9Z M73.9,129.9 L76.2,130.2 L77.7,128.0 L75.8,127.0 L74.3,128.3Z M58.4,141.4 L59.6,138.2 L60.7,136.3 L63.3,132.5 L62.2,135.7 L59.9,139.5Z M61.5,139.2 L63.3,137.6 L65.2,140.4 L63.3,141.1Z M95.7,253.4 L97.0,250.8 L98.9,251.1 L99.9,252.4 L98.9,254.6 L97.2,253.7Z M101.2,250.2 L103.1,251.1 L102.7,251.8 L101.4,251.1Z M91.3,257.2 L92.9,256.2 L92.5,257.8Z M122.4,231.4 L122.9,233.9 L122.4,237.7 L121.6,241.6 L120.1,240.3 L119.3,237.7 L119.1,235.2 L120.8,233.3Z M122.7,242.8 L123.9,244.8 L123.5,247.9 L123.1,251.1 L123.3,255.0 L121.2,255.6 L119.3,257.5 L118.6,256.2 L118.8,252.4 L119.0,248.6 L117.8,246.7 L118.2,244.8 L120.5,244.4 L121.6,242.5Z M133.7,264.5 L134.8,262.3 L137.1,262.0 L139.0,262.9 L142.0,262.9 L145.6,261.3 L144.3,265.2 L143.9,267.7 L144.7,269.6 L143.9,271.9 L141.7,270.9 L139.8,269.0 L136.7,266.4 L134.5,265.8Z M175.7,280.5 L177.6,278.9 L179.5,279.8 L183.3,280.2 L186.3,280.8 L185.9,282.4 L183.3,282.7 L180.6,282.7 L177.6,281.1 L175.7,281.1Z M209.0,282.4 L211.3,281.4 L213.5,280.2 L215.8,279.5 L217.7,277.9 L215.4,282.4 L213.9,282.7 L211.6,285.0 L209.4,284.0Z M191.6,275.4 L193.5,273.1 L192.7,276.0Z M173.8,257.2 L174.9,258.8 L177.6,261.0 L179.7,263.3 L178.3,261.0 L176.1,258.5 L174.2,256.9Z M184.6,255.0 L186.3,254.3 L187.4,256.6 L185.5,256.2Z M184.8,259.8 L185.7,259.4 L185.2,262.0Z M187.4,264.5 L188.9,264.9 L188.2,265.5Z M155.3,138.9 L157.5,136.0 L159.4,136.6 L157.9,140.1 L156.4,142.7 L155.3,140.8Z M148.8,147.1 L149.6,147.1 L151.5,139.8 L150.4,140.1Z M169.3,133.7 L170.0,131.8 L173.8,131.8 L174.9,133.7 L172.3,135.7 L170.0,136.0Z M170.8,129.9 L172.3,128.6 L173.8,130.2 L171.5,131.2Z M128.4,152.2 L129.2,153.5 L132.2,154.8 L134.1,153.5 L133.7,151.0 L134.5,148.4 L131.4,147.8 L128.4,149.1Z M123.7,151.6 L125.4,151.0 L127.7,152.9 L126.9,154.5 L124.6,154.2Z M128.4,155.8 L132.2,155.1 L132.2,157.4 L129.2,157.0Z M142.4,154.2 L143.9,153.5 L143.5,154.8Z M136.0,72.8 L139.8,70.3 L145.4,69.0 L146.6,67.4 L142.0,69.9 L138.2,71.5Z M160.9,122.3 L163.6,121.0 L163.2,122.6Z M182.7,268.7 L183.5,269.0 L183.3,270.0 L182.7,269.6Z M181.8,269.0 L182.3,269.0 L182.1,269.8Z M180.8,266.8 L181.2,266.4 L181.2,267.2Z M182.7,273.1 L183.1,273.1 L183.0,273.8Z M178.7,265.5 L179.1,265.2 L179.0,265.9Z M188.6,268.4 L189.1,268.7 L188.8,269.3Z M188.9,270.6 L190.3,270.3 L189.7,271.2Z M178.7,271.2 L179.5,271.0 L179.3,271.9Z M184.4,270.0 L185.2,270.2 L184.8,270.6Z M182.1,265.8 L182.9,265.5 L182.5,266.4Z M179.9,263.6 L181.0,263.9 L180.4,264.5Z M185.2,260.7 L185.5,261.0 L185.3,261.7Z M182.9,251.1 L183.6,250.8 L183.3,251.8Z M179.9,246.0 L180.4,246.4 L180.1,247.0Z M148.8,229.4 L150.7,229.8 L149.6,230.4Z M149.2,230.7 L151.9,231.0 L150.4,231.7Z M142.8,221.2 L144.3,223.1 L143.5,223.7Z M141.3,218.6 L142.0,219.9 L141.1,221.2Z M62.2,145.2 L64.1,144.6 L64.9,146.2 L63.0,146.5Z M63.3,149.1 L64.1,148.7 L63.7,151.0Z M60.3,142.7 L58.8,142.0 L59.2,143.6Z M196.9,242.8 L195.0,242.2 L192.7,240.3 L192.3,237.7 L191.2,234.6 L192.3,232.0 L192.7,230.1 L195.0,227.5 L195.2,223.7 L196.1,221.2 L199.2,218.6 L199.2,216.0 L201.0,213.5 L203.1,209.0 L204.8,208.4 L207.1,209.7 L209.7,211.6 L211.6,212.5 L209.7,216.0 L213.2,217.3 L213.9,221.2 L215.8,222.4 L217.3,221.2 L219.6,219.9 L220.7,218.6 L224.5,218.3 L226.0,218.6 L227.9,219.9 L229.8,221.2 L232.8,223.7 L237.0,227.5 L239.3,230.7 L241.9,232.6 L244.2,236.5 L244.2,240.3 L241.9,243.5 L239.3,244.1 L237.0,244.1 L232.1,244.4 L229.0,243.5 L226.8,242.8 L224.1,242.2 L222.6,239.7 L220.0,237.7 L215.4,237.7 L212.8,237.7 L209.0,239.7 L206.0,242.2 L202.2,242.8 L197.6,242.8Z M218.4,211.6 L220.3,210.3 L222.6,208.1 L226.0,207.4 L228.7,205.5 L231.3,205.2 L235.1,204.2 L234.0,207.1 L231.7,208.4 L230.2,210.9 L230.6,212.9 L229.8,214.1 L228.7,216.0 L226.0,216.0 L224.1,215.7 L221.1,216.7 L220.0,215.1 L218.4,212.9Z M187.8,247.9 L190.1,247.6 L192.3,247.9 L195.0,247.9 L196.5,247.6 L197.3,245.4 L196.1,243.8 L194.6,244.1 L192.0,244.4 L190.1,245.1 L188.6,246.7Z" fill="none" stroke="#000" stroke-width="1.2" stroke-linejoin="round"/>
<path d="M106.2,130.9 105.8,129.8 105.8,129.3 103.9,128.4 105.1,126.3 104.3,125.1 102.4,124.1 104.3,122.6 104.8,121.6 104.7,120.5 103.7,119.2 103.5,117.7 102.7,116.1 103.9,115.2 104.2,114.1 104.7,112.6 105.3,111.4 105.0,110.0 106.3,109.4 106.1,107.7 107.3,106.9 107.7,105.7 108.8,105.7 108.8,104.0 109.6,103.1 111.1,103.0 112.8,103.2 114.4,103.5 115.5,102.3 115.5,100.6 116.7,100.5 117.7,100.1 118.4,99.1 119.2,97.4 120.7,96.7 121.8,96.9 122.9,97.8 123.7,96.9 124.7,96.0 124.7,94.7 125.4,94.1 125.5,92.9 126.5,93.0 127.2,92.6 127.2,91.4 126.9,89.6 128.9,89.6 129.2,88.7 130.5,88.7 130.4,87.8 130.0,87.1 131.0,86.5 131.9,85.8 132.5,84.9 133.7,84.5 134.3,83.6 133.3,81.9 131.6,79.8 133.9,79.9 135.4,79.7 137.0,79.5 136.5,77.6 136.8,75.6 138.1,75.4 139.0,75.1 140.5,75.5 141.5,75.1 141.5,73.6 140.9,72.9 141.4,72.4 143.2,71.1 144.2,69.9 144.6,68.6 144.5,67.7 146.5,68.4 147.3,68.0 145.9,67.8 144.3,65.2 146.2,62.8 146.5,61.2 148.4,61.8 150.2,62.3 151.1,61.6 151.9,60.4 153.3,60.4 154.1,59.5 155.8,59.3 157.6,58.1 158.1,60.4 158.5,59.4 158.4,57.5 159.9,56.7 161.7,57.6 162.7,57.2 163.9,58.1 164.8,57.6 165.8,57.3 166.7,56.6 167.5,55.8 168.4,55.1 169.1,54.9 169.6,54.6 169.7,53.2 170.9,52.1 172.7,52.8 173.6,52.4 174.9,53.4 175.6,52.9 176.0,52.0 177.3,52.3 178.3,51.7 179.9,52.8 180.8,51.8 181.6,50.3 182.4,49.0 184.4,51.0 185.5,51.4 187.0,50.0 187.6,51.0 187.8,50.2 188.0,49.4 188.8,48.0 191.2,49.7 192.6,51.0 193.4,51.6 194.1,52.3 195.3,52.3 195.8,53.7 197.5,52.3 198.0,53.4 198.8,53.8 199.9,52.9 201.0,52.0 202.8,51.3 203.8,53.2 204.7,54.0 203.6,58.4 M106.6,130.9 106.8,129.5 106.0,129.2 104.3,128.2 104.5,126.4 104.6,125.1 105.7,123.6 105.0,122.5 105.1,121.5 103.8,120.6 103.9,119.2 103.7,117.7 104.3,116.3 103.9,115.2 102.8,114.2 103.1,112.5 102.8,110.8 103.8,109.5 105.1,108.5 106.9,108.5 107.7,107.6 108.0,106.2 108.3,104.9 109.3,104.6 109.5,103.0 110.8,102.6 112.5,102.7 113.9,102.8 115.9,102.8 117.0,102.6 117.2,101.2 117.1,99.4 117.6,98.2 119.1,97.2 120.8,97.1 122.0,97.5 122.6,97.3 122.8,96.1 122.4,93.7 124.4,94.4 124.9,93.6 125.5,92.9 126.0,92.6 126.6,92.2 127.4,91.5 127.9,90.3 128.7,89.4 129.8,89.3 131.7,89.9 132.0,88.9 129.9,87.1 130.9,86.5 130.8,85.2 131.5,84.3 132.4,83.7 132.5,82.6 132.2,81.3 132.9,80.6 135.2,80.8 136.0,80.1 137.3,79.7 137.5,78.5 138.2,77.4 139.5,77.4 139.7,75.9 140.4,75.3 141.4,74.9 141.2,73.2 142.1,73.6 141.5,72.4 142.4,70.6 143.5,68.8 144.4,68.3 145.3,68.5 145.8,68.0 145.8,67.8 145.5,68.0 145.7,65.6 146.5,63.1 148.3,63.7 149.8,63.9 150.0,62.0 150.2,60.0 151.9,60.4 153.8,61.3 155.0,61.3 155.9,60.1 157.3,59.5 158.0,59.9 158.8,59.9 158.8,58.0 159.6,56.0 161.6,57.0 162.7,57.5 163.8,57.8 164.5,56.1 165.5,55.7 166.7,56.6 168.1,57.7 168.9,56.8 168.9,54.6 170.1,55.4 170.7,54.7 171.6,53.7 172.5,52.2 173.5,52.2 174.9,53.8 175.3,52.3 176.2,52.3 177.1,51.8 178.2,51.5 179.8,52.6 180.5,50.0 181.3,48.9 182.4,49.0 184.4,48.4 186.0,50.0 186.6,51.0 187.8,50.5 187.8,51.1 188.8,52.3 189.7,50.9 191.2,50.6 192.6,51.1 193.9,50.1 194.8,50.6 196.5,49.5 196.7,51.6 198.0,51.0 198.3,52.4 199.0,52.1 200.0,52.0 201.1,51.5 202.3,52.8 203.4,54.0 204.6,54.2 203.6,58.4 M106.8,130.9 106.0,129.7 105.6,129.4 105.3,127.9 106.0,126.2 105.6,124.9 104.5,123.8 105.1,122.5 103.5,122.0 103.0,120.8 104.5,119.1 103.9,117.7 102.3,116.0 103.7,115.2 102.8,114.2 102.3,112.4 104.1,111.1 104.3,109.7 105.0,108.5 106.7,108.3 107.0,106.5 108.0,106.2 109.1,106.1 109.4,104.8 110.2,104.0 111.0,102.9 112.7,103.0 113.9,102.7 115.5,102.3 115.7,100.9 116.2,99.8 118.2,100.7 118.2,98.9 118.4,95.9 121.0,97.8 122.1,97.7 122.6,97.3 122.9,96.1 123.9,95.3 124.9,95.0 125.2,93.9 125.6,93.0 126.0,92.6 126.4,92.1 126.2,90.8 127.5,90.0 128.6,89.3 129.8,89.3 130.3,88.4 130.0,87.5 131.7,87.8 132.1,87.0 132.1,85.9 132.3,84.8 132.6,83.8 133.5,83.2 134.2,82.4 134.5,81.5 135.2,80.7 136.3,80.3 136.7,79.3 136.3,77.4 137.2,76.1 138.1,75.5 139.1,75.1 139.4,74.0 140.9,74.4 141.6,73.7 141.4,73.2 141.4,72.4 142.2,70.4 143.3,68.6 144.2,68.0 144.2,67.5 146.9,68.6 147.8,68.0 147.6,67.1 145.9,65.7 147.3,64.2 148.1,63.5 149.5,63.5 150.6,63.0 151.1,61.4 151.5,59.7 152.1,58.1 153.9,59.2 155.8,59.5 157.4,59.3 157.6,57.9 158.6,59.6 159.3,58.7 160.3,57.6 161.6,57.1 162.5,56.4 163.5,56.3 164.3,55.3 165.7,56.7 166.4,55.6 167.8,56.8 168.8,56.5 169.5,55.8 168.8,53.5 170.3,54.0 171.8,54.3 172.8,53.4 174.0,54.1 174.8,53.4 175.5,52.7 176.3,52.6 177.1,52.0 178.0,50.8 179.6,51.2 180.8,51.7 181.9,51.4 183.0,51.2 184.4,51.1 185.9,50.5 187.1,49.8 187.8,50.3 187.8,48.8 187.7,48.3 189.0,48.5 191.2,49.1 193.1,49.6 194.1,49.7 194.4,51.8 195.9,50.8 196.1,53.0 197.1,53.4 198.0,53.4 198.9,52.9 199.8,53.2 200.7,53.7 201.7,54.6 202.8,55.0 204.1,55.0 203.7,58.3 M105.7,130.9 104.1,130.1 105.5,129.5 104.1,128.3 105.5,126.3 103.8,125.2 104.5,123.8 104.5,122.6 103.7,121.9 102.9,120.8 102.8,119.3 103.4,117.7 103.8,116.3 102.9,115.1 102.7,114.2 103.1,112.5 102.8,110.8 103.5,109.3 104.3,107.9 106.1,107.6 106.7,106.0 107.4,105.1 108.7,105.5 110.2,105.9 111.0,105.1 111.7,104.0 112.6,102.8 113.4,102.0 115.2,102.0 116.5,101.9 116.8,100.7 117.0,99.3 117.6,98.2 119.5,97.8 121.0,97.7 121.8,96.7 122.2,96.7 122.0,95.3 124.4,95.7 124.4,94.4 125.3,94.0 125.9,93.3 127.1,93.5 127.7,92.8 127.0,91.3 129.3,91.4 128.5,89.2 128.9,88.3 129.5,87.6 130.5,87.9 130.5,87.3 131.3,86.6 131.5,85.6 131.6,84.4 131.7,83.3 133.7,83.3 134.6,82.7 134.4,81.4 133.6,79.8 135.1,79.6 135.6,78.7 135.5,76.7 137.0,75.8 138.7,76.3 139.7,75.9 140.2,75.1 140.4,73.7 141.9,74.0 141.1,72.9 141.3,72.4 143.5,71.3 144.8,70.7 144.9,69.0 144.6,67.9 146.6,68.4 147.3,68.0 146.9,67.4 144.4,65.2 147.0,63.7 147.1,62.1 149.4,63.3 150.3,62.5 151.2,61.7 152.4,61.2 153.4,60.6 154.2,59.6 155.7,58.7 157.4,59.4 158.2,60.7 159.2,60.5 160.0,59.7 160.6,58.4 161.8,58.0 162.8,57.8 163.7,57.0 164.6,56.5 165.6,56.4 166.4,55.5 167.1,54.8 168.0,54.0 169.9,56.6 170.5,55.9 170.7,54.6 170.9,52.2 172.7,53.1 173.7,53.1 174.4,51.8 175.0,51.4 176.6,53.1 176.9,51.5 178.5,52.3 179.6,51.2 180.5,49.8 181.4,49.3 182.5,49.3 184.4,50.1 185.4,51.8 186.7,50.9 187.6,51.0 187.8,50.6 188.5,51.0 189.5,50.5 191.2,48.4 193.3,48.9 194.0,50.0 194.6,51.0 195.6,51.7 196.5,52.1 197.2,53.1 198.0,53.6 199.0,52.2 200.2,50.8 200.9,52.4 202.0,53.6 203.4,54.0 204.3,54.7 204.2,57.3" fill="none" stroke="#000" stroke-width="1.2" stroke-linejoin="round"/><path d="M73.7,129.9 72.9,131.1 71.8,130.6 71.1,131.9 70.2,131.2 69.2,130.7 67.4,130.8 67.2,132.6 66.2,133.1 65.8,134.1 65.9,135.2 65.7,136.0 63.8,136.2 63.4,138.4 65.1,139.8 65.1,140.9 64.7,141.2 62.9,141.4 63.7,141.9 62.3,143.4 63.6,145.5 64.7,145.8 65.5,146.1 64.3,146.7 64.3,147.8 63.3,148.7 64.8,150.1 64.2,151.2 62.6,154.0 65.9,151.9 67.0,151.4 66.7,151.2 67.2,150.5 67.8,151.1 68.2,152.7 M49.3,177.7 47.1,177.8 48.4,176.0 48.1,174.9 47.6,173.3 46.6,171.4 46.8,170.2 49.0,169.7 49.7,168.2 50.0,168.3 49.3,168.3 50.1,166.8 49.2,165.7 48.8,164.8 47.0,163.7 48.4,162.3 48.5,161.2 48.0,159.2 49.9,159.0 51.0,159.1 51.9,158.3 53.1,157.7 53.0,158.2 53.0,158.3 52.3,156.4 54.1,155.2 53.9,154.5 54.4,153.6 M159.7,240.8 158.9,240.0 158.3,238.6 158.0,237.1 157.3,236.3 156.0,235.9 154.7,235.7 155.0,233.9 153.7,233.7 152.0,233.9 152.0,232.0 151.5,231.2 151.0,230.4 150.2,229.9 149.2,229.5 147.8,230.2 147.9,227.9 146.7,227.3 145.6,226.6 144.9,225.7 144.2,224.7 143.2,223.8 142.4,222.8 142.2,221.7 141.6,220.9 141.2,220.0 141.2,218.8 140.1,217.9 140.2,216.9 M186.1,248.9 185.5,250.9 185.3,248.9 185.5,248.0 185.1,246.0 187.2,246.7 186.9,247.6 185.5,247.3 184.8,246.4 183.4,247.9 183.0,245.8 182.2,245.2 181.3,246.0 180.4,246.1 179.8,246.7 178.6,246.5 177.3,246.3 179.4,247.3 177.9,248.0 178.0,248.2 176.6,248.4 177.4,248.3 175.6,249.3 179.0,251.2 176.2,251.4 175.1,250.9 176.8,249.7 174.3,249.2 174.0,247.9 173.3,248.6 173.2,248.1 173.9,248.4 175.5,249.2 174.1,250.1 174.1,250.9 174.1,251.9 175.0,252.4 174.7,253.7 175.8,255.0 174.8,256.4 173.6,256.8 173.2,257.8 173.7,257.8 174.5,258.7 175.9,258.1 176.2,259.2 177.0,259.8 177.6,260.8 178.9,261.7 179.3,263.3 176.5,264.2 178.0,266.5 176.8,264.4 175.9,263.5 174.6,264.3 176.2,266.8 175.2,267.8 174.8,266.5 174.8,267.5 174.9,268.6 174.7,269.7 175.0,270.6 175.3,271.6 174.9,272.4 173.8,272.4 173.5,271.6 172.1,272.4 170.9,271.8 172.2,274.7 171.0,272.4 169.1,272.2 170.2,271.2 168.8,271.1 168.5,269.9 166.9,269.0 167.3,267.7 167.8,266.5 168.1,265.8 167.3,265.5 166.4,264.3 167.2,263.1 167.7,261.9 167.4,260.1 168.2,261.2 167.3,261.0 166.4,260.7 M189.2,269.3 189.5,268.3 190.4,267.9 189.6,267.2 189.0,265.9 188.5,264.8 187.7,264.1 185.7,264.4 185.8,262.0 186.6,260.3 186.9,260.1 186.3,259.8 185.7,258.8 187.2,257.8 186.7,257.5 186.8,256.4 185.8,255.7 183.8,254.3 184.9,252.3 184.9,250.8 186.1,249.3 M204.0,60.1 204.9,60.1 205.9,60.2 206.6,58.2 208.0,59.6 208.9,60.2 210.0,60.2 211.2,60.1 211.2,61.6 211.9,62.0 212.7,61.5 213.5,62.3 214.4,62.5 215.4,62.2 216.4,61.7 217.5,61.8 218.4,62.6 219.4,63.4 220.4,63.6 221.4,63.5 222.7,62.3 223.6,62.7 224.3,63.7 225.0,64.8 225.8,65.4 226.8,65.5 227.7,65.5 228.6,65.9 230.2,65.1 230.7,66.3 231.0,67.9 232.0,68.1 233.0,68.3 234.3,67.1 234.7,68.4 235.4,69.1 236.4,69.1 238.4,68.8" fill="none" stroke="#000" stroke-width="1.0" stroke-linejoin="round"/>
</g>
<rect x="29.4" y="46.8" width="227.49999999999997" height="2.9" fill="#fff"/>
<rect x="29.4" y="278.70000000000005" width="227.49999999999997" height="2.9" fill="#fff"/>
<rect x="29.4" y="46.8" width="2.9" height="234.8" fill="#fff"/>
<rect x="253.99999999999997" y="46.8" width="2.9" height="234.8" fill="#fff"/>
<rect x="35.35" y="46.8" width="6.05" height="2.9" fill="#000"/>
<rect x="64.10" y="46.8" width="22.70" height="2.9" fill="#000"/>
<rect x="109.50" y="46.8" width="22.70" height="2.9" fill="#000"/>
<rect x="154.89" y="46.8" width="22.70" height="2.9" fill="#000"/>
<rect x="200.29" y="46.8" width="22.70" height="2.9" fill="#000"/>
<rect x="240.01" y="46.8" width="16.89" height="2.9" fill="#000"/>
<rect x="29.40" y="278.70000000000005" width="5.95" height="2.9" fill="#000"/>
<rect x="41.40" y="278.70000000000005" width="22.70" height="2.9" fill="#000"/>
<rect x="86.80" y="278.70000000000005" width="22.70" height="2.9" fill="#000"/>
<rect x="132.20" y="278.70000000000005" width="22.70" height="2.9" fill="#000"/>
<rect x="177.59" y="278.70000000000005" width="22.70" height="2.9" fill="#000"/>
<rect x="222.99" y="278.70000000000005" width="17.02" height="2.9" fill="#000"/>
<rect x="29.4" y="71.86" width="2.9" height="25.52" fill="#000"/>
<rect x="29.4" y="122.90" width="2.9" height="25.52" fill="#000"/>
<rect x="29.4" y="173.94" width="2.9" height="25.52" fill="#000"/>
<rect x="29.4" y="224.98" width="2.9" height="25.52" fill="#000"/>
<rect x="29.4" y="265.81" width="2.9" height="15.79" fill="#000"/>
<rect x="253.99999999999997" y="46.80" width="2.9" height="25.06" fill="#000"/>
<rect x="253.99999999999997" y="97.38" width="2.9" height="25.52" fill="#000"/>
<rect x="253.99999999999997" y="148.42" width="2.9" height="25.52" fill="#000"/>
<rect x="253.99999999999997" y="199.46" width="2.9" height="25.52" fill="#000"/>
<rect x="253.99999999999997" y="250.50" width="2.9" height="15.31" fill="#000"/>
<rect x="29.4" y="46.8" width="227.49999999999997" height="234.8" fill="none" stroke="#777" stroke-width="0.6"/>
<rect x="32.3" y="49.699999999999996" width="221.69999999999996" height="229.0" fill="none" stroke="#999" stroke-width="0.5"/>
<rect x="268.0" y="46.5" width="16.69999999999999" height="235.8" fill="#111"/>
<rect x="269.40" y="47.05" width="13.90" height="4.95" fill="#F0108C"/>
<rect x="269.40" y="53.10" width="13.90" height="4.95" fill="#F01880"/>
<rect x="269.40" y="59.14" width="13.90" height="4.95" fill="#F02070"/>
<rect x="269.40" y="65.19" width="13.90" height="4.95" fill="#F02860"/>
<rect x="269.40" y="71.23" width="13.90" height="4.95" fill="#F03050"/>
<rect x="269.40" y="77.28" width="13.90" height="4.95" fill="#F04040"/>
<rect x="269.40" y="83.33" width="13.90" height="4.95" fill="#F85030"/>
<rect x="269.40" y="89.37" width="13.90" height="4.95" fill="#F86028"/>
<rect x="269.40" y="95.42" width="13.90" height="4.95" fill="#F87020"/>
<rect x="269.40" y="101.47" width="13.90" height="4.95" fill="#F87820"/>
<rect x="269.40" y="107.51" width="13.90" height="4.95" fill="#F88818"/>
<rect x="269.40" y="113.56" width="13.90" height="4.95" fill="#F89818"/>
<rect x="269.40" y="119.60" width="13.90" height="4.95" fill="#F8A818"/>
<rect x="269.40" y="125.65" width="13.90" height="4.95" fill="#F8B818"/>
<rect x="269.40" y="131.70" width="13.90" height="4.95" fill="#F0C818"/>
<rect x="269.40" y="137.74" width="13.90" height="4.95" fill="#F0D018"/>
<rect x="269.40" y="143.79" width="13.90" height="4.95" fill="#F0D818"/>
<rect x="269.40" y="149.83" width="13.90" height="4.95" fill="#F0E000"/>
<rect x="269.40" y="155.88" width="13.90" height="4.95" fill="#F0E060"/>
<rect x="269.40" y="161.93" width="13.90" height="4.95" fill="#F5EB9A"/>
<rect x="269.40" y="167.97" width="13.90" height="4.95" fill="#FBF3CC"/>
<rect x="269.40" y="174.02" width="13.90" height="4.95" fill="#FFFFFF"/>
<rect x="269.40" y="180.07" width="13.90" height="4.95" fill="#8CECB0"/>
<rect x="269.40" y="186.11" width="13.90" height="4.95" fill="#10E060"/>
<rect x="269.40" y="192.16" width="13.90" height="4.95" fill="#00E010"/>
<rect x="269.40" y="198.20" width="13.90" height="4.95" fill="#00D840"/>
<rect x="269.40" y="204.25" width="13.90" height="4.95" fill="#10D868"/>
<rect x="269.40" y="210.30" width="13.90" height="4.95" fill="#20D098"/>
<rect x="269.40" y="216.34" width="13.90" height="4.95" fill="#20C8C4"/>
<rect x="269.40" y="222.39" width="13.90" height="4.95" fill="#18B8E8"/>
<rect x="269.40" y="228.43" width="13.90" height="4.95" fill="#20A8F0"/>
<rect x="269.40" y="234.48" width="13.90" height="4.95" fill="#1890F8"/>
<rect x="269.40" y="240.53" width="13.90" height="4.95" fill="#1878F8"/>
<rect x="269.40" y="246.57" width="13.90" height="4.95" fill="#1060F8"/>
<rect x="269.40" y="252.62" width="13.90" height="4.95" fill="#1048F0"/>
<rect x="269.40" y="258.67" width="13.90" height="4.95" fill="#4038F0"/>
<rect x="269.40" y="264.71" width="13.90" height="4.95" fill="#6828E8"/>
<rect x="269.40" y="270.76" width="13.90" height="4.95" fill="#9010E0"/>
<rect x="269.40" y="276.80" width="13.90" height="4.95" fill="#C000D8"/>
<text transform="translate(291.2,63.3) scale(1,1.2)" class="cb">0.5</text>
<text transform="translate(291.2,87.5) scale(1,1.2)" class="cb">0.4</text>
<text transform="translate(291.2,111.7) scale(1,1.2)" class="cb">0.3</text>
<text transform="translate(291.2,135.9) scale(1,1.2)" class="cb">0.2</text>
<text transform="translate(291.2,160.1) scale(1,1.2)" class="cb">0.1</text>
<text transform="translate(291.4,184.3) scale(1,1.2)" class="cb">0</text>
<text transform="translate(286.3,208.5) scale(1,1.2)" class="cb">-0.1</text>
<text transform="translate(286.3,232.7) scale(1,1.2)" class="cb">-0.2</text>
<text transform="translate(286.3,256.9) scale(1,1.2)" class="cb">-0.3</text>
<text transform="translate(286.3,281.1) scale(1,1.2)" class="cb">-0.4</text>
<text transform="translate(319.2,163.3) rotate(-90)" text-anchor="middle" class="cbl">correlation coefficient</text>
<text transform="translate(27.2,51.2) scale(1,1.17)" text-anchor="end" class="ax">72<tspan class="deg" dy="-3.5">o</tspan><tspan dy="3.5">N</tspan></text>
<text transform="translate(27.2,102.3) scale(1,1.17)" text-anchor="end" class="ax">64<tspan class="deg" dy="-3.5">o</tspan><tspan dy="3.5">N</tspan></text>
<text transform="translate(27.2,153.3) scale(1,1.17)" text-anchor="end" class="ax">56<tspan class="deg" dy="-3.5">o</tspan><tspan dy="3.5">N</tspan></text>
<text transform="translate(27.2,204.4) scale(1,1.17)" text-anchor="end" class="ax">48<tspan class="deg" dy="-3.5">o</tspan><tspan dy="3.5">N</tspan></text>
<text transform="translate(27.2,255.4) scale(1,1.17)" text-anchor="end" class="ax">40<tspan class="deg" dy="-3.5">o</tspan><tspan dy="3.5">N</tspan></text>
<text transform="translate(42.4,293.2) scale(1,1.17)" text-anchor="middle" class="ax">12<tspan class="deg" dy="-3.5">o</tspan><tspan dy="3.5">W</tspan></text>
<text transform="translate(87.8,293.2) scale(1,1.17)" text-anchor="middle" class="ax">0<tspan class="deg" dy="-3.5">o</tspan><tspan dy="3.5"></tspan></text>
<text transform="translate(133.2,293.2) scale(1,1.17)" text-anchor="middle" class="ax">12<tspan class="deg" dy="-3.5">o</tspan><tspan dy="3.5">E</tspan></text>
<text transform="translate(178.6,293.2) scale(1,1.17)" text-anchor="middle" class="ax">24<tspan class="deg" dy="-3.5">o</tspan><tspan dy="3.5">E</tspan></text>
<text transform="translate(224.0,293.2) scale(1,1.17)" text-anchor="middle" class="ax">36<tspan class="deg" dy="-3.5">o</tspan><tspan dy="3.5">E</tspan></text>
<text text-anchor="middle" class="pl" transform="translate(160.5,322.3) scale(1,1.03)" x="0" y="0">(<tspan font-weight="bold">c</tspan>)</text>
</g>
</svg></body></html>
